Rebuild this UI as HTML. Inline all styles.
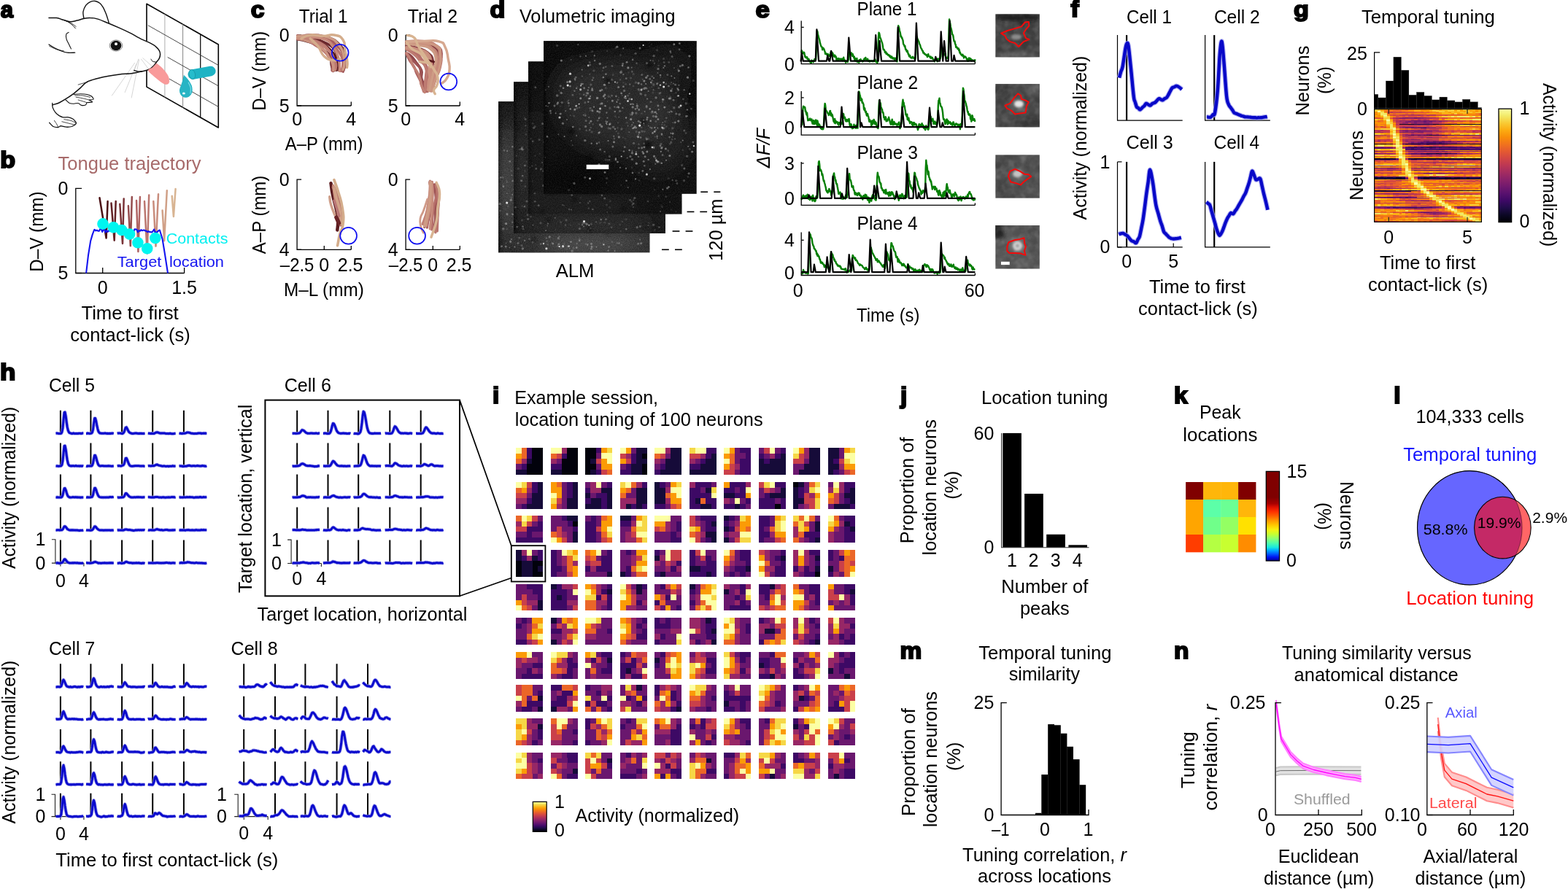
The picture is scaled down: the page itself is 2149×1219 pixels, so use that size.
<!DOCTYPE html>
<html lang="en"><head><meta charset="utf-8"><title>Figure</title>
<style>html,body{margin:0;padding:0;background:#fff}svg{display:block}text{font-family:"Liberation Sans", sans-serif}</style>
</head><body>
<svg xmlns="http://www.w3.org/2000/svg" width="2149" height="1219" viewBox="0 0 2149 1219" font-size="25">
<defs><filter id="blur8" x="-50%" y="-50%" width="200%" height="200%"><feGaussianBlur stdDeviation="13"/></filter>
<filter id="blur2" x="-50%" y="-50%" width="200%" height="200%"><feGaussianBlur stdDeviation="2.5"/></filter>
<filter id="blur05" x="-10%" y="-10%" width="120%" height="120%"><feGaussianBlur stdDeviation="0.6"/></filter>
<filter id="grain" x="0" y="0" width="100%" height="100%"><feTurbulence type="fractalNoise" baseFrequency="0.75" numOctaves="2" seed="4" result="n"/><feColorMatrix type="matrix" values="0 0 0 0 1  0 0 0 0 1  0 0 0 0 1  0.9 0.9 0 0 -0.62"/></filter>
<clipPath id="mc4"><rect x="683" y="139.2" width="207.7" height="207.4"/></clipPath>
<clipPath id="mc3"><rect x="704" y="112.2" width="208" height="207.8"/></clipPath>
<clipPath id="mc2"><rect x="724" y="84.3" width="210.7" height="209.4"/></clipPath>
<clipPath id="mc1"><rect x="745" y="56.4" width="209.7" height="209.4"/></clipPath>
<filter id="blur3" x="-50%" y="-50%" width="200%" height="200%"><feGaussianBlur stdDeviation="2.6"/></filter>
<filter id="blur15" x="-50%" y="-50%" width="200%" height="200%"><feGaussianBlur stdDeviation="1.6"/></filter>
<filter id="blotch" x="0" y="0" width="100%" height="100%"><feTurbulence type="fractalNoise" baseFrequency="0.11" numOctaves="2" seed="7"/><feColorMatrix type="matrix" values="0 0 0 0 1  0 0 0 0 1  0 0 0 0 1  1.6 0 0 0 -0.62"/></filter>
<filter id="blotchd" x="0" y="0" width="100%" height="100%"><feTurbulence type="fractalNoise" baseFrequency="0.09" numOctaves="2" seed="23"/><feColorMatrix type="matrix" values="0 0 0 0 0  0 0 0 0 0  0 0 0 0 0  0 1.6 0 0 -0.62"/></filter>
<clipPath id="ci0"><rect x="1364.2" y="19.2" width="60.7" height="59.4"/></clipPath>
<clipPath id="ci1"><rect x="1364.2" y="115.1" width="60.7" height="59.5"/></clipPath>
<clipPath id="ci2"><rect x="1364.2" y="212.2" width="60.7" height="59.6"/></clipPath>
<clipPath id="ci3"><rect x="1364.2" y="309" width="60.7" height="59.7"/></clipPath>
<linearGradient id="inferno" x1="0" y1="0" x2="0" y2="1"><stop offset="0%" stop-color="#fcffa4"/><stop offset="6.2%" stop-color="#f2ea69"/><stop offset="12.5%" stop-color="#f9cb35"/><stop offset="18.8%" stop-color="#fcac11"/><stop offset="25%" stop-color="#f98e09"/><stop offset="31.2%" stop-color="#f1731d"/><stop offset="37.5%" stop-color="#e45a31"/><stop offset="43.8%" stop-color="#d24644"/><stop offset="50%" stop-color="#bc3754"/><stop offset="56.2%" stop-color="#a32c61"/><stop offset="62.5%" stop-color="#8a226a"/><stop offset="68.8%" stop-color="#71196e"/><stop offset="75%" stop-color="#57106e"/><stop offset="81.2%" stop-color="#3d0965"/><stop offset="87.5%" stop-color="#210c4a"/><stop offset="93.8%" stop-color="#0b0724"/><stop offset="100%" stop-color="#000004"/></linearGradient>
<path id="mt1" d="M76.5 594.2l1.1 -0.1 1 0 1.1 0.3 1 0 1.1 0.1 1 -0.1 1.1 -0.1 1 -1.8 1.1 -5.5 1 -11.3 1.1 -10.1 1 -0.4 1.1 5.6 1 7.9 1 6.8 1.1 4.7 1.1 2.4 1 1 1.1 0.3 1 0.4 1 0.3 1.1 -0.2 1.1 -0.4 1 0.4 1.1 0.1 1 -0.1 1 0 1.1 0 1.1 0.1 1 -0.2 1.1 0 1 0 1.1 0.2 1 -0.2 1 -0.3 1.1 0M118 594.4l1.1 0 1 -0.4 1.1 0.2 1 0.2 1 0 1.1 -0.1 1.1 -0.3 1 -1 1.1 -4.1 1 -7.8 1.1 -7.5 1 -0.1 1.1 3.9 1 5.4 1.1 5 1 3.6 1 1.6 1.1 0.9 1.1 0.1 1 0.2 1.1 0 1 0.1 1.1 0 1 -0.2 1 -0.1 1.1 0.2 1 0.2 1.1 -0.1 1 0.1 1.1 0.1 1.1 -0.2 1 0.2 1.1 -0.2 1 -0.2 1.1 0.1 1 0.2M160.7 594.2l1.1 -0.2 1 0 1 -0.1 1.1 0.2 1 0.2 1.1 0.1 1 0 1.1 -0.6 1.1 -1.7 1 -3 1 -2.8 1.1 -0.4 1 1.8 1.1 2.3 1 1.9 1.1 1.1 1 0.6 1.1 0.4 1.1 0.4 1 0.1 1.1 -0.1 1 -0.1 1 -0.2 1.1 0 1 -0.1 1.1 0.2 1 0.2 1.1 0 1 -0.1 1.1 0.1 1 -0.2 1.1 0.3 1 -0.1 1.1 0.1 1 -0.1 1.1 -0.1M202.8 594.1l1 0.1 1.1 0.1 1 0.2 1.1 -0.1 1 -0.1 1.1 0.1 1 0 1.1 0.1 1 -0.6 1.1 -0.6 1 -0.4 1.1 -0.1 1 0.2 1.1 0.4 1 0.4 1.1 0.3 1 0 1.1 0 1.1 -0.1 1 0 1 0 1.1 0.1 1 0.3 1.1 0.2 1 -0.2 1.1 0.2 1 0 1.1 -0.1 1 -0.2 1.1 0.3 1 0.1 1.1 0 1 0 1.1 -0.1 1 -0.2 1.1 -0.1M245.5 594l1.1 0.2 1 0 1.1 0.2 1 0.1 1.1 -0.3 1 0 1 0.1 1.1 -0.2 1.1 -0.4 1 -0.5 1.1 -0.3 1 0.2 1 0.1 1.1 0.2 1 0.5 1.1 0.3 1.1 0 1 0.2 1 0.1 1.1 0.1 1.1 -0.2 1 0.1 1 0 1.1 -0.2 1.1 -0.2 1 -0.1 1.1 0 1 0 1 0.4 1.1 -0.1 1.1 -0.1 1 -0.1 1 0.1 1.1 -0.1 1 0.1 1.1 0M76.5 638.9l1.1 0.1 1 -0.1 1.1 0.4 1 0 1.1 -0.3 1 0 1.1 -0.3 1 -1.3 1.1 -5.5 1 -10.6 1.1 -9.8 1 -0.2 1.1 5.2 1 7.6 1 6.7 1.1 4.8 1.1 2.1 1 0.9 1.1 0.3 1 -0.1 1 0.1 1.1 -0.2 1.1 0.1 1 0.2 1.1 0 1 -0.5 1 0.4 1.1 0.1 1.1 0 1 -0.1 1.1 0.3 1 -0.4 1.1 0.4 1 -0.3 1 0 1.1 0.2M118 639.1l1.1 0.3 1 -0.5 1.1 0 1 0 1 0.1 1.1 -0.1 1.1 0.1 1 -0.9 1.1 -3.2 1 -5.3 1.1 -5.2 1 0 1.1 3 1 3.9 1.1 3.6 1 2.4 1 1.1 1.1 0.5 1.1 0 1 -0.1 1.1 0 1 0 1.1 0.2 1 0 1 0 1.1 0 1 0.1 1.1 -0.2 1 -0.2 1.1 0.3 1.1 -0.1 1 0.2 1.1 0.1 1 0 1.1 -0.1 1 -0.1M160.7 639l1.1 -0.2 1 -0.2 1 0.2 1.1 0.2 1 0 1.1 -0.4 1 -0.4 1.1 -0.4 1.1 -1.8 1 -3.8 1 -3.8 1.1 -0.2 1 2.1 1.1 2.9 1 2.6 1.1 2 1 1 1.1 0.3 1.1 0.1 1 0 1.1 -0.1 1 -0.1 1 -0.2 1.1 0 1 0 1.1 0 1 -0.1 1.1 0 1 0.2 1.1 0.1 1 0.1 1.1 0 1 -0.1 1.1 -0.1 1 0.3 1.1 0M202.8 638.8l1 -0.1 1.1 0 1 0.2 1.1 0 1 -0.1 1.1 0 1 0 1.1 -0.1 1 -0.5 1.1 -0.5 1 -0.5 1.1 -0.2 1 0.6 1.1 0.4 1 0.3 1.1 0.2 1 0.2 1.1 0.3 1.1 0.2 1 -0.1 1 0 1.1 0 1 0.3 1.1 0 1 -0.2 1.1 0 1 0.4 1.1 -0.3 1 0 1.1 -0.1 1 0.1 1.1 -0.5 1 0.1 1.1 0.4 1 -0.2 1.1 -0.1M245.5 639l1.1 -0.1 1 0.1 1.1 0 1 0.4 1.1 -0.1 1 0.1 1 -0.1 1.1 -0.1 1.1 0 1 -0.1 1.1 -0.5 1 -0.1 1 -0.2 1.1 0.1 1 0.3 1.1 0.2 1.1 0 1 -0.1 1 -0.1 1.1 0.1 1.1 0.3 1 -0.2 1 -0.2 1.1 -0.2 1.1 0.2 1 0.2 1.1 0.1 1 0.1 1 -0.1 1.1 -0.4 1.1 0.1 1 0.2 1 -0.1 1.1 0.5 1 -0.1 1.1 -0.3M76.5 681.8l1.1 0.1 1 -0.1 1.1 0.1 1 0.2 1.1 -0.1 1 0 1.1 -0.1 1 -0.6 1.1 -2.4 1 -4.9 1.1 -4.3 1 -0.1 1.1 2.4 1 3.4 1 3.1 1.1 2.1 1.1 0.8 1 0.5 1.1 0.2 1 0 1 -0.2 1.1 -0.3 1.1 0.1 1 0 1.1 0.2 1 -0.3 1 0.3 1.1 -0.1 1.1 0.1 1 0.1 1.1 -0.1 1 0.3 1.1 -0.2 1 0.1 1 -0.1 1.1 0M118 681.9l1.1 0.1 1 -0.2 1.1 0.1 1 0.1 1 -0.1 1.1 -0.1 1.1 -0.2 1 -0.5 1.1 -2.5 1 -4.8 1.1 -4.4 1 -0.1 1.1 2.3 1 3.4 1.1 2.9 1 2 1 1.3 1.1 0.4 1.1 0.3 1 0 1.1 0.1 1 0.1 1.1 0 1 -0.2 1 0.2 1.1 -0.1 1 -0.1 1.1 0.1 1 -0.1 1.1 0 1.1 -0.4 1 0.1 1.1 0.1 1 -0.1 1.1 0 1 -0.2M160.7 682.1l1.1 -0.1 1 0.2 1 0 1.1 -0.3 1 0.2 1.1 -0.1 1 -0.2 1.1 -0.1 1.1 -1.1 1 -2.3 1 -1.8 1.1 0.1 1 1 1.1 1.4 1 1.1 1.1 0.9 1 0.5 1.1 0.4 1.1 0 1 0.1 1.1 0 1 -0.2 1 -0.1 1.1 0.2 1 -0.2 1.1 -0.1 1 0.2 1.1 -0.2 1 0.2 1.1 -0.1 1 0 1.1 0.2 1 0.1 1.1 -0.3 1 0.1 1.1 0.1M202.8 681.6l1 0 1.1 0.1 1 0.1 1.1 0.1 1 0.1 1.1 -0.3 1 0.3 1.1 0 1 -0.4 1.1 0 1 -0.2 1.1 0.1 1 0 1.1 0.5 1 -0.1 1.1 0.1 1 0 1.1 0.2 1.1 -0.4 1 0 1 0.3 1.1 0 1 0.2 1.1 -0.2 1 -0.2 1.1 0 1 -0.1 1.1 0.1 1 0 1.1 -0.1 1 -0.2 1.1 0 1 0.2 1.1 -0.2 1 0.3 1.1 -0.2M245.5 681.9l1.1 -0.1 1 0.1 1.1 0.1 1 0 1.1 0.1 1 -0.3 1 0 1.1 0.1 1.1 -0.1 1 -0.2 1.1 0.2 1 0 1 0 1.1 -0.3 1 0.2 1.1 0.1 1.1 0 1 0.1 1 0.4 1.1 -0.1 1.1 -0.2 1 -0.2 1 0.2 1.1 -0.2 1.1 0.1 1 0 1.1 -0.4 1 0 1 0.4 1.1 0.1 1.1 -0.2 1 -0.3 1 0.2 1.1 0 1 0 1.1 -0.1M76.5 726.8l1.1 0.1 1 -0.1 1.1 0 1 0 1.1 0.3 1 -0.3 1.1 0 1 -0.1 1.1 -0.9 1 -1.9 1.1 -2 1 -0.2 1.1 0.9 1 1.3 1 1.5 1.1 0.6 1.1 0.6 1 0.3 1.1 0 1 -0.1 1 0.2 1.1 -0.2 1.1 0.2 1 -0.1 1.1 0.2 1 -0.1 1 0.1 1.1 0 1.1 0.1 1 0.2 1.1 0.1 1 -0.3 1.1 0 1 0 1 0 1.1 -0.2M118 726.8l1.1 0.2 1 0 1.1 0 1 0.1 1 0.1 1.1 0.1 1.1 -0.2 1 -0.4 1.1 -1.2 1 -1.7 1.1 -1.8 1 -0.1 1.1 1 1 1.5 1.1 0.9 1 0.9 1 0.4 1.1 0.4 1.1 0 1 -0.1 1.1 0.2 1 0 1.1 0.1 1 -0.1 1 0 1.1 0 1 -0.1 1.1 0.1 1 -0.1 1.1 0 1.1 0.1 1 0.1 1.1 -0.2 1 0.1 1.1 0 1 -0.1M160.7 726.9l1.1 -0.1 1 0.1 1 0 1.1 0 1 0 1.1 0.2 1 0 1.1 0 1.1 -0.4 1 -0.6 1 -0.2 1.1 0.2 1 0.2 1.1 0.3 1 0 1.1 -0.1 1 0.1 1.1 0.3 1.1 0.1 1 0.2 1.1 0.2 1 0 1 -0.2 1.1 -0.4 1 0.2 1.1 -0.1 1 -0.1 1.1 -0.1 1 0.2 1.1 -0.1 1 0 1.1 0.1 1 -0.1 1.1 0 1 -0.1 1.1 0.4M202.8 726.9l1 0.1 1.1 -0.1 1 -0.1 1.1 0 1 0.2 1.1 -0.2 1 0.1 1.1 0.2 1 -0.4 1.1 -0.4 1 -0.6 1.1 -0.1 1 0.4 1.1 0.3 1 0.3 1.1 0.2 1 0 1.1 -0.2 1.1 0.4 1 0.1 1 -0.2 1.1 -0.3 1 0 1.1 -0.2 1 0.1 1.1 0.3 1 0.3 1.1 -0.1 1 0.1 1.1 -0.1 1 -0.1 1.1 -0.1 1 0.2 1.1 -0.3 1 0.1 1.1 0M245.5 726.8l1.1 0.1 1 -0.1 1.1 0.2 1 -0.2 1.1 0.1 1 0 1 0 1.1 0.3 1.1 -0.3 1 -0.2 1.1 0 1 -0.1 1 0.2 1.1 0.2 1 0 1.1 0 1.1 -0.2 1 0.1 1 0.2 1.1 0 1.1 -0.1 1 -0.4 1 0.1 1.1 0.2 1.1 0 1 0.1 1.1 -0.1 1 0 1 -0.4 1.1 0.2 1.1 0 1 -0.2 1 0.2 1.1 0.1 1 0 1.1 0M76.5 772.1l1.1 0 1 -0.3 1.1 0.2 1 0.3 1.1 0.1 1 -0.4 1.1 -0.2 1 -0.2 1.1 -1 1 -1.7 1.1 -1.9 1 -0.2 1.1 1.1 1 1.4 1 1.1 1.1 0.9 1.1 0.3 1 0.4 1.1 0 1 0 1 -0.1 1.1 -0.1 1.1 0.2 1 -0.3 1.1 0 1 0.2 1 0 1.1 -0.1 1.1 0.3 1 0.1 1.1 -0.1 1 0.2 1.1 0 1 -0.1 1 0 1.1 -0.2M118 771.8l1.1 0 1 0.3 1.1 -0.2 1 0.2 1 0.1 1.1 -0.2 1.1 0 1 -0.2 1.1 -0.2 1 -0.6 1.1 -0.4 1 -0.2 1.1 0.4 1 0.4 1.1 0.4 1 0.6 1 -0.1 1.1 0 1.1 0.1 1 0 1.1 -0.2 1 0 1.1 0 1 -0.2 1 0.1 1.1 0.2 1 0 1.1 0 1 -0.2 1.1 0 1.1 -0.1 1 0.2 1.1 -0.2 1 0.1 1.1 0 1 -0.1M160.7 772.2l1.1 0 1 0 1 -0.4 1.1 0.1 1 0.3 1.1 0.2 1 -0.2 1.1 -0.1 1.1 -0.1 1 -0.8 1 -0.7 1.1 -0.2 1 0.4 1.1 0.6 1 0.2 1.1 0.2 1 0 1.1 0.1 1.1 0.2 1 0.3 1.1 -0.3 1 0.1 1 0 1.1 -0.2 1 -0.1 1.1 0.2 1 0 1.1 -0.2 1 0.2 1.1 0.3 1 0 1.1 0.2 1 -0.4 1.1 0 1 0.1 1.1 0.3M202.8 771.9l1 0 1.1 0.1 1 0 1.1 -0.1 1 0.1 1.1 0.1 1 0 1.1 -0.1 1 0 1.1 0 1 -0.2 1.1 0 1 0 1.1 0.1 1 0 1.1 0.1 1 0.1 1.1 0 1.1 -0.2 1 0 1 0.1 1.1 -0.2 1 -0.1 1.1 -0.3 1 0.2 1.1 0.2 1 0.1 1.1 -0.1 1 0.3 1.1 0.1 1 -0.3 1.1 0 1 -0.2 1.1 0.4 1 0 1.1 0M245.5 771.8l1.1 0.1 1 -0.1 1.1 -0.3 1 0.4 1.1 -0.1 1 0 1 0 1.1 -0.3 1.1 0 1 -0.4 1.1 -0.3 1 0.2 1 0.1 1.1 0.2 1 0.2 1.1 0.2 1.1 0 1 0 1 0.2 1.1 0.1 1.1 -0.1 1 -0.3 1 0 1.1 0.3 1.1 0.1 1 -0.1 1.1 0 1 0.2 1 0 1.1 0 1.1 0.2 1 0 1 -0.1 1.1 0.2 1 -0.1 1.1 -0.2"/>
<path id="mt2" d="M400.6 594.2l1 0 1.1 0.1 1 0 1.1 0 1 0.1 1 -0.2 1.1 0 1 -0.1 1.1 -0.2 1 -0.5 1.1 -1.3 1 -1.4 1 -1.1 1.1 0.3 1 0.4 1.1 1 1 0.9 1 1.1 1.1 0.4 1 0.5 1.1 0.1 1 0 1.1 -0.1 1 -0.1 1 0 1.1 -0.1 1 0.2 1.1 0 1 0.1 1 0 1.1 -0.2 1 0 1.1 0.3 1 -0.1 1.1 -0.2 1 0.1M442.9 594.2l1 0 1.1 -0.1 1 0 1.1 0.1 1 0.3 1 0.1 1.1 -0.1 1 0 1.1 -1 1 -2 1.1 -3.7 1 -4.4 1 -2.8 1.1 0.4 1 1.8 1.1 2.8 1 2.9 1 2.4 1.1 1.5 1 1 1.1 0.5 1 0.2 1.1 0.3 1 -0.2 1 0 1.1 -0.1 1 -0.1 1.1 0.3 1 -0.1 1 0 1.1 0.3 1 0 1.1 0 1 -0.2 1.1 -0.1 1 0.3M484.6 594.3l1 0.2 1.1 0 1 -0.1 1.1 0.1 1 0.3 1 0.1 1.1 -0.4 1 -0.7 1.1 -1.7 1 -4.3 1.1 -8.2 1 -9.5 1 -5.8 1.1 1 1 4 1.1 6 1 6.1 1 5.4 1.1 3.5 1 2.2 1.1 1.1 1 0.5 1.1 0.1 1 0.3 1 -0.1 1.1 0 1 -0.1 1.1 -0.2 1 0.2 1.1 0 1 0 1 0 1.1 -0.1 1 0 1.1 0.1 1 -0.1M527.7 594.1l1 -0.1 1.1 0.2 1 0.1 1.1 -0.1 1 0.3 1 -0.2 1.1 0.2 1 -0.2 1.1 -0.3 1 -1.5 1.1 -2.7 1 -3.2 1 -1.9 1.1 0.6 1 1.4 1.1 1.8 1 1.8 1 1.7 1.1 1 1 0.7 1.1 0.5 1 -0.1 1.1 0 1 0.1 1 -0.1 1.1 -0.2 1 0.1 1.1 0.2 1 -0.1 1 0.4 1.1 -0.1 1 -0.2 1.1 -0.1 1 0 1.1 0.2 1 0.1M570.1 594.4l1 -0.1 1.1 0.1 1 0 1.1 0.1 1 -0.1 1.1 0 1 0 1 -0.2 1.1 -0.4 1 -1.4 1.1 -2.1 1 -2.8 1 -1.4 1.1 0.2 1 1.3 1.1 1.5 1 1.6 1.1 1.4 1 0.9 1 0.7 1.1 0.2 1 0.3 1.1 -0.2 1 0.1 1 0.1 1.1 0.3 1 0 1.1 -0.4 1 0 1.1 0.2 1 0.1 1 0.2 1.1 -0.3 1 0.2 1.1 0 1 -0.2M400.6 639.2l1 -0.1 1.1 0.1 1 0 1.1 -0.1 1 0.1 1 -0.3 1.1 0.1 1 -0.3 1.1 -0.2 1 -0.4 1.1 -1.2 1 -0.7 1 -0.4 1.1 0 1 0.5 1.1 0.6 1 0.7 1 0.6 1.1 0.2 1 0.3 1.1 0 1 0 1.1 -0.1 1 0.1 1 0.2 1.1 0.1 1 0.2 1.1 0.1 1 0.4 1 -0.1 1.1 -0.1 1 0.1 1.1 -0.2 1 -0.6 1.1 0.1 1 0M442.9 638.9l1 0 1.1 0.1 1 0.3 1.1 -0.4 1 0.2 1 0 1.1 -0.2 1 0.2 1.1 -0.4 1 -1.1 1.1 -1.9 1 -2 1 -1.4 1.1 0.3 1 1 1.1 1.5 1 1.2 1 1.2 1.1 0.8 1 0.3 1.1 0.3 1 0.1 1.1 0 1 -0.2 1 0.1 1.1 0.1 1 0.2 1.1 -0.1 1 0 1 0.2 1.1 0 1 -0.2 1.1 0 1 -0.1 1.1 0 1 -0.1M484.6 639.2l1 0 1.1 -0.1 1 0 1.1 -0.1 1 -0.2 1 0.2 1.1 -0.2 1 -0.2 1.1 -0.7 1 -2 1.1 -3.9 1 -4.4 1 -3.2 1.1 0.4 1 1.9 1.1 2.9 1 3 1 2.5 1.1 1.8 1 1 1.1 0.8 1 0.4 1.1 -0.2 1 -0.1 1 0.1 1.1 0.1 1 0.1 1.1 0 1 -0.2 1.1 0.3 1 -0.1 1 0 1.1 -0.1 1 0 1.1 0.1 1 0.1M527.7 639l1 -0.2 1.1 -0.2 1 0 1.1 0.1 1 -0.1 1 0.1 1.1 0.2 1 0.1 1.1 0.2 1 -0.6 1.1 -0.9 1 -1.5 1 -1.2 1.1 0.3 1 0.3 1.1 0.9 1 0.8 1 0.8 1.1 0.3 1 0.4 1.1 0.2 1 0.2 1.1 0 1 -0.1 1 -0.3 1.1 0.4 1 -0.1 1.1 -0.2 1 0.1 1 0.2 1.1 0.1 1 -0.2 1.1 -0.2 1 -0.2 1.1 0.2 1 0.2M570.1 639l1 0 1.1 -0.1 1 0.1 1.1 0 1 0.1 1.1 0.1 1 -0.3 1 -0.3 1.1 -0.6 1 -0.9 1.1 -0.7 1 0.3 1 0.5 1.1 0.5 1 0.5 1.1 0.5 1 -0.1 1.1 -0.6 1 -0.8 1 -0.4 1.1 0.1 1 0.6 1.1 0.8 1 0.4 1 0.3 1.1 -0.2 1 0 1.1 -0.1 1 0 1.1 0.2 1 0.2 1 0 1.1 0 1 0.1 1.1 -0.1 1 0M400.6 682.1l1 -0.2 1.1 0 1 0.2 1.1 -0.1 1 -0.1 1 0 1.1 0 1 -0.2 1.1 -0.2 1 0.1 1.1 -0.6 1 -0.7 1 -0.4 1.1 -0.1 1 0.2 1.1 0.3 1 0.3 1 1 1.1 0.4 1 0.1 1.1 -0.4 1 0.2 1.1 -0.2 1 0 1 0.2 1.1 0 1 0 1.1 0.1 1 0.1 1 0 1.1 -0.1 1 -0.3 1.1 0.1 1 0.1 1.1 -0.4 1 0.1M442.9 682.1l1 0.1 1.1 -0.4 1 0 1.1 0.2 1 0.1 1 -0.1 1.1 0 1 -0.1 1.1 0.1 1 -0.6 1.1 -0.9 1 -0.5 1 -0.3 1.1 -0.2 1 0.6 1.1 0.6 1 0.6 1 0.3 1.1 0.1 1 0.3 1.1 0.2 1 -0.3 1.1 0.1 1 0.3 1 -0.1 1.1 -0.1 1 -0.2 1.1 -0.2 1 0.1 1 0.1 1.1 0.2 1 -0.2 1.1 -0.1 1 0 1.1 -0.1 1 0.2M484.6 682.2l1 -0.3 1.1 0 1 0.1 1.1 0 1 0 1 -0.3 1.1 0 1 -0.2 1.1 -0.1 1 -0.6 1.1 -1 1 -1.6 1 -0.9 1.1 -0.1 1 0.6 1.1 0.9 1 0.9 1 0.8 1.1 0.6 1 0.5 1.1 0.1 1 0.2 1.1 -0.2 1 0.2 1 0.1 1.1 0 1 0.1 1.1 0.1 1 0.2 1.1 -0.4 1 0.1 1 0.3 1.1 0.1 1 -0.1 1.1 0.1 1 -0.2M527.7 681.8l1 0 1.1 -0.1 1 0 1.1 0.2 1 0 1 0.1 1.1 -0.2 1 0 1.1 -0.3 1 -0.1 1.1 -0.6 1 -0.9 1 -0.2 1.1 0 1 0.5 1.1 0.4 1 0.2 1 0.5 1.1 0.4 1 0.1 1.1 -0.1 1 0.2 1.1 -0.1 1 0.1 1 -0.1 1.1 -0.2 1 0.1 1.1 0 1 0.1 1 0.1 1.1 0.2 1 -0.2 1.1 0.1 1 0 1.1 0 1 -0.2M570.1 682l1 0 1.1 0 1 -0.2 1.1 0.1 1 0 1.1 -0.1 1 0 1 -0.3 1.1 0.2 1 -0.1 1.1 -0.3 1 -0.3 1 -0.3 1.1 0 1 0.1 1.1 0 1 0.4 1.1 0.5 1 0.3 1 -0.1 1.1 0 1 0.1 1.1 0.1 1 0.1 1 0.1 1.1 -0.2 1 0 1.1 0.3 1 -0.3 1.1 -0.1 1 0 1 -0.2 1.1 0 1 0 1.1 -0.1 1 0.1M400.6 726.6l1 0 1.1 0 1 0 1.1 0.1 1 0 1 0.2 1.1 -0.1 1 -0.1 1.1 0.2 1 -0.1 1.1 0 1 -0.4 1 -0.3 1.1 0.1 1 0.2 1.1 0.1 1 0 1 0.2 1.1 0.2 1 0.2 1.1 -0.2 1 0 1.1 0.1 1 0 1 -0.1 1.1 0.1 1 0 1.1 0 1 -0.1 1 0 1.1 -0.3 1 0.1 1.1 -0.3 1 0.1 1.1 -0.1 1 -0.1M442.9 726.8l1 0.2 1.1 0 1 0.1 1.1 0.1 1 -0.2 1 0 1.1 -0.4 1 0.3 1.1 -0.2 1 -0.3 1.1 -1.2 1 -1.3 1 -0.9 1.1 0.2 1 0.9 1.1 0.8 1 0.8 1 0.6 1.1 0.3 1 0.3 1.1 -0.2 1 0 1.1 0.1 1 0.1 1 -0.1 1.1 -0.3 1 0.3 1.1 0.1 1 0.2 1 0.1 1.1 0.2 1 -0.2 1.1 -0.4 1 0 1.1 0.2 1 0.1M484.6 726.8l1 0.1 1.1 0 1 -0.1 1.1 0.1 1 -0.1 1 0.1 1.1 -0.3 1 0 1.1 -0.7 1 -0.9 1.1 -0.5 1 -0.2 1 0.3 1.1 0.5 1 0.2 1.1 0.3 1 0 1 -0.1 1.1 0.1 1 0.1 1.1 0.1 1 0.2 1.1 0.4 1 0.3 1 0.1 1.1 -0.2 1 0.2 1.1 0.2 1 0.1 1.1 0.1 1 -0.2 1 0 1.1 0.1 1 0 1.1 -0.1 1 -0.3M527.7 726.9l1 -0.1 1.1 -0.1 1 0.1 1.1 0 1 -0.3 1 -0.1 1.1 0.1 1 0.1 1.1 -0.1 1 -0.1 1.1 -0.6 1 -0.4 1 -0.2 1.1 0 1 0.2 1.1 0.3 1 0.3 1 0.2 1.1 0.1 1 0.1 1.1 0.1 1 0.3 1.1 0.1 1 0 1 -0.3 1.1 0.4 1 0 1.1 -0.2 1 -0.2 1 0 1.1 0.1 1 0.1 1.1 0.3 1 -0.2 1.1 0 1 0.3M570.1 726.9l1 0.2 1.1 -0.3 1 0 1.1 -0.1 1 0 1.1 0.3 1 -0.4 1 0 1.1 -0.1 1 -0.3 1.1 -0.5 1 -0.8 1 -0.6 1.1 0 1 0.4 1.1 0.3 1 0.7 1.1 0.4 1 0.4 1 0.2 1.1 0.1 1 0.2 1.1 -0.2 1 0 1 0.2 1.1 0.1 1 -0.3 1.1 -0.2 1 0 1.1 0.3 1 0.1 1 -0.1 1.1 0 1 0.1 1.1 -0.1 1 -0.3M400.6 772l1 0.1 1.1 0 1 -0.2 1.1 0.2 1 -0.1 1 0 1.1 0.1 1 -0.2 1.1 0.1 1 -0.1 1.1 -0.4 1 -0.1 1 -0.1 1.1 -0.2 1 -0.1 1.1 0.4 1 0.2 1 0.2 1.1 0 1 0.1 1.1 0.5 1 -0.1 1.1 0 1 0.1 1 -0.4 1.1 -0.2 1 0 1.1 0.2 1 0.1 1 0 1.1 -0.1 1 -0.3 1.1 0.1 1 0 1.1 0.2 1 0.1M442.9 772l1 -0.1 1.1 0.1 1 -0.3 1.1 0.1 1 -0.2 1 0.2 1.1 -0.1 1 0.1 1.1 0 1 -0.4 1.1 -0.3 1 -0.7 1 -0.5 1.1 0.4 1 0.2 1.1 0.3 1 0.4 1 0.5 1.1 -0.1 1 0.2 1.1 -0.1 1 0.3 1.1 0.1 1 0 1 0.1 1.1 -0.4 1 0.1 1.1 -0.1 1 0.2 1 -0.1 1.1 0.1 1 -0.1 1.1 0 1 0.1 1.1 -0.4 1 0.1M484.6 772l1 0.1 1.1 0 1 -0.1 1.1 0 1 -0.3 1 0.2 1.1 0 1 -0.4 1.1 -0.1 1 -0.5 1.1 -0.9 1 -0.9 1 -0.6 1.1 0.1 1 0.3 1.1 0.9 1 0.7 1 0.3 1.1 0.7 1 0.2 1.1 0.1 1 -0.1 1.1 0.1 1 0.1 1 0.2 1.1 -0.1 1 -0.1 1.1 -0.1 1 -0.1 1.1 0 1 0.3 1 0.3 1.1 0 1 0 1.1 -0.1 1 -0.2M527.7 772.1l1 -0.2 1.1 0.2 1 -0.2 1.1 0.3 1 -0.1 1 0 1.1 0.1 1 0.1 1.1 0.1 1 0 1.1 -0.2 1 -0.3 1 -0.2 1.1 -0.3 1 0 1.1 0.2 1 0 1 0 1.1 0 1 0.2 1.1 0.5 1 0.1 1.1 -0.3 1 -0.1 1 0.2 1.1 0 1 -0.2 1.1 0 1 0.1 1 -0.1 1.1 0.1 1 -0.1 1.1 -0.1 1 0.3 1.1 0 1 0.1M570.1 771.9l1 0 1.1 -0.1 1 -0.1 1.1 0.1 1 -0.1 1.1 -0.1 1 0.2 1 -0.1 1.1 0 1 0 1.1 -0.2 1 -0.4 1 0 1.1 0.1 1 -0.1 1.1 0.3 1 0 1.1 0.3 1 0.4 1 0 1.1 0.3 1 0.1 1.1 -0.3 1 -0.1 1 0.2 1.1 -0.4 1 -0.2 1.1 0.1 1 0.1 1.1 0.1 1 0 1 -0.2 1.1 0.2 1 0.1 1.1 0.1 1 -0.3"/>
<path id="mt3" d="M76.5 942l1.1 0 1 -0.2 1.1 0 1 -0.1 1.1 0.2 1 -0.1 1.1 -0.9 1 -2.9 1.1 -4.5 1 -1.4 1.1 1.6 1 2.5 1.1 2.5 1 1.9 1 0.8 1.1 0.2 1.1 0.4 1 0.1 1.1 -0.5 1 0.5 1 0.1 1.1 -0.1 1.1 -0.3 1 -0.3 1.1 -0.1 1 0.4 1 0.3 1.1 0.2 1.1 -0.5 1 0 1.1 0.4 1 -0.5 1.1 0 1 -0.3 1 0.2 1.1 0.3M118 942.1l1.1 -0.3 1 0.2 1.1 -0.1 1 0 1 -0.4 1.1 0 1.1 -1.6 1 -3.1 1.1 -5.2 1 -1.4 1.1 2 1 3.8 1.1 3 1 1.7 1.1 0.9 1 0.5 1 0.2 1.1 -0.3 1.1 -0.4 1 -0.1 1.1 0.6 1 -0.2 1.1 -0.3 1 0.5 1 -0.2 1.1 0 1 0 1.1 -0.4 1 0.2 1.1 0.2 1.1 -0.6 1 -0.1 1.1 -0.2 1 0.3 1.1 0.2 1 0M160.7 941.6l1.1 0.1 1 0.2 1 0.1 1.1 -0.1 1 -0.1 1.1 0.1 1 -0.8 1.1 -1.9 1.1 -2.6 1 -0.9 1 1.1 1.1 1.8 1 1.6 1.1 1 1 0.3 1.1 -0.1 1 0.2 1.1 0.4 1.1 0.1 1 -0.3 1.1 0.1 1 -0.2 1 0.2 1.1 0.1 1 0.3 1.1 0 1 -0.3 1.1 -0.1 1 0.1 1.1 -0.1 1 0.1 1.1 0 1 -0.2 1.1 0.1 1 -0.5 1.1 0.5M202.8 941.3l1 0 1.1 0 1 -0.5 1.1 0.2 1 0.3 1.1 0.2 1 -0.4 1.1 -1.4 1 -2.7 1.1 -0.7 1 1.1 1.1 1.8 1 1.5 1.1 0.8 1 0.4 1.1 0.2 1 -0.2 1.1 -0.4 1.1 0.3 1 0.1 1 0.1 1.1 -0.2 1 0.1 1.1 0 1 -0.1 1.1 0.3 1 0.1 1.1 0 1 0.2 1.1 -0.1 1 0.1 1.1 -0.1 1 -0.7 1.1 -0.3 1 0.2 1.1 -0.3M245.5 941.7l1.1 -0.2 1 0 1.1 0.3 1 -0.1 1.1 -0.2 1 0.1 1 -0.7 1.1 -1.3 1.1 -2.4 1 -0.6 1.1 0.9 1 1.4 1 1.4 1.1 0.9 1 0.3 1.1 0.4 1.1 -0.2 1 -0.4 1 0.3 1.1 0.2 1.1 -0.3 1 0.1 1 0.1 1.1 0 1.1 -0.1 1 0.6 1.1 -0.5 1 0 1 0.1 1.1 0.1 1.1 0.1 1 0 1 -0.5 1.1 -0.2 1 0 1.1 0.1M76.5 986.2l1.1 -0.2 1 0.2 1.1 0.1 1 -0.1 1.1 -0.3 1 0 1.1 -0.9 1 -3.1 1.1 -4.9 1 -1.5 1.1 2.2 1 2.8 1.1 3 1 1.5 1 0.9 1.1 0.3 1.1 -0.4 1 0.2 1.1 0 1 -0.1 1 -0.1 1.1 0 1.1 0.3 1 -0.4 1.1 0.3 1 0.1 1 -0.2 1.1 0.4 1.1 0.1 1 0 1.1 0.1 1 0 1.1 0 1 0.2 1 -0.1 1.1 -0.3M118 986.5l1.1 -0.1 1 -0.2 1.1 -0.3 1 0.1 1 -0.3 1.1 0.3 1.1 -1.1 1 -2.8 1.1 -4 1 -1.3 1.1 1.7 1 2.7 1.1 2.5 1 1.4 1.1 0.9 1 0.5 1 0.1 1.1 -0.3 1.1 0.1 1 -0.1 1.1 0 1 0 1.1 -0.2 1 0.3 1 0.2 1.1 -0.1 1 0.1 1.1 0 1 -0.3 1.1 0 1.1 -0.4 1 -0.1 1.1 0.3 1 0.1 1.1 0 1 -0.1M160.7 986.4l1.1 0.1 1 0 1 0.2 1.1 -0.1 1 -0.1 1.1 0 1 -1.4 1.1 -3.7 1.1 -5.3 1 -1.6 1 1.8 1.1 3.5 1 3.5 1.1 1.6 1 1.1 1.1 0.2 1 0.1 1.1 0.1 1.1 -0.2 1 0.1 1.1 -0.2 1 0.4 1 0 1.1 0 1 -0.2 1.1 -0.1 1 0.1 1.1 -0.1 1 0.1 1.1 -0.1 1 0.4 1.1 0 1 0 1.1 -0.1 1 0.1 1.1 -0.3M202.8 986.1l1 -0.4 1.1 0.4 1 -0.2 1.1 0.1 1 -0.1 1.1 -0.3 1 0.1 1.1 -1.7 1 -2 1.1 -0.8 1 0.7 1.1 1.5 1 1.3 1.1 0.9 1 0.1 1.1 0.4 1 0.3 1.1 0.1 1.1 0.1 1 -0.3 1 0.1 1.1 0.1 1 0 1.1 0.2 1 -0.3 1.1 0.1 1 0 1.1 -0.3 1 -0.4 1.1 0.3 1 0 1.1 0.4 1 -0.1 1.1 0.1 1 0 1.1 0M245.5 986.3l1.1 0 1 -0.1 1.1 -0.4 1 0.1 1.1 -0.2 1 0.1 1 0.2 1.1 -0.9 1.1 -1.3 1 -0.3 1.1 0.6 1 0.8 1 0.7 1.1 0.5 1 0.4 1.1 -0.3 1.1 0 1 0.1 1 0 1.1 0 1.1 0 1 -0.3 1 0.2 1.1 -0.1 1.1 0.3 1 -0.1 1.1 0 1 0.3 1 -0.2 1.1 0.1 1.1 -0.2 1 0.3 1 -0.2 1.1 -0.2 1 0.1 1.1 0.2M76.5 1031.6l1.1 0 1 0 1.1 -0.2 1 0.4 1.1 0.1 1 0.1 1.1 -1 1 -2.6 1.1 -4.2 1 -1.1 1.1 1.8 1 2.3 1.1 2 1 1.3 1 0.6 1.1 0.3 1.1 0.2 1 0 1.1 0.4 1 -0.5 1 0.1 1.1 0.1 1.1 0 1 0 1.1 0.1 1 0 1 -0.3 1.1 -0.1 1.1 0 1 -0.3 1.1 0 1 -0.1 1.1 0.3 1 0 1 0.4 1.1 0.2M118 1031.4l1.1 0.2 1 -0.2 1.1 -0.1 1 0 1 0 1.1 0 1.1 -1.6 1 -5.6 1.1 -8.1 1 -2.2 1.1 2.8 1 5.5 1.1 4.9 1 2.8 1.1 1.4 1 0.2 1 0.3 1.1 0.1 1.1 0 1 0.1 1.1 -0.6 1 0 1.1 0.5 1 -0.1 1 -0.1 1.1 -0.6 1 0.4 1.1 0 1 0.3 1.1 0 1.1 0 1 -0.2 1.1 -0.3 1 -0.1 1.1 0 1 0.2M160.7 1031.7l1.1 0.2 1 -0.3 1 0 1.1 -0.2 1 0.1 1.1 -0.1 1 -0.7 1.1 -3.2 1.1 -4.1 1 -1.2 1 1.5 1.1 2.9 1 2.1 1.1 1.3 1 0.8 1.1 0.2 1 -0.1 1.1 0.2 1.1 -0.2 1 0.2 1.1 0 1 -0.1 1 -0.2 1.1 0.2 1 0 1.1 0.1 1 0 1.1 0.2 1 0 1.1 0.5 1 0.4 1.1 -0.3 1 0.1 1.1 -0.3 1 -0.3 1.1 0.1M202.8 1032l1 0 1.1 0.2 1 -0.4 1.1 -0.1 1 -0.2 1.1 -0.1 1 -0.7 1.1 -1.9 1 -3.2 1.1 -0.6 1 1.3 1.1 1.8 1 1.6 1.1 1.4 1 0.4 1.1 0 1 -0.2 1.1 0 1.1 -0.1 1 0 1 0 1.1 0.4 1 0 1.1 -0.1 1 0.5 1.1 -0.3 1 0 1.1 0.1 1 -0.1 1.1 -0.3 1 0 1.1 -0.3 1 0.2 1.1 0 1 0.1 1.1 -0.2M245.5 1031.5l1.1 -0.1 1 -0.3 1.1 0.1 1 0.1 1.1 -0.1 1 0.2 1 -0.3 1.1 -0.9 1.1 -1.1 1 -0.7 1.1 0.2 1 0.6 1 0.8 1.1 0.6 1 0.2 1.1 0.3 1.1 -0.6 1 0.1 1 -0.2 1.1 -0.1 1.1 -0.1 1 0.7 1 -0.2 1.1 0.3 1.1 0.2 1 -0.1 1.1 0.1 1 0.3 1 0.2 1.1 -0.3 1.1 0.1 1 -0.1 1 0 1.1 0.3 1 -0.1 1.1 0.1M76.5 1075.9l1.1 -0.2 1 -0.3 1.1 0.1 1 -0.1 1.1 0.1 1 -0.4 1.1 -2.7 1 -8 1.1 -11.6 1 -3.5 1.1 4.6 1 8.1 1.1 6.8 1 4 1 1.8 1.1 0.7 1.1 0.4 1 0.1 1.1 -0.1 1 0.3 1 -0.2 1.1 0 1.1 0 1 -0.2 1.1 0.3 1 -0.2 1 -0.1 1.1 -0.1 1.1 0 1 0 1.1 0 1 0.1 1.1 0.1 1 0.3 1 -0.6 1.1 0M118 1075.2l1.1 0.1 1 -0.1 1.1 0.2 1 -0.1 1 0.5 1.1 -0.3 1.1 -1.8 1 -5.2 1.1 -7.1 1 -1.6 1.1 2.7 1 4.8 1.1 4.3 1 2.5 1.1 1.2 1 0.6 1 -0.4 1.1 0.4 1.1 0 1 0.1 1.1 0.1 1 0.1 1.1 -0.2 1 -0.2 1 -0.1 1.1 0.2 1 0 1.1 0.1 1 -0.3 1.1 -0.2 1.1 0.2 1 0.2 1.1 0.1 1 -0.3 1.1 0.2 1 0.1M160.7 1076l1.1 -0.2 1 0.1 1 -0.1 1.1 0.2 1 0 1.1 -0.1 1 -1.3 1.1 -3.5 1.1 -5.3 1 -1.2 1 1.9 1.1 2.9 1 3.3 1.1 1.6 1 0.8 1.1 0.4 1 0.3 1.1 0 1.1 -0.1 1 -0.5 1.1 0 1 0.2 1 0.4 1.1 -0.1 1 0.4 1.1 -0.2 1 -0.1 1.1 -0.1 1 -0.3 1.1 0.5 1 0 1.1 0 1 -0.2 1.1 0.1 1 -0.1 1.1 0M202.8 1075.7l1 0.1 1.1 0.1 1 -0.2 1.1 0.2 1 0.2 1.1 0 1 -1.4 1.1 -3.2 1 -5.1 1.1 -1.5 1 1.7 1.1 2.9 1 2.5 1.1 2 1 1 1.1 0.4 1 0.3 1.1 0 1.1 0 1 0.4 1 -0.3 1.1 -0.2 1 -0.1 1.1 0.1 1 0 1.1 0.1 1 0.3 1.1 -0.1 1 -0.5 1.1 0 1 0.2 1.1 -0.1 1 0 1.1 0 1 0.1 1.1 0.1M245.5 1075.5l1.1 -0.3 1 0.1 1.1 0.3 1 0.3 1.1 0.1 1 -0.1 1 -0.3 1.1 -1.2 1.1 -1.5 1 -0.4 1.1 0.9 1 0.5 1 1.1 1.1 0.6 1 0.2 1.1 0.1 1.1 0.1 1 -0.4 1 0.1 1.1 0 1.1 0 1 0.5 1 -0.2 1.1 0.1 1.1 -0.1 1 0.3 1.1 -0.5 1 -0.2 1 -0.1 1.1 -0.1 1.1 0.1 1 0 1 -0.1 1.1 0 1 -0.2 1.1 0.2M76.5 1119.6l1.1 -0.2 1 0.1 1.1 -0.1 1 0 1.1 -0.1 1 -0.1 1.1 -2.6 1 -8.2 1.1 -12.3 1 -3.4 1.1 4.7 1 7.6 1.1 6.9 1 4.5 1 2 1.1 0.4 1.1 0.5 1 0.2 1.1 0 1 0.2 1 0.2 1.1 0.2 1.1 -0.4 1 -0.1 1.1 0 1 0 1 -0.2 1.1 0.3 1.1 0 1 0 1.1 -0.1 1 0 1.1 -0.1 1 -0.3 1 0.1 1.1 -0.2M118 1119.3l1.1 -0.1 1 0.2 1.1 0.1 1 -0.6 1 0.2 1.1 -0.5 1.1 -1.9 1 -6.9 1.1 -9.6 1 -2.9 1.1 3.7 1 6.5 1.1 6.2 1 3.1 1.1 1.8 1 0.5 1 0.2 1.1 0.4 1.1 0.2 1 0.3 1.1 -0.3 1 -0.3 1.1 -0.6 1 0.3 1 0.6 1.1 -0.3 1 0.1 1.1 -0.1 1 -0.4 1.1 -0.3 1.1 0.3 1 -0.2 1.1 -0.3 1 0.4 1.1 -0.1 1 -0.2M160.7 1119l1.1 0.4 1 0 1 -0.1 1.1 0.2 1 -0.7 1.1 -0.2 1 -1.6 1.1 -4.7 1.1 -7.5 1 -2.2 1 2.7 1.1 4.9 1 4.1 1.1 3.1 1 1 1.1 0.8 1 0 1.1 -0.2 1.1 0.4 1 0.3 1.1 -0.2 1 0 1 -0.4 1.1 0 1 0.4 1.1 -0.2 1 0.3 1.1 -0.4 1 0.1 1.1 0.1 1 0 1.1 -0.1 1 -0.3 1.1 0.1 1 0 1.1 0.1M202.8 1119.3l1 0.3 1.1 -0.2 1 -0.1 1.1 0.3 1 0 1.1 -0.6 1 0 1.1 -1.5 1 -2.5 1.1 0 1 0.9 1.1 0.6 1 -0.6 1.1 -1.1 1 -0.2 1.1 0.8 1 1 1.1 1.1 1.1 0.9 1 0.4 1 0 1.1 0.3 1 0.2 1.1 0 1 0.7 1.1 -0.3 1 -0.1 1.1 -0.1 1 -0.1 1.1 -0.1 1 0.2 1.1 -0.1 1 -0.2 1.1 0.1 1 -0.1 1.1 -0.4M245.5 1119.6l1.1 0.1 1 -0.4 1.1 0.1 1 0.3 1.1 0 1 -0.3 1 -0.4 1.1 -0.8 1.1 -1.3 1 -0.2 1.1 0.3 1 1.1 1 0.4 1.1 0.8 1 0.2 1.1 -0.1 1.1 0.1 1 -0.1 1 -0.1 1.1 0.1 1.1 0.3 1 -0.1 1 0 1.1 -0.6 1.1 0.1 1 0.3 1.1 0.2 1 -0.2 1 0.2 1.1 -0.1 1.1 0 1 0 1 0.1 1.1 -0.3 1 0 1.1 -0.1"/>
<path id="mt4" d="M327.6 941.9l1.1 -0.2 1 -0.1 1.1 0.3 1 0 1.1 0.2 1 -0.5 1.1 0.2 1 0.6 1.1 0 1.1 -0.1 1 -0.4 1.1 -0.5 1 0.5 1.1 -0.2 1 0.5 1.1 -0.3 1 -0.1 1.1 0 1.1 0 1 -0.2 1.1 -0.9 1 -1.2 1.1 -0.7 1 -0.1 1.1 0.5 1 0.5 1.1 1 1.1 0.2 1 0.7 1.1 -0.4 1 0.7 1.1 -0.5 1 -1 1.1 -1.6 1 -0.5 1.1 1.4M370.4 935.1l1.1 1.5 1 1 1.1 1.4 1 0.5 1.1 0.8 1 0.2 1.1 0.3 1 0.1 1.1 0.6 1.1 -0.2 1 -0.4 1.1 0.3 1 0.2 1.1 0.1 1 0.5 1.1 -0.1 1 0 1.1 0.3 1.1 0.4 1 -0.4 1.1 0 1 -0.1 1.1 0.1 1 0 1.1 -0.1 1 0.1 1.1 -0.1 1.1 0.1 1 -0.2 1.1 -0.1 1 -1 1.1 -1.2 1 -0.8 1.1 -0.3 1 0.8 1.1 0.6M411.8 939.8l1.1 0.5 1 0.5 1.1 0.4 1 0.4 1.1 0.1 1 0.3 1.1 -0.3 1 -0.1 1.1 0.2 1.1 -0.1 1 0.4 1.1 0.3 1 -0.3 1.1 -0.1 1 0.3 1.1 0.3 1 -0.3 1.1 -0.2 1.1 0.2 1 -0.3 1.1 -0.2 1 -0.1 1.1 -0.4 1 -0.4 1.1 -0.2 1 -0.3 1.1 0.2 1.1 0 1 -0.3 1.1 0.4 1 0.1 1.1 0.5 1 0.5 1.1 0 1 0.3 1.1 0.3M455 933.8l1.1 1.6 1 1.4 1.1 1.7 1 0.3 1.1 0.8 1 1.2 1.1 0.1 1 -0.2 1.1 0.6 1.1 0 1 0.4 1.1 -0.7 1 -2.2 1.1 -2.9 1 -2.2 1.1 -0.9 1 1.3 1.1 1.3 1.1 1.6 1 1.6 1.1 2 1 1.1 1.1 0.4 1 0.1 1.1 0.2 1 -0.3 1.1 0.3 1.1 -0.6 1 0.1 1.1 -0.4 1 0 1.1 -0.4 1 -0.2 1.1 -0.7 1 -0.5 1.1 0.7M497.4 935.6l1.1 1.3 1 1 1.1 1 1 0.8 1.1 0.6 1 0.5 1.1 0.1 1 -0.1 1.1 0.5 1.1 0.3 1 -0.3 1.1 -1.1 1 -2.2 1.1 -2.8 1 -2.2 1.1 -0.8 1 0.6 1.1 1.5 1.1 1.9 1 1.9 1.1 1.4 1 1.3 1.1 0.2 1 0.5 1.1 0.2 1 0 1.1 0 1.1 -0.4 1 0.2 1.1 0.3 1 0.2 1.1 -0.1 1 0 1.1 -0.1 1 0.5 1.1 -0.1M327.6 980.7l1.1 1.1 1 1.2 1.1 1.3 1 0.2 1.1 0.7 1 0.3 1.1 0.3 1 0.4 1.1 -0.2 1.1 0 1 -0.1 1.1 0.1 1 0.1 1.1 0.3 1 0 1.1 -0.1 1 -0.4 1.1 -0.4 1.1 -0.1 1 -0.4 1.1 -0.7 1 0.3 1.1 0.1 1 0 1.1 0.4 1 0.5 1.1 0.6 1.1 0.4 1 -0.3 1.1 0 1 -0.5 1.1 -1 1 -0.8 1.1 0.4 1 0.7 1.1 0.3M370.4 981.5l1.1 1 1 1 1.1 0.5 1 0.5 1.1 0.4 1 0 1.1 -0.1 1 0.5 1.1 0.1 1.1 -0.2 1 -0.1 1.1 -0.6 1 -1.1 1.1 -0.7 1 0.6 1.1 0.6 1 1 1.1 0.5 1.1 0.6 1 0.7 1.1 -0.7 1 -1.1 1.1 -0.8 1 -0.2 1.1 0.3 1 0.6 1.1 1 1.1 0.5 1 0.4 1.1 -0.1 1 -0.9 1.1 -0.7 1 -0.3 1.1 0.1 1 0.7 1.1 0.3M411.8 986l1.1 -0.7 1 -1.6 1.1 -1 1 0.2 1.1 0.2 1 1.1 1.1 1.2 1 0.2 1.1 0.2 1.1 -0.1 1 0.1 1.1 -1.5 1 -2 1.1 -2.5 1 -2.2 1.1 -0.6 1 0.4 1.1 1.3 1.1 1.5 1 1.8 1.1 1.8 1 0.9 1.1 1 1 0.4 1.1 0 1 0.4 1.1 -0.4 1.1 -0.5 1 -0.7 1.1 -0.8 1 -0.1 1.1 0.3 1 0.3 1.1 0.3 1 0 1.1 0.5M455 986.2l1.1 0.3 1 -0.2 1.1 0 1 0.3 1.1 0 1 -0.1 1.1 -0.1 1 -0.1 1.1 0.3 1.1 0.2 1 -0.1 1.1 -0.9 1 -1.9 1.1 -3.6 1 -4.5 1.1 -4.4 1 -1 1.1 1.2 1.1 2.4 1 3 1.1 3 1 2.7 1.1 1.8 1 1.2 1.1 0.4 1 0.2 1.1 0.1 1.1 -0.4 1 0 1.1 -0.3 1 -0.6 1.1 -0.8 1 0.2 1.1 0.3 1 -0.3 1.1 0.7M497.4 986.2l1.1 0.3 1 -0.4 1.1 -0.4 1 0.4 1.1 0.2 1 -0.4 1.1 0.2 1 0 1.1 0 1.1 0.1 1 -0.4 1.1 -1.2 1 -2.3 1.1 -3.7 1 -4.2 1.1 -1.8 1 0.5 1.1 2.1 1.1 2.6 1 2.7 1.1 1.8 1 2.2 1.1 0.3 1 0.7 1.1 0.1 1 0.5 1.1 -0.1 1.1 -0.5 1 -1.3 1.1 -0.3 1 -0.2 1.1 0.9 1 0.5 1.1 0.6 1 0.4 1.1 0.1M327.6 1031.1l1.1 -0.5 1 -0.2 1.1 -0.2 1 -0.7 1.1 -0.2 1 0 1.1 0.1 1 0.2 1.1 0.2 1.1 0 1 0.8 1.1 0.3 1 0.1 1.1 -0.3 1 -0.5 1.1 0.1 1 -0.6 1.1 -0.8 1.1 0 1 0 1.1 0.2 1 0.1 1.1 0.3 1 0.5 1.1 -0.1 1 0.5 1.1 0.3 1.1 0 1 0.3 1.1 0 1 0.4 1.1 0.2 1 0.1 1.1 0 1 -0.2 1.1 -0.3M370.4 1031.1l1.1 -1 1 -1.2 1.1 -1.2 1 -0.2 1.1 0.9 1 0.9 1.1 0.9 1 0.3 1.1 0.6 1.1 -0.3 1 -0.5 1.1 -2 1 -1.9 1.1 -1.1 1 0.8 1.1 1.3 1 1.7 1.1 1.1 1.1 1 1 -0.1 1.1 0.1 1 0.4 1.1 0.2 1 -0.1 1.1 0 1 -0.4 1.1 -0.2 1.1 0.5 1 -0.1 1.1 -0.5 1 -1 1.1 -1 1 -0.6 1.1 0.5 1 0.9 1.1 0.5M411.8 1031.6l1.1 -0.4 1 -0.7 1.1 0 1 0.2 1.1 0.1 1 0.1 1.1 -0.1 1 -0.2 1.1 -0.2 1.1 -0.2 1 -2.3 1.1 -2.7 1 -4.1 1.1 -3.3 1 -1.4 1.1 1.5 1 1.6 1.1 2.8 1.1 2.3 1 2.3 1.1 1.2 1 1.5 1.1 1.1 1 -0.1 1.1 0.5 1 0 1.1 0.1 1.1 0 1 0 1.1 0.1 1 0 1.1 0.3 1 0.2 1.1 0.2 1 0.1 1.1 0.1M455 1031.3l1.1 0.4 1 0.1 1.1 -0.1 1 0 1.1 0.1 1 0 1.1 0 1 -0.2 1.1 -0.1 1.1 -1 1 -3.6 1.1 -7.6 1 -9.8 1.1 -6.3 1 0.2 1.1 4 1 6 1.1 6.4 1.1 4.9 1 3.5 1.1 1.7 1 0.7 1.1 0.4 1 0.6 1.1 -0.7 1 0.1 1.1 0.3 1.1 0 1 0.3 1.1 -0.4 1 -0.1 1.1 0.4 1 -0.5 1.1 -0.2 1 0.4 1.1 0.6M497.4 1030.9l1.1 -1.2 1 -1.4 1.1 0.2 1 0.5 1.1 0.5 1 0.7 1.1 0.5 1 0.9 1.1 -0.1 1.1 -1.3 1 -1.8 1.1 -2.8 1 -2 1.1 -0.5 1 1.9 1.1 1.7 1 1.5 1.1 1.5 1.1 1.1 1 0.4 1.1 -0.3 1 -0.9 1.1 -1.4 1 -1.4 1.1 0.5 1 0.7 1.1 1.2 1.1 1.1 1 0.4 1.1 0.4 1 0.2 1.1 -0.3 1 0.4 1.1 -0.3 1 -0.2 1.1 0M327.6 1071.7l1.1 1.1 1 0.7 1.1 0.3 1 0.9 1.1 0.3 1 -0.1 1.1 0 1 0.1 1.1 0.1 1.1 -0.4 1 -0.1 1.1 -1.2 1 -1.5 1.1 -1.5 1 -0.4 1.1 0.8 1 0.7 1.1 1.1 1.1 0.8 1 1.2 1.1 0.9 1 0.1 1.1 0.6 1 0.3 1.1 -0.5 1 0.1 1.1 -0.2 1.1 0.1 1 -0.5 1.1 0 1 0.1 1.1 0.4 1 -0.2 1.1 -0.1 1 0.2 1.1 0.2M370.4 1075.7l1.1 -0.3 1 -0.3 1.1 -1 1 -1 1.1 0.1 1 0.6 1.1 0.2 1 1.1 1.1 0.2 1.1 0 1 -0.6 1.1 -2 1 -2.6 1.1 -3 1 -1.7 1.1 0.1 1 1 1.1 1.9 1.1 1.9 1 1.5 1.1 1.8 1 1 1.1 0.5 1 0.3 1.1 0.6 1 0.1 1.1 0 1.1 -0.4 1 0.2 1.1 0.3 1 -0.2 1.1 -0.1 1 -0.2 1.1 -0.2 1 -0.3 1.1 0.6M411.8 1071.3l1.1 1.2 1 0.8 1.1 0.6 1 0.7 1.1 0 1 0.2 1.1 0.2 1 0.6 1.1 -0.1 1.1 -0.2 1 0 1.1 -0.3 1 -0.6 1.1 -1.8 1 -3.8 1.1 -5.2 1 -4.6 1.1 -2.6 1.1 0.7 1 2.3 1.1 3.4 1 3.7 1.1 3.1 1 2.4 1.1 1.8 1 1.2 1.1 0.3 1.1 0.1 1 0.3 1.1 0.3 1 -0.5 1.1 0.2 1 -1 1.1 -0.8 1 -2 1.1 -1.9M455 1075.8l1.1 -0.2 1 -0.2 1.1 -0.2 1 -0.3 1.1 -1.5 1 -1.4 1.1 0.4 1 0.9 1.1 1.4 1.1 0.7 1 -0.6 1.1 -0.7 1 -2.6 1.1 -5.8 1 -7.5 1.1 -6.6 1 -0.8 1.1 1.8 1.1 3.9 1 4.8 1.1 4.8 1 3.4 1.1 2.5 1 1.4 1.1 1 1 0.6 1.1 0.2 1.1 0.2 1 0.4 1.1 -0.7 1 0.3 1.1 -0.1 1 0.1 1.1 -0.1 1 0.1 1.1 -0.3M497.4 1076l1.1 0.2 1 -0.3 1.1 -0.2 1 0 1.1 0.1 1 -0.5 1.1 0.1 1 -0.2 1.1 0.3 1.1 -0.2 1 -0.5 1.1 -2.2 1 -3.2 1.1 -5 1 -4.6 1.1 -0.9 1 1.2 1.1 3.3 1.1 3.6 1 3.4 1.1 2.7 1 1 1.1 0 1 -0.3 1.1 -0.1 1 0.2 1.1 0.3 1.1 0.7 1 0.4 1.1 0 1 0.1 1.1 -0.4 1 -0.1 1.1 -1.1 1 -2 1.1 0.2M327.6 1118.9l1.1 0 1 0.1 1.1 0 1 0.1 1.1 0.1 1 -0.7 1.1 -0.6 1 -0.5 1.1 -0.2 1.1 0 1 0 1.1 -0.6 1 -2 1.1 -3.1 1 -2.7 1.1 -0.2 1 0.9 1.1 1.8 1.1 2.1 1 1.9 1.1 1.3 1 1.2 1.1 0.6 1 -0.1 1.1 0.3 1 -0.3 1.1 -0.2 1.1 -0.2 1 -0.1 1.1 -0.8 1 0.6 1.1 0.5 1 0.1 1.1 0.4 1 -0.1 1.1 0.2M370.4 1119.5l1.1 0.2 1 -0.4 1.1 0.1 1 -0.1 1.1 -0.5 1 -0.7 1.1 -0.3 1 -0.1 1.1 0 1.1 -0.6 1 -0.7 1.1 -1.3 1 -1.6 1.1 -1.6 1 -1 1.1 0.3 1 0.7 1.1 1.4 1.1 1.1 1 1.3 1.1 1.3 1 0.8 1.1 0.8 1 0.9 1.1 0 1 0.1 1.1 0 1.1 0 1 -0.3 1.1 0.1 1 0 1.1 0.3 1 -0.2 1.1 0.1 1 0.2 1.1 -0.3M411.8 1119.3l1.1 0 1 -0.3 1.1 0.1 1 0.2 1.1 0.2 1 -0.6 1.1 0 1 0.1 1.1 0.2 1.1 0.1 1 -0.7 1.1 -1.4 1 -3.3 1.1 -5 1 -3.6 1.1 -1 1 1.1 1.1 2.8 1.1 3 1 2.5 1.1 2.3 1 1.7 1.1 1 1 0.4 1.1 0.4 1 -0.4 1.1 -0.1 1.1 0.4 1 0 1.1 -0.3 1 -0.1 1.1 -0.2 1 0.5 1.1 0.1 1 0 1.1 0.3M455 1119.4l1.1 -0.3 1 0 1.1 0.6 1 0.1 1.1 0.4 1 -0.1 1.1 -0.3 1 -0.2 1.1 -0.4 1.1 0.1 1 0.1 1.1 -1.4 1 -2.2 1.1 -4.4 1 -4.9 1.1 -2.3 1 0.8 1.1 2.1 1.1 3.1 1 3 1.1 2.5 1 0.6 1.1 -0.5 1 -0.9 1.1 0.2 1 1 1.1 1.1 1.1 1.3 1 0.5 1.1 0.2 1 0.2 1.1 0.4 1 -0.3 1.1 -0.1 1 -0.1 1.1 0.2M497.4 1117.7l1.1 0.5 1 0.3 1.1 0.2 1 0.2 1.1 0.3 1 0 1.1 -0.1 1 -0.2 1.1 0.3 1.1 -0.2 1 -0.9 1.1 -2.6 1 -4.6 1.1 -4.4 1 -1.8 1.1 0.7 1 2.6 1.1 2.8 1.1 3.1 1 2.1 1.1 1.9 1 0.8 1.1 -0.1 1 0.1 1.1 -0.6 1 -0.7 1.1 -0.5 1.1 -0.5 1 0.4 1.1 0.7 1 0.4 1.1 0.4 1 0.4 1.1 0.4 1 0.3 1.1 0"/>
<linearGradient id="jet" x1="0" y1="0" x2="0" y2="1"><stop offset="0%" stop-color="#7f0000"/><stop offset="29%" stop-color="#7f0000"/><stop offset="36%" stop-color="#a80000"/><stop offset="40%" stop-color="#e01000"/><stop offset="45%" stop-color="#ff3000"/><stop offset="50%" stop-color="#ff6000"/><stop offset="55%" stop-color="#ff9800"/><stop offset="60%" stop-color="#ffc800"/><stop offset="65%" stop-color="#f8f010"/><stop offset="70%" stop-color="#c8ff30"/><stop offset="75%" stop-color="#90ff70"/><stop offset="80%" stop-color="#50ffa8"/><stop offset="85%" stop-color="#18e8e0"/><stop offset="88%" stop-color="#00b0ff"/><stop offset="92%" stop-color="#0060ff"/><stop offset="96%" stop-color="#0010f0"/><stop offset="100%" stop-color="#000090"/></linearGradient>
<clipPath id="venn"><ellipse cx="2014.3" cy="723.8" rx="71.8" ry="78.2"/></clipPath></defs>
<rect width="2149" height="1219" fill="#fff"/>
<text transform="translate(0.7 24.1) scale(1.0 1)" font-size="31" font-weight="bold" stroke="#000" stroke-width="2.0" stroke-linejoin="miter">a</text>
<g fill="none" stroke="#111" stroke-width="1.2" stroke-linecap="round" stroke-linejoin="round">
<path d="M201 5.2L299.3 61 299.3 175 201 119.1Z" stroke="#000" stroke-width="1.6"/>
<line x1="225.9" y1="19.3" x2="225.9" y2="133.2" stroke="#999" stroke-width="0.8"/>
<line x1="250.6" y1="33.4" x2="250.6" y2="147.3" stroke="#777" stroke-width="0.9"/>
<line x1="274.7" y1="47.1" x2="274.7" y2="161" stroke="#111" stroke-width="1.3"/>
<line x1="203.2" y1="34.9" x2="299.3" y2="89.5" stroke="#333" stroke-width="0.9"/>
<line x1="230" y1="78.6" x2="299.3" y2="117.9" stroke="#333" stroke-width="0.9"/>
<line x1="232.3" y1="108.3" x2="299.3" y2="146.4" stroke="#333" stroke-width="0.9"/>
<path d="M192.1 52.1C194.3 53.2 202 57 205.5 58.8C209 60.7 210.8 61.5 212.9 63.3C215 65 217 67.4 218.1 69.2C219.3 71.1 219.6 72.6 219.6 74.4C219.6 76.3 219 78.6 218.1 80.4C217.3 82.2 215.7 83.6 214.4 85.2C213.2 86.8 212.3 88.4 210.7 90.1C209.1 91.7 206.6 93.9 204.7 95C202.9 96.1 201.6 96.7 199.5 96.8C197.4 96.8 193.3 95.5 192.1 95.3Z" fill="#fff" stroke="none"/>
<line x1="184.6" y1="86.4" x2="153.4" y2="131" stroke="#bbb" stroke-width="0.6"/>
<line x1="186.9" y1="87.8" x2="171.2" y2="126.6" stroke="#bbb" stroke-width="0.6"/>
<line x1="190.6" y1="81.9" x2="180.2" y2="134" stroke="#bbb" stroke-width="0.6"/>
<line x1="193.6" y1="81.1" x2="204" y2="95.3" stroke="#bbb" stroke-width="0.6"/>
<line x1="195.8" y1="79.7" x2="208.5" y2="90.8" stroke="#bbb" stroke-width="0.6"/>
<line x1="189.8" y1="81.1" x2="184.6" y2="95.3" stroke="#bbb" stroke-width="0.6"/>
<path d="M67 24.6C68.7 24.6 74 24.1 77.4 24.6C80.9 25.1 84.6 26.7 87.8 27.5C91.1 28.4 93.8 29.7 96.8 29.8C99.8 29.9 102.7 28.7 105.7 28C108.7 27.3 111.7 26.2 114.7 25.6C117.6 25 120.4 24.5 123.6 24.6C126.8 24.6 129.8 24.8 134 26.1C138.2 27.3 143.9 30 148.9 32C153.9 34.1 158.8 36.2 163.8 38.4C168.8 40.6 173.7 42.9 178.7 45.4C183.6 47.9 189.1 51.4 193.6 53.6C198 55.8 202.3 57.2 205.5 58.8C208.7 60.4 210.8 61.5 212.9 63.3C215 65 217 67.4 218.1 69.2C219.3 71.1 219.6 72.6 219.6 74.4C219.6 76.3 219 78.6 218.1 80.4C217.3 82.2 215.7 83.6 214.4 85.2C213.2 86.8 212.3 88.4 210.7 90.1C209.1 91.7 207.1 93.8 204.7 95C202.4 96.2 198.9 97 196.5 97.5C194.2 98.1 192.7 98.4 190.6 98.3C188.5 98.1 185 96.8 183.9 96.5" stroke-width="1.5"/>
<path d="M207 81.1C207.3 81.6 208 83.5 209.2 84.1C210.4 84.8 213.5 85 214.4 85.2" stroke-width="1"/>
<path d="M193.6 98C191.6 98.4 186.6 99.8 181.7 100.5C176.7 101.2 169.2 101.4 163.8 102C158.3 102.6 153.9 103.3 148.9 104.2C143.9 105.1 139 106.1 134 107.5C129 108.9 123.1 110.2 119.1 112.4C115.1 114.6 113.2 118 110.2 120.6C107.2 123.2 104.7 125.4 101.3 128.1C97.8 130.7 92.8 134.1 89.3 136.2C85.9 138.4 83.3 139.9 80.4 141.2C77.6 142.4 73.6 143.3 72.2 143.7" stroke-width="1.5"/>
<path d="M107.2 116.1C108.4 115.8 112.4 114.5 114.7 113.9C116.9 113.3 119.6 112.7 120.6 112.4" stroke-width="0.8"/>
<path d="M114.9 25.3C114.8 23.8 113.5 19.4 113.9 16.4C114.4 13.4 116 9.7 117.6 7.4C119.2 5.2 121.5 3.7 123.6 2.7C125.7 1.7 128.1 1.2 130.3 1.5C132.5 1.8 135.1 3 137 4.5C138.8 6 140.1 8.1 141.5 10.4C142.8 12.8 144.1 16 145.2 18.6C146.2 21.2 147 23.9 147.7 26.1C148.4 28.2 149.1 30.8 149.3 31.7" stroke-width="1.4"/>
<path d="M83.4 26.5C84.9 27 89.7 28.2 92.3 29.5C94.9 30.8 97.2 32.7 99 34.2C100.9 35.8 102.7 38.2 103.5 39" stroke-width="1"/>
<path d="M89.3 28.3C90.6 28.8 94.3 29.9 96.8 31.3C99.3 32.6 103 35.6 104.2 36.5" stroke-width="0.8"/>
<path d="M94.1 44.4C93.6 44.8 91.3 45.4 90.8 46.9C90.3 48.4 90.5 51.2 91.1 53.6C91.7 56 93.5 58.8 94.6 61C95.6 63.3 97 66 97.5 67" stroke-width="1.1"/>
<path d="M67 61C68.2 61.8 71.7 64.1 74.4 65.5C77.2 67 80.4 68.6 83.4 69.7C86.4 70.8 89.1 71.8 92.3 72.2C95.5 72.6 101 72.2 102.7 72.2" stroke-width="1.3"/>
<path d="M67.7 63.3C69.4 64 74.1 66.6 77.4 67.7C80.8 68.9 86.1 69.6 87.8 70" stroke-width="0.8"/>
<path d="M101.3 129.5C102.7 129.4 107.2 128.8 110.2 128.8C113.2 128.8 116.6 129 119.1 129.5C121.6 130 123.6 130.7 125.1 131.8C126.6 132.9 128.5 135.4 128.1 136.2C127.6 137.1 122.3 136.4 122.1 137C121.8 137.6 127.1 139.3 126.6 140C126.1 140.6 120.6 140.1 119.1 140.7C117.6 141.3 118.9 143.1 117.6 143.7C116.4 144.3 113.4 144.8 111.7 144.4C109.9 144.1 108.9 141.8 107.2 141.5C105.5 141.1 103.2 142.2 101.3 142.2C99.3 142.2 97.2 142.3 95.3 141.5C93.4 140.6 91 137.7 90.1 137" stroke-width="1.1"/>
<path d="M104.2 133.3C105.7 133.5 110.2 134.1 113.2 134.8C116.1 135.4 120.6 136.6 122.1 137" stroke-width="0.8"/>
<path d="M102.7 131C104.5 131 109.7 130.7 113.2 131C116.6 131.4 121.8 132.9 123.6 133.3" stroke-width="0.8"/>
<path d="M107.2 137C108.4 137.4 112.7 138.6 114.7 139.2C116.6 139.8 118.4 140.5 119.1 140.7" stroke-width="0.8"/>
<path d="M71.8 141.5C71.8 142.4 71.5 145.3 72.2 147.4C72.9 149.5 74.4 152.2 75.9 154.1C77.4 156 79.4 157.5 81.1 158.6C82.9 159.7 84.3 160.4 86.4 160.8C88.5 161.2 91.6 160.4 93.8 160.8C96 161.2 98.1 162.1 99.8 163C101.4 164 102.7 165.6 103.5 166.8C104.2 167.9 105.1 168.6 104.2 169.7C103.4 170.9 100.5 172.7 98.3 173.5C96 174.2 93.3 174.3 90.8 174.2C88.3 174.1 85.2 172.7 83.4 172.7C81.5 172.8 81.4 174.4 79.7 174.5C77.9 174.6 74.9 174.5 73 173.5C71 172.4 68.6 169.1 67.7 168.3" stroke-width="1.3"/>
<path d="M87.8 163.8C89.3 164 94.2 164.5 96.8 165.3C99.4 166 102.4 167.8 103.5 168.3" stroke-width="0.8"/>
<path d="M84.9 166.8C86.4 167.1 90.8 168.3 93.8 169C96.8 169.7 101.3 170.9 102.7 171.2" stroke-width="0.8"/>
<path d="M74.4 165.3C74.9 166 76.6 168.3 77.4 169.7C78.3 171.2 79.3 173.5 79.7 174.2" stroke-width="0.8"/>
</g>
<ellipse cx="159" cy="62.5" rx="8.8" ry="7.6" fill="none" stroke="#333" stroke-width="0.6"/>
<ellipse cx="159" cy="62.5" rx="7.4" ry="6.7" fill="#111"/>
<circle cx="159" cy="60.2" r="2" fill="#fff"/>
<path d="M214.4 87.1C215.7 88.1 219.5 90.7 221.9 93.1C224.2 95.4 226.9 98.8 228.6 101.3C230.2 103.7 231.1 105.8 231.5 108C232 110.1 232.1 112.7 231.2 113.9C230.4 115.1 228.4 115.9 226.3 115.4C224.3 114.9 221.6 112.9 218.9 110.9C216.2 108.9 212.6 105.9 209.9 103.5C207.3 101.1 203.5 98.2 203.2 96.5C203 94.7 207.6 93.6 208.5 93.1Z" fill="#f99a9a" stroke="#f08a8a" stroke-width="0.5"/>
<path d="M251.9 102.7C252.9 103.7 255.8 106.2 257.6 108.7C259.4 111.2 261.9 114.7 262.8 117.6C263.7 120.6 263.9 124.1 263.3 126.6C262.6 129 260.8 131.3 259.1 132.5C257.4 133.7 255 134.1 253.1 133.7C251.3 133.3 249.1 132 247.9 130.3C246.7 128.6 245.9 125.9 246 123.6C246.1 121.2 247.6 118.5 248.4 116.1C249.1 113.8 250.1 110.6 250.4 109.4Z" fill="#27b4c4"/>
<path d="M258.3 113.2C258.8 114.4 260.9 118.1 261.3 120.6C261.7 123.1 260.9 126.8 260.9 128.1" fill="none" stroke="#7ddbe6" stroke-width="1.2" stroke-linecap="round"/>
<ellipse cx="251.9" cy="128.1" rx="2" ry="1.5" fill="#e8fbff"/>
<line x1="264.3" y1="102" x2="288.9" y2="97.5" stroke="#1eb3c4" stroke-width="13.5" stroke-linecap="round"/>
<ellipse cx="263.3" cy="102" rx="4.2" ry="6.7" fill="#25bccc" stroke="#168a98" stroke-width="0.6" transform="rotate(-12 263.3 102)"/>
<text transform="translate(0.2 230.2) scale(1.1 1)" font-size="31" font-weight="bold" stroke="#000" stroke-width="2.0" stroke-linejoin="miter">b</text>
<text transform="translate(79.5 233.1) scale(1.022 1)" fill="#a76a6a">Tongue trajectory</text>
<path d="M112 258.4H103.8V374.5H252.6" fill="none" stroke="#000" stroke-width="1.3"/>
<line x1="103.8" y1="374.5" x2="112" y2="374.5" stroke="#000" stroke-width="1.3"/>
<line x1="140.7" y1="374.5" x2="140.7" y2="367" stroke="#000" stroke-width="1.3"/>
<line x1="252.6" y1="374.5" x2="252.6" y2="367" stroke="#000" stroke-width="1.3"/>
<text x="93.5" y="267" text-anchor="end">0</text>
<text x="93.5" y="382.9" text-anchor="end">5</text>
<text transform="translate(59 372.7) rotate(-90) scale(0.968 1)">D–V (mm)</text>
<text x="140.7" y="402.6" text-anchor="middle">0</text>
<text x="252.6" y="402.6" text-anchor="middle">1.5</text>
<text transform="translate(111.4 437.6) scale(1.029 1)">Time to first</text>
<text transform="translate(96.2 468.3) scale(1.022 1)">contact-lick (s)</text>
<path d="M136.5 271.2L145.6 326.5 147.6 276.1" fill="none" stroke="#4a1014" stroke-width="2.5" stroke-linejoin="round" stroke-linecap="round"/>
<path d="M152.5 278.6L156.7 329.7 158.7 276.1" fill="none" stroke="#622226" stroke-width="2.5" stroke-linejoin="round" stroke-linecap="round"/>
<path d="M164.3 279.8L168 333.9 169.7 272.4" fill="none" stroke="#7a3438" stroke-width="2.5" stroke-linejoin="round" stroke-linecap="round"/>
<path d="M175.9 282.3L178.8 337.1 180.8 270" fill="none" stroke="#954c4e" stroke-width="2.5" stroke-linejoin="round" stroke-linecap="round"/>
<path d="M187 274.9L189.4 345 191.9 270" fill="none" stroke="#b06464" stroke-width="2.5" stroke-linejoin="round" stroke-linecap="round"/>
<path d="M198 276.1L201.7 347.4 204.2 267.5" fill="none" stroke="#bc7870" stroke-width="2.5" stroke-linejoin="round" stroke-linecap="round"/>
<path d="M210.3 276.1L213.5 337.6 217 266.3" fill="none" stroke="#c88c7c" stroke-width="2.5" stroke-linejoin="round" stroke-linecap="round"/>
<path d="M222.6 288.4L225.1 330.2 228.8 261.3" fill="none" stroke="#d0a087" stroke-width="2.5" stroke-linejoin="round" stroke-linecap="round"/>
<path d="M235.7 268.7L237.9 297 240.6 258.9" fill="none" stroke="#d8b492" stroke-width="2.5" stroke-linejoin="round" stroke-linecap="round"/>
<path d="M118.1 374.5L121 349.9 124.2 330.2 126.7 321.6 129.2 315 129.9 314.9 131.4 316.4 132.8 315.6 134.3 316.7 135.8 316.8 137.3 314.1 138.7 313.8 140.2 317.9 141.7 315 143.2 314.9 144.6 318.6 146.1 316.1 147.6 317.9 149.1 316.1 150.6 316.9 152 314.5 153.5 316.9 155 318 156.5 316.3 157.9 317.4 159.4 317 160.9 314.1 162.4 317.5 163.8 316.6 165.3 315.2 166.8 313.9 168.3 318 169.7 316.1 171.2 317.3 172.7 318.1 174.2 317.3 175.6 318.3 177.1 315.7 178.6 317.7 180.1 315.9 181.5 318.3 183 318.1 184.5 314.2 186 314.4 187.5 314.8 188.9 318.5 190.4 315.9 191.9 316.8 193.4 315.2 194.8 316.2 196.3 315.6 197.8 315.5 199.3 316.6 200.7 316.6 202.2 318.2 203.7 317.1 205.2 318.3 206.6 318 208.1 318.6 209.6 317 211.1 314.5 212.5 318 214 318.5 215.5 318.2 217 316.5 218.9 315.5 222.6 327.8 225.8 347.4 230 374.5" fill="none" stroke="#1414f0" stroke-width="2.1" stroke-linejoin="round"/>
<circle cx="141" cy="306.9" r="7.8" fill="#00f6f0"/>
<circle cx="155.5" cy="311.8" r="7.8" fill="#00f6f0"/>
<circle cx="166.8" cy="315.5" r="7.8" fill="#00f6f0"/>
<circle cx="177.6" cy="321.1" r="7.8" fill="#00f6f0"/>
<circle cx="188.9" cy="332.7" r="7.8" fill="#00f6f0"/>
<circle cx="201.7" cy="340.8" r="7.8" fill="#00f6f0"/>
<circle cx="212.8" cy="326.5" r="7.8" fill="#00f6f0"/>
<text transform="translate(227.7 333.6) scale(1.023 1)" font-size="21" fill="#00f0f0">Contacts</text>
<text transform="translate(160.7 365.8) scale(1.040 1)" font-size="21" fill="#1414f0">Target</text>
<text transform="translate(231.9 365.8) scale(1.038 1)" font-size="21" fill="#1414f0">location</text>
<text transform="translate(343.7 23.7) scale(1.08 1)" font-size="31" font-weight="bold" stroke="#000" stroke-width="2.0" stroke-linejoin="miter">c</text>
<text transform="translate(409.7 31) scale(0.976 1)">Trial 1</text>
<text transform="translate(558.8 31) scale(0.997 1)">Trial 2</text>
<path d="M407.1 48V145H481.3" fill="none" stroke="#000" stroke-width="1.3"/>
<line x1="481.3" y1="145" x2="481.3" y2="139.5" stroke="#000" stroke-width="1.3"/>
<line x1="407.1" y1="48" x2="413.1" y2="48" stroke="#000" stroke-width="1.3"/>
<line x1="407.1" y1="145" x2="413.1" y2="145" stroke="#000" stroke-width="1.3"/>
<text x="396.7" y="57" text-anchor="end">0</text>
<text x="396.7" y="154" text-anchor="end">5</text>
<text x="407.1" y="172.1" text-anchor="middle">0</text>
<text x="481.3" y="172.1" text-anchor="middle">4</text>
<path d="M556.1 48V145H630.3" fill="none" stroke="#000" stroke-width="1.3"/>
<line x1="630.3" y1="145" x2="630.3" y2="139.5" stroke="#000" stroke-width="1.3"/>
<line x1="556.1" y1="48" x2="562.1" y2="48" stroke="#000" stroke-width="1.3"/>
<line x1="556.1" y1="145" x2="562.1" y2="145" stroke="#000" stroke-width="1.3"/>
<text x="545.7" y="57" text-anchor="end">0</text>
<text x="545.7" y="154" text-anchor="end">5</text>
<text x="556.1" y="172.1" text-anchor="middle">0</text>
<text x="630.3" y="172.1" text-anchor="middle">4</text>
<text transform="translate(390.8 205.7) scale(0.953 1)">A–P (mm)</text>
<text transform="translate(364 151.8) rotate(-90) scale(0.957 1)">D–V (mm)</text>
<path d="M413.1 246.2H407.1V342.3H481.3" fill="none" stroke="#000" stroke-width="1.3"/>
<line x1="444.3" y1="342.3" x2="444.3" y2="337" stroke="#000" stroke-width="1.3"/>
<line x1="481.3" y1="342.3" x2="481.3" y2="337" stroke="#000" stroke-width="1.3"/>
<line x1="407.1" y1="342.3" x2="413.1" y2="342.3" stroke="#000" stroke-width="1.3"/>
<text x="396.7" y="254.6" text-anchor="end">0</text>
<text x="396.7" y="350.7" text-anchor="end">4</text>
<text transform="translate(383.8 372.2) scale(0.959 1)">–2.5</text>
<text x="444.3" y="372.2" text-anchor="middle">0</text>
<text transform="translate(462.7 372.2) scale(1.003 1)">2.5</text>
<path d="M562.1 246.2H556.1V342.3H630.3" fill="none" stroke="#000" stroke-width="1.3"/>
<line x1="593.3" y1="342.3" x2="593.3" y2="337" stroke="#000" stroke-width="1.3"/>
<line x1="630.3" y1="342.3" x2="630.3" y2="337" stroke="#000" stroke-width="1.3"/>
<line x1="556.1" y1="342.3" x2="562.1" y2="342.3" stroke="#000" stroke-width="1.3"/>
<text x="545.7" y="254.6" text-anchor="end">0</text>
<text x="545.7" y="350.7" text-anchor="end">4</text>
<text transform="translate(532.8 372.2) scale(0.959 1)">–2.5</text>
<text x="593.3" y="372.2" text-anchor="middle">0</text>
<text transform="translate(611.7 372.2) scale(1.003 1)">2.5</text>
<text transform="translate(388.9 406) scale(0.973 1)">M–L (mm)</text>
<text transform="translate(364 348.2) rotate(-90) scale(0.960 1)">A–P (mm)</text>
<path d="M407.6 51.9C412.1 51.9 416 50.6 424.3 52C432.6 53.4 431.4 53 438.7 57.1C445.9 61.2 445.9 61.8 451.5 67.3C457.1 72.9 456.8 72.3 459.7 78C462.5 83.6 461.9 83.7 462.2 88.6C462.5 93.5 461.2 94.3 460.8 96.4" fill="none" stroke="#4a1014" stroke-width="3.4" stroke-linejoin="round" stroke-linecap="round"/>
<path d="M407.6 53.8C410.8 54.5 412.9 54.2 419.6 56.3C426.4 58.4 426.4 58.1 433 61.5C439.5 64.9 438.9 64.8 444.1 69C449.4 73.2 449.8 72 452.5 77.4C455.2 82.8 453.2 84.5 454.2 89.2C455.2 93.9 455.8 93.5 456.3 95.1" fill="none" stroke="#55181c" stroke-width="3.4" stroke-linejoin="round" stroke-linecap="round"/>
<path d="M407.6 50.7C412.9 50.2 416.6 48.8 427.6 48.9C438.5 49 438.7 47.9 448.7 51.1C458.6 54.3 458.7 54.6 465 60.9C471.2 67.2 470.3 67.1 472.2 74.6C474.1 82.1 472.4 83.2 472 89.1C471.6 95 471 94.7 470.6 96.8" fill="none" stroke="#602024" stroke-width="3.4" stroke-linejoin="round" stroke-linecap="round"/>
<path d="M407.6 50.9C412.1 50.9 415.2 49 424.6 50.8C434.1 52.5 434.5 53.4 443 57.4C451.5 61.4 451.5 60.6 456.5 65.8C461.5 71 459.4 70.8 461.7 76.9C464 83 464.9 83.5 465.2 88.6C465.5 93.7 463.5 94 462.9 95.9" fill="none" stroke="#6b282c" stroke-width="3.4" stroke-linejoin="round" stroke-linecap="round"/>
<path d="M407.6 51.9C411.9 52.4 415.9 51.8 423.7 53.9C431.4 55.9 429.8 56 436.6 59.6C443.5 63.3 444.2 62.6 449.3 67.5C454.4 72.4 453 72.2 455.7 77.9C458.4 83.6 458.6 83.9 459.4 88.9C460.2 93.8 458.9 94.5 458.7 96.6" fill="none" stroke="#763135" stroke-width="3.4" stroke-linejoin="round" stroke-linecap="round"/>
<path d="M407.6 53.1C410.8 53.5 412.7 52.5 419.7 54.7C426.8 56.8 427.6 57.4 434 61.2C440.4 65 439.2 64.5 443.7 69C448.3 73.5 447.9 72.7 451.1 78.1C454.3 83.5 454.2 84.2 455.7 89.4C457.2 94.5 456.3 95.4 456.5 97.6" fill="none" stroke="#813a3e" stroke-width="3.4" stroke-linejoin="round" stroke-linecap="round"/>
<path d="M407.6 53.8C411.1 54 413.3 52.3 420.6 54.5C427.9 56.7 428.9 58.4 435 62.1C441 65.9 438.7 64.2 443.3 68.6C448 72.9 449.4 73.5 452.4 78.3C455.5 83.2 454.1 81.8 454.8 86.7C455.5 91.5 455 94 455.1 96.6" fill="none" stroke="#8d4548" stroke-width="3.4" stroke-linejoin="round" stroke-linecap="round"/>
<path d="M407.6 50.9C413.2 50 417.6 47.4 428.6 47.8C439.7 48.2 439.3 48.6 449.1 52.5C458.9 56.3 459.7 56 465.5 62.3C471.2 68.5 468.9 69 470.8 76C472.8 83 473 82.6 472.8 88.5C472.6 94.5 470.8 95.7 470.1 98.2" fill="none" stroke="#9a5052" stroke-width="3.4" stroke-linejoin="round" stroke-linecap="round"/>
<path d="M407.6 48.8C412.8 49.4 416.6 49.5 427.2 50.9C437.8 52.3 437.9 50.7 447.3 54C456.7 57.2 456.4 57.5 462.4 63.2C468.4 69 467.9 68.9 470 75.4C472.1 81.9 470.4 81.6 470.4 87.5C470.3 93.4 469.9 94.8 469.7 97.5" fill="none" stroke="#a65b5c" stroke-width="3.4" stroke-linejoin="round" stroke-linecap="round"/>
<path d="M407.6 53.8C411 54.1 413.5 52.5 420.4 54.9C427.3 57.3 427.1 58.7 433.4 62.7C439.7 66.7 439.1 65.2 444 69.9C449 74.6 448.9 75.4 452 80.2C455 85 454.4 83.2 455.5 87.8C456.6 92.4 455.9 94.8 456 97.4" fill="none" stroke="#b16665" stroke-width="3.4" stroke-linejoin="round" stroke-linecap="round"/>
<path d="M407.6 50.4C412.6 50.4 415.9 49.3 426.4 50.3C436.8 51.2 438.1 50.3 446.6 54.1C455.2 57.8 452.8 58 458.4 64.2C464.1 70.4 464.9 70.7 468 77.4C471 84.1 470 83.9 469.9 89.3C469.7 94.7 468.1 95.4 467.5 97.6" fill="none" stroke="#b66f6a" stroke-width="3.4" stroke-linejoin="round" stroke-linecap="round"/>
<path d="M407.6 50.7C411.6 51.3 414 51 422.5 53.2C431 55.5 432.2 55.2 439.5 59.1C446.8 62.9 445.6 62.6 450 67.7C454.3 72.7 452.9 72.8 455.8 78.1C458.6 83.5 459.6 83 460.6 87.8C461.6 92.6 459.7 94 459.4 96.2" fill="none" stroke="#bc7870" stroke-width="3.4" stroke-linejoin="round" stroke-linecap="round"/>
<path d="M407.6 52.5C411.3 52.7 413.6 51.1 421.4 53C429.1 54.9 429.2 55.7 436.7 59.7C444.1 63.8 443.9 63.4 449.3 68.3C454.6 73.1 454.5 72.6 456.7 77.8C458.9 83.1 456.9 83.3 457.5 88C458.1 92.8 458.6 93.5 459 95.5" fill="none" stroke="#c18175" stroke-width="3.4" stroke-linejoin="round" stroke-linecap="round"/>
<path d="M407.6 50.2C412.2 50.5 414.9 50.1 424.9 51.1C434.9 52.1 436.5 50.4 444.9 53.9C453.3 57.4 451.6 58 456.5 64.1C461.3 70.2 460.6 70.1 463 76.8C465.4 83.5 464.8 83.9 465.4 89.3C466 94.8 465.3 95.1 465.2 97.3" fill="none" stroke="#c78a7b" stroke-width="3.4" stroke-linejoin="round" stroke-linecap="round"/>
<path d="M407.6 52.5C411.2 53.6 414.3 54.1 421.2 56.4C428.1 58.6 427 57.2 433.5 60.9C440 64.6 441 65.4 445.6 70.2C450.2 75 448 74.2 450.8 78.9C453.6 83.6 454.6 83 456.2 87.8C457.8 92.5 456.6 94.3 456.8 96.7" fill="none" stroke="#cb9380" stroke-width="3.4" stroke-linejoin="round" stroke-linecap="round"/>
<path d="M407.6 49.6C413.3 49.4 417.7 48.4 429 48.8C440.3 49.3 440.7 47.9 450.1 51.3C459.5 54.7 458.7 55.3 464.3 61.6C469.8 67.9 468.7 67.8 470.8 74.9C472.8 82 472.1 82.8 471.9 88.3C471.6 93.8 470.4 93.7 469.9 95.7" fill="none" stroke="#ce9c85" stroke-width="3.4" stroke-linejoin="round" stroke-linecap="round"/>
<path d="M412.9 52.9C416.2 51.6 417.2 48.9 425.2 48C433.2 47 434.2 49.4 442.9 49.4C451.6 49.4 450.6 46.6 457.9 48C465.2 49.4 466.1 48.7 470.2 54.7C474.3 60.7 471.7 62.6 473.2 70.5C474.8 78.5 475.4 78.8 476 84.7C476.6 90.5 475.6 90.5 475.5 92.6" fill="none" stroke="#d4ad8c" stroke-width="3.4" stroke-linejoin="round" stroke-linecap="round"/>
<path d="M425.2 52.9C428.1 55.7 430.6 56.9 435.8 63.5C441 70.1 439 72.5 444.6 77.6C450.3 82.7 451.3 81.6 457 82.5C462.6 83.5 463.5 81.5 465.8 81.1" fill="none" stroke="#d4ad8c" stroke-width="3.4" stroke-linejoin="round" stroke-linecap="round"/>
<path d="M557 59C562.7 59.8 568.9 59.5 578.3 61.9C587.6 64.3 586.3 63.7 592.1 68.1C597.9 72.6 599 71.3 600.1 78.6C601.1 86 597.6 86.9 596.1 95.6C594.5 104.2 595.7 103.8 594.1 111.2C592.5 118.7 591.2 120.2 590.2 123.5" fill="none" stroke="#7a3438" stroke-width="3.4" stroke-linejoin="round" stroke-linecap="round"/>
<path d="M557 62.5C561.2 63.4 565.1 63.5 572.9 66C580.6 68.6 580.5 67.5 586 72.1C591.4 76.6 592 76.3 593.3 83C594.6 89.8 591.6 89.5 591 97.4C590.4 105.2 592.4 104.9 591 112.3C589.5 119.8 586.9 121.9 585.5 125.3" fill="none" stroke="#80393d" stroke-width="3.4" stroke-linejoin="round" stroke-linecap="round"/>
<path d="M557 59.6C562.5 59.9 567.6 59.6 577.5 60.6C587.4 61.6 587.5 58.6 594.1 63.4C600.7 68.2 601.2 70.1 602.4 78.6C603.5 87.1 601 86.9 598.4 95.2C595.7 103.5 595.3 102.4 592.6 109.6C589.8 116.9 589.4 119.1 588.2 122.5" fill="none" stroke="#863f42" stroke-width="3.4" stroke-linejoin="round" stroke-linecap="round"/>
<path d="M557 72.6C558.8 73.9 560.3 73.8 563.8 77.2C567.4 80.7 566.6 80.4 570.3 85.5C574 90.7 575.8 91 577.7 96.6C579.6 102.2 576.8 101.6 577.6 106.6C578.4 111.7 579.5 110.5 580.7 115.6C581.9 120.6 581.7 122.8 582 125.5" fill="none" stroke="#8d4447" stroke-width="3.4" stroke-linejoin="round" stroke-linecap="round"/>
<path d="M557 59.9C562.4 60.3 567.6 59.8 577.1 61.5C586.7 63.3 587.2 61.7 592.9 66.5C598.5 71.3 596.9 72 598.3 79.4C599.6 86.8 599.1 85.9 598 94.3C597 102.7 596.4 102.8 594.3 110.8C592.3 118.9 591.4 120.8 590.4 124.5" fill="none" stroke="#934a4c" stroke-width="3.4" stroke-linejoin="round" stroke-linecap="round"/>
<path d="M557 57.6C562.9 57.5 568.4 55.8 579.4 57.2C590.3 58.7 591 58.6 597.9 63.1C604.8 67.5 604.5 66.5 605.2 73.9C605.8 81.4 603.1 82 600.2 91.1C597.3 100.2 597.3 99.7 594.4 108.1C591.4 116.5 590.5 118.8 589.1 122.7" fill="none" stroke="#994f51" stroke-width="3.4" stroke-linejoin="round" stroke-linecap="round"/>
<path d="M557 73.5C558.9 75.6 560.2 77.3 564 81.3C567.9 85.3 568.1 84.7 571.4 88.6C574.7 92.5 574.9 90.6 576.3 95.9C577.6 101.1 575.7 103.2 576.6 108.3C577.4 113.5 578 110.7 579.5 115.1C581 119.5 581.5 122.2 582.3 124.8" fill="none" stroke="#9f5556" stroke-width="3.4" stroke-linejoin="round" stroke-linecap="round"/>
<path d="M557 64.1C560.7 64.8 563.6 63.7 570.9 66.9C578.1 70.2 578.8 70.9 584.3 76.3C589.8 81.7 589.4 81 591.3 87.1C593.2 93.2 592.5 91.8 591.4 99C590.3 106.3 588.4 107.4 587.1 114.3C585.9 121.2 586.7 122.1 586.6 124.9" fill="none" stroke="#a55a5b" stroke-width="3.4" stroke-linejoin="round" stroke-linecap="round"/>
<path d="M557 73.8C558.2 76.2 558.8 78.3 561.6 83.1C564.5 87.9 565.2 87.2 567.6 91.7C570 96.1 568.4 94.8 570.6 99.8C572.8 104.7 574.1 106 575.9 110.3C577.8 114.5 576.3 111.8 577.6 115.8C578.8 119.8 579.8 122.8 580.7 125.3" fill="none" stroke="#ab6060" stroke-width="3.4" stroke-linejoin="round" stroke-linecap="round"/>
<path d="M557 67.2C559.9 68.9 562.7 70 567.9 73.5C573.2 77 572.1 75.4 576.6 80.3C581.2 85.2 583 86 584.9 91.8C586.8 97.7 584.3 96.1 583.8 102.3C583.3 108.5 582.7 109.4 583 115.1C583.2 120.7 584.2 121.2 584.6 123.4" fill="none" stroke="#b16565" stroke-width="3.4" stroke-linejoin="round" stroke-linecap="round"/>
<path d="M557 65C561 65.7 565.1 65.4 572.1 67.8C579.2 70.2 578.2 69.3 583.4 74C588.6 78.7 589.8 78.7 591.5 85.4C593.3 92.2 591.3 92.1 590 99.3C588.8 106.5 588.1 106 586.8 112.4C585.5 118.9 585.7 120.6 585.2 123.6" fill="none" stroke="#b36a67" stroke-width="3.4" stroke-linejoin="round" stroke-linecap="round"/>
<path d="M557 67.5C560.4 68.8 564.5 68.8 570 72.3C575.4 75.8 574 75.6 577.5 80.6C581 85.5 581.1 85.4 583.1 90.9C585.2 96.3 584.8 95.2 585.3 101C585.9 106.8 585.6 106.2 585.1 112.8C584.5 119.4 583.8 122.2 583.4 125.7" fill="none" stroke="#b66e6a" stroke-width="3.4" stroke-linejoin="round" stroke-linecap="round"/>
<path d="M557 56.9C562.9 56.8 568.2 55 579.1 56.5C590 58 591.2 57.9 597.8 62.4C604.5 66.8 602.8 65.3 604.2 73.3C605.6 81.3 605.2 82.8 603.2 92.4C601.2 102 599.5 101.1 596.8 109.4C594 117.6 593.9 119.6 592.9 123.3" fill="none" stroke="#b9736d" stroke-width="3.4" stroke-linejoin="round" stroke-linecap="round"/>
<path d="M557 56.9C562.9 57.1 568.3 55.8 579.1 57.6C590 59.4 591.4 58.8 597.6 63.6C603.8 68.5 601.2 68.1 602.4 75.8C603.5 83.6 603.7 83.6 602 92.8C600.3 102 598.8 102.2 596 110.2C593.2 118.3 592.6 119.6 591.4 123.1" fill="none" stroke="#bc7770" stroke-width="3.4" stroke-linejoin="round" stroke-linecap="round"/>
<path d="M557 67.5C560.1 69.7 563.6 71.3 568.7 75.6C573.7 79.9 572 79.3 575.7 83.5C579.5 87.6 580.5 85.9 582.8 91.2C585.1 96.5 584.3 97.2 584.3 103.3C584.2 109.3 582.9 108.5 582.6 113.8C582.4 119.1 583.1 120.6 583.2 123.1" fill="none" stroke="#be7c72" stroke-width="3.4" stroke-linejoin="round" stroke-linecap="round"/>
<path d="M557 72.7C558.2 74.6 559.2 75.2 561.7 80.1C564.2 84.9 563.6 85.7 566.4 90.8C569.1 95.9 569.5 94.2 572.1 99.2C574.7 104.1 574.7 105 576.1 109.4C577.4 113.8 575.5 111.1 577.1 115.6C578.7 120.2 580.6 123.7 581.9 126.6" fill="none" stroke="#c18175" stroke-width="3.4" stroke-linejoin="round" stroke-linecap="round"/>
<path d="M557 57.5C562.8 57.4 567.7 55.4 578.7 57.1C589.7 58.8 591.6 58.6 598.2 63.8C604.7 69.1 602.8 69.1 603.3 76.9C603.8 84.7 601.9 84.6 600.2 93C598.5 101.4 599.2 100.6 596.8 108.5C594.3 116.3 592.6 118.7 591 122.5" fill="none" stroke="#c48578" stroke-width="3.4" stroke-linejoin="round" stroke-linecap="round"/>
<path d="M557 60.3C562.6 60.4 568.5 59 577.9 60.5C587.2 61.9 586.2 61.1 591.9 65.7C597.7 70.4 598 70 599.4 78C600.7 86.1 598.4 87.2 596.9 96C595.3 104.7 595.2 103 593.6 110.8C592 118.6 591.5 121.3 590.8 125.1" fill="none" stroke="#c78a7b" stroke-width="3.4" stroke-linejoin="round" stroke-linecap="round"/>
<path d="M557 64.7C561.3 65.5 565.5 65.6 573.1 67.8C580.7 69.9 580.8 67.9 585.5 72.8C590.3 77.7 589.6 78.5 590.9 86.1C592.2 93.6 591.5 94.1 590.5 101.1C589.5 108.2 587.8 106.1 587 112.5C586.2 118.9 587.3 121.7 587.3 125.1" fill="none" stroke="#c98e7d" stroke-width="3.4" stroke-linejoin="round" stroke-linecap="round"/>
<path d="M557 66C561 67.1 564.9 67.9 572 70.2C579.2 72.5 579.5 70.8 583.8 74.8C588.1 78.8 587.1 78.9 588.2 85.2C589.3 91.4 587.8 91.1 588 98.2C588.3 105.3 589.6 105.1 589.2 111.7C588.7 118.3 587.1 120 586.4 123" fill="none" stroke="#cb9380" stroke-width="3.4" stroke-linejoin="round" stroke-linecap="round"/>
<path d="M557 56.8C562.8 57.3 567.4 56.7 578.7 58.5C589.9 60.3 592.5 59.2 599.1 63.6C605.7 67.9 602.4 67.2 603.3 74.6C604.3 82.1 604.5 82 602.6 91.5C600.7 101 599.1 101.5 596.3 110.3C593.4 119.2 593 120.8 591.9 124.7" fill="none" stroke="#cd9782" stroke-width="3.4" stroke-linejoin="round" stroke-linecap="round"/>
<path d="M557 60C562.2 60.7 567.9 60.9 576.6 62.7C585.3 64.5 584.1 62 589.6 66.7C595.1 71.3 596 72.4 597.3 80.2C598.6 88 595.9 87.8 594.4 95.9C592.9 104 593.1 103.1 591.6 110.6C590.1 118.1 589.5 120.5 588.8 124" fill="none" stroke="#ce9c85" stroke-width="3.4" stroke-linejoin="round" stroke-linecap="round"/>
<path d="M587.5 82.9L594.6 84.7" fill="none" stroke="#5a1a1e" stroke-width="3" stroke-linejoin="round" stroke-linecap="round"/>
<path d="M557.5 57.3C563.6 57.1 568.7 56.6 580.4 56.4C592.2 56.3 593.6 54.4 601.6 56.8C609.6 59.1 607 58.8 610.4 65.3C613.8 71.7 612.8 73.1 614.3 81.1C615.8 89.1 616.6 88.2 616.1 95.2C615.5 102.3 615.1 102.4 612.2 107.6C609.3 112.8 607 112.8 605.1 114.6" fill="none" stroke="#d6a890" stroke-width="3.4" stroke-linejoin="round" stroke-linecap="round"/>
<path d="M558.4 48.5C561 49.4 564.1 48 568.1 52C572.1 56 569.2 56.2 573.4 63.5C577.6 70.8 578.3 70.9 584 79.4C589.6 87.8 590.3 88.2 594.6 95.2C598.8 102.3 598.7 100.2 599.8 105.8C601 111.5 600.4 111.7 599 116.4C597.5 121.1 595.3 120.2 594.6 123.5C593.8 126.7 595.8 127.3 596.3 128.7" fill="none" stroke="#d8b492" stroke-width="3.4" stroke-linejoin="round" stroke-linecap="round"/>
<path d="M575.1 84.7C578 85.1 581.7 84.5 585.7 86.4C589.7 88.3 589 90.3 590.1 91.7" fill="none" stroke="#d8b492" stroke-width="3.4" stroke-linejoin="round" stroke-linecap="round"/>
<path d="M557.5 58.2C559.4 60.6 559.4 62.8 564.6 67C569.7 71.3 571.7 69.4 576.9 74.1C582.1 78.8 582.1 81.8 584 84.7" fill="none" stroke="#d8b492" stroke-width="3.4" stroke-linejoin="round" stroke-linecap="round"/>
<path d="M453.5 251.2C454.2 255.6 454 257.8 456.1 267.9C458.2 278 459.5 279.7 461.4 289.1C463.3 298.5 462.9 296.1 463.2 303.2C463.4 310.2 462.5 312.2 462.3 315.5" fill="none" stroke="#5a1a1e" stroke-width="4.5" stroke-linejoin="round" stroke-linecap="round"/>
<path d="M457.9 256.9C458.3 260.5 458 261.7 459.4 270.6C460.8 279.5 462 280.8 463.3 290.2C464.7 299.5 464.2 301.4 464.5 305.5" fill="none" stroke="#853e41" stroke-width="3.4" stroke-linejoin="round" stroke-linecap="round"/>
<path d="M459.6 260.6C460.2 262.8 459.6 261.4 461.7 268.7C463.7 276 465.9 277.5 467.4 288C468.9 298.5 467.3 302.6 467.2 307.9" fill="none" stroke="#954c4e" stroke-width="3.4" stroke-linejoin="round" stroke-linecap="round"/>
<path d="M459 260.2C459.9 262.7 460.3 261.9 462.4 269.5C464.4 277.1 465.6 278.2 466.6 288.6C467.6 299.1 466.3 303.3 466.2 308.7" fill="none" stroke="#a55a5b" stroke-width="3.4" stroke-linejoin="round" stroke-linecap="round"/>
<path d="M459.3 259.5C459.8 262.1 459.8 261.4 461.3 269C462.8 276.6 463.2 277.4 464.9 288.1C466.6 298.7 466.9 303.3 467.7 308.8" fill="none" stroke="#b26866" stroke-width="3.4" stroke-linejoin="round" stroke-linecap="round"/>
<path d="M459.2 260.6C460.1 263.2 460.3 262.4 462.3 270.4C464.3 278.3 465 280.1 466.8 290.3C468.5 300.5 468.3 303.7 468.9 308.6" fill="none" stroke="#ba746e" stroke-width="3.4" stroke-linejoin="round" stroke-linecap="round"/>
<path d="M456.3 256.5C457.3 259.7 458.2 260.2 460.1 268.8C462 277.5 462.1 278.8 463.4 288.9C464.7 298.9 464.7 301.9 465.1 306.6" fill="none" stroke="#c18075" stroke-width="3.4" stroke-linejoin="round" stroke-linecap="round"/>
<path d="M456.7 254.2C457.2 258.3 457.2 260.4 458.7 269.5C460.2 278.6 460.5 278.6 462.3 288.3C464.1 298 464.6 301.2 465.4 305.9" fill="none" stroke="#c88c7c" stroke-width="3.4" stroke-linejoin="round" stroke-linecap="round"/>
<path d="M457.8 256.3C458.6 259.6 459.1 260 460.7 268.9C462.4 277.7 462.8 279.4 464.1 289.3C465.4 299.2 465.1 301.5 465.5 306" fill="none" stroke="#cd9883" stroke-width="3.4" stroke-linejoin="round" stroke-linecap="round"/>
<path d="M457.9 259C458.6 261.5 458.1 260.6 460.3 268.7C462.5 276.8 464.2 279.1 466.1 289.3C468 299.6 467 302.4 467.3 307.2" fill="none" stroke="#d2a489" stroke-width="3.4" stroke-linejoin="round" stroke-linecap="round"/>
<path d="M460.9 297.9L464.4 305.8" fill="none" stroke="#6a2428" stroke-width="5.5" stroke-linejoin="round" stroke-linecap="round"/>
<path d="M457.9 246.7C459.5 251.4 461 254 464 264.4C467.1 274.7 467.7 274.3 469.3 285.5C471 296.8 471.2 297.3 470.2 306.7C469.3 316.1 467.8 312.8 465.8 320.8C463.8 328.8 463.5 332.5 462.6 336.7" fill="none" stroke="#d4ad8c" stroke-width="3.6" stroke-linejoin="round" stroke-linecap="round"/>
<path d="M451.7 269.7C452.2 272.5 451.6 273.7 453.5 280.3C455.3 286.8 457.3 290.6 458.7 294.4" fill="none" stroke="#cf9f8a" stroke-width="3.4" stroke-linejoin="round" stroke-linecap="round"/>
<path d="M457.9 275C458.8 277.8 459.5 279.9 461.4 285.5C463.3 291.2 464 293.3 464.9 296.1" fill="none" stroke="#b87676" stroke-width="3.4" stroke-linejoin="round" stroke-linecap="round"/>
<path d="M591 249.5C591.3 253.6 593.6 254.3 592.2 264.9C590.8 275.5 588.5 276.9 585.7 289.2C582.9 301.6 582.7 305.4 581.7 311.3" fill="none" stroke="#853e41" stroke-width="3.4" stroke-linejoin="round" stroke-linecap="round"/>
<path d="M589.2 249.2C589.8 254.1 591.2 256.9 591.3 267.7C591.4 278.5 591.5 278.5 589.7 289.7C587.9 300.8 585.9 304.3 584.6 309.6" fill="none" stroke="#8d4547" stroke-width="3.4" stroke-linejoin="round" stroke-linecap="round"/>
<path d="M596.4 253.3C597.1 257.1 598.9 258.3 598.9 267.4C599 276.5 597.1 274.7 596.8 287.5C596.5 300.4 597.6 308.1 597.9 315.5" fill="none" stroke="#954c4e" stroke-width="3.4" stroke-linejoin="round" stroke-linecap="round"/>
<path d="M595.3 253C595.7 256.4 596.3 256 596.9 265.9C597.6 275.9 598.4 277.2 597.8 290.3C597.1 303.3 595.4 308.3 594.6 314.8" fill="none" stroke="#9d5354" stroke-width="3.4" stroke-linejoin="round" stroke-linecap="round"/>
<path d="M588.9 250.8C589.9 254.4 593.2 253.8 592.5 264.5C591.8 275.1 589.2 278.9 586.3 290.7C583.5 302.5 583.1 304 581.9 308.9" fill="none" stroke="#a45a5b" stroke-width="3.4" stroke-linejoin="round" stroke-linecap="round"/>
<path d="M592.2 249.5C592.4 253.6 593.8 254.6 593 264.8C592.1 275 591 275.3 589 287.9C586.9 300.5 586.3 305.7 585.3 312.1" fill="none" stroke="#ac6161" stroke-width="3.4" stroke-linejoin="round" stroke-linecap="round"/>
<path d="M598.1 256.4C598.5 259.4 598.9 258.6 599.4 267.7C600 276.9 601.1 277.7 600.2 290.8C599.2 304 597.1 310 596 317" fill="none" stroke="#b26766" stroke-width="3.4" stroke-linejoin="round" stroke-linecap="round"/>
<path d="M597.4 252.6C597.7 256.2 599.4 256.7 598.4 266.1C597.5 275.4 595.6 274.6 593.9 287.6C592.1 300.6 592.5 307.6 591.9 314.9" fill="none" stroke="#b56d69" stroke-width="3.4" stroke-linejoin="round" stroke-linecap="round"/>
<path d="M599.6 256.4C600.2 258.9 601.7 256.9 601.9 265.8C602.1 274.6 601 276 600.3 289.6C599.6 303.3 599.5 309.6 599.2 316.9" fill="none" stroke="#b9736d" stroke-width="3.4" stroke-linejoin="round" stroke-linecap="round"/>
<path d="M597.3 254.6C598.1 257.9 599.8 258 600.5 267C601.3 276 601 274.6 600 288.4C599 302.2 597.7 310.6 596.9 318.7" fill="none" stroke="#bc7970" stroke-width="3.4" stroke-linejoin="round" stroke-linecap="round"/>
<path d="M589.4 248.2C589.3 252.8 590.1 254.9 589.1 265.5C588.1 276.1 588.1 276.7 585.5 287.9C582.9 299.1 580.9 302.2 579.2 307.4" fill="none" stroke="#c07f74" stroke-width="3.4" stroke-linejoin="round" stroke-linecap="round"/>
<path d="M589.5 251.2C589.3 255.1 589.8 256.1 588.8 266C587.7 275.9 587.5 277.1 585.7 288.4C583.8 299.7 582.7 303.1 581.7 308.5" fill="none" stroke="#c48578" stroke-width="3.4" stroke-linejoin="round" stroke-linecap="round"/>
<path d="M591.9 249.9C592.2 254.7 592.9 256.8 592.9 267.7C592.8 278.5 592.8 278.5 591.8 290.8C590.9 303.1 589.9 307.7 589.3 313.8" fill="none" stroke="#c78a7b" stroke-width="3.4" stroke-linejoin="round" stroke-linecap="round"/>
<path d="M588.9 251.8C589.8 255.8 593 256.7 592.4 266.9C591.7 277.1 588.7 278.8 586.5 290.1C584.4 301.4 584.9 304.3 584.3 309.4" fill="none" stroke="#ca907e" stroke-width="3.4" stroke-linejoin="round" stroke-linecap="round"/>
<path d="M591.7 250.4C591.3 254.2 591 254.5 590.1 264.7C589.2 274.8 590.1 276.6 588.4 288.6C586.7 300.5 585 303.9 583.7 309.4" fill="none" stroke="#cc9682" stroke-width="3.4" stroke-linejoin="round" stroke-linecap="round"/>
<path d="M589.7 249.5C589.8 253.6 590.8 254.7 590 264.9C589.2 275.1 589 275.6 586.8 287.7C584.5 299.8 583 304.3 581.6 310.3" fill="none" stroke="#ce9c85" stroke-width="3.4" stroke-linejoin="round" stroke-linecap="round"/>
<path d="M585.7 273.2C584.3 277.4 583 282 580.4 289.1C577.9 296.1 577 293.8 576 299.7C575.1 305.5 575.7 305.9 576.9 311.1C578.1 316.3 579.5 316.9 580.4 319.1" fill="none" stroke="#cf9a88" stroke-width="2.8" stroke-linejoin="round" stroke-linecap="round"/>
<path d="M598.1 250.3C599.3 254 602 255 602.5 264.4C603 273.8 601 275.2 599.8 285.5C598.7 295.9 600.4 292.6 598.1 303.2C595.7 313.8 592.9 319.4 591 325.2" fill="none" stroke="#d8b492" stroke-width="3.4" stroke-linejoin="round" stroke-linecap="round"/>
<circle cx="466.2" cy="72.3" r="11.4" fill="none" stroke="#1010f0" stroke-width="1.7"/>
<circle cx="614.8" cy="112" r="11.4" fill="none" stroke="#1010f0" stroke-width="1.7"/>
<circle cx="477.6" cy="323.3" r="11.4" fill="none" stroke="#1010f0" stroke-width="1.7"/>
<circle cx="571.6" cy="323.3" r="11.4" fill="none" stroke="#1010f0" stroke-width="1.7"/>
<text transform="translate(671.5 23.7) scale(1.1 1)" font-size="31" font-weight="bold" stroke="#000" stroke-width="2.0" stroke-linejoin="miter">d</text>
<text transform="translate(711.9 31.4) scale(1.012 1)">Volumetric imaging</text>
<g clip-path="url(#mc4)">
<rect x="683" y="139.2" width="207.7" height="207.4" fill="#262626"/>
<g filter="url(#blur2)" fill="#000" opacity="0.75"><rect x="680" y="139.2" width="7" height="207.4"/><rect x="683" y="136.2" width="207.7" height="6"/></g>
<g filter="url(#blur8)">
<ellipse cx="807.6" cy="334.2" rx="72.7" ry="10.4" fill="#5a5a5a" opacity="0.8"/>
<ellipse cx="693.4" cy="253.3" rx="12.5" ry="62.2" fill="#484848" opacity="0.7"/>
<ellipse cx="693.4" cy="149.6" rx="24.9" ry="20.7" fill="#000" opacity="0.7"/>
<ellipse cx="724.5" cy="338.3" rx="31.2" ry="10.4" fill="#1c1c1c" opacity="0.5"/>
</g>
<g filter="url(#blur2)">
<circle cx="731.8" cy="329" r="3" fill="#000" opacity="0.7"/>
<circle cx="832.5" cy="320.7" r="2.5" fill="#000" opacity="0.5"/>
</g>
<rect x="683" y="139.2" width="207.7" height="207.4" filter="url(#grain)" opacity="0.2"/>
<g fill="#fff" filter="url(#blur05)"><circle cx="709.7" cy="242.7" r="1.5" opacity="0.16"/><circle cx="690" cy="190.4" r="0.9" opacity="0.14"/><circle cx="702.3" cy="304.6" r="1.2" opacity="0.26"/><circle cx="686.2" cy="243.4" r="1.2" opacity="0.26"/><circle cx="685.5" cy="288.7" r="1.3" opacity="0.16"/><circle cx="689.9" cy="255.7" r="1.4" opacity="0.30"/><circle cx="693.3" cy="306.6" r="1.6" opacity="0.19"/><circle cx="698.3" cy="339.3" r="0.9" opacity="0.27"/><circle cx="717.2" cy="192" r="1" opacity="0.73"/><circle cx="696.4" cy="283" r="1.4" opacity="0.12"/><circle cx="708.6" cy="268.3" r="1.1" opacity="0.12"/><circle cx="691" cy="206.3" r="1.3" opacity="0.23"/><circle cx="687.5" cy="337.8" r="1.5" opacity="0.31"/><circle cx="698.8" cy="221.2" r="1.3" opacity="0.28"/><circle cx="711.6" cy="279.8" r="1.1" opacity="0.22"/><circle cx="702.5" cy="293.8" r="1.4" opacity="0.30"/><circle cx="689.7" cy="313.8" r="1.7" opacity="0.26"/><circle cx="706.1" cy="268.1" r="1.1" opacity="0.14"/><circle cx="694.9" cy="279.4" r="1.1" opacity="0.16"/><circle cx="694.4" cy="247.2" r="1.1" opacity="0.11"/><circle cx="694.7" cy="314.2" r="1.1" opacity="0.15"/><circle cx="708.9" cy="301.1" r="1.4" opacity="0.20"/><circle cx="702.6" cy="247.9" r="1.2" opacity="0.15"/><circle cx="695.1" cy="207.1" r="1.1" opacity="0.32"/><circle cx="701.3" cy="240.3" r="0.9" opacity="0.24"/><circle cx="700.9" cy="270.7" r="1.6" opacity="0.11"/><circle cx="700.8" cy="328" r="1.1" opacity="0.27"/><circle cx="702.3" cy="267" r="1" opacity="0.30"/><circle cx="694.8" cy="249.6" r="1" opacity="0.18"/><circle cx="685.2" cy="279.5" r="1.7" opacity="0.27"/><circle cx="688.9" cy="243.2" r="1.4" opacity="0.14"/><circle cx="705.4" cy="338.6" r="1.1" opacity="0.32"/><circle cx="695" cy="293.7" r="1.6" opacity="0.31"/><circle cx="689.2" cy="253.1" r="1.1" opacity="0.11"/><circle cx="702.5" cy="311" r="0.9" opacity="0.17"/><circle cx="694.7" cy="278" r="1.6" opacity="0.85"/><circle cx="703.8" cy="260.1" r="0.9" opacity="0.20"/><circle cx="693.7" cy="306.7" r="1.5" opacity="0.26"/><circle cx="702.9" cy="248.2" r="1.7" opacity="0.13"/><circle cx="700.7" cy="234.2" r="0.9" opacity="0.21"/><circle cx="700.3" cy="274.2" r="1.6" opacity="0.30"/><circle cx="702.3" cy="201.1" r="1.3" opacity="0.26"/><circle cx="694.8" cy="265.2" r="0.9" opacity="0.23"/><circle cx="699.6" cy="331.2" r="1.5" opacity="0.34"/><circle cx="766.6" cy="338.1" r="1.1" opacity="0.91"/><circle cx="768.8" cy="339.9" r="1.5" opacity="0.10"/><circle cx="771.5" cy="337.1" r="1.2" opacity="0.70"/><circle cx="833.6" cy="343.7" r="1.1" opacity="0.31"/><circle cx="827.4" cy="335.3" r="1.1" opacity="0.66"/><circle cx="730.1" cy="332.1" r="1.5" opacity="0.16"/><circle cx="851.8" cy="335.7" r="1.1" opacity="0.15"/><circle cx="749.7" cy="330.7" r="1.3" opacity="0.12"/><circle cx="782.5" cy="331.7" r="1.3" opacity="0.33"/><circle cx="693.2" cy="338.1" r="1.5" opacity="0.31"/><circle cx="757.8" cy="334.1" r="1.3" opacity="0.33"/><circle cx="786" cy="340.2" r="1.6" opacity="0.12"/><circle cx="719.2" cy="329.9" r="1.2" opacity="0.29"/><circle cx="778.5" cy="337.8" r="1.5" opacity="0.26"/><circle cx="790.5" cy="334.1" r="1.1" opacity="0.18"/><circle cx="780.7" cy="340.5" r="1" opacity="0.17"/><circle cx="766.4" cy="324.6" r="1" opacity="0.24"/><circle cx="771.7" cy="338.2" r="1.4" opacity="0.63"/><circle cx="776.6" cy="341.8" r="1" opacity="0.12"/><circle cx="874.7" cy="334" r="1.1" opacity="0.34"/><circle cx="817.5" cy="338.7" r="0.9" opacity="0.33"/><circle cx="874.4" cy="335.3" r="1" opacity="0.19"/><circle cx="811.1" cy="338.4" r="1.5" opacity="0.32"/><circle cx="805.3" cy="335.7" r="1.1" opacity="0.32"/><circle cx="810.4" cy="334.4" r="1.4" opacity="0.29"/><circle cx="693.7" cy="333.3" r="0.9" opacity="0.24"/><circle cx="741.2" cy="334.4" r="1" opacity="0.32"/><circle cx="753.2" cy="324.8" r="1.6" opacity="0.29"/><circle cx="748.8" cy="326.5" r="1.1" opacity="0.30"/><circle cx="748.9" cy="340.8" r="1.6" opacity="0.77"/><circle cx="848.5" cy="333.4" r="1.2" opacity="0.27"/><circle cx="711.7" cy="326.2" r="1.2" opacity="0.22"/><circle cx="794.2" cy="330.1" r="1.2" opacity="0.31"/><circle cx="750.8" cy="335.3" r="1.2" opacity="0.12"/><circle cx="834.7" cy="338.6" r="1.4" opacity="0.24"/><circle cx="745" cy="334" r="1.2" opacity="0.66"/><circle cx="764.3" cy="337.4" r="1.2" opacity="0.14"/><circle cx="838.8" cy="331.6" r="1.5" opacity="0.10"/><circle cx="784.1" cy="344.2" r="1.6" opacity="0.24"/><circle cx="710.1" cy="333.5" r="1.4" opacity="0.24"/><circle cx="877.1" cy="328.7" r="1.1" opacity="0.21"/><circle cx="715" cy="336.7" r="1.6" opacity="0.18"/><circle cx="773.4" cy="334.6" r="1.1" opacity="0.15"/><circle cx="725.6" cy="327.7" r="1.4" opacity="0.18"/><circle cx="879" cy="333.6" r="1.4" opacity="0.21"/><circle cx="765.3" cy="326.7" r="1.7" opacity="0.22"/><circle cx="716.4" cy="340.9" r="1.6" opacity="0.29"/><circle cx="803.1" cy="334.7" r="1.4" opacity="0.14"/><circle cx="765.8" cy="334.8" r="1.5" opacity="0.27"/><circle cx="794.4" cy="328.4" r="1.4" opacity="0.16"/><circle cx="790.2" cy="339.6" r="1.4" opacity="0.33"/><circle cx="842.5" cy="343.9" r="1.1" opacity="0.26"/><circle cx="810.4" cy="341.3" r="1.3" opacity="0.27"/><circle cx="878.1" cy="333.8" r="1.6" opacity="0.15"/><circle cx="779.7" cy="337.6" r="1.1" opacity="0.81"/><circle cx="845.8" cy="333.3" r="1.2" opacity="0.17"/><circle cx="756.5" cy="333" r="0.9" opacity="0.12"/></g>
</g>
<g clip-path="url(#mc3)">
<rect x="704" y="112.2" width="208" height="207.8" fill="#161616"/>
<g filter="url(#blur2)" fill="#000" opacity="0.75"><rect x="701" y="112.2" width="7" height="207.8"/><rect x="704" y="109.2" width="208" height="6"/></g>
<g filter="url(#blur8)">
<ellipse cx="808" cy="309.6" rx="83.2" ry="8.3" fill="#3a3a3a" opacity="0.7"/>
<ellipse cx="716.5" cy="236.9" rx="12.5" ry="62.3" fill="#2c2c2c" opacity="0.6"/>
<ellipse cx="714.4" cy="122.6" rx="20.8" ry="20.8" fill="#000" opacity="0.6"/>
<ellipse cx="901.6" cy="309.6" rx="16.6" ry="12.5" fill="#000" opacity="0.5"/>
</g>
<g filter="url(#blur2)">
<circle cx="751.8" cy="302.3" r="3" fill="#000" opacity="0.7"/>
<circle cx="808" cy="314.8" r="3" fill="#000" opacity="0.7"/>
<circle cx="710.2" cy="174.5" r="3" fill="#000" opacity="0.5"/>
</g>
<rect x="704" y="112.2" width="208" height="207.8" filter="url(#grain)" opacity="0.16"/>
<g fill="#fff" filter="url(#blur05)"><circle cx="727.7" cy="230.9" r="1.5" opacity="0.24"/><circle cx="728.5" cy="263.5" r="1" opacity="0.16"/><circle cx="721.5" cy="221.8" r="1" opacity="0.13"/><circle cx="724.4" cy="241.5" r="1" opacity="0.11"/><circle cx="722" cy="275.9" r="1.5" opacity="0.24"/><circle cx="721" cy="184.1" r="1.6" opacity="0.13"/><circle cx="711.6" cy="205" r="1.1" opacity="0.14"/><circle cx="735.9" cy="229.5" r="1.6" opacity="0.20"/><circle cx="715.8" cy="282.5" r="1" opacity="0.17"/><circle cx="733.7" cy="291.7" r="1" opacity="0.26"/><circle cx="726.7" cy="262.6" r="1.7" opacity="0.30"/><circle cx="720.3" cy="172.2" r="1.1" opacity="0.20"/><circle cx="706.5" cy="284.3" r="1.3" opacity="0.24"/><circle cx="716.2" cy="241.1" r="1.4" opacity="0.27"/><circle cx="707.9" cy="213.7" r="1.1" opacity="0.16"/><circle cx="713.6" cy="204.6" r="1.3" opacity="0.15"/><circle cx="715.2" cy="203.8" r="1.4" opacity="0.27"/><circle cx="725.7" cy="232.5" r="1.6" opacity="0.12"/><circle cx="719.4" cy="227.1" r="1.4" opacity="0.27"/><circle cx="715.4" cy="202" r="1.2" opacity="0.22"/><circle cx="735.5" cy="252" r="1.4" opacity="0.12"/><circle cx="715.5" cy="301.9" r="1.5" opacity="0.15"/><circle cx="710.2" cy="231.3" r="1.4" opacity="0.15"/><circle cx="714.6" cy="247.7" r="1.5" opacity="0.28"/><circle cx="719.6" cy="234.6" r="1.3" opacity="0.08"/><circle cx="719" cy="283.1" r="1.4" opacity="0.27"/><circle cx="749.5" cy="248.3" r="1.5" opacity="0.20"/><circle cx="736.9" cy="268.2" r="1.3" opacity="0.27"/><circle cx="718.7" cy="161.7" r="1.1" opacity="0.13"/><circle cx="720.2" cy="163.4" r="1.5" opacity="0.21"/><circle cx="722.8" cy="294.7" r="1.4" opacity="0.19"/><circle cx="738.3" cy="223.9" r="1" opacity="0.14"/><circle cx="716" cy="205.3" r="1.6" opacity="0.18"/><circle cx="724.9" cy="247.7" r="0.9" opacity="0.25"/><circle cx="729.4" cy="220.3" r="1.2" opacity="0.16"/><circle cx="719.8" cy="255.7" r="1.4" opacity="0.15"/><circle cx="716.9" cy="204.7" r="1.3" opacity="0.15"/><circle cx="793.7" cy="307.2" r="1.2" opacity="0.10"/><circle cx="716.6" cy="310.6" r="1.3" opacity="0.26"/><circle cx="797.9" cy="308.4" r="1" opacity="0.25"/><circle cx="895.6" cy="308.3" r="1.6" opacity="0.24"/><circle cx="727.5" cy="297.3" r="1.2" opacity="0.14"/><circle cx="797.9" cy="308.1" r="0.9" opacity="0.18"/><circle cx="800" cy="310.6" r="1.1" opacity="0.27"/><circle cx="828.6" cy="305.1" r="1.4" opacity="0.12"/><circle cx="849.6" cy="308.4" r="1.1" opacity="0.13"/><circle cx="776" cy="301.9" r="1.6" opacity="0.18"/><circle cx="816.9" cy="304.4" r="1.1" opacity="0.20"/><circle cx="830.5" cy="300.8" r="1.5" opacity="0.21"/><circle cx="801.3" cy="292" r="1.4" opacity="0.24"/><circle cx="858.2" cy="314.2" r="1.4" opacity="0.24"/><circle cx="782.1" cy="308.9" r="0.9" opacity="0.11"/><circle cx="809.5" cy="313.1" r="1.2" opacity="0.15"/><circle cx="807.3" cy="308.7" r="1.1" opacity="0.30"/><circle cx="834.1" cy="306.4" r="1.1" opacity="0.10"/><circle cx="761.2" cy="314.9" r="1" opacity="0.09"/><circle cx="889.2" cy="305.6" r="1.4" opacity="0.09"/><circle cx="748.1" cy="316.1" r="1.2" opacity="0.26"/><circle cx="807.2" cy="309" r="1" opacity="0.26"/><circle cx="794.3" cy="313.5" r="1.7" opacity="0.21"/><circle cx="888.4" cy="309" r="1.1" opacity="0.19"/><circle cx="751" cy="306.6" r="1.2" opacity="0.24"/><circle cx="858" cy="300.6" r="1.7" opacity="0.11"/><circle cx="799" cy="305.8" r="1.6" opacity="0.19"/><circle cx="822.7" cy="305.3" r="1.6" opacity="0.09"/><circle cx="723.5" cy="300.3" r="1.6" opacity="0.24"/><circle cx="717" cy="313.9" r="1.5" opacity="0.17"/><circle cx="800.7" cy="306" r="1.4" opacity="0.19"/><circle cx="903.4" cy="311.4" r="1.2" opacity="0.24"/><circle cx="877.3" cy="310.5" r="1.4" opacity="0.25"/><circle cx="835.3" cy="307.1" r="1" opacity="0.17"/><circle cx="810.2" cy="307.3" r="1.4" opacity="0.16"/><circle cx="838.2" cy="311.8" r="1.4" opacity="0.15"/><circle cx="750.2" cy="309.4" r="1" opacity="0.20"/><circle cx="760.7" cy="298.8" r="1" opacity="0.29"/><circle cx="850.8" cy="316.8" r="0.9" opacity="0.17"/><circle cx="873.1" cy="311.7" r="1.6" opacity="0.25"/><circle cx="823.7" cy="301.1" r="1.4" opacity="0.29"/><circle cx="730.3" cy="308.6" r="0.9" opacity="0.27"/><circle cx="708.6" cy="311.1" r="1.3" opacity="0.27"/><circle cx="897.4" cy="315.3" r="1.1" opacity="0.21"/><circle cx="804.1" cy="307.3" r="1.6" opacity="0.29"/><circle cx="806" cy="316.6" r="1.3" opacity="0.09"/><circle cx="768.6" cy="304.7" r="1.6" opacity="0.12"/><circle cx="852.8" cy="304.1" r="1" opacity="0.18"/><circle cx="775" cy="308.6" r="1.3" opacity="0.17"/><circle cx="741" cy="305.8" r="1.6" opacity="0.18"/><circle cx="802.7" cy="305.9" r="1.3" opacity="0.12"/></g>
</g>
<circle cx="800.5" cy="303.5" r="1.5" fill="#fff" opacity="0.9"/>
<g clip-path="url(#mc2)">
<rect x="724" y="84.3" width="210.7" height="209.4" fill="#0e0e0e"/>
<g filter="url(#blur2)" fill="#000" opacity="0.75"><rect x="721" y="84.3" width="7" height="209.4"/><rect x="724" y="81.3" width="210.7" height="6"/></g>
<g filter="url(#blur8)">
<ellipse cx="787.2" cy="281.1" rx="84.3" ry="10.5" fill="#2c2c2c" opacity="0.6"/>
<ellipse cx="734.5" cy="209.9" rx="10.5" ry="62.8" fill="#222" opacity="0.6"/>
<ellipse cx="913.6" cy="283.2" rx="21.1" ry="12.6" fill="#000" opacity="0.5"/>
<ellipse cx="734.5" cy="105.2" rx="16.9" ry="20.9" fill="#000" opacity="0.6"/>
</g>
<g filter="url(#blur2)">
<circle cx="743" cy="289.5" r="3" fill="#000" opacity="0.6"/>
<circle cx="787.2" cy="272.8" r="3" fill="#000" opacity="0.8"/>
<circle cx="854.6" cy="286.4" r="3" fill="#000" opacity="0.6"/>
</g>
<rect x="724" y="84.3" width="210.7" height="209.4" filter="url(#grain)" opacity="0.13"/>
<g fill="#fff" filter="url(#blur05)"><circle cx="749.6" cy="256.4" r="1" opacity="0.20"/><circle cx="729.9" cy="248.5" r="1.4" opacity="0.07"/><circle cx="731.5" cy="175.3" r="1.6" opacity="0.20"/><circle cx="741.7" cy="231.6" r="1.5" opacity="0.19"/><circle cx="729.3" cy="227.6" r="1.1" opacity="0.16"/><circle cx="730.1" cy="169.2" r="1.4" opacity="0.11"/><circle cx="732.9" cy="265.3" r="1.3" opacity="0.20"/><circle cx="744.4" cy="234.7" r="1.4" opacity="0.18"/><circle cx="730.2" cy="193.8" r="1.4" opacity="0.23"/><circle cx="733.2" cy="173.7" r="1.7" opacity="0.14"/><circle cx="751.7" cy="163.2" r="1.2" opacity="0.20"/><circle cx="753.5" cy="180.2" r="1.3" opacity="0.25"/><circle cx="746.9" cy="201.1" r="1" opacity="0.22"/><circle cx="734.8" cy="231.3" r="1.4" opacity="0.24"/><circle cx="726.2" cy="229.8" r="1.1" opacity="0.14"/><circle cx="733.3" cy="213.8" r="1" opacity="0.13"/><circle cx="745.3" cy="226.2" r="1.2" opacity="0.12"/><circle cx="734.1" cy="226" r="1.1" opacity="0.12"/><circle cx="744.4" cy="254.6" r="1.5" opacity="0.22"/><circle cx="749.2" cy="159.8" r="1.1" opacity="0.08"/><circle cx="743.5" cy="169.6" r="1.6" opacity="0.24"/><circle cx="739.6" cy="210.9" r="1.1" opacity="0.10"/><circle cx="733.8" cy="119.7" r="1.5" opacity="0.24"/><circle cx="738.1" cy="281.8" r="1.5" opacity="0.22"/><circle cx="748.1" cy="245.7" r="1.4" opacity="0.15"/><circle cx="750.1" cy="199.4" r="1" opacity="0.23"/><circle cx="740.9" cy="232.8" r="0.9" opacity="0.17"/><circle cx="757.1" cy="238.7" r="1.5" opacity="0.78"/><circle cx="727.5" cy="190.3" r="1.3" opacity="0.11"/><circle cx="752.6" cy="164.8" r="1.7" opacity="0.17"/><circle cx="739.1" cy="191.4" r="1.5" opacity="0.18"/><circle cx="743.1" cy="222.7" r="1" opacity="0.25"/><circle cx="745.1" cy="195" r="1.2" opacity="0.15"/><circle cx="748.5" cy="203" r="1.3" opacity="0.10"/><circle cx="808.3" cy="276.1" r="1.3" opacity="0.19"/><circle cx="920.2" cy="287.5" r="1.7" opacity="0.06"/><circle cx="906.8" cy="282.5" r="1.7" opacity="0.07"/><circle cx="865.6" cy="276.4" r="1.3" opacity="0.15"/><circle cx="894.7" cy="262.5" r="1.1" opacity="0.12"/><circle cx="824.9" cy="267.9" r="1.4" opacity="0.23"/><circle cx="794.9" cy="278.1" r="1" opacity="0.22"/><circle cx="867.9" cy="279.1" r="1.5" opacity="0.24"/><circle cx="868" cy="284" r="1.1" opacity="0.19"/><circle cx="869.8" cy="271.6" r="1.7" opacity="0.24"/><circle cx="918.1" cy="276.9" r="1.1" opacity="0.17"/><circle cx="907.6" cy="283.9" r="1.2" opacity="0.11"/><circle cx="773" cy="282.1" r="1" opacity="0.14"/><circle cx="926.6" cy="290.3" r="1" opacity="0.15"/><circle cx="912.8" cy="269.4" r="1.5" opacity="0.12"/><circle cx="863.5" cy="274.3" r="1.4" opacity="0.20"/><circle cx="835.4" cy="284.4" r="1.3" opacity="0.11"/><circle cx="831.6" cy="280.9" r="1.3" opacity="0.13"/><circle cx="902.7" cy="268.8" r="1.5" opacity="0.13"/><circle cx="771.1" cy="281" r="1.1" opacity="0.18"/><circle cx="832.4" cy="291.1" r="1" opacity="0.13"/><circle cx="905" cy="289.9" r="1.2" opacity="0.21"/><circle cx="811.7" cy="260" r="1" opacity="0.13"/><circle cx="783" cy="287.5" r="1" opacity="0.22"/><circle cx="888" cy="275.9" r="1" opacity="0.25"/><circle cx="828.7" cy="271.9" r="1.5" opacity="0.24"/><circle cx="868" cy="274.4" r="1" opacity="0.18"/><circle cx="733.2" cy="276.2" r="1.3" opacity="0.23"/><circle cx="866.7" cy="280.8" r="1.1" opacity="0.19"/><circle cx="812.3" cy="287" r="1.3" opacity="0.23"/><circle cx="806.7" cy="285.7" r="1.2" opacity="0.16"/><circle cx="836.4" cy="275.8" r="1.5" opacity="0.10"/><circle cx="806.2" cy="278.4" r="1.1" opacity="0.22"/><circle cx="783.8" cy="267.6" r="1.4" opacity="0.22"/><circle cx="795.9" cy="271.1" r="1.2" opacity="0.08"/><circle cx="780.1" cy="287.1" r="1.3" opacity="0.20"/></g>
</g>
<g clip-path="url(#mc1)">
<rect x="745" y="56.4" width="209.7" height="209.4" fill="#0a0a0a"/>
<g filter="url(#blur2)" fill="#000" opacity="0.75"><rect x="742" y="56.4" width="7" height="209.4"/><rect x="745" y="53.4" width="209.7" height="6"/></g>
<g filter="url(#blur8)">
<ellipse cx="845.7" cy="144.3" rx="79.7" ry="62.8" fill="#303030" opacity="0.62"/>
<ellipse cx="902.3" cy="186.2" rx="46.1" ry="52.4" fill="#2e2e2e" opacity="0.5"/>
<ellipse cx="797.4" cy="123.4" rx="37.7" ry="37.7" fill="#2a2a2a" opacity="0.45"/>
<ellipse cx="912.8" cy="98.3" rx="31.5" ry="31.4" fill="#242424" opacity="0.4"/>
<ellipse cx="786.9" cy="244.9" rx="52.4" ry="25.1" fill="#000" opacity="0.8"/>
<ellipse cx="751.3" cy="77.3" rx="16.8" ry="41.9" fill="#000" opacity="0.6"/>
<ellipse cx="948.4" cy="119.2" rx="10.5" ry="62.8" fill="#000" opacity="0.6"/>
<ellipse cx="849.9" cy="60.6" rx="104.8" ry="8.4" fill="#000" opacity="0.6"/>
</g>
<g filter="url(#blur2)">
<circle cx="833.1" cy="110.8" r="4" fill="#000" opacity="0.8"/>
<circle cx="889.7" cy="88.9" r="4" fill="#000" opacity="0.7"/>
<circle cx="782.7" cy="179.9" r="4.5" fill="#000" opacity="0.8"/>
<circle cx="887.6" cy="198.8" r="5" fill="#000" opacity="0.85"/>
<circle cx="881.3" cy="167.4" r="5" fill="#000" opacity="0.6"/>
<circle cx="807.9" cy="215.5" r="4" fill="#000" opacity="0.8"/>
<circle cx="862.4" cy="244.9" r="3" fill="#000" opacity="0.7"/>
<circle cx="791.1" cy="76.3" r="3" fill="#000" opacity="0.6"/>
<circle cx="847.8" cy="66.9" r="2.5" fill="#000" opacity="0.6"/>
<circle cx="946.3" cy="154.8" r="5" fill="#000" opacity="0.6"/>
</g>
<rect x="745" y="56.4" width="209.7" height="209.4" filter="url(#grain)" opacity="0.13"/>
<g fill="#fff" filter="url(#blur05)"><circle cx="818.5" cy="134.5" r="1.7" opacity="0.40"/><circle cx="830.3" cy="120.7" r="1.1" opacity="0.19"/><circle cx="882.1" cy="164.7" r="1" opacity="0.35"/><circle cx="802.2" cy="158.5" r="1.4" opacity="0.23"/><circle cx="807.8" cy="168.8" r="1" opacity="0.36"/><circle cx="792.3" cy="61.2" r="1.2" opacity="0.22"/><circle cx="782.9" cy="192.8" r="0.9" opacity="0.25"/><circle cx="843.4" cy="159.4" r="1.5" opacity="0.10"/><circle cx="858.1" cy="161.6" r="1" opacity="0.12"/><circle cx="814.8" cy="76.2" r="1.2" opacity="0.31"/><circle cx="808.5" cy="244.7" r="1.5" opacity="0.63"/><circle cx="899.1" cy="159.9" r="1.7" opacity="0.38"/><circle cx="912.4" cy="204" r="1.5" opacity="0.36"/><circle cx="871.6" cy="175" r="1.5" opacity="0.34"/><circle cx="937.5" cy="247.5" r="1.6" opacity="0.21"/><circle cx="770.3" cy="127.6" r="1.2" opacity="0.12"/><circle cx="860.6" cy="131.1" r="1.6" opacity="0.18"/><circle cx="888.7" cy="125" r="1" opacity="0.31"/><circle cx="926.8" cy="156" r="1.6" opacity="0.25"/><circle cx="863.3" cy="115.7" r="1.1" opacity="0.31"/><circle cx="801.9" cy="140.6" r="1.6" opacity="0.19"/><circle cx="893.3" cy="119.2" r="0.9" opacity="0.17"/><circle cx="866.3" cy="171.1" r="1.2" opacity="0.22"/><circle cx="808.2" cy="85.6" r="1.4" opacity="0.22"/><circle cx="822.8" cy="142.5" r="1.3" opacity="0.20"/><circle cx="846" cy="113.5" r="1.2" opacity="0.25"/><circle cx="866.7" cy="154.7" r="1.7" opacity="0.34"/><circle cx="828.3" cy="116.2" r="1.5" opacity="0.40"/><circle cx="866.5" cy="142.4" r="1.2" opacity="0.24"/><circle cx="827.3" cy="131.9" r="1.5" opacity="0.37"/><circle cx="834.6" cy="113.7" r="1.4" opacity="0.32"/><circle cx="864.6" cy="107" r="1.5" opacity="0.15"/><circle cx="812.7" cy="170.3" r="1.1" opacity="0.17"/><circle cx="882.5" cy="171.4" r="1.1" opacity="0.15"/><circle cx="781.1" cy="111.9" r="1.6" opacity="0.67"/><circle cx="763.9" cy="142.4" r="1.6" opacity="0.26"/><circle cx="787" cy="251.4" r="1.6" opacity="0.28"/><circle cx="868" cy="168.2" r="0.9" opacity="0.30"/><circle cx="923.8" cy="147.8" r="1.7" opacity="0.23"/><circle cx="891.7" cy="165.8" r="1.3" opacity="0.42"/><circle cx="858" cy="230.8" r="1.2" opacity="0.28"/><circle cx="923.8" cy="60.8" r="1.5" opacity="0.40"/><circle cx="895.4" cy="159.3" r="1.6" opacity="0.25"/><circle cx="868.9" cy="175.1" r="1.3" opacity="0.40"/><circle cx="854.3" cy="66.3" r="1.1" opacity="0.35"/><circle cx="835.8" cy="148.5" r="1.6" opacity="0.14"/><circle cx="808.8" cy="89.1" r="1.4" opacity="0.22"/><circle cx="919.8" cy="124.4" r="1.7" opacity="0.37"/><circle cx="838.6" cy="131.2" r="1.4" opacity="0.22"/><circle cx="867.8" cy="155.3" r="0.9" opacity="0.14"/><circle cx="882.2" cy="221.2" r="1.5" opacity="0.33"/><circle cx="936.4" cy="135.9" r="1.4" opacity="0.19"/><circle cx="853.1" cy="90.1" r="1.3" opacity="0.39"/><circle cx="860.5" cy="138.6" r="1.3" opacity="0.84"/><circle cx="832.7" cy="219.3" r="1.4" opacity="0.14"/><circle cx="851.2" cy="177.8" r="1.3" opacity="0.12"/><circle cx="851.6" cy="127.9" r="1.3" opacity="0.38"/><circle cx="890.3" cy="63.6" r="1" opacity="0.12"/><circle cx="921.1" cy="77.4" r="1.5" opacity="0.26"/><circle cx="844" cy="65.5" r="1.6" opacity="0.12"/><circle cx="842.3" cy="146.6" r="1.1" opacity="0.33"/><circle cx="808.4" cy="134.8" r="1.4" opacity="0.38"/><circle cx="766.2" cy="124.3" r="1" opacity="0.14"/><circle cx="862.6" cy="128.2" r="1" opacity="0.26"/><circle cx="870.2" cy="173.4" r="1.2" opacity="0.35"/><circle cx="857.2" cy="132" r="1.1" opacity="0.71"/><circle cx="872.1" cy="180.6" r="1.6" opacity="0.15"/><circle cx="884.5" cy="130.4" r="1.6" opacity="0.20"/><circle cx="805.6" cy="127.9" r="1.6" opacity="0.32"/><circle cx="809.1" cy="132" r="1.1" opacity="0.40"/><circle cx="916.3" cy="244.4" r="1.5" opacity="0.10"/><circle cx="878.9" cy="123.4" r="1.3" opacity="0.40"/><circle cx="894.5" cy="182.4" r="1.4" opacity="0.38"/><circle cx="883.6" cy="152.9" r="1" opacity="0.29"/><circle cx="916.4" cy="118.1" r="1.4" opacity="0.32"/><circle cx="935.4" cy="89.4" r="1.6" opacity="0.35"/><circle cx="898.9" cy="166.4" r="1.5" opacity="0.16"/><circle cx="902.4" cy="90" r="1.3" opacity="0.15"/><circle cx="879.7" cy="202.7" r="1.5" opacity="0.30"/><circle cx="884.6" cy="120.2" r="1.2" opacity="0.24"/><circle cx="925.3" cy="167.9" r="1.3" opacity="0.36"/><circle cx="940.1" cy="182.5" r="1.3" opacity="0.20"/><circle cx="871.1" cy="245.4" r="1.1" opacity="0.41"/><circle cx="829" cy="236.4" r="1.4" opacity="0.38"/><circle cx="845.2" cy="139.5" r="1" opacity="0.23"/><circle cx="835.4" cy="214.5" r="1.5" opacity="0.23"/><circle cx="857.6" cy="115.4" r="1.7" opacity="0.11"/><circle cx="868" cy="117.9" r="1.2" opacity="0.15"/><circle cx="865.8" cy="136.1" r="1.3" opacity="0.68"/><circle cx="830.3" cy="91.7" r="1.1" opacity="0.29"/><circle cx="836.3" cy="169.7" r="1.6" opacity="0.22"/><circle cx="820.9" cy="195.4" r="1.4" opacity="0.18"/><circle cx="852.8" cy="131.1" r="1.1" opacity="0.11"/><circle cx="900.8" cy="189.5" r="1" opacity="0.27"/><circle cx="908.7" cy="136.5" r="1.6" opacity="0.38"/><circle cx="899.9" cy="220.7" r="1.4" opacity="0.30"/><circle cx="831.6" cy="244.4" r="1.5" opacity="0.16"/><circle cx="847.9" cy="133.7" r="0.9" opacity="0.15"/><circle cx="877.3" cy="127.9" r="1.1" opacity="0.13"/><circle cx="802.6" cy="173.4" r="1.6" opacity="0.30"/><circle cx="910.1" cy="85.5" r="1.3" opacity="0.23"/><circle cx="771.4" cy="169.2" r="1.6" opacity="0.32"/><circle cx="794.6" cy="128.8" r="1" opacity="0.13"/><circle cx="929" cy="122.2" r="0.9" opacity="0.39"/><circle cx="845" cy="147.2" r="1.1" opacity="0.21"/><circle cx="905" cy="200" r="1.4" opacity="0.30"/><circle cx="824.9" cy="141.9" r="1.6" opacity="0.38"/><circle cx="854.3" cy="113.4" r="1.1" opacity="0.12"/><circle cx="931.3" cy="59.6" r="1.4" opacity="0.36"/><circle cx="864.7" cy="163.6" r="1.6" opacity="0.41"/><circle cx="809.8" cy="116.2" r="1.6" opacity="0.19"/><circle cx="856.2" cy="133.8" r="1.5" opacity="0.31"/><circle cx="809.8" cy="166.2" r="1.5" opacity="0.35"/><circle cx="878.1" cy="188.6" r="1.3" opacity="0.29"/><circle cx="836.5" cy="176.3" r="1.4" opacity="0.24"/><circle cx="813.9" cy="96.8" r="1.6" opacity="0.16"/><circle cx="875.5" cy="203" r="1.3" opacity="0.27"/><circle cx="807.1" cy="161" r="1.1" opacity="0.23"/><circle cx="872.2" cy="224.2" r="1.6" opacity="0.40"/><circle cx="856.2" cy="201.7" r="1.4" opacity="0.32"/><circle cx="945.3" cy="128.7" r="1.1" opacity="0.93"/><circle cx="773.6" cy="187.1" r="1.1" opacity="0.40"/><circle cx="894" cy="152.9" r="1.4" opacity="0.27"/><circle cx="811.4" cy="70.6" r="1.7" opacity="0.12"/><circle cx="842.9" cy="176.8" r="1.3" opacity="0.33"/><circle cx="808.8" cy="151.5" r="0.9" opacity="0.18"/><circle cx="907.5" cy="174.6" r="1.3" opacity="0.30"/><circle cx="892" cy="139.7" r="1.4" opacity="0.23"/><circle cx="905.1" cy="103.1" r="1.2" opacity="0.40"/><circle cx="928.8" cy="131.6" r="1.1" opacity="0.42"/><circle cx="750.8" cy="145.7" r="1" opacity="0.19"/><circle cx="899" cy="134" r="1.7" opacity="0.29"/><circle cx="855.6" cy="124.4" r="1.6" opacity="0.29"/><circle cx="906.7" cy="223.8" r="1.3" opacity="0.40"/><circle cx="795.7" cy="134.7" r="1.5" opacity="0.41"/><circle cx="822.7" cy="147.6" r="0.9" opacity="0.12"/><circle cx="769.3" cy="83.1" r="1.5" opacity="0.41"/><circle cx="879" cy="115.5" r="1.2" opacity="0.27"/><circle cx="831.4" cy="154.5" r="1.2" opacity="0.28"/><circle cx="875.3" cy="184.4" r="1" opacity="0.26"/><circle cx="822.6" cy="205" r="1.5" opacity="0.30"/><circle cx="747.5" cy="215.9" r="1" opacity="0.12"/><circle cx="801.9" cy="156.1" r="1.1" opacity="0.10"/><circle cx="921.8" cy="175.9" r="1.7" opacity="0.18"/><circle cx="893.5" cy="114.6" r="1.6" opacity="0.11"/><circle cx="860.9" cy="92.9" r="1.6" opacity="0.41"/><circle cx="767" cy="161" r="1.6" opacity="0.67"/><circle cx="829.1" cy="134.7" r="1" opacity="0.41"/><circle cx="861.5" cy="99.3" r="1.1" opacity="0.12"/><circle cx="775.2" cy="151.9" r="1" opacity="0.25"/><circle cx="883" cy="121.4" r="1.6" opacity="0.31"/><circle cx="841.9" cy="190" r="1.3" opacity="0.18"/><circle cx="914.1" cy="132.5" r="1.1" opacity="0.12"/><circle cx="842.8" cy="152.9" r="1.2" opacity="0.36"/><circle cx="779.5" cy="260.4" r="1.7" opacity="0.11"/><circle cx="811.6" cy="121.4" r="1.1" opacity="0.36"/><circle cx="781.5" cy="118.2" r="1.3" opacity="0.35"/><circle cx="787.7" cy="150.2" r="1.5" opacity="0.37"/><circle cx="865.2" cy="172.9" r="1.2" opacity="0.11"/><circle cx="831.7" cy="170.4" r="1" opacity="0.30"/><circle cx="866.3" cy="229.7" r="1.2" opacity="0.10"/><circle cx="897.8" cy="187.6" r="0.9" opacity="0.19"/><circle cx="801.8" cy="192.6" r="1.7" opacity="0.30"/><circle cx="879.8" cy="102.6" r="1.5" opacity="0.24"/><circle cx="877.7" cy="168" r="1.5" opacity="0.34"/><circle cx="922.4" cy="168.3" r="1" opacity="0.22"/><circle cx="881.6" cy="62" r="1" opacity="0.94"/><circle cx="845.8" cy="64.2" r="1.6" opacity="0.36"/><circle cx="868" cy="142.9" r="1" opacity="0.33"/><circle cx="868.3" cy="101.4" r="1.5" opacity="0.13"/><circle cx="832.2" cy="70" r="1" opacity="0.18"/><circle cx="865.8" cy="92.5" r="0.9" opacity="0.33"/><circle cx="782.7" cy="82" r="1.1" opacity="0.19"/><circle cx="875.8" cy="150.5" r="1.4" opacity="0.32"/><circle cx="811" cy="180.9" r="1.6" opacity="0.14"/><circle cx="849.7" cy="142.1" r="1.2" opacity="0.28"/><circle cx="846.5" cy="222.1" r="1.4" opacity="0.36"/><circle cx="904.2" cy="127.8" r="1.6" opacity="0.23"/><circle cx="830" cy="218.9" r="1.5" opacity="0.12"/><circle cx="933.2" cy="195.1" r="1" opacity="0.18"/><circle cx="843.9" cy="219.2" r="1.2" opacity="0.36"/><circle cx="858.2" cy="107.5" r="1.3" opacity="0.29"/><circle cx="867.1" cy="81.9" r="1.3" opacity="0.31"/><circle cx="801.8" cy="243.2" r="1.5" opacity="0.25"/><circle cx="930.1" cy="123" r="1" opacity="0.23"/><circle cx="807.2" cy="135.3" r="1.3" opacity="0.38"/><circle cx="907" cy="182.9" r="0.9" opacity="0.22"/><circle cx="854.4" cy="118.8" r="1.3" opacity="0.38"/><circle cx="822.4" cy="171.1" r="1.7" opacity="0.35"/><circle cx="848.3" cy="187.9" r="1.6" opacity="0.37"/><circle cx="821" cy="225.7" r="1.6" opacity="0.39"/><circle cx="866.4" cy="157.3" r="1.1" opacity="0.36"/><circle cx="908.2" cy="168" r="1" opacity="0.23"/><circle cx="781.7" cy="149.5" r="1.3" opacity="0.41"/><circle cx="822.5" cy="148.9" r="1.5" opacity="0.63"/><circle cx="750" cy="187.3" r="1.3" opacity="0.35"/><circle cx="838.9" cy="90.6" r="1.5" opacity="0.21"/><circle cx="877" cy="66" r="1.5" opacity="0.32"/><circle cx="778.1" cy="117" r="1.5" opacity="0.90"/><circle cx="885.8" cy="121" r="1.2" opacity="0.14"/><circle cx="901.3" cy="175.5" r="0.9" opacity="0.38"/><circle cx="859.1" cy="85.3" r="1.4" opacity="0.39"/><circle cx="846.5" cy="175.2" r="1.3" opacity="0.12"/><circle cx="781.5" cy="101.2" r="1.6" opacity="0.76"/><circle cx="764.6" cy="140.7" r="1.2" opacity="0.40"/><circle cx="768.1" cy="156" r="1.6" opacity="0.34"/><circle cx="860.6" cy="172.6" r="0.9" opacity="0.29"/><circle cx="875" cy="214.9" r="1.1" opacity="0.29"/><circle cx="880.6" cy="121.8" r="0.9" opacity="0.18"/><circle cx="818.1" cy="196.8" r="1.3" opacity="0.39"/><circle cx="809.7" cy="175" r="1.3" opacity="0.15"/><circle cx="752.5" cy="141.3" r="1.3" opacity="0.39"/><circle cx="799.7" cy="157.7" r="0.9" opacity="0.33"/><circle cx="867.2" cy="146.9" r="1.6" opacity="0.35"/><circle cx="876.1" cy="181.4" r="1.5" opacity="0.32"/><circle cx="840.1" cy="102.7" r="1.3" opacity="0.15"/><circle cx="873.2" cy="145.2" r="1.6" opacity="0.35"/><circle cx="853.6" cy="87.5" r="1.4" opacity="0.28"/><circle cx="937.7" cy="123.3" r="1.2" opacity="0.27"/><circle cx="879.9" cy="180.1" r="1.6" opacity="0.17"/><circle cx="847.3" cy="183.1" r="1.5" opacity="0.13"/><circle cx="846.9" cy="136.7" r="1.5" opacity="0.17"/><circle cx="820.7" cy="182.3" r="1.3" opacity="0.35"/><circle cx="826.8" cy="106" r="1.3" opacity="0.38"/><circle cx="824.7" cy="173.5" r="1.7" opacity="0.35"/><circle cx="833.5" cy="193" r="1.1" opacity="0.37"/><circle cx="882.9" cy="110.9" r="1.5" opacity="0.41"/><circle cx="896.7" cy="244.9" r="1.7" opacity="0.23"/><circle cx="896.1" cy="115.3" r="1.2" opacity="0.17"/><circle cx="844.8" cy="180" r="0.9" opacity="0.20"/><circle cx="850.9" cy="99.3" r="1.7" opacity="0.32"/><circle cx="822.3" cy="87.5" r="1.7" opacity="0.33"/><circle cx="875.4" cy="197.6" r="1.2" opacity="0.17"/><circle cx="828.6" cy="208.1" r="1.2" opacity="0.30"/><circle cx="821.7" cy="181.5" r="1.4" opacity="0.28"/><circle cx="847.3" cy="146.7" r="1.5" opacity="0.37"/><circle cx="859.6" cy="216.6" r="1" opacity="0.30"/><circle cx="893.8" cy="104.9" r="1.4" opacity="0.19"/><circle cx="819.2" cy="165.3" r="1.4" opacity="0.18"/><circle cx="896.5" cy="154" r="1.6" opacity="0.14"/><circle cx="839.4" cy="138.3" r="1.5" opacity="0.37"/><circle cx="871" cy="73.2" r="1.5" opacity="0.24"/><circle cx="862.6" cy="206" r="1.3" opacity="0.42"/><circle cx="765.3" cy="184.3" r="1.1" opacity="0.22"/><circle cx="819.3" cy="152.8" r="1.4" opacity="0.24"/><circle cx="843.9" cy="217.5" r="1.2" opacity="0.41"/><circle cx="784.8" cy="199.1" r="1.1" opacity="0.16"/><circle cx="887.1" cy="135.6" r="1.1" opacity="0.30"/><circle cx="866.6" cy="207" r="1.2" opacity="0.19"/><circle cx="839.8" cy="201" r="1.5" opacity="0.29"/><circle cx="851.4" cy="97.3" r="1.3" opacity="0.14"/><circle cx="859.4" cy="168.1" r="1.4" opacity="0.13"/><circle cx="819.7" cy="228.1" r="1.3" opacity="0.14"/><circle cx="848" cy="147.7" r="1" opacity="0.22"/><circle cx="803.6" cy="178.9" r="1.4" opacity="0.18"/><circle cx="832.4" cy="161.7" r="1.1" opacity="0.27"/><circle cx="808.3" cy="101.8" r="1.1" opacity="0.21"/><circle cx="901.9" cy="145" r="1.4" opacity="0.32"/><circle cx="841.3" cy="186.7" r="1.2" opacity="0.25"/><circle cx="810.7" cy="196.6" r="1.1" opacity="0.40"/><circle cx="875.1" cy="122.6" r="1.5" opacity="0.24"/><circle cx="834.3" cy="132.2" r="1.7" opacity="0.15"/><circle cx="821.8" cy="160.9" r="1.5" opacity="0.13"/><circle cx="856.9" cy="190.2" r="0.9" opacity="0.13"/><circle cx="866.3" cy="98.2" r="1.6" opacity="0.19"/><circle cx="808.1" cy="178.2" r="1.3" opacity="0.25"/><circle cx="854.3" cy="102.1" r="1.2" opacity="0.28"/><circle cx="864.3" cy="156.9" r="1.5" opacity="0.15"/><circle cx="850.5" cy="75.6" r="1.3" opacity="0.14"/><circle cx="852.2" cy="176.6" r="1.5" opacity="0.17"/><circle cx="895.8" cy="117" r="1.5" opacity="0.15"/><circle cx="886.9" cy="208" r="1.5" opacity="0.40"/><circle cx="902.7" cy="150.1" r="1.2" opacity="0.33"/><circle cx="917.6" cy="188.1" r="1.4" opacity="0.26"/><circle cx="851.3" cy="253.7" r="1" opacity="0.10"/><circle cx="821.6" cy="153.7" r="1.7" opacity="0.28"/><circle cx="944.1" cy="237.7" r="1.5" opacity="0.30"/><circle cx="847.1" cy="168.2" r="1.2" opacity="0.10"/><circle cx="885.7" cy="189.3" r="1.5" opacity="0.14"/><circle cx="917.3" cy="135" r="1.6" opacity="0.38"/><circle cx="882.9" cy="201.8" r="1.5" opacity="0.37"/><circle cx="931.2" cy="67.9" r="1.4" opacity="0.26"/><circle cx="867.4" cy="176" r="1.3" opacity="0.37"/><circle cx="905.8" cy="207.8" r="1.1" opacity="0.41"/><circle cx="919" cy="133.1" r="1.6" opacity="0.11"/><circle cx="862.6" cy="135.7" r="1.5" opacity="0.22"/><circle cx="941.9" cy="150.4" r="1.2" opacity="0.33"/><circle cx="899.9" cy="155.7" r="1" opacity="0.29"/><circle cx="876.7" cy="172.1" r="1.6" opacity="0.94"/><circle cx="896" cy="202" r="1.4" opacity="0.29"/><circle cx="902.9" cy="222" r="1.6" opacity="0.16"/><circle cx="925.1" cy="190.4" r="1" opacity="0.25"/><circle cx="901.8" cy="221.4" r="1.3" opacity="0.32"/><circle cx="943" cy="242.4" r="1.2" opacity="0.15"/><circle cx="897" cy="260.4" r="0.9" opacity="0.17"/><circle cx="908.4" cy="259.7" r="1" opacity="0.40"/><circle cx="919.5" cy="152.3" r="0.9" opacity="0.36"/><circle cx="848.2" cy="160.8" r="1" opacity="0.18"/><circle cx="928" cy="251.5" r="1.4" opacity="0.20"/><circle cx="898.3" cy="153.7" r="1.5" opacity="0.34"/><circle cx="898.8" cy="178.1" r="1.2" opacity="0.24"/><circle cx="937.8" cy="179" r="1.6" opacity="0.23"/><circle cx="886.4" cy="239.1" r="1.6" opacity="0.72"/><circle cx="921.7" cy="187.6" r="1.1" opacity="0.17"/><circle cx="948.6" cy="208" r="1.6" opacity="0.35"/><circle cx="920.2" cy="104.3" r="1.1" opacity="0.35"/><circle cx="935.7" cy="192.5" r="1" opacity="0.38"/><circle cx="834.1" cy="175.8" r="1.6" opacity="0.19"/><circle cx="897.4" cy="174.9" r="1.1" opacity="0.41"/><circle cx="929.8" cy="166" r="1.6" opacity="0.39"/><circle cx="928.5" cy="121.4" r="1.3" opacity="0.20"/><circle cx="947.4" cy="149.1" r="1.4" opacity="0.20"/><circle cx="907.6" cy="202.1" r="1.5" opacity="0.19"/><circle cx="893.4" cy="154.2" r="1.7" opacity="0.17"/><circle cx="893.2" cy="175.6" r="1.3" opacity="0.28"/><circle cx="913.5" cy="173.5" r="1.1" opacity="0.21"/><circle cx="935.9" cy="205.7" r="1.5" opacity="0.11"/><circle cx="864.4" cy="142.9" r="1.2" opacity="0.38"/><circle cx="863.9" cy="214.5" r="1.6" opacity="0.29"/><circle cx="886.1" cy="145.3" r="1.4" opacity="0.25"/><circle cx="891.2" cy="174.7" r="1.1" opacity="0.25"/><circle cx="858" cy="134.7" r="1.3" opacity="0.27"/><circle cx="887.2" cy="161.2" r="1.2" opacity="0.37"/><circle cx="835.4" cy="170.6" r="1.4" opacity="0.39"/><circle cx="883.3" cy="227.2" r="1.2" opacity="0.29"/><circle cx="915.3" cy="153.6" r="1.2" opacity="0.13"/><circle cx="910.8" cy="147.2" r="1.4" opacity="0.42"/><circle cx="917.5" cy="153.8" r="1.1" opacity="0.34"/><circle cx="926.8" cy="247.6" r="1.6" opacity="0.17"/><circle cx="890.7" cy="149.2" r="1.2" opacity="0.39"/><circle cx="890.9" cy="232.2" r="1.1" opacity="0.36"/><circle cx="866.4" cy="209.8" r="1.7" opacity="0.30"/><circle cx="855" cy="207.4" r="1.2" opacity="0.34"/><circle cx="931.1" cy="156.9" r="1.7" opacity="0.26"/><circle cx="831.2" cy="250.7" r="1" opacity="0.18"/><circle cx="906.6" cy="203.1" r="1.5" opacity="0.37"/><circle cx="896.5" cy="214.2" r="1.5" opacity="0.39"/><circle cx="888.5" cy="190.5" r="1.7" opacity="0.12"/><circle cx="886.6" cy="163.9" r="1.3" opacity="0.35"/><circle cx="950.9" cy="200.1" r="1.2" opacity="0.79"/><circle cx="875.2" cy="166.3" r="1.5" opacity="0.31"/><circle cx="920.8" cy="153.3" r="1.1" opacity="0.35"/><circle cx="921.7" cy="247" r="1" opacity="0.29"/><circle cx="930.8" cy="146.9" r="1.6" opacity="0.35"/><circle cx="879.1" cy="174.8" r="1.3" opacity="0.17"/><circle cx="906" cy="197.4" r="1.6" opacity="0.19"/><circle cx="941.6" cy="214.2" r="1.7" opacity="0.22"/><circle cx="908.4" cy="176" r="1.4" opacity="0.38"/><circle cx="898.2" cy="224.8" r="1.1" opacity="0.29"/><circle cx="942.1" cy="159" r="0.9" opacity="0.29"/><circle cx="886.1" cy="146.8" r="1.6" opacity="0.23"/><circle cx="900.6" cy="186.9" r="1.3" opacity="0.29"/><circle cx="907" cy="174.9" r="1.2" opacity="0.22"/><circle cx="883.1" cy="180.3" r="1.4" opacity="0.17"/><circle cx="919.5" cy="182.7" r="1" opacity="0.37"/><circle cx="841.5" cy="194.7" r="1.5" opacity="0.40"/><circle cx="911.6" cy="166.5" r="1.5" opacity="0.12"/><circle cx="858" cy="231.4" r="0.9" opacity="0.16"/><circle cx="943.2" cy="200.8" r="1" opacity="0.38"/><circle cx="901.9" cy="163.6" r="1.4" opacity="0.39"/><circle cx="896" cy="107" r="1" opacity="0.41"/><circle cx="916.5" cy="256.4" r="1.2" opacity="0.42"/><circle cx="888.6" cy="218.9" r="1.2" opacity="0.32"/><circle cx="880.8" cy="208.2" r="1.2" opacity="0.36"/><circle cx="886.4" cy="191.1" r="1.4" opacity="0.31"/><circle cx="913" cy="219.7" r="1" opacity="0.40"/><circle cx="930.5" cy="116.7" r="0.9" opacity="0.36"/><circle cx="945.4" cy="204.3" r="1.6" opacity="0.13"/><circle cx="908.1" cy="175.1" r="1.1" opacity="0.27"/><circle cx="899.3" cy="219.5" r="0.9" opacity="0.33"/><circle cx="876.1" cy="247.4" r="1.2" opacity="0.13"/><circle cx="871.8" cy="211.3" r="1.4" opacity="0.72"/><circle cx="909.6" cy="113.1" r="1.3" opacity="0.68"/><circle cx="876.2" cy="124.4" r="1.1" opacity="0.14"/><circle cx="921.1" cy="191.3" r="1.3" opacity="0.17"/><circle cx="853.7" cy="188.5" r="0.9" opacity="0.17"/><circle cx="873.1" cy="142.6" r="1" opacity="0.16"/><circle cx="919.8" cy="194.9" r="1.5" opacity="0.22"/><circle cx="900.9" cy="222.1" r="1.5" opacity="0.30"/><circle cx="922.8" cy="114.6" r="0.9" opacity="0.36"/><circle cx="896.3" cy="203" r="1.2" opacity="0.16"/><circle cx="915.7" cy="206.6" r="1.4" opacity="0.19"/><circle cx="888.8" cy="172.7" r="0.9" opacity="0.21"/><circle cx="908.3" cy="139.5" r="0.9" opacity="0.22"/><circle cx="882.6" cy="196.9" r="1.4" opacity="0.20"/><circle cx="858.5" cy="247.8" r="1.3" opacity="0.33"/><circle cx="949.8" cy="195" r="1.4" opacity="0.26"/><circle cx="866.4" cy="218.5" r="1.5" opacity="0.28"/><circle cx="866.9" cy="237.1" r="1.3" opacity="0.37"/><circle cx="914.5" cy="258" r="1.6" opacity="0.32"/><circle cx="893.9" cy="202.1" r="1.3" opacity="0.79"/><circle cx="880.8" cy="234.5" r="1.4" opacity="0.31"/><circle cx="835.2" cy="219.1" r="1.2" opacity="0.24"/><circle cx="918.4" cy="197.2" r="1.4" opacity="0.16"/><circle cx="923.1" cy="137.3" r="1.5" opacity="0.28"/><circle cx="879.4" cy="155.6" r="1.1" opacity="0.16"/><circle cx="897.9" cy="180.3" r="1.3" opacity="0.19"/><circle cx="850" cy="109.2" r="1.3" opacity="0.16"/><circle cx="933" cy="145" r="1.4" opacity="0.77"/><circle cx="884.1" cy="214.8" r="1.5" opacity="0.32"/><circle cx="849.9" cy="229.8" r="1.1" opacity="0.35"/><circle cx="922.2" cy="183.1" r="1.5" opacity="0.40"/><circle cx="873.4" cy="148.2" r="1.1" opacity="0.34"/><circle cx="940.5" cy="159.5" r="1.4" opacity="0.30"/><circle cx="934.6" cy="226.6" r="1.6" opacity="0.19"/><circle cx="874.3" cy="187.3" r="1.6" opacity="0.39"/><circle cx="860.7" cy="257.2" r="1.1" opacity="0.23"/><circle cx="937.8" cy="230.9" r="1.5" opacity="0.29"/><circle cx="913.3" cy="161.7" r="1.2" opacity="0.22"/><circle cx="851.7" cy="214.6" r="1" opacity="0.71"/><circle cx="890.8" cy="108.3" r="1.3" opacity="0.31"/><circle cx="882.4" cy="169.2" r="0.9" opacity="0.39"/><circle cx="868.6" cy="196.4" r="1.7" opacity="0.21"/><circle cx="874.8" cy="188.4" r="1.1" opacity="0.32"/><circle cx="917.9" cy="213.5" r="1.5" opacity="0.40"/><circle cx="910.1" cy="175.7" r="1.5" opacity="0.21"/><circle cx="907.3" cy="170.8" r="0.9" opacity="0.24"/><circle cx="905.5" cy="126.9" r="1" opacity="0.13"/><circle cx="908" cy="212.6" r="1.5" opacity="0.25"/><circle cx="899.4" cy="219.7" r="1.4" opacity="0.38"/><circle cx="897" cy="180.4" r="1.3" opacity="0.41"/><circle cx="898.4" cy="216.8" r="1.1" opacity="0.34"/><circle cx="871.8" cy="208.7" r="1.4" opacity="0.27"/><circle cx="940.2" cy="141.9" r="1.6" opacity="0.22"/><circle cx="910.6" cy="171.5" r="1.2" opacity="0.14"/><circle cx="907" cy="184.5" r="1.4" opacity="0.33"/><circle cx="845.5" cy="139.9" r="1" opacity="0.29"/><circle cx="881.8" cy="210.4" r="1.4" opacity="0.41"/><circle cx="862.2" cy="181.2" r="1.1" opacity="0.19"/><circle cx="870.9" cy="149.5" r="1.4" opacity="0.29"/><circle cx="875.8" cy="236.7" r="1.3" opacity="0.14"/><circle cx="840.4" cy="174.2" r="1.6" opacity="0.23"/><circle cx="770.2" cy="140.6" r="1.6" opacity="0.25"/><circle cx="812.2" cy="152.3" r="1.2" opacity="0.25"/><circle cx="777.6" cy="112.5" r="1.6" opacity="0.33"/><circle cx="769" cy="127.4" r="1.6" opacity="0.30"/><circle cx="772" cy="120.8" r="1.4" opacity="0.37"/><circle cx="785.2" cy="174.1" r="1.4" opacity="0.35"/><circle cx="794" cy="147.4" r="1.2" opacity="0.20"/><circle cx="830.4" cy="166.3" r="0.9" opacity="0.39"/><circle cx="796" cy="117.5" r="1" opacity="0.69"/><circle cx="849.6" cy="152.3" r="1.6" opacity="0.25"/><circle cx="779" cy="138" r="1.4" opacity="0.14"/><circle cx="788.3" cy="109.5" r="1.2" opacity="0.26"/><circle cx="786.7" cy="159.1" r="1.4" opacity="0.14"/><circle cx="829.6" cy="116.9" r="1.3" opacity="0.10"/><circle cx="831" cy="168.7" r="1.2" opacity="0.32"/><circle cx="871.9" cy="155.1" r="1.6" opacity="0.23"/><circle cx="836.7" cy="133.3" r="0.9" opacity="0.12"/><circle cx="820.8" cy="162.3" r="1.1" opacity="0.40"/><circle cx="828.9" cy="130" r="1.5" opacity="0.38"/><circle cx="796.9" cy="115.5" r="1.4" opacity="0.37"/><circle cx="779.3" cy="141.3" r="1.4" opacity="0.33"/><circle cx="815.1" cy="83.1" r="1.3" opacity="0.32"/><circle cx="843" cy="112.4" r="1" opacity="0.73"/><circle cx="787.4" cy="124.8" r="1.3" opacity="0.26"/><circle cx="811.5" cy="151.2" r="1.6" opacity="0.20"/><circle cx="747.9" cy="123.3" r="1.1" opacity="0.18"/><circle cx="803.1" cy="165.4" r="1.5" opacity="0.23"/><circle cx="818.6" cy="152.5" r="1.2" opacity="0.32"/><circle cx="806.8" cy="120" r="1" opacity="0.31"/><circle cx="779.6" cy="145.1" r="1.4" opacity="0.11"/><circle cx="791.3" cy="119.3" r="1" opacity="0.11"/><circle cx="798.8" cy="115.1" r="1" opacity="0.33"/><circle cx="797.9" cy="104.5" r="1.2" opacity="0.16"/><circle cx="832.6" cy="139.1" r="0.9" opacity="0.16"/><circle cx="784.8" cy="130.3" r="1.3" opacity="0.26"/><circle cx="760" cy="145" r="1.5" opacity="0.29"/><circle cx="754.8" cy="155.2" r="1.1" opacity="0.30"/><circle cx="806.2" cy="89.9" r="1.3" opacity="0.70"/><circle cx="803" cy="76.7" r="1" opacity="0.38"/><circle cx="763.6" cy="62.6" r="1.6" opacity="0.19"/><circle cx="838.6" cy="109.3" r="1.7" opacity="0.18"/><circle cx="763.6" cy="131" r="1.7" opacity="0.30"/><circle cx="809.1" cy="148.3" r="1.6" opacity="0.19"/><circle cx="811.9" cy="109.7" r="1.3" opacity="0.28"/><circle cx="797.6" cy="95.7" r="0.9" opacity="0.42"/><circle cx="847.6" cy="119.4" r="1.5" opacity="0.33"/><circle cx="751.9" cy="119.1" r="1" opacity="0.30"/><circle cx="844.4" cy="132" r="1.2" opacity="0.36"/><circle cx="806.2" cy="139.7" r="1.2" opacity="0.35"/><circle cx="811.7" cy="123.4" r="1.6" opacity="0.33"/><circle cx="795.7" cy="122.8" r="1.6" opacity="0.60"/><circle cx="795.5" cy="77.4" r="1.2" opacity="0.22"/><circle cx="761.6" cy="155.3" r="1" opacity="0.37"/><circle cx="827.1" cy="93" r="1.4" opacity="0.25"/><circle cx="853.4" cy="147.9" r="1.1" opacity="0.33"/><circle cx="768.4" cy="145.6" r="1.1" opacity="0.11"/><circle cx="787.8" cy="107.9" r="1.3" opacity="0.23"/><circle cx="790.1" cy="121.1" r="1.2" opacity="0.34"/><circle cx="793.6" cy="142.6" r="0.9" opacity="0.84"/><circle cx="790.9" cy="148.4" r="1.3" opacity="0.16"/><circle cx="858.1" cy="161.5" r="1.3" opacity="0.35"/><circle cx="813.1" cy="106.7" r="1.2" opacity="0.22"/><circle cx="803.6" cy="131.1" r="1.5" opacity="0.23"/><circle cx="768.2" cy="117.8" r="1.6" opacity="0.24"/><circle cx="825.8" cy="97.1" r="1" opacity="0.13"/><circle cx="835.9" cy="146.7" r="1" opacity="0.11"/><circle cx="754.3" cy="151.9" r="1.5" opacity="0.31"/><circle cx="829.5" cy="145.3" r="1.3" opacity="0.40"/><circle cx="814" cy="146.7" r="1.1" opacity="0.36"/><circle cx="886.6" cy="86.6" r="1.7" opacity="0.24"/><circle cx="805.9" cy="123.7" r="1.4" opacity="0.24"/><circle cx="825.1" cy="123.2" r="1.2" opacity="0.33"/><circle cx="803.8" cy="127.5" r="1.3" opacity="0.20"/><circle cx="777" cy="164.1" r="1.1" opacity="0.29"/><circle cx="781.8" cy="158.2" r="1" opacity="0.19"/><circle cx="830.4" cy="101.6" r="1.2" opacity="0.40"/><circle cx="822.8" cy="124.3" r="1.5" opacity="0.42"/><circle cx="788.4" cy="149.4" r="1.2" opacity="0.14"/><circle cx="794.5" cy="176.8" r="1.6" opacity="0.13"/><circle cx="789.3" cy="106.1" r="1.6" opacity="0.22"/><circle cx="800.2" cy="129.8" r="1.3" opacity="0.25"/><circle cx="790.1" cy="185.9" r="1.1" opacity="0.26"/><circle cx="777.5" cy="139.3" r="1" opacity="0.13"/><circle cx="800.6" cy="120.7" r="1.5" opacity="0.30"/><circle cx="832.3" cy="167" r="1" opacity="0.36"/><circle cx="748.5" cy="145.2" r="0.9" opacity="0.33"/><circle cx="789.7" cy="145.2" r="1.3" opacity="0.64"/><circle cx="886.2" cy="121.2" r="1.5" opacity="0.14"/><circle cx="879.1" cy="122.8" r="1.6" opacity="0.34"/><circle cx="885.2" cy="115" r="1.1" opacity="0.34"/><circle cx="909.5" cy="80.7" r="1.4" opacity="0.17"/><circle cx="929.6" cy="123.9" r="1.3" opacity="0.21"/><circle cx="943.6" cy="92.5" r="1.3" opacity="0.34"/><circle cx="942.5" cy="106.2" r="1.6" opacity="0.40"/><circle cx="909.3" cy="92.9" r="1.1" opacity="0.33"/><circle cx="925.9" cy="116.5" r="1" opacity="0.14"/><circle cx="926.5" cy="127.2" r="1" opacity="0.20"/><circle cx="875.1" cy="114.1" r="1.6" opacity="0.39"/><circle cx="916.8" cy="85.5" r="1.3" opacity="0.21"/><circle cx="894.8" cy="127.1" r="1.5" opacity="0.11"/><circle cx="902" cy="94.4" r="1.6" opacity="0.30"/><circle cx="924.5" cy="107" r="0.9" opacity="0.38"/><circle cx="878.4" cy="128.9" r="1.7" opacity="0.24"/><circle cx="919.2" cy="72.4" r="1.1" opacity="0.20"/><circle cx="902.8" cy="120.7" r="1.3" opacity="0.23"/><circle cx="895.6" cy="123.3" r="1" opacity="0.28"/><circle cx="880.8" cy="108.9" r="1.3" opacity="0.14"/><circle cx="919" cy="134.9" r="1.5" opacity="0.22"/><circle cx="918.7" cy="70.5" r="1.2" opacity="0.33"/><circle cx="911.1" cy="90.5" r="1.2" opacity="0.21"/><circle cx="896.9" cy="86.8" r="1.2" opacity="0.20"/><circle cx="912.7" cy="115" r="1.5" opacity="0.19"/><circle cx="905.1" cy="105.7" r="1" opacity="0.16"/><circle cx="887.6" cy="104" r="1.2" opacity="0.37"/><circle cx="901.4" cy="99.9" r="0.9" opacity="0.30"/><circle cx="944.9" cy="76.8" r="1.6" opacity="0.39"/><circle cx="930.4" cy="97.1" r="1.6" opacity="0.38"/><circle cx="919.2" cy="115.3" r="1" opacity="0.11"/><circle cx="900.6" cy="68.8" r="1.5" opacity="0.15"/><circle cx="893" cy="60.7" r="0.9" opacity="0.13"/><circle cx="871.4" cy="113.2" r="1.6" opacity="0.17"/><circle cx="893.7" cy="110.6" r="1.3" opacity="0.18"/><circle cx="910.8" cy="90.3" r="0.9" opacity="0.25"/><circle cx="896.1" cy="76.7" r="1.7" opacity="0.26"/><circle cx="908.1" cy="136.2" r="1.1" opacity="0.13"/><circle cx="914.9" cy="102.5" r="1.5" opacity="0.21"/><circle cx="904.8" cy="116.7" r="1" opacity="0.83"/><circle cx="925.5" cy="115.9" r="1.5" opacity="0.22"/><circle cx="872.5" cy="86.8" r="1.2" opacity="0.26"/><circle cx="909.7" cy="119.1" r="1.5" opacity="0.88"/><circle cx="891.5" cy="83.1" r="1" opacity="0.30"/><circle cx="920.2" cy="113.1" r="0.9" opacity="0.28"/><circle cx="905.4" cy="116.3" r="1.1" opacity="0.22"/><circle cx="900.5" cy="115.1" r="1.5" opacity="0.28"/><circle cx="932.2" cy="90.6" r="1.6" opacity="0.28"/><circle cx="902.6" cy="83.3" r="0.9" opacity="0.16"/><circle cx="929.9" cy="131.3" r="1.1" opacity="0.65"/><circle cx="892.2" cy="113" r="1.3" opacity="0.42"/><circle cx="924" cy="93.2" r="0.9" opacity="0.23"/><circle cx="885.7" cy="106.3" r="1.6" opacity="0.38"/><circle cx="895.1" cy="83.3" r="1.4" opacity="0.15"/><circle cx="950.3" cy="110.4" r="1.5" opacity="0.17"/><circle cx="921.1" cy="121.8" r="1.1" opacity="0.22"/><circle cx="901.3" cy="114" r="1" opacity="0.20"/><circle cx="929.5" cy="95.1" r="1.3" opacity="0.13"/></g>
</g>
<rect x="803.7" y="225.8" width="30.6" height="6.2" fill="#fff"/>
<line x1="960.3" y1="263.2" x2="970.1" y2="263.2" stroke="#000" stroke-width="1.6"/>
<line x1="978.3" y1="263.2" x2="987.3" y2="263.2" stroke="#000" stroke-width="1.6"/>
<line x1="941.6" y1="290.4" x2="951.4" y2="290.4" stroke="#000" stroke-width="1.6"/>
<line x1="959.3" y1="290.4" x2="969.1" y2="290.4" stroke="#000" stroke-width="1.6"/>
<line x1="921.6" y1="317" x2="931.4" y2="317" stroke="#000" stroke-width="1.6"/>
<line x1="939.6" y1="317" x2="949.4" y2="317" stroke="#000" stroke-width="1.6"/>
<line x1="907" y1="342.3" x2="916.8" y2="342.3" stroke="#000" stroke-width="1.6"/>
<line x1="925" y1="342.3" x2="934.8" y2="342.3" stroke="#000" stroke-width="1.6"/>
<text transform="translate(990.3 357.9) rotate(-90) scale(1.019 1)">120 µm</text>
<text transform="translate(761.7 380.2) scale(1.027 1)">ALM</text>
<text transform="translate(1035.6 23.7) scale(1.12 1)" font-size="31" font-weight="bold" stroke="#000" stroke-width="2.0" stroke-linejoin="miter">e</text>
<text x="1055.4" y="203" text-anchor="middle" font-style="italic" transform="rotate(-90 1055.4 203)">ΔF/F</text>
<text transform="translate(1174.6 21) scale(0.965 1)">Plane 1</text>
<text x="1088.8" y="46.1" text-anchor="end">4</text>
<text x="1088.8" y="97" text-anchor="end">0</text>
<path d="M1098.2 72.5L1098.7 69.3 1099.3 70.6 1099.9 71.1 1100.4 73.1 1101 71.8 1101.6 73.5 1102.1 71.8 1102.7 74.6 1103.3 78.1 1103.9 77.2 1104.4 79.1 1105 79.2 1105.6 79.1 1106.1 78.2 1106.7 80.9 1107.3 80.6 1107.8 81.9 1108.4 80.9 1109 82.8 1109.5 84.3 1110.1 84 1110.7 85.7 1111.2 85.8 1111.8 86 1112.4 82.8 1112.9 83.9 1113.5 83.8 1114.1 84.1 1114.7 85.2 1115.2 83 1115.8 83.4 1116.4 81 1116.9 81.8 1117.5 82.4 1118.1 81.7 1118.6 71.7 1119.2 49.4 1119.8 42.3 1120.3 42.9 1120.9 46.8 1121.5 49.1 1122 51 1122.6 53.2 1123.2 54.7 1123.8 58.5 1124.3 60 1124.9 62.3 1125.5 63.5 1126 64.3 1126.6 64.6 1127.2 68.3 1127.7 66.3 1128.3 65.8 1128.9 67.2 1129.4 67.4 1130 69.5 1130.6 70.7 1131.1 74 1131.7 73.4 1132.3 73.3 1132.8 74.7 1133.4 74 1134 75.2 1134.6 74.1 1135.1 74.3 1135.7 74.9 1136.3 76.8 1136.8 76.6 1137.4 76.8 1138 77 1138.5 72.2 1139.1 70.4 1139.7 71.6 1140.2 71.7 1140.8 73.3 1141.4 73 1141.9 76.3 1142.5 75.3 1143.1 77.6 1143.7 78 1144.2 75.7 1144.8 77.8 1145.4 77.2 1145.9 78.3 1146.5 82.6 1147.1 82.2 1147.6 80.5 1148.2 80.3 1148.8 80.1 1149.3 81.8 1149.9 80.4 1150.5 80.6 1151 81.6 1151.6 80.9 1152.2 80.7 1152.7 80.8 1153.3 82.6 1153.9 80.9 1154.5 80.7 1155 83.4 1155.6 82.6 1156.2 78.6 1156.7 82.1 1157.3 83 1157.9 82.5 1158.4 83.8 1159 85.6 1159.6 85 1160.1 83.7 1160.7 84 1161.3 84.1 1161.8 84.9 1162.4 82.1 1163 81.9 1163.6 73.3 1164.1 71.6 1164.7 70.9 1165.3 73.8 1165.8 72.6 1166.4 74.7 1167 72.5 1167.5 75.5 1168.1 77.1 1168.7 74.1 1169.2 76.2 1169.8 76.9 1170.4 79.6 1170.9 78 1171.5 83 1172.1 79.9 1172.6 83.6 1173.2 82.2 1173.8 80.8 1174.4 80 1174.9 85.1 1175.5 84.5 1176.1 83.9 1176.6 84.7 1177.2 85.7 1177.8 82.1 1178.3 83 1178.9 83.6 1179.5 81.2 1180 83.3 1180.6 82.9 1181.2 83.1 1181.7 83.1 1182.3 84.6 1182.9 83.7 1183.5 82.8 1184 81.9 1184.6 80.3 1185.2 81.8 1185.7 80.6 1186.3 78.9 1186.9 80.6 1187.4 81.9 1188 81.7 1188.6 82.9 1189.1 80.7 1189.7 83 1190.3 84 1190.8 83.1 1191.4 82.9 1192 84.6 1192.5 83.6 1193.1 83.4 1193.7 83.6 1194.3 84.1 1194.8 83.3 1195.4 83.5 1196 83.8 1196.5 84.4 1197.1 83.4 1197.7 82.8 1198.2 82.9 1198.8 83.9 1199.4 81.3 1199.9 83.4 1200.5 84.7 1201.1 85.1 1201.6 84 1202.2 85.9 1202.8 85.3 1203.4 74.2 1203.9 52.6 1204.5 44.7 1205.1 45.5 1205.6 47.9 1206.2 51.9 1206.8 52.3 1207.3 53.9 1207.9 55.7 1208.5 57.4 1209 58.6 1209.6 61.3 1210.2 65.3 1210.7 68.1 1211.3 67.8 1211.9 68.4 1212.4 69.5 1213 72 1213.6 71.5 1214.2 71.2 1214.7 74 1215.3 73.1 1215.9 73.5 1216.4 74.4 1217 75.6 1217.6 75.2 1218.1 75.3 1218.7 76.7 1219.3 77.8 1219.8 76.3 1220.4 77.6 1221 79.3 1221.5 79.4 1222.1 77.5 1222.7 78.6 1223.3 80.3 1223.8 80.3 1224.4 79.4 1225 79.4 1225.5 80.9 1226.1 82 1226.7 79.8 1227.2 79.7 1227.8 80.8 1228.4 81.9 1228.9 84.1 1229.5 84.4 1230.1 71.8 1230.6 48.2 1231.2 35.3 1231.8 36.8 1232.4 38.9 1232.9 42.4 1233.5 43.8 1234.1 46.4 1234.6 50.3 1235.2 49.7 1235.8 52 1236.3 51.8 1236.9 53.9 1237.5 55.3 1238 59.9 1238.6 61.4 1239.2 61.6 1239.7 63.7 1240.3 63 1240.9 66.9 1241.4 68.2 1242 67.8 1242.6 70.4 1243.2 71.1 1243.7 69.7 1244.3 72.2 1244.9 74.5 1245.4 74.2 1246 77.4 1246.6 76.9 1247.1 76.1 1247.7 78.7 1248.3 78.5 1248.8 79.6 1249.4 79 1250 79.5 1250.5 78.5 1251.1 77.7 1251.7 79.6 1252.3 79.7 1252.8 80.2 1253.4 79.2 1254 81.5 1254.5 79.6 1255.1 73.6 1255.7 57.1 1256.2 52 1256.8 50.7 1257.4 53.5 1257.9 53.9 1258.5 56.1 1259.1 56.3 1259.6 58.1 1260.2 60.3 1260.8 61.2 1261.3 62.7 1261.9 65.2 1262.5 66.3 1263.1 66.8 1263.6 68.5 1264.2 69.8 1264.8 69.8 1265.3 72.5 1265.9 71.9 1266.5 72.5 1267 74.1 1267.6 74 1268.2 74.7 1268.7 74.5 1269.3 75.8 1269.9 75.2 1270.4 76.4 1271 78.1 1271.6 76.7 1272.2 74.2 1272.7 76.5 1273.3 77.1 1273.9 77.5 1274.4 78 1275 79.4 1275.6 77.6 1276.1 79.8 1276.7 79 1277.3 79.3 1277.8 78.8 1278.4 80.8 1279 81.3 1279.5 81.5 1280.1 82.6 1280.7 84.4 1281.2 82.6 1281.8 83.1 1282.4 81.7 1283 81.1 1283.5 82.8 1284.1 81.5 1284.7 84.4 1285.2 80.5 1285.8 80.9 1286.4 81.5 1286.9 80.6 1287.5 80.5 1288.1 81.2 1288.6 80.4 1289.2 77.6 1289.8 67.9 1290.3 63.8 1290.9 63.9 1291.5 67.3 1292.1 68.1 1292.6 69 1293.2 72.8 1293.8 74 1294.3 75.2 1294.9 74.8 1295.5 73.7 1296 77.6 1296.6 79.4 1297.2 80.3 1297.7 79.4 1298.3 78.8 1298.9 79.6 1299.4 80.3 1300 66.4 1300.6 39.8 1301.1 26.5 1301.7 29.9 1302.3 32.2 1302.9 36.7 1303.4 38.9 1304 40.9 1304.6 44 1305.1 47 1305.7 47.4 1306.3 49 1306.8 52.3 1307.4 55.7 1308 57.1 1308.5 56.5 1309.1 60.6 1309.7 60.8 1310.2 64.8 1310.8 64.5 1311.4 64.4 1312 66.2 1312.5 67 1313.1 66.6 1313.7 66.3 1314.2 69.4 1314.8 68.3 1315.4 72.6 1315.9 71.7 1316.5 73.9 1317.1 74.2 1317.6 75.5 1318.2 75.3 1318.8 76.5 1319.3 74.6 1319.9 76.6 1320.5 76.3 1321 79.5 1321.6 77.5 1322.2 77.5 1322.8 77.9 1323.3 77.8 1323.9 79.3 1324.5 79.6 1325 81.4 1325.6 81 1326.2 83.3 1326.7 84.1 1327.3 81.4 1327.9 79.4 1328.4 82.1 1329 82 1329.6 79.9 1330.1 81.9 1330.7 80.9 1331.3 82.3 1331.9 83.5 1332.4 82.5 1333 82.6 1333.6 82.4 1334.1 83.1 1334.7 83.3 1335.3 84.1 1335.8 84.2 1336.4 81.3" fill="none" stroke="#057f05" stroke-width="2.4" stroke-linejoin="round"/>
<path d="M1098.2 83.7L1097.6 83.7 1098.8 72.8 1100.7 83.7 1117.7 83.7 1119.4 40.4 1122 83.7 1133 83.7 1134.2 75.8 1136.2 83.7 1137.3 83.7 1139.1 69.9 1141.7 83.7 1161.6 83.7 1163.3 51.6 1165.9 83.7 1198.4 83.7 1200.2 48.2 1202.7 83.7 1203.7 83.7 1205.5 56.1 1208 83.7 1228.9 83.7 1230.7 37.4 1233.2 83.7 1254.1 83.7 1255.9 31.5 1258.4 83.7 1281.1 83.7 1282.3 77.8 1284.2 83.7 1288 83.7 1289.7 43.3 1292.3 83.7 1292.3 83.7 1294.1 56.1 1296.6 83.7 1299.8 83.7 1301.6 28.5 1304.1 83.7 1306.3 83.7 1307.5 75.8 1309.4 83.7 1336.4 83.7" fill="none" stroke="#000" stroke-width="2.2" stroke-linejoin="round"/>
<path d="M1098.2 28.5V87.6H1336.4" fill="none" stroke="#000" stroke-width="1.3"/>
<line x1="1098.2" y1="37.4" x2="1101.7" y2="37.4" stroke="#000" stroke-width="1.3"/>
<line x1="1336.4" y1="87.6" x2="1336.4" y2="84.6" stroke="#000" stroke-width="1.3"/>
<text transform="translate(1174.5 122) scale(0.989 1)">Plane 2</text>
<text x="1088.8" y="142.6" text-anchor="end">2</text>
<text x="1088.8" y="183.6" text-anchor="end">0</text>
<path d="M1098.2 172.4L1098.7 170.3 1099.3 170.8 1099.9 165.3 1100.4 149.3 1101 145.7 1101.6 147.4 1102.1 147.2 1102.7 146.6 1103.3 147.5 1103.9 152.9 1104.4 152.2 1105 155.8 1105.6 157.5 1106.1 154.7 1106.7 160.5 1107.3 165.3 1107.8 163.3 1108.4 164.9 1109 164.8 1109.5 163.4 1110.1 162.5 1110.7 164.4 1111.2 165.2 1111.8 165.3 1112.4 163.5 1112.9 166.5 1113.5 169.5 1114.1 165.3 1114.7 169.9 1115.2 165.1 1115.8 168.1 1116.4 170.1 1116.9 169 1117.5 165.7 1118.1 164.4 1118.6 169.6 1119.2 169.6 1119.8 171.8 1120.3 165.4 1120.9 167.9 1121.5 171.9 1122 170 1122.6 170.3 1123.2 171 1123.8 173.9 1124.3 173.4 1124.9 176 1125.5 173.7 1126 177.1 1126.6 177.1 1127.2 174.9 1127.7 177.3 1128.3 176.8 1128.9 171.8 1129.4 162.9 1130 148 1130.6 141.9 1131.1 143.9 1131.7 149.4 1132.3 152.1 1132.8 152.2 1133.4 153.2 1134 154.6 1134.6 155.3 1135.1 155.7 1135.7 157.9 1136.3 155.9 1136.8 155.9 1137.4 152.2 1138 152 1138.5 158.3 1139.1 155 1139.7 156.7 1140.2 159.3 1140.8 157.5 1141.4 160.7 1141.9 163.2 1142.5 166.5 1143.1 164.9 1143.7 168.6 1144.2 163 1144.8 169.2 1145.4 165.8 1145.9 168.1 1146.5 166.9 1147.1 167.2 1147.6 167.1 1148.2 169.9 1148.8 170.2 1149.3 171.6 1149.9 168 1150.5 168.1 1151 169.2 1151.6 168.4 1152.2 168.4 1152.7 169.5 1153.3 168.3 1153.9 170 1154.5 169.1 1155 162.9 1155.6 156 1156.2 156.5 1156.7 161.7 1157.3 161.6 1157.9 160.8 1158.4 163.6 1159 165.8 1159.6 166.4 1160.1 164 1160.7 166.1 1161.3 166.3 1161.8 165.1 1162.4 163.7 1163 166.3 1163.6 163 1164.1 167.7 1164.7 172 1165.3 174 1165.8 174.3 1166.4 170.3 1167 171.8 1167.5 174.2 1168.1 176.2 1168.7 174.7 1169.2 175.8 1169.8 175 1170.4 170.6 1170.9 174 1171.5 175.1 1172.1 175.1 1172.6 172.1 1173.2 175.7 1173.8 171.9 1174.4 171.8 1174.9 170.3 1175.5 175.7 1176.1 159.1 1176.6 134.4 1177.2 125.5 1177.8 126.6 1178.3 129.6 1178.9 131.3 1179.5 137.7 1180 134.5 1180.6 136.6 1181.2 135.9 1181.7 141.1 1182.3 140.2 1182.9 141.6 1183.5 143.1 1184 149.3 1184.6 150.9 1185.2 148.3 1185.7 152.1 1186.3 154 1186.9 152.9 1187.4 156.6 1188 158.6 1188.6 156 1189.1 156.2 1189.7 159.3 1190.3 160.1 1190.8 163.6 1191.4 166.7 1192 164.2 1192.5 166.7 1193.1 165.7 1193.7 167.6 1194.3 172.5 1194.8 169.2 1195.4 165.5 1196 170.2 1196.5 166 1197.1 168.1 1197.7 164 1198.2 166.7 1198.8 170.1 1199.4 166.8 1199.9 170.2 1200.5 167.8 1201.1 171.6 1201.6 172.5 1202.2 174.6 1202.8 172.1 1203.4 176.1 1203.9 165.3 1204.5 145.7 1205.1 137.7 1205.6 137.8 1206.2 142.1 1206.8 141.2 1207.3 147 1207.9 147.6 1208.5 150 1209 149.9 1209.6 154.3 1210.2 153.9 1210.7 155.6 1211.3 161.1 1211.9 160.8 1212.4 164 1213 163.8 1213.6 160.1 1214.2 161.7 1214.7 166.3 1215.3 165.1 1215.9 164.4 1216.4 165.7 1217 163.3 1217.6 163.8 1218.1 160.8 1218.7 163.8 1219.3 165.1 1219.8 167.5 1220.4 169.6 1221 170.8 1221.5 170 1222.1 166.4 1222.7 163.6 1223.3 166.9 1223.8 171.3 1224.4 168.1 1225 169.1 1225.5 166.9 1226.1 170.6 1226.7 169.4 1227.2 170.1 1227.8 169.4 1228.4 170.6 1228.9 169.9 1229.5 172.1 1230.1 170.2 1230.6 169.6 1231.2 170.4 1231.8 168 1232.4 167.6 1232.9 174.3 1233.5 176.2 1234.1 174.4 1234.6 170.2 1235.2 170.2 1235.8 163.4 1236.3 147.8 1236.9 140.7 1237.5 136.8 1238 141 1238.6 140.7 1239.2 146.3 1239.7 145.3 1240.3 149.5 1240.9 152.7 1241.4 157.5 1242 157.8 1242.6 159.7 1243.2 156.7 1243.7 163.8 1244.3 163.3 1244.9 164.8 1245.4 161.8 1246 166.1 1246.6 166.7 1247.1 169 1247.7 166.7 1248.3 167.9 1248.8 167.5 1249.4 167.2 1250 171.1 1250.5 169.8 1251.1 172.3 1251.7 168.3 1252.3 169.4 1252.8 168.1 1253.4 171.4 1254 170 1254.5 169.6 1255.1 169.8 1255.7 170.5 1256.2 172.9 1256.8 174.6 1257.4 174.7 1257.9 178 1258.5 176.2 1259.1 172.3 1259.6 170.2 1260.2 174.4 1260.8 170.6 1261.3 171.3 1261.9 173.4 1262.5 171.4 1263.1 171.2 1263.6 169.1 1264.2 173.7 1264.8 172.2 1265.3 171.7 1265.9 175.5 1266.5 173.2 1267 176.2 1267.6 176.3 1268.2 178.2 1268.7 175.7 1269.3 172.3 1269.9 173.9 1270.4 174.3 1271 175 1271.6 177.6 1272.2 177.7 1272.7 176.5 1273.3 172.8 1273.9 165.6 1274.4 160.6 1275 162.9 1275.6 159.9 1276.1 163.5 1276.7 165.1 1277.3 165.5 1277.8 166 1278.4 162.6 1279 166.4 1279.5 169.9 1280.1 169.5 1280.7 169.8 1281.2 166.5 1281.8 167.4 1282.4 169.3 1283 170.9 1283.5 168.3 1284.1 171.4 1284.7 167.9 1285.2 162.9 1285.8 145.2 1286.4 137.6 1286.9 137.7 1287.5 134.8 1288.1 141.7 1288.6 141.7 1289.2 145 1289.8 146.3 1290.3 146.3 1290.9 147.7 1291.5 150.6 1292.1 154.5 1292.6 160.7 1293.2 163.9 1293.8 163.6 1294.3 163.4 1294.9 168.2 1295.5 170.1 1296 169.6 1296.6 166.2 1297.2 164.2 1297.7 163.4 1298.3 166.1 1298.9 170.5 1299.4 165.4 1300 166.9 1300.6 168.8 1301.1 168.1 1301.7 167.5 1302.3 167.2 1302.9 170.3 1303.4 169.6 1304 168.9 1304.6 170.6 1305.1 171.8 1305.7 170.8 1306.3 167.5 1306.8 167.5 1307.4 170.6 1308 170.2 1308.5 173.2 1309.1 171.5 1309.7 171.3 1310.2 169.4 1310.8 169.7 1311.4 169.7 1312 171 1312.5 171.2 1313.1 173.2 1313.7 170.6 1314.2 171.2 1314.8 170.9 1315.4 171.5 1315.9 177.2 1316.5 170 1317.1 172.3 1317.6 172.8 1318.2 170.4 1318.8 158 1319.3 134.4 1319.9 120.8 1320.5 122.4 1321 127.2 1321.6 131.1 1322.2 138.4 1322.8 138.6 1323.3 140.4 1323.9 142.1 1324.5 145.2 1325 146.3 1325.6 150.7 1326.2 153.9 1326.7 153 1327.3 156.6 1327.9 157.7 1328.4 156.7 1329 156.5 1329.6 157.7 1330.1 163.4 1330.7 160.9 1331.3 166.6 1331.9 161.5 1332.4 158.1 1333 159.7 1333.6 164.7 1334.1 164.8 1334.7 164 1335.3 163.1 1335.8 164.8 1336.4 166.9" fill="none" stroke="#057f05" stroke-width="2.4" stroke-linejoin="round"/>
<path d="M1098.2 174.2L1098 174.2 1099.7 151.6 1102.3 174.2 1128.9 174.2 1130.7 148.7 1133.2 174.2 1151.7 174.2 1153.5 146.7 1156.1 174.2 1174.8 174.2 1176.5 126 1179.1 174.2 1179.3 174.2 1180.5 168.3 1182.4 174.2 1203.7 174.2 1205.5 136.8 1208 174.2 1234.8 174.2 1236.6 146.7 1239.1 174.2 1272.2 174.2 1274 147.7 1276.5 174.2 1284 174.2 1285.8 151.6 1288.4 174.2 1290.5 174.2 1291.7 168.3 1293.7 174.2 1318.5 174.2 1320.3 125 1322.8 174.2 1336.4 174.2" fill="none" stroke="#000" stroke-width="2.2" stroke-linejoin="round"/>
<path d="M1098.2 125V185.1H1336.4" fill="none" stroke="#000" stroke-width="1.3"/>
<line x1="1098.2" y1="133.9" x2="1101.7" y2="133.9" stroke="#000" stroke-width="1.3"/>
<line x1="1336.4" y1="185.1" x2="1336.4" y2="182.1" stroke="#000" stroke-width="1.3"/>
<text transform="translate(1174.5 217.9) scale(0.986 1)">Plane 3</text>
<text x="1088.8" y="232.6" text-anchor="end">3</text>
<text x="1088.8" y="281.2" text-anchor="end">0</text>
<path d="M1098.2 271.3L1098.7 273.2 1099.3 270.7 1099.9 270.2 1100.4 268.6 1101 267.5 1101.6 269.8 1102.1 270 1102.7 269.3 1103.3 268.8 1103.9 271.4 1104.4 270.7 1105 268.2 1105.6 270.2 1106.1 269.5 1106.7 266.6 1107.3 269.8 1107.8 268.8 1108.4 273 1109 273 1109.5 271.6 1110.1 274.1 1110.7 273.2 1111.2 271.8 1111.8 269.5 1112.4 270.1 1112.9 272.7 1113.5 275.6 1114.1 267.8 1114.7 271.2 1115.2 272.3 1115.8 273.5 1116.4 276 1116.9 276.1 1117.5 275.5 1118.1 271.5 1118.6 269.1 1119.2 270.6 1119.8 269.6 1120.3 271.2 1120.9 261 1121.5 237.1 1122 222.3 1122.6 221.1 1123.2 225.6 1123.8 234 1124.3 232.2 1124.9 232.9 1125.5 234.3 1126 235.9 1126.6 240.1 1127.2 238.7 1127.7 241.5 1128.3 245.5 1128.9 248.3 1129.4 247.6 1130 250.9 1130.6 252.4 1131.1 254.7 1131.7 256.9 1132.3 261 1132.8 261.5 1133.4 263.2 1134 261.6 1134.6 264.4 1135.1 262.1 1135.7 262.7 1136.3 259 1136.8 259.4 1137.4 262.6 1138 261.7 1138.5 263.1 1139.1 267.7 1139.7 263.3 1140.2 266.2 1140.8 263.2 1141.4 261.6 1141.9 244.7 1142.5 238.9 1143.1 237.4 1143.7 242.8 1144.2 242.7 1144.8 247.8 1145.4 246.7 1145.9 251 1146.5 252.5 1147.1 252.1 1147.6 255.5 1148.2 258.6 1148.8 262 1149.3 265.9 1149.9 265.3 1150.5 265.3 1151 264 1151.6 263.6 1152.2 268.7 1152.7 272.2 1153.3 272.2 1153.9 268.3 1154.5 272.5 1155 269.8 1155.6 272.7 1156.2 270.4 1156.7 270.6 1157.3 271.2 1157.9 271.5 1158.4 272.6 1159 267.6 1159.6 269.9 1160.1 268.9 1160.7 270.8 1161.3 265.8 1161.8 267 1162.4 262 1163 245.6 1163.6 241.3 1164.1 238.2 1164.7 246.2 1165.3 246.6 1165.8 247.1 1166.4 249.3 1167 252.6 1167.5 256.3 1168.1 256.4 1168.7 257 1169.2 255.2 1169.8 259.8 1170.4 261.3 1170.9 261.3 1171.5 265.8 1172.1 266.8 1172.6 264.1 1173.2 265.3 1173.8 266.7 1174.4 266 1174.9 268 1175.5 264.9 1176.1 265.3 1176.6 264.6 1177.2 266.7 1177.8 264.9 1178.3 268.1 1178.9 267.7 1179.5 267.6 1180 269.2 1180.6 271.7 1181.2 269.7 1181.7 271 1182.3 273.6 1182.9 271.2 1183.5 268.3 1184 271.2 1184.6 270.5 1185.2 269.8 1185.7 266.8 1186.3 270 1186.9 267.3 1187.4 267.6 1188 270.9 1188.6 272.5 1189.1 274.1 1189.7 270.4 1190.3 275 1190.8 271.1 1191.4 277.8 1192 275.1 1192.5 274.6 1193.1 274 1193.7 273.8 1194.3 275.7 1194.8 270.8 1195.4 269.3 1196 267.3 1196.5 270.9 1197.1 269.6 1197.7 268.2 1198.2 271.9 1198.8 271.5 1199.4 273.6 1199.9 272.4 1200.5 274.6 1201.1 270.8 1201.6 262.9 1202.2 243.1 1202.8 236.6 1203.4 240.6 1203.9 242.1 1204.5 242.1 1205.1 246 1205.6 249.8 1206.2 250 1206.8 252.1 1207.3 251.6 1207.9 258 1208.5 257.6 1209 259.2 1209.6 261.1 1210.2 260.6 1210.7 260.6 1211.3 264.3 1211.9 260.7 1212.4 261.9 1213 261.3 1213.6 265.7 1214.2 260 1214.7 265 1215.3 264.5 1215.9 266.1 1216.4 264.4 1217 264.2 1217.6 264 1218.1 268.9 1218.7 265.6 1219.3 263.3 1219.8 264.6 1220.4 268.2 1221 267.4 1221.5 266 1222.1 263.1 1222.7 264.4 1223.3 264.1 1223.8 266.8 1224.4 266.6 1225 269.2 1225.5 268.8 1226.1 273.2 1226.7 271.9 1227.2 268.7 1227.8 270.5 1228.4 266.5 1228.9 265.1 1229.5 266.9 1230.1 267 1230.6 270.6 1231.2 271.2 1231.8 274.7 1232.4 271.6 1232.9 268.8 1233.5 267.5 1234.1 269.6 1234.6 269.1 1235.2 270.1 1235.8 267 1236.3 265.8 1236.9 266.6 1237.5 268.5 1238 270 1238.6 272.3 1239.2 270.4 1239.7 268.8 1240.3 267.9 1240.9 271.1 1241.4 270.3 1242 270 1242.6 270.5 1243.2 265.3 1243.7 248.8 1244.3 241.7 1244.9 237.5 1245.4 238.2 1246 248.5 1246.6 248 1247.1 252.6 1247.7 255.7 1248.3 253.8 1248.8 258 1249.4 257 1250 259.2 1250.5 257.7 1251.1 261.5 1251.7 264.1 1252.3 255.9 1252.8 243 1253.4 236.7 1254 237.4 1254.5 242.2 1255.1 242.4 1255.7 244 1256.2 245.1 1256.8 248 1257.4 248.5 1257.9 252.3 1258.5 254.4 1259.1 256 1259.6 257.8 1260.2 258.4 1260.8 260.5 1261.3 260.6 1261.9 261.9 1262.5 266.5 1263.1 263.1 1263.6 265 1264.2 264.9 1264.8 261.1 1265.3 263.3 1265.9 262.4 1266.5 261.7 1267 261.7 1267.6 263.3 1268.2 254.8 1268.7 231.4 1269.3 219.8 1269.9 226.1 1270.4 226.3 1271 231.8 1271.6 239.3 1272.2 234.7 1272.7 236.4 1273.3 243 1273.9 243.8 1274.4 246.8 1275 246.2 1275.6 249.3 1276.1 248.5 1276.7 252.8 1277.3 255.7 1277.8 259.6 1278.4 258.3 1279 255.9 1279.5 255.9 1280.1 255.8 1280.7 256.5 1281.2 260.1 1281.8 255.9 1282.4 259 1283 258.9 1283.5 258.4 1284.1 262.7 1284.7 263.1 1285.2 261.7 1285.8 266.4 1286.4 267.8 1286.9 263.2 1287.5 261.1 1288.1 263.8 1288.6 263.6 1289.2 267.9 1289.8 267.1 1290.3 268.8 1290.9 270.1 1291.5 269 1292.1 267.6 1292.6 264 1293.2 269.7 1293.8 265.9 1294.3 262.5 1294.9 268.2 1295.5 265.2 1296 262 1296.6 262.1 1297.2 255.4 1297.7 252.3 1298.3 256 1298.9 257.1 1299.4 261.3 1300 263.3 1300.6 261.7 1301.1 264.6 1301.7 260.8 1302.3 263.5 1302.9 265.8 1303.4 265.7 1304 269.3 1304.6 271.8 1305.1 267.1 1305.7 268.8 1306.3 266.1 1306.8 266.1 1307.4 267 1308 269.3 1308.5 266.6 1309.1 263.8 1309.7 265.4 1310.2 266.7 1310.8 266.8 1311.4 268.4 1312 272.6 1312.5 273.1 1313.1 274.4 1313.7 275.1 1314.2 270.4 1314.8 273.9 1315.4 271.3 1315.9 270.5 1316.5 269.6 1317.1 273.1 1317.6 275.2 1318.2 272.4 1318.8 270.8 1319.3 270.3 1319.9 271.5 1320.5 270.1 1321 270.5 1321.6 271.1 1322.2 272.7 1322.8 271.1 1323.3 271.9 1323.9 269.5 1324.5 270.8 1325 270.2 1325.6 271.3 1326.2 266.9 1326.7 269.8 1327.3 266 1327.9 264.7 1328.4 263.6 1329 262.9 1329.6 265.3 1330.1 266.1 1330.7 266.2 1331.3 268 1331.9 270.1 1332.4 273.2 1333 271.6 1333.6 273.2 1334.1 274.5 1334.7 273.1 1335.3 272.3 1335.8 274 1336.4 271.4" fill="none" stroke="#057f05" stroke-width="2.4" stroke-linejoin="round"/>
<path d="M1098.2 271.8L1107.4 271.8 1108.6 267.3 1110.6 271.8 1119.6 271.8 1121.4 227.9 1124 271.8 1139.7 271.8 1141.5 241.7 1144 271.8 1152.7 271.8 1153.9 265.3 1155.9 271.8 1159.4 271.8 1161.2 230.8 1163.7 271.8 1196.4 271.8 1198.2 254.5 1200.7 271.8 1200.4 271.8 1202.1 254.5 1204.7 271.8 1227.5 271.8 1228.7 262.3 1230.7 271.8 1241.3 271.8 1243.1 222 1245.6 271.8 1251.5 271.8 1253.3 241.7 1255.9 271.8 1258 271.8 1259.2 264.3 1261.2 271.8 1266.7 271.8 1268.5 251.5 1271 271.8 1296.4 271.8 1297.6 264.3 1299.6 271.8 1336.4 271.8" fill="none" stroke="#000" stroke-width="2.2" stroke-linejoin="round"/>
<path d="M1098.2 222V281.4H1336.4" fill="none" stroke="#000" stroke-width="1.3"/>
<line x1="1098.2" y1="223.9" x2="1101.7" y2="223.9" stroke="#000" stroke-width="1.3"/>
<line x1="1336.4" y1="281.4" x2="1336.4" y2="278.4" stroke="#000" stroke-width="1.3"/>
<text transform="translate(1174.5 314.8) scale(0.983 1)">Plane 4</text>
<text x="1088.8" y="338" text-anchor="end">4</text>
<text x="1088.8" y="383" text-anchor="end">0</text>
<path d="M1098.2 375.6L1098.7 375.2 1099.3 374.5 1099.9 375.3 1100.4 373.9 1101 369.9 1101.6 373 1102.1 373.1 1102.7 372.7 1103.3 372.8 1103.9 374.5 1104.4 373.7 1105 374.2 1105.6 373.7 1106.1 375 1106.7 374.4 1107.3 375.4 1107.8 375 1108.4 360.7 1109 333.8 1109.5 319.8 1110.1 321.9 1110.7 321.6 1111.2 324.5 1111.8 326.2 1112.4 326.5 1112.9 328.8 1113.5 333.6 1114.1 335.5 1114.7 337 1115.2 337.5 1115.8 340.7 1116.4 341.5 1116.9 341.4 1117.5 342.7 1118.1 344.3 1118.6 344.1 1119.2 348.5 1119.8 347.4 1120.3 350.7 1120.9 348.9 1121.5 351.5 1122 350.9 1122.6 352 1123.2 355.3 1123.8 355.4 1124.3 357.4 1124.9 360.6 1125.5 359 1126 359.8 1126.6 361 1127.2 360 1127.7 361.9 1128.3 362.4 1128.9 362.4 1129.4 364.3 1130 366.3 1130.6 363.7 1131.1 364.4 1131.7 365.1 1132.3 366.4 1132.8 366 1133.4 366.6 1134 365.3 1134.6 365.1 1135.1 367.6 1135.7 369 1136.3 369 1136.8 369 1137.4 370.1 1138 362 1138.5 350.7 1139.1 345.5 1139.7 347.8 1140.2 348.4 1140.8 348.5 1141.4 350 1141.9 352.8 1142.5 353.5 1143.1 356.3 1143.7 355.6 1144.2 358.1 1144.8 358.6 1145.4 358.7 1145.9 361 1146.5 361.8 1147.1 362.1 1147.6 363.5 1148.2 364.6 1148.8 363.8 1149.3 364.7 1149.9 364.6 1150.5 365.6 1151 364.4 1151.6 365.7 1152.2 365.8 1152.7 368.4 1153.3 368 1153.9 369 1154.5 369.1 1155 369.1 1155.6 369.4 1156.2 369.1 1156.7 369.5 1157.3 369 1157.9 370.2 1158.4 368.4 1159 368.3 1159.6 370.8 1160.1 371.2 1160.7 373.6 1161.3 373.1 1161.8 372 1162.4 370.9 1163 371.8 1163.6 372.5 1164.1 371.6 1164.7 371.7 1165.3 369.9 1165.8 370.5 1166.4 370.4 1167 371.1 1167.5 366.2 1168.1 354.5 1168.7 349.9 1169.2 350.7 1169.8 353 1170.4 352.6 1170.9 353.9 1171.5 354.7 1172.1 353.5 1172.6 356.9 1173.2 356.8 1173.8 356.5 1174.4 357.9 1174.9 358.1 1175.5 360 1176.1 361.1 1176.6 361.3 1177.2 362.1 1177.8 363.1 1178.3 363.9 1178.9 362.4 1179.5 363.2 1180 363.4 1180.6 363.8 1181.2 363.9 1181.7 364.4 1182.3 365.7 1182.9 366.5 1183.5 367.3 1184 367.4 1184.6 367.9 1185.2 369.4 1185.7 368 1186.3 367.3 1186.9 366.8 1187.4 368.8 1188 369.6 1188.6 368.7 1189.1 369.8 1189.7 371 1190.3 371.7 1190.8 368.8 1191.4 370.1 1192 364.8 1192.5 348.1 1193.1 339.3 1193.7 339.4 1194.3 341.9 1194.8 343.4 1195.4 345.9 1196 347.6 1196.5 347.9 1197.1 349.4 1197.7 350.5 1198.2 351.3 1198.8 352.3 1199.4 354 1199.9 354 1200.5 356.7 1201.1 356.6 1201.6 355.6 1202.2 355.1 1202.8 359.4 1203.4 357.7 1203.9 357.7 1204.5 357.5 1205.1 358.5 1205.6 360.2 1206.2 360.4 1206.8 360.8 1207.3 361.8 1207.9 363 1208.5 363.5 1209 364.1 1209.6 365.6 1210.2 365.8 1210.7 365.1 1211.3 363.1 1211.9 366 1212.4 365.8 1213 368.2 1213.6 362.7 1214.2 351.6 1214.7 345.7 1215.3 345.2 1215.9 347.2 1216.4 347.6 1217 349.4 1217.6 353 1218.1 356.5 1218.7 356 1219.3 357 1219.8 358.7 1220.4 355.1 1221 339.7 1221.5 333.3 1222.1 333.4 1222.7 336.8 1223.3 337.4 1223.8 337.6 1224.4 340.5 1225 342.3 1225.5 344 1226.1 344.7 1226.7 345.1 1227.2 346.5 1227.8 350.7 1228.4 352.8 1228.9 352.1 1229.5 351.9 1230.1 355 1230.6 359 1231.2 355 1231.8 356.3 1232.4 356.8 1232.9 360.2 1233.5 359.4 1234.1 360.1 1234.6 360 1235.2 361.6 1235.8 362.5 1236.3 364.1 1236.9 362 1237.5 362.4 1238 363.9 1238.6 361.8 1239.2 364.2 1239.7 363.4 1240.3 365 1240.9 365.1 1241.4 366.5 1242 367.2 1242.6 367.1 1243.2 367.4 1243.7 366.4 1244.3 362.1 1244.9 365.8 1245.4 365.2 1246 366.1 1246.6 365.1 1247.1 367.4 1247.7 367.1 1248.3 366.8 1248.8 367.1 1249.4 367.5 1250 368.7 1250.5 368.5 1251.1 368.1 1251.7 369.9 1252.3 372 1252.8 369.4 1253.4 371.1 1254 372.3 1254.5 369.1 1255.1 370.6 1255.7 371.9 1256.2 373 1256.8 370.9 1257.4 370.9 1257.9 370.9 1258.5 370.6 1259.1 372.2 1259.6 373 1260.2 369.7 1260.8 371.3 1261.3 372.1 1261.9 370.9 1262.5 372.1 1263.1 372.8 1263.6 372.5 1264.2 371.2 1264.8 372.7 1265.3 369.5 1265.9 364.9 1266.5 363.5 1267 362.4 1267.6 362.3 1268.2 363.7 1268.7 363.5 1269.3 366.1 1269.9 366 1270.4 363.3 1271 363.6 1271.6 364.1 1272.2 364.6 1272.7 366.1 1273.3 367.3 1273.9 368.1 1274.4 370.4 1275 370.9 1275.6 369.9 1276.1 369.1 1276.7 372.5 1277.3 371.5 1277.8 369.2 1278.4 369.8 1279 371.8 1279.5 372.1 1280.1 372.9 1280.7 374.6 1281.2 373.4 1281.8 373.3 1282.4 373.9 1283 372.5 1283.5 373.6 1284.1 374.1 1284.7 375.8 1285.2 374.2 1285.8 372.5 1286.4 373 1286.9 373.9 1287.5 374.4 1288.1 373 1288.6 373.4 1289.2 368.4 1289.8 355.1 1290.3 347.4 1290.9 348.2 1291.5 348.9 1292.1 349.9 1292.6 350 1293.2 350.6 1293.8 352.2 1294.3 354.5 1294.9 352.9 1295.5 355.7 1296 356.4 1296.6 357.3 1297.2 358.7 1297.7 359.5 1298.3 361.1 1298.9 362.3 1299.4 362.9 1300 361.5 1300.6 362 1301.1 364.9 1301.7 364.6 1302.3 364.2 1302.9 365.1 1303.4 362.4 1304 364.4 1304.6 365.9 1305.1 364.4 1305.7 365 1306.3 365.6 1306.8 362.6 1307.4 365.9 1308 366.1 1308.5 367.9 1309.1 367.4 1309.7 366.4 1310.2 368.8 1310.8 368.1 1311.4 368.9 1312 367.5 1312.5 370.1 1313.1 369.7 1313.7 368.7 1314.2 370.2 1314.8 369.7 1315.4 371.1 1315.9 369.9 1316.5 369.4 1317.1 370.8 1317.6 370 1318.2 370.8 1318.8 368.4 1319.3 367.3 1319.9 370.9 1320.5 371.9 1321 370.7 1321.6 371.6 1322.2 372.3 1322.8 372.2 1323.3 371.3 1323.9 367.8 1324.5 362 1325 358.6 1325.6 357.1 1326.2 356.8 1326.7 361 1327.3 361.5 1327.9 362.4 1328.4 363.9 1329 364.5 1329.6 362.7 1330.1 364.3 1330.7 364.7 1331.3 364.3 1331.9 366.3 1332.4 368.7 1333 369.6 1333.6 366.5 1334.1 369 1334.7 369.2 1335.3 369.6 1335.8 369 1336.4 368.8" fill="none" stroke="#057f05" stroke-width="2.4" stroke-linejoin="round"/>
<path d="M1098.2 373.2L1107.2 373.2 1109 318.4 1111.6 373.2 1114.7 373.2 1115.9 362.7 1117.9 373.2 1131.8 373.2 1133.6 352.3 1136.2 373.2 1137.3 373.2 1139.1 345 1141.7 373.2 1162 373.2 1163.7 349 1166.3 373.2 1166.3 373.2 1168.1 353.9 1170.6 373.2 1190.9 373.2 1192.7 328.7 1195.2 373.2 1212.2 373.2 1213.9 334.6 1216.5 373.2 1219.4 373.2 1221.2 342.1 1223.8 373.2 1243.3 373.2 1244.5 362.7 1246.4 373.2 1263.6 373.2 1264.7 364.1 1266.7 373.2 1288 373.2 1289.7 332.6 1292.3 373.2 1293.5 373.2 1294.7 365.7 1296.6 373.2 1322.4 373.2 1324.2 351.9 1326.8 373.2 1336.4 373.2" fill="none" stroke="#000" stroke-width="2.2" stroke-linejoin="round"/>
<path d="M1098.2 318.4V377.5H1336.4" fill="none" stroke="#000" stroke-width="1.3"/>
<line x1="1098.2" y1="329.3" x2="1101.7" y2="329.3" stroke="#000" stroke-width="1.3"/>
<line x1="1336.4" y1="377.5" x2="1336.4" y2="374.5" stroke="#000" stroke-width="1.3"/>
<text x="1093.8" y="406.8" text-anchor="middle">0</text>
<text x="1335.6" y="406.8" text-anchor="middle">60</text>
<text transform="translate(1174.1 440.7) scale(0.952 1)">Time (s)</text>
<g clip-path="url(#ci0)">
<rect x="1364.2" y="19.2" width="60.7" height="59.4" fill="#444"/>
<g filter="url(#blur3)">
<ellipse cx="1368.4" cy="38.8" rx="3" ry="3" fill="#909090" opacity="0.7"/>
<ellipse cx="1377.6" cy="63.8" rx="5" ry="4" fill="#707070" opacity="0.6"/>
<ellipse cx="1394.5" cy="24" rx="30" ry="6" fill="#1c1c1c" opacity="0.8"/>
<ellipse cx="1415.8" cy="51.9" rx="8" ry="10" fill="#3a3a3a" opacity="0.6"/>
<ellipse cx="1394.5" cy="75.6" rx="30" ry="5" fill="#626262" opacity="0.7"/>
<ellipse cx="1400.6" cy="32.3" rx="4" ry="3" fill="#161616" opacity="0.6"/>
</g>
<rect x="1364.2" y="19.2" width="60.7" height="59.4" filter="url(#blotch)" opacity="0.16"/>
<rect x="1364.2" y="19.2" width="60.7" height="59.4" filter="url(#blotchd)" opacity="0.22"/>
<ellipse cx="1392.7" cy="50.7" rx="7" ry="3.8" fill="#989898" opacity="0.85" filter="url(#blur15)"/>
</g>
<path d="M1372 45.7L1380.3 42.3 1390.2 39.4 1400 36.4 1404.9 30.5 1409.8 29.9 1410.4 35.4 1405.9 40.4 1402.9 45.3 1405.9 52.2 1410.4 54.1 1402.9 57.1 1399 61 1396.1 64 1391.1 59.1 1384.2 57.1 1379.3 53.2 1377.4 48.8Z" fill="none" stroke="#f50a0a" stroke-width="2" stroke-linejoin="round"/>
<g clip-path="url(#ci1)">
<rect x="1364.2" y="115.1" width="60.7" height="59.5" fill="#484848"/>
<g filter="url(#blur3)">
<ellipse cx="1394.5" cy="144.8" rx="12" ry="10" fill="#707070" opacity="0.6"/>
<ellipse cx="1415.8" cy="122.2" rx="12" ry="8" fill="#686868" opacity="0.6"/>
<ellipse cx="1376.3" cy="159.7" rx="5" ry="4" fill="#606060" opacity="0.6"/>
<ellipse cx="1371.5" cy="124" rx="10" ry="8" fill="#383838" opacity="0.6"/>
<ellipse cx="1412.8" cy="168.7" rx="14" ry="6" fill="#303030" opacity="0.7"/>
</g>
<rect x="1364.2" y="115.1" width="60.7" height="59.5" filter="url(#blotch)" opacity="0.16"/>
<rect x="1364.2" y="115.1" width="60.7" height="59.5" filter="url(#blotchd)" opacity="0.22"/>
<ellipse cx="1396.4" cy="142.5" rx="6.5" ry="4.8" fill="#e4e4e4" opacity="1" filter="url(#blur15)"/>
</g>
<path d="M1377.4 144.7L1384.2 141.8 1390.2 133.9 1395.1 128.4 1399 130.9 1400 135.9 1405.9 137.8 1409.8 139.8 1406.9 145.7 1405.5 154.6 1398 155.5 1391.1 156.5 1386.2 151.6 1380.3 148.7Z" fill="none" stroke="#f50a0a" stroke-width="2" stroke-linejoin="round"/>
<g clip-path="url(#ci2)">
<rect x="1364.2" y="212.2" width="60.7" height="59.6" fill="#505050"/>
<g filter="url(#blur3)">
<ellipse cx="1394.5" cy="239" rx="12" ry="10" fill="#707070" opacity="0.6"/>
<ellipse cx="1401.8" cy="215.8" rx="5" ry="3" fill="#909090" opacity="0.7"/>
<ellipse cx="1376.3" cy="259.9" rx="10" ry="8" fill="#424242" opacity="0.6"/>
<ellipse cx="1415.8" cy="262.9" rx="8" ry="6" fill="#5c5c5c" opacity="0.6"/>
<ellipse cx="1370.3" cy="224.1" rx="8" ry="8" fill="#404040" opacity="0.6"/>
</g>
<rect x="1364.2" y="212.2" width="60.7" height="59.6" filter="url(#blotch)" opacity="0.16"/>
<rect x="1364.2" y="212.2" width="60.7" height="59.6" filter="url(#blotchd)" opacity="0.22"/>
<ellipse cx="1394.5" cy="238.4" rx="6.5" ry="4.8" fill="#c4c4c4" opacity="1" filter="url(#blur15)"/>
</g>
<path d="M1381.9 241.7L1384.2 234.8 1391.1 231.8 1398 234.8 1403.9 238.7 1409.8 239.3 1413.2 242.1 1407.9 245.6 1402.9 249.5 1399 253.5 1392.1 251.1 1385.2 249.5Z" fill="none" stroke="#f50a0a" stroke-width="2" stroke-linejoin="round"/>
<g clip-path="url(#ci3)">
<rect x="1364.2" y="309" width="60.7" height="59.7" fill="#585858"/>
<g filter="url(#blur3)">
<ellipse cx="1394.5" cy="337.1" rx="11" ry="11" fill="#8a8a8a" opacity="0.6"/>
<ellipse cx="1367.8" cy="316.2" rx="9" ry="12" fill="#1e1e1e" opacity="0.85"/>
<ellipse cx="1415.8" cy="326.9" rx="8" ry="8" fill="#484848" opacity="0.6"/>
<ellipse cx="1406.7" cy="359.7" rx="10" ry="8" fill="#666" opacity="0.6"/>
<ellipse cx="1376.3" cy="356.8" rx="8" ry="6" fill="#5c5c5c" opacity="0.5"/>
</g>
<rect x="1364.2" y="309" width="60.7" height="59.7" filter="url(#blotch)" opacity="0.16"/>
<rect x="1364.2" y="309" width="60.7" height="59.7" filter="url(#blotchd)" opacity="0.22"/>
<ellipse cx="1394.5" cy="337.1" rx="6.5" ry="6.5" fill="#d0d0d0" opacity="1" filter="url(#blur15)"/>
<circle cx="1394.5" cy="337.1" r="2" fill="#777" opacity="0.8" filter="url(#blur15)"/>
</g>
<path d="M1380.3 338.1L1382.3 332.2 1390.2 329.3 1398 327.9 1403.5 326.3 1404.3 334.2 1405.9 338.1 1403.9 344 1405.5 349.9 1399 347.6 1390.2 347 1383.3 347 1380.3 344Z" fill="none" stroke="#f50a0a" stroke-width="2" stroke-linejoin="round"/>
<rect x="1372" y="358.8" width="11.7" height="4.3" fill="#fff"/>
<text transform="translate(1467.5 23.1) scale(1.08 1)" font-size="31" font-weight="bold" stroke="#000" stroke-width="2.0" stroke-linejoin="miter">f</text>
<text transform="translate(1544.1 31.6) scale(0.966 1)">Cell 1</text>
<text transform="translate(1663.9 31.6) scale(0.982 1)">Cell 2</text>
<text transform="translate(1543.5 203.8) scale(1.007 1)">Cell 3</text>
<text transform="translate(1663.6 203.8) scale(0.979 1)">Cell 4</text>
<text transform="translate(1488.7 301.4) rotate(-90) scale(0.999 1)">Activity (normalized)</text>
<path d="M1531.5 48.1V165.1H1620.7" fill="none" stroke="#000" stroke-width="1.2"/>
<line x1="1544.1" y1="48.1" x2="1544.1" y2="165.1" stroke="#000" stroke-width="2.2"/>
<path d="M1531.5 221.9V338.9H1620.7" fill="none" stroke="#000" stroke-width="1.2"/>
<line x1="1544.1" y1="221.9" x2="1544.1" y2="338.9" stroke="#000" stroke-width="2.2"/>
<path d="M1651.6 48.1V165.1H1740.8" fill="none" stroke="#000" stroke-width="1.2"/>
<line x1="1664.2" y1="48.1" x2="1664.2" y2="165.1" stroke="#000" stroke-width="2.2"/>
<path d="M1651.6 221.9V338.9H1740.8" fill="none" stroke="#000" stroke-width="1.2"/>
<line x1="1664.2" y1="221.9" x2="1664.2" y2="338.9" stroke="#000" stroke-width="2.2"/>
<line x1="1531.5" y1="221.9" x2="1537.5" y2="221.9" stroke="#000" stroke-width="1.2"/>
<line x1="1531.5" y1="338.9" x2="1537.5" y2="338.9" stroke="#000" stroke-width="1.2"/>
<line x1="1608.2" y1="338.9" x2="1608.2" y2="333.5" stroke="#000" stroke-width="1.2"/>
<path d="M1534 106.6C1534.4 105.2 1535.5 100.7 1536.3 98.1C1537.1 95.5 1537.7 96.3 1538.7 91C1539.7 85.7 1541.5 71.6 1542.5 66.4C1543.4 61.1 1543.6 60.2 1544.3 59.7C1545 59.2 1545.7 57.4 1546.6 63.2C1547.5 69 1548.8 82.8 1550 94.3C1551.2 105.8 1552.8 124.6 1553.8 132.3C1554.7 139.9 1555.2 137.6 1555.8 140C1556.5 142.4 1557.2 145.3 1557.9 146.7C1558.6 148 1559.4 147.4 1560.1 148C1560.8 148.6 1561.3 150.6 1562.3 150.4C1563.3 150.2 1565 148 1566 147.1C1567.1 146.2 1567.6 146 1568.4 145.1C1569.2 144.3 1569.9 142.2 1570.8 141.9C1571.6 141.6 1572.6 142.9 1573.6 143.3C1574.5 143.8 1575.5 144.8 1576.4 144.6C1577.4 144.4 1578.3 142.7 1579.2 142.1C1580.2 141.5 1581.2 141.5 1582.1 141.1C1582.9 140.7 1583.5 140.2 1584.3 139.5C1585 138.8 1585.7 137.6 1586.5 136.9C1587.2 136.2 1587.9 135.4 1588.7 135.3C1589.4 135.2 1590.3 136 1591 136.4C1591.8 136.7 1592.5 137.5 1593.4 137.3C1594.3 137.1 1595.3 135.9 1596.2 135.2C1597.2 134.6 1598.2 134.6 1599.1 133.6C1599.9 132.7 1600.7 131 1601.6 129.5C1602.4 128 1603.2 126.1 1604.1 124.6C1604.9 123.1 1605.7 121.3 1606.6 120.4C1607.5 119.5 1608.5 119.7 1609.4 119.3C1610.4 118.8 1611.2 117.9 1612.3 117.9C1613.4 118 1614.8 118.7 1616 119.5C1617.3 120.3 1619.2 122.1 1619.8 122.6" fill="none" stroke="#9a9aee" stroke-width="6.6" stroke-linejoin="round" stroke-linecap="butt" opacity="0.8"/>
<path d="M1534 106.6C1534.4 105.2 1535.5 100.7 1536.3 98.1C1537.1 95.5 1537.7 96.3 1538.7 91C1539.7 85.7 1541.5 71.6 1542.5 66.4C1543.4 61.1 1543.6 60.2 1544.3 59.7C1545 59.2 1545.7 57.4 1546.6 63.2C1547.5 69 1548.8 82.8 1550 94.3C1551.2 105.8 1552.8 124.6 1553.8 132.3C1554.7 139.9 1555.2 137.6 1555.8 140C1556.5 142.4 1557.2 145.3 1557.9 146.7C1558.6 148 1559.4 147.4 1560.1 148C1560.8 148.6 1561.3 150.6 1562.3 150.4C1563.3 150.2 1565 148 1566 147.1C1567.1 146.2 1567.6 146 1568.4 145.1C1569.2 144.3 1569.9 142.2 1570.8 141.9C1571.6 141.6 1572.6 142.9 1573.6 143.3C1574.5 143.8 1575.5 144.8 1576.4 144.6C1577.4 144.4 1578.3 142.7 1579.2 142.1C1580.2 141.5 1581.2 141.5 1582.1 141.1C1582.9 140.7 1583.5 140.2 1584.3 139.5C1585 138.8 1585.7 137.6 1586.5 136.9C1587.2 136.2 1587.9 135.4 1588.7 135.3C1589.4 135.2 1590.3 136 1591 136.4C1591.8 136.7 1592.5 137.5 1593.4 137.3C1594.3 137.1 1595.3 135.9 1596.2 135.2C1597.2 134.6 1598.2 134.6 1599.1 133.6C1599.9 132.7 1600.7 131 1601.6 129.5C1602.4 128 1603.2 126.1 1604.1 124.6C1604.9 123.1 1605.7 121.3 1606.6 120.4C1607.5 119.5 1608.5 119.7 1609.4 119.3C1610.4 118.8 1611.2 117.9 1612.3 117.9C1613.4 118 1614.8 118.7 1616 119.5C1617.3 120.3 1619.2 122.1 1619.8 122.6" fill="none" stroke="#0808c8" stroke-width="4.4" stroke-linejoin="round" stroke-linecap="butt"/>
<path d="M1653.8 160.4C1654.2 160.4 1655.7 160.6 1656.6 160.7C1657.5 160.7 1658.5 161.2 1659.4 160.6C1660.4 160.1 1661.3 158.3 1662.3 157.3C1663.2 156.3 1664 160.2 1665.1 154.5C1666.2 148.7 1667.8 136 1668.9 122.8C1670 109.7 1670.8 86.6 1671.7 75.6C1672.6 64.6 1673.6 55.2 1674.5 56.7C1675.5 58.2 1676.3 72.2 1677.4 84.8C1678.5 97.4 1680 122.4 1681.1 132.1C1682.2 141.9 1683.1 140.9 1684 143.5C1684.9 146 1685.6 146 1686.5 147.2C1687.3 148.4 1688.2 149.5 1689 150.7C1689.8 152 1690.7 153.9 1691.5 154.7C1692.3 155.5 1693.2 155.3 1694 155.6C1694.9 155.9 1695.7 156.4 1696.5 156.7C1697.4 157.1 1698.2 157.5 1699.1 157.8C1699.9 158.2 1700.7 158.5 1701.6 158.8C1702.4 159 1703.2 159.2 1704.1 159.5C1704.9 159.7 1705.8 160.2 1706.6 160.3C1707.4 160.5 1708.1 160.4 1708.9 160.4C1709.6 160.4 1710.4 160.4 1711.1 160.5C1711.9 160.5 1712.6 160.6 1713.4 160.7C1714.2 160.8 1714.9 161 1715.7 161.1C1716.4 161.2 1717.2 161.2 1717.9 161.2C1718.7 161.2 1719.4 161.2 1720.2 161.2C1720.9 161.3 1721.7 161.5 1722.5 161.6C1723.2 161.6 1724 161.4 1724.7 161.3C1725.5 161.3 1726.2 161.4 1727 161.4C1727.7 161.3 1728.4 161.3 1729.2 161.2C1730 161 1730.9 160.7 1731.8 160.6C1732.6 160.5 1733.4 160.4 1734.3 160.3C1735.1 160.2 1736.4 160.1 1736.8 160" fill="none" stroke="#9a9aee" stroke-width="6.6" stroke-linejoin="round" stroke-linecap="butt" opacity="0.8"/>
<path d="M1653.8 160.4C1654.2 160.4 1655.7 160.6 1656.6 160.7C1657.5 160.7 1658.5 161.2 1659.4 160.6C1660.4 160.1 1661.3 158.3 1662.3 157.3C1663.2 156.3 1664 160.2 1665.1 154.5C1666.2 148.7 1667.8 136 1668.9 122.8C1670 109.7 1670.8 86.6 1671.7 75.6C1672.6 64.6 1673.6 55.2 1674.5 56.7C1675.5 58.2 1676.3 72.2 1677.4 84.8C1678.5 97.4 1680 122.4 1681.1 132.1C1682.2 141.9 1683.1 140.9 1684 143.5C1684.9 146 1685.6 146 1686.5 147.2C1687.3 148.4 1688.2 149.5 1689 150.7C1689.8 152 1690.7 153.9 1691.5 154.7C1692.3 155.5 1693.2 155.3 1694 155.6C1694.9 155.9 1695.7 156.4 1696.5 156.7C1697.4 157.1 1698.2 157.5 1699.1 157.8C1699.9 158.2 1700.7 158.5 1701.6 158.8C1702.4 159 1703.2 159.2 1704.1 159.5C1704.9 159.7 1705.8 160.2 1706.6 160.3C1707.4 160.5 1708.1 160.4 1708.9 160.4C1709.6 160.4 1710.4 160.4 1711.1 160.5C1711.9 160.5 1712.6 160.6 1713.4 160.7C1714.2 160.8 1714.9 161 1715.7 161.1C1716.4 161.2 1717.2 161.2 1717.9 161.2C1718.7 161.2 1719.4 161.2 1720.2 161.2C1720.9 161.3 1721.7 161.5 1722.5 161.6C1723.2 161.6 1724 161.4 1724.7 161.3C1725.5 161.3 1726.2 161.4 1727 161.4C1727.7 161.3 1728.4 161.3 1729.2 161.2C1730 161 1730.9 160.7 1731.8 160.6C1732.6 160.5 1733.4 160.4 1734.3 160.3C1735.1 160.2 1736.4 160.1 1736.8 160" fill="none" stroke="#0808c8" stroke-width="4.4" stroke-linejoin="round" stroke-linecap="butt"/>
<path d="M1533.3 321.1C1533.8 320.9 1535.3 320.5 1536.2 320.3C1537.2 320.1 1538.2 319.7 1539.2 319.9C1540.2 320.1 1541.2 321 1542.2 321.6C1543.2 322.2 1544.2 322.6 1545.2 323.5C1546.2 324.5 1547.2 326 1548.1 327.1C1549.1 328.2 1550.1 329.5 1551.1 330.3C1552.1 331 1553.1 330.9 1554.1 331.4C1555.1 331.9 1556.2 333.7 1557.1 333.2C1558 332.8 1558.7 330.1 1559.4 328.6C1560.2 327.2 1561 327 1561.8 324.4C1562.6 321.9 1563.4 317.1 1564.2 313.2C1565 309.2 1565.8 305.8 1566.6 300.8C1567.4 295.9 1568.2 289.2 1569 283.3C1569.8 277.3 1570.5 270.8 1571.3 265.2C1572.1 259.5 1572.9 254.6 1573.7 249.2C1574.5 243.8 1575.1 232.9 1576.1 232.8C1577.1 232.7 1578.7 243.2 1579.7 248.6C1580.7 254.1 1581.3 259.9 1582 265.5C1582.8 271 1583.5 277.3 1584.4 281.8C1585.3 286.4 1586.4 289.1 1587.4 292.7C1588.4 296.3 1589.5 300.5 1590.4 303.4C1591.3 306.3 1592 307.6 1592.8 310C1593.5 312.4 1594.3 316 1595.1 317.7C1595.9 319.4 1596.7 319.5 1597.5 320.4C1598.3 321.2 1599.1 322.1 1599.9 322.9C1600.7 323.8 1601.4 324.8 1602.3 325.5C1603.2 326.1 1604.3 326.6 1605.2 327C1606.2 327.3 1607.2 327.4 1608.2 327.5C1609.2 327.5 1610.2 327.3 1611.2 327.2C1612.2 327.1 1613.3 327 1614.2 326.9C1615.1 326.7 1615.8 326.5 1616.5 326.4C1617.3 326.2 1618.5 325.9 1618.9 325.8" fill="none" stroke="#9a9aee" stroke-width="6.6" stroke-linejoin="round" stroke-linecap="butt" opacity="0.8"/>
<path d="M1533.3 321.1C1533.8 320.9 1535.3 320.5 1536.2 320.3C1537.2 320.1 1538.2 319.7 1539.2 319.9C1540.2 320.1 1541.2 321 1542.2 321.6C1543.2 322.2 1544.2 322.6 1545.2 323.5C1546.2 324.5 1547.2 326 1548.1 327.1C1549.1 328.2 1550.1 329.5 1551.1 330.3C1552.1 331 1553.1 330.9 1554.1 331.4C1555.1 331.9 1556.2 333.7 1557.1 333.2C1558 332.8 1558.7 330.1 1559.4 328.6C1560.2 327.2 1561 327 1561.8 324.4C1562.6 321.9 1563.4 317.1 1564.2 313.2C1565 309.2 1565.8 305.8 1566.6 300.8C1567.4 295.9 1568.2 289.2 1569 283.3C1569.8 277.3 1570.5 270.8 1571.3 265.2C1572.1 259.5 1572.9 254.6 1573.7 249.2C1574.5 243.8 1575.1 232.9 1576.1 232.8C1577.1 232.7 1578.7 243.2 1579.7 248.6C1580.7 254.1 1581.3 259.9 1582 265.5C1582.8 271 1583.5 277.3 1584.4 281.8C1585.3 286.4 1586.4 289.1 1587.4 292.7C1588.4 296.3 1589.5 300.5 1590.4 303.4C1591.3 306.3 1592 307.6 1592.8 310C1593.5 312.4 1594.3 316 1595.1 317.7C1595.9 319.4 1596.7 319.5 1597.5 320.4C1598.3 321.2 1599.1 322.1 1599.9 322.9C1600.7 323.8 1601.4 324.8 1602.3 325.5C1603.2 326.1 1604.3 326.6 1605.2 327C1606.2 327.3 1607.2 327.4 1608.2 327.5C1609.2 327.5 1610.2 327.3 1611.2 327.2C1612.2 327.1 1613.3 327 1614.2 326.9C1615.1 326.7 1615.8 326.5 1616.5 326.4C1617.3 326.2 1618.5 325.9 1618.9 325.8" fill="none" stroke="#0808c8" stroke-width="4.4" stroke-linejoin="round" stroke-linecap="butt"/>
<path d="M1653.4 277.1C1653.8 277.4 1655 278.4 1655.8 279.1C1656.6 279.8 1657.4 279.5 1658.2 281.3C1659 283.2 1659.8 287.2 1660.6 290C1661.4 292.8 1662.2 295.4 1662.9 298.1C1663.7 300.8 1664.5 303.5 1665.3 306.3C1666.1 309.1 1666.7 312.3 1667.7 315C1668.7 317.8 1670.1 322.3 1671.3 322.8C1672.5 323.3 1673.8 319.7 1674.8 317.9C1675.8 316.1 1676.4 314 1677.2 311.9C1678 309.8 1678.8 307.3 1679.6 305.3C1680.4 303.3 1681.2 301.3 1682 299.7C1682.8 298.1 1683.6 297.1 1684.4 295.8C1685.1 294.6 1685.7 292.6 1686.7 292.1C1687.7 291.7 1689.3 293.7 1690.3 293.2C1691.3 292.8 1691.9 290.6 1692.7 289.4C1693.5 288.3 1694.3 287.5 1695.1 286.3C1695.9 285.1 1696.6 283.6 1697.4 282.2C1698.2 280.8 1699 279.4 1699.8 278C1700.6 276.6 1701.4 275.4 1702.2 273.9C1703 272.3 1703.8 270.5 1704.6 269C1705.4 267.5 1706.2 266.7 1707 264.9C1707.8 263.1 1708.5 260.5 1709.3 258.2C1710.1 255.9 1711 253.7 1711.7 251.2C1712.5 248.6 1713.1 245.7 1713.9 243C1714.6 240.2 1715.2 235.2 1716 234.7C1716.8 234.1 1717.7 237.8 1718.6 239.7C1719.5 241.6 1720.3 245.3 1721.2 246.3C1722.2 247.3 1723.2 246 1724.2 245.7C1725.2 245.5 1726.3 243.5 1727.2 245C1728.1 246.4 1728.8 251.3 1729.6 254.7C1730.4 258 1731.1 261.6 1731.9 265.1C1732.8 268.7 1733.8 272.2 1734.7 276C1735.6 279.8 1737 285.8 1737.4 287.8" fill="none" stroke="#9a9aee" stroke-width="6.6" stroke-linejoin="round" stroke-linecap="butt" opacity="0.8"/>
<path d="M1653.4 277.1C1653.8 277.4 1655 278.4 1655.8 279.1C1656.6 279.8 1657.4 279.5 1658.2 281.3C1659 283.2 1659.8 287.2 1660.6 290C1661.4 292.8 1662.2 295.4 1662.9 298.1C1663.7 300.8 1664.5 303.5 1665.3 306.3C1666.1 309.1 1666.7 312.3 1667.7 315C1668.7 317.8 1670.1 322.3 1671.3 322.8C1672.5 323.3 1673.8 319.7 1674.8 317.9C1675.8 316.1 1676.4 314 1677.2 311.9C1678 309.8 1678.8 307.3 1679.6 305.3C1680.4 303.3 1681.2 301.3 1682 299.7C1682.8 298.1 1683.6 297.1 1684.4 295.8C1685.1 294.6 1685.7 292.6 1686.7 292.1C1687.7 291.7 1689.3 293.7 1690.3 293.2C1691.3 292.8 1691.9 290.6 1692.7 289.4C1693.5 288.3 1694.3 287.5 1695.1 286.3C1695.9 285.1 1696.6 283.6 1697.4 282.2C1698.2 280.8 1699 279.4 1699.8 278C1700.6 276.6 1701.4 275.4 1702.2 273.9C1703 272.3 1703.8 270.5 1704.6 269C1705.4 267.5 1706.2 266.7 1707 264.9C1707.8 263.1 1708.5 260.5 1709.3 258.2C1710.1 255.9 1711 253.7 1711.7 251.2C1712.5 248.6 1713.1 245.7 1713.9 243C1714.6 240.2 1715.2 235.2 1716 234.7C1716.8 234.1 1717.7 237.8 1718.6 239.7C1719.5 241.6 1720.3 245.3 1721.2 246.3C1722.2 247.3 1723.2 246 1724.2 245.7C1725.2 245.5 1726.3 243.5 1727.2 245C1728.1 246.4 1728.8 251.3 1729.6 254.7C1730.4 258 1731.1 261.6 1731.9 265.1C1732.8 268.7 1733.8 272.2 1734.7 276C1735.6 279.8 1737 285.8 1737.4 287.8" fill="none" stroke="#0808c8" stroke-width="4.4" stroke-linejoin="round" stroke-linecap="butt"/>
<text x="1521.4" y="230.8" text-anchor="end">1</text>
<text x="1521.4" y="347" text-anchor="end">0</text>
<text x="1544.2" y="366.6" text-anchor="middle">0</text>
<text x="1608.2" y="366.6" text-anchor="middle">5</text>
<text transform="translate(1574.9 402) scale(1.019 1)">Time to first</text>
<text transform="translate(1560.1 432.2) scale(1.016 1)">contact-lick (s)</text>
<text transform="translate(1773 23.2) scale(1.1 0.96)" font-size="31" font-weight="bold" stroke="#000" stroke-width="2.0" stroke-linejoin="miter">g</text>
<text transform="translate(1865.9 31.7) scale(1.029 1)">Temporal tuning</text>
<text transform="translate(1794.4 158.6) rotate(-90) scale(1.016 1)">Neurons</text>
<text transform="translate(1824.3 129.1) rotate(-90) scale(0.979 1)">(%)</text>
<text transform="translate(1868.3 274.8) rotate(-90) scale(1.012 1)">Neurons</text>
<text transform="translate(2114.5 114) rotate(90) scale(0.997 1)">Activity (normalized)</text>
<path d="M1917.2 169.6h21.3v1.8h-21.3zM1963.3 169.6h8.7v1.8h-8.7zM1980.1 169.6h12.9v1.8h-12.9zM1996.8 169.6h4.5v1.8h-4.5zM2005.2 169.6h17.1v1.8h-17.1zM2026.2 169.6h4.5v1.8h-4.5zM1959.1 184.3h4.5v1.8h-4.5zM1883.6 196.3h4.5v1.8h-4.5zM1892 196.3h8.7v1.8h-8.7zM1925.5 196.3h21.3v1.8h-21.3zM1954.9 196.3h50.6v1.8h-50.6zM2009.4 196.3h21.3v1.8h-21.3zM1959.1 200.3h4.5v1.8h-4.5zM1967.5 209.6h4.5v1.8h-4.5zM1980.1 209.6h4.5v1.8h-4.5zM1883.6 216.3h8.7v1.8h-8.7zM1896.2 216.3h12.9v1.8h-12.9zM1938.1 216.3h54.8v1.8h-54.8zM2001 216.3h29.7v1.8h-29.7zM1883.6 217.6h21.3v1.8h-21.3zM1908.8 217.6h4.5v1.8h-4.5zM1933.9 217.6h8.7v1.8h-8.7zM1954.9 217.6h12.9v1.8h-12.9zM1975.9 217.6h4.5v1.8h-4.5zM1984.3 217.6h17.1v1.8h-17.1zM2005.2 217.6h25.5v1.8h-25.5zM1883.6 243h12.9v1.8h-12.9zM1900.4 243h8.7v1.8h-8.7zM1913 243h8.7v1.8h-8.7zM1950.7 243h17.1v1.8h-17.1zM1980.1 243h8.7v1.8h-8.7zM1992.7 243h12.9v1.8h-12.9zM2009.4 243h4.5v1.8h-4.5zM2026.2 243h4.5v1.8h-4.5zM1883.6 244.3h4.5v1.8h-4.5zM1896.2 244.3h4.5v1.8h-4.5zM1908.8 244.3h17.1v1.8h-17.1zM1950.7 244.3h8.7v1.8h-8.7zM1971.7 244.3h29.7v1.8h-29.7zM2009.4 244.3h4.5v1.8h-4.5zM1883.6 260.3h17.1v1.8h-17.1zM1908.8 260.3h4.5v1.8h-4.5zM1925.5 260.3h12.9v1.8h-12.9zM1967.5 260.3h4.5v1.8h-4.5zM1980.1 260.3h4.5v1.8h-4.5zM1992.7 260.3h12.9v1.8h-12.9zM2009.4 260.3h4.5v1.8h-4.5zM2017.8 260.3h4.5v1.8h-4.5z" fill="#0a0722" shape-rendering="crispEdges"/>
<path d="M1938.1 169.6h25.5v1.8h-25.5zM1971.7 169.6h8.7v1.8h-8.7zM1992.7 169.6h4.5v1.8h-4.5zM2001 169.6h4.5v1.8h-4.5zM2022 169.6h4.5v1.8h-4.5zM1954.9 184.3h4.5v1.8h-4.5zM1963.3 184.3h8.7v1.8h-8.7zM1975.9 184.3h4.5v1.8h-4.5zM1887.8 196.3h4.5v1.8h-4.5zM1900.4 196.3h8.7v1.8h-8.7zM1946.5 196.3h8.7v1.8h-8.7zM2005.2 196.3h4.5v1.8h-4.5zM1938.1 200.3h4.5v1.8h-4.5zM1950.7 200.3h8.7v1.8h-8.7zM1963.3 200.3h4.5v1.8h-4.5zM1971.7 200.3h17.1v1.8h-17.1zM1954.9 209.6h12.9v1.8h-12.9zM1971.7 209.6h8.7v1.8h-8.7zM1984.3 209.6h4.5v1.8h-4.5zM1892 216.3h4.5v1.8h-4.5zM1908.8 216.3h4.5v1.8h-4.5zM1929.7 216.3h8.7v1.8h-8.7zM1992.7 216.3h8.7v1.8h-8.7zM1904.6 217.6h4.5v1.8h-4.5zM1929.7 217.6h4.5v1.8h-4.5zM1942.3 217.6h12.9v1.8h-12.9zM1967.5 217.6h8.7v1.8h-8.7zM1980.1 217.6h4.5v1.8h-4.5zM2001 217.6h4.5v1.8h-4.5zM1896.2 243h4.5v1.8h-4.5zM1908.8 243h4.5v1.8h-4.5zM1921.3 243h4.5v1.8h-4.5zM1942.3 243h8.7v1.8h-8.7zM1967.5 243h12.9v1.8h-12.9zM1988.5 243h4.5v1.8h-4.5zM2005.2 243h4.5v1.8h-4.5zM2013.6 243h12.9v1.8h-12.9zM1887.8 244.3h8.7v1.8h-8.7zM1900.4 244.3h8.7v1.8h-8.7zM1946.5 244.3h4.5v1.8h-4.5zM1959.1 244.3h12.9v1.8h-12.9zM2001 244.3h8.7v1.8h-8.7zM2013.6 244.3h17.1v1.8h-17.1zM1900.4 260.3h8.7v1.8h-8.7zM1913 260.3h12.9v1.8h-12.9zM1938.1 260.3h4.5v1.8h-4.5zM1963.3 260.3h4.5v1.8h-4.5zM1971.7 260.3h8.7v1.8h-8.7zM1984.3 260.3h8.7v1.8h-8.7zM2005.2 260.3h4.5v1.8h-4.5zM2013.6 260.3h4.5v1.8h-4.5zM2022 260.3h8.7v1.8h-8.7zM1892 261.6h17.1v1.8h-17.1zM1938.1 284.3h4.5v1.8h-4.5z" fill="#1e0c45" shape-rendering="crispEdges"/>
<path d="M1946.5 174.9h8.7v1.8h-8.7zM1933.9 184.3h4.5v1.8h-4.5zM1942.3 184.3h4.5v1.8h-4.5zM1950.7 184.3h4.5v1.8h-4.5zM1971.7 184.3h4.5v1.8h-4.5zM1980.1 184.3h4.5v1.8h-4.5zM1954.9 193.6h4.5v1.8h-4.5zM1963.3 193.6h17.1v1.8h-17.1zM1984.3 193.6h4.5v1.8h-4.5zM1921.3 196.3h4.5v1.8h-4.5zM1929.7 200.3h4.5v1.8h-4.5zM1946.5 200.3h4.5v1.8h-4.5zM1967.5 200.3h4.5v1.8h-4.5zM1988.5 200.3h8.7v1.8h-8.7zM1933.9 201.6h4.5v1.8h-4.5zM1946.5 201.6h4.5v1.8h-4.5zM2017.8 201.6h4.5v1.8h-4.5zM1887.8 202.9h4.5v1.8h-4.5zM1933.9 202.9h4.5v1.8h-4.5zM1959.1 202.9h4.5v1.8h-4.5zM1933.9 204.3h8.7v1.8h-8.7zM1946.5 204.3h12.9v1.8h-12.9zM1967.5 204.3h12.9v1.8h-12.9zM1988.5 204.3h8.7v1.8h-8.7zM2001 204.3h21.3v1.8h-21.3zM2026.2 204.3h4.5v1.8h-4.5zM1946.5 209.6h8.7v1.8h-8.7zM1988.5 209.6h8.7v1.8h-8.7zM1954.9 210.9h4.5v1.8h-4.5zM1942.3 244.3h4.5v1.8h-4.5zM1959.1 260.3h4.5v1.8h-4.5zM1883.6 261.6h8.7v1.8h-8.7zM1908.8 261.6h25.5v1.8h-25.5zM1900.4 269.6h8.7v1.8h-8.7zM1913 284.3h4.5v1.8h-4.5zM1929.7 284.3h8.7v1.8h-8.7zM1942.3 284.3h8.7v1.8h-8.7z" fill="#380962" shape-rendering="crispEdges"/>
<path d="M1933.9 174.9h8.7v1.8h-8.7zM1929.7 184.3h4.5v1.8h-4.5zM1938.1 184.3h4.5v1.8h-4.5zM1946.5 184.3h4.5v1.8h-4.5zM1984.3 184.3h8.7v1.8h-8.7zM1996.8 184.3h17.1v1.8h-17.1zM2017.8 184.3h4.5v1.8h-4.5zM1950.7 193.6h4.5v1.8h-4.5zM1959.1 193.6h4.5v1.8h-4.5zM1980.1 193.6h4.5v1.8h-4.5zM1946.5 194.9h4.5v1.8h-4.5zM1954.9 194.9h12.9v1.8h-12.9zM1971.7 194.9h4.5v1.8h-4.5zM1933.9 200.3h4.5v1.8h-4.5zM1942.3 200.3h4.5v1.8h-4.5zM2001 200.3h4.5v1.8h-4.5zM2009.4 200.3h8.7v1.8h-8.7zM1883.6 201.6h4.5v1.8h-4.5zM1892 201.6h4.5v1.8h-4.5zM1900.4 201.6h4.5v1.8h-4.5zM1925.5 201.6h8.7v1.8h-8.7zM1938.1 201.6h8.7v1.8h-8.7zM1954.9 201.6h12.9v1.8h-12.9zM1971.7 201.6h4.5v1.8h-4.5zM1984.3 201.6h25.5v1.8h-25.5zM2013.6 201.6h4.5v1.8h-4.5zM2022 201.6h4.5v1.8h-4.5zM1883.6 202.9h4.5v1.8h-4.5zM1892 202.9h8.7v1.8h-8.7zM1925.5 202.9h8.7v1.8h-8.7zM1938.1 202.9h17.1v1.8h-17.1zM1963.3 202.9h4.5v1.8h-4.5zM1971.7 202.9h25.5v1.8h-25.5zM2001 202.9h12.9v1.8h-12.9zM2022 202.9h8.7v1.8h-8.7zM1925.5 204.3h8.7v1.8h-8.7zM1942.3 204.3h4.5v1.8h-4.5zM1959.1 204.3h8.7v1.8h-8.7zM1980.1 204.3h8.7v1.8h-8.7zM1996.8 204.3h4.5v1.8h-4.5zM2022 204.3h4.5v1.8h-4.5zM1950.7 206.9h4.5v1.8h-4.5zM1967.5 206.9h4.5v1.8h-4.5zM1975.9 206.9h4.5v1.8h-4.5zM1883.6 209.6h4.5v1.8h-4.5zM1933.9 209.6h8.7v1.8h-8.7zM1946.5 210.9h8.7v1.8h-8.7zM1959.1 210.9h4.5v1.8h-4.5zM1971.7 210.9h4.5v1.8h-4.5zM1913 217.6h4.5v1.8h-4.5zM1984.3 226.9h4.5v1.8h-4.5zM1883.6 229.6h4.5v1.8h-4.5zM1900.4 229.6h8.7v1.8h-8.7zM1938.1 229.6h4.5v1.8h-4.5zM1950.7 229.6h8.7v1.8h-8.7zM1963.3 229.6h8.7v1.8h-8.7zM1992.7 229.6h4.5v1.8h-4.5zM2005.2 229.6h25.5v1.8h-25.5zM1938.1 232.3h4.5v1.8h-4.5zM1959.1 232.3h4.5v1.8h-4.5zM1967.5 232.3h8.7v1.8h-8.7zM1883.6 241.6h4.5v1.8h-4.5zM1892 241.6h8.7v1.8h-8.7zM1908.8 241.6h8.7v1.8h-8.7zM1942.3 241.6h12.9v1.8h-12.9zM1959.1 241.6h4.5v1.8h-4.5zM1967.5 241.6h4.5v1.8h-4.5zM1925.5 244.3h4.5v1.8h-4.5zM1883.6 269.6h17.1v1.8h-17.1zM1908.8 269.6h12.9v1.8h-12.9zM1925.5 269.6h8.7v1.8h-8.7zM1925.5 271h4.5v1.8h-4.5zM1908.8 283h4.5v1.8h-4.5zM1959.1 283h4.5v1.8h-4.5zM2001 283h4.5v1.8h-4.5zM2013.6 283h4.5v1.8h-4.5zM2026.2 283h4.5v1.8h-4.5zM1908.8 284.3h4.5v1.8h-4.5zM1921.3 284.3h8.7v1.8h-8.7zM1950.7 284.3h4.5v1.8h-4.5zM1950.7 291h8.7v1.8h-8.7z" fill="#510e6c" shape-rendering="crispEdges"/>
<path d="M1925.5 160.3h4.5v1.8h-4.5zM1938.1 160.3h8.7v1.8h-8.7zM1933.9 164.3h12.9v1.8h-12.9zM1950.7 164.3h8.7v1.8h-8.7zM1950.7 165.6h4.5v1.8h-4.5zM1959.1 165.6h4.5v1.8h-4.5zM1925.5 166.9h8.7v1.8h-8.7zM1938.1 166.9h4.5v1.8h-4.5zM1950.7 166.9h4.5v1.8h-4.5zM1925.5 174.9h4.5v1.8h-4.5zM1942.3 174.9h4.5v1.8h-4.5zM1954.9 174.9h4.5v1.8h-4.5zM1921.3 180.3h8.7v1.8h-8.7zM1933.9 180.3h4.5v1.8h-4.5zM1942.3 180.3h8.7v1.8h-8.7zM1925.5 184.3h4.5v1.8h-4.5zM1992.7 184.3h4.5v1.8h-4.5zM2013.6 184.3h4.5v1.8h-4.5zM2022 184.3h8.7v1.8h-8.7zM1946.5 193.6h4.5v1.8h-4.5zM1988.5 193.6h4.5v1.8h-4.5zM1996.8 193.6h4.5v1.8h-4.5zM1933.9 194.9h4.5v1.8h-4.5zM1942.3 194.9h4.5v1.8h-4.5zM1950.7 194.9h4.5v1.8h-4.5zM1967.5 194.9h4.5v1.8h-4.5zM1975.9 194.9h4.5v1.8h-4.5zM1954.9 197.6h4.5v1.8h-4.5zM1925.5 200.3h4.5v1.8h-4.5zM1996.8 200.3h4.5v1.8h-4.5zM2005.2 200.3h4.5v1.8h-4.5zM2026.2 200.3h4.5v1.8h-4.5zM1887.8 201.6h4.5v1.8h-4.5zM1896.2 201.6h4.5v1.8h-4.5zM1904.6 201.6h4.5v1.8h-4.5zM1950.7 201.6h4.5v1.8h-4.5zM1967.5 201.6h4.5v1.8h-4.5zM1975.9 201.6h8.7v1.8h-8.7zM2009.4 201.6h4.5v1.8h-4.5zM2026.2 201.6h4.5v1.8h-4.5zM1900.4 202.9h8.7v1.8h-8.7zM1954.9 202.9h4.5v1.8h-4.5zM1967.5 202.9h4.5v1.8h-4.5zM1996.8 202.9h4.5v1.8h-4.5zM2013.6 202.9h8.7v1.8h-8.7zM1883.6 206.9h4.5v1.8h-4.5zM1929.7 206.9h8.7v1.8h-8.7zM1942.3 206.9h8.7v1.8h-8.7zM1954.9 206.9h12.9v1.8h-12.9zM1980.1 206.9h4.5v1.8h-4.5zM1942.3 209.6h4.5v1.8h-4.5zM2001 209.6h4.5v1.8h-4.5zM1933.9 210.9h12.9v1.8h-12.9zM1963.3 210.9h8.7v1.8h-8.7zM1980.1 210.9h4.5v1.8h-4.5zM1913 216.3h4.5v1.8h-4.5zM1900.4 218.9h4.5v1.8h-4.5zM2017.8 218.9h4.5v1.8h-4.5zM2026.2 218.9h4.5v1.8h-4.5zM1887.8 226.9h4.5v1.8h-4.5zM1971.7 226.9h4.5v1.8h-4.5zM1980.1 226.9h4.5v1.8h-4.5zM1988.5 226.9h4.5v1.8h-4.5zM2001 226.9h4.5v1.8h-4.5zM1887.8 229.6h12.9v1.8h-12.9zM1908.8 229.6h8.7v1.8h-8.7zM1942.3 229.6h8.7v1.8h-8.7zM1959.1 229.6h4.5v1.8h-4.5zM1971.7 229.6h21.3v1.8h-21.3zM1996.8 229.6h8.7v1.8h-8.7zM1900.4 232.3h4.5v1.8h-4.5zM1942.3 232.3h17.1v1.8h-17.1zM1963.3 232.3h4.5v1.8h-4.5zM1980.1 232.3h17.1v1.8h-17.1zM1950.7 236.3h12.9v1.8h-12.9zM1967.5 236.3h8.7v1.8h-8.7zM1900.4 241.6h8.7v1.8h-8.7zM1917.2 241.6h8.7v1.8h-8.7zM1954.9 241.6h4.5v1.8h-4.5zM1963.3 241.6h4.5v1.8h-4.5zM1975.9 241.6h4.5v1.8h-4.5zM1942.3 260.3h4.5v1.8h-4.5zM1921.3 269.6h4.5v1.8h-4.5zM1933.9 269.6h8.7v1.8h-8.7zM1917.2 271h8.7v1.8h-8.7zM1950.7 275h8.7v1.8h-8.7zM1883.6 283h25.5v1.8h-25.5zM1913 283h29.7v1.8h-29.7zM1946.5 283h12.9v1.8h-12.9zM1963.3 283h8.7v1.8h-8.7zM1996.8 283h4.5v1.8h-4.5zM2005.2 283h8.7v1.8h-8.7zM2017.8 283h8.7v1.8h-8.7zM1900.4 284.3h4.5v1.8h-4.5zM1917.2 284.3h4.5v1.8h-4.5zM1954.9 284.3h8.7v1.8h-8.7zM2005.2 284.3h4.5v1.8h-4.5zM2013.6 284.3h8.7v1.8h-8.7zM1946.5 291h4.5v1.8h-4.5zM1959.1 291h4.5v1.8h-4.5zM1967.5 291h4.5v1.8h-4.5z" fill="#69166e" shape-rendering="crispEdges"/>
<path d="M1921.3 160.3h4.5v1.8h-4.5zM1929.7 160.3h8.7v1.8h-8.7zM1946.5 160.3h8.7v1.8h-8.7zM1917.2 161.6h8.7v1.8h-8.7zM1938.1 161.6h4.5v1.8h-4.5zM1946.5 164.3h4.5v1.8h-4.5zM1959.1 164.3h8.7v1.8h-8.7zM1929.7 165.6h4.5v1.8h-4.5zM1938.1 165.6h12.9v1.8h-12.9zM1954.9 165.6h4.5v1.8h-4.5zM1963.3 165.6h4.5v1.8h-4.5zM1971.7 165.6h4.5v1.8h-4.5zM1933.9 166.9h4.5v1.8h-4.5zM1942.3 166.9h8.7v1.8h-8.7zM1954.9 166.9h8.7v1.8h-8.7zM1938.1 168.3h4.5v1.8h-4.5zM1950.7 168.3h8.7v1.8h-8.7zM1925.5 173.6h12.9v1.8h-12.9zM1942.3 173.6h4.5v1.8h-4.5zM1950.7 173.6h4.5v1.8h-4.5zM1921.3 174.9h4.5v1.8h-4.5zM1929.7 174.9h4.5v1.8h-4.5zM1959.1 174.9h8.7v1.8h-8.7zM1921.3 177.6h8.7v1.8h-8.7zM1933.9 177.6h4.5v1.8h-4.5zM1942.3 177.6h4.5v1.8h-4.5zM1925.5 178.9h4.5v1.8h-4.5zM1938.1 178.9h25.5v1.8h-25.5zM1917.2 180.3h4.5v1.8h-4.5zM1929.7 180.3h4.5v1.8h-4.5zM1938.1 180.3h4.5v1.8h-4.5zM1883.6 184.3h4.5v1.8h-4.5zM1896.2 184.3h4.5v1.8h-4.5zM1921.3 184.3h4.5v1.8h-4.5zM1933.9 190.9h12.9v1.8h-12.9zM1933.9 193.6h4.5v1.8h-4.5zM1942.3 193.6h4.5v1.8h-4.5zM1992.7 193.6h4.5v1.8h-4.5zM2001 193.6h8.7v1.8h-8.7zM1938.1 194.9h4.5v1.8h-4.5zM1980.1 194.9h4.5v1.8h-4.5zM1942.3 197.6h4.5v1.8h-4.5zM2017.8 200.3h8.7v1.8h-8.7zM1887.8 206.9h4.5v1.8h-4.5zM1904.6 206.9h4.5v1.8h-4.5zM1938.1 206.9h4.5v1.8h-4.5zM1971.7 206.9h4.5v1.8h-4.5zM1992.7 206.9h12.9v1.8h-12.9zM2017.8 206.9h8.7v1.8h-8.7zM1887.8 209.6h4.5v1.8h-4.5zM1896.2 209.6h4.5v1.8h-4.5zM1929.7 209.6h4.5v1.8h-4.5zM1996.8 209.6h4.5v1.8h-4.5zM1929.7 210.9h4.5v1.8h-4.5zM1975.9 210.9h4.5v1.8h-4.5zM1883.6 218.9h4.5v1.8h-4.5zM1892 218.9h8.7v1.8h-8.7zM1904.6 218.9h4.5v1.8h-4.5zM1980.1 218.9h4.5v1.8h-4.5zM1996.8 218.9h21.3v1.8h-21.3zM2022 218.9h4.5v1.8h-4.5zM1963.3 221.6h4.5v1.8h-4.5zM1971.7 221.6h4.5v1.8h-4.5zM1892 226.9h4.5v1.8h-4.5zM1904.6 226.9h4.5v1.8h-4.5zM1954.9 226.9h4.5v1.8h-4.5zM1963.3 226.9h4.5v1.8h-4.5zM1992.7 226.9h8.7v1.8h-8.7zM2005.2 226.9h21.3v1.8h-21.3zM1933.9 229.6h4.5v1.8h-4.5zM1887.8 232.3h8.7v1.8h-8.7zM1904.6 232.3h4.5v1.8h-4.5zM1917.2 232.3h4.5v1.8h-4.5zM1975.9 232.3h4.5v1.8h-4.5zM2001 232.3h8.7v1.8h-8.7zM2017.8 232.3h4.5v1.8h-4.5zM1963.3 236.3h4.5v1.8h-4.5zM1975.9 236.3h21.3v1.8h-21.3zM1887.8 241.6h4.5v1.8h-4.5zM1971.7 241.6h4.5v1.8h-4.5zM1980.1 241.6h4.5v1.8h-4.5zM1996.8 241.6h4.5v1.8h-4.5zM1925.5 243h4.5v1.8h-4.5zM1900.4 257.6h4.5v1.8h-4.5zM1908.8 264.3h8.7v1.8h-8.7zM1921.3 265.6h8.7v1.8h-8.7zM1908.8 271h4.5v1.8h-4.5zM1929.7 271h21.3v1.8h-21.3zM1933.9 275h8.7v1.8h-8.7zM1946.5 275h4.5v1.8h-4.5zM1942.3 283h4.5v1.8h-4.5zM1971.7 283h4.5v1.8h-4.5zM1992.7 283h4.5v1.8h-4.5zM1887.8 284.3h4.5v1.8h-4.5zM1896.2 284.3h4.5v1.8h-4.5zM1904.6 284.3h4.5v1.8h-4.5zM1963.3 284.3h4.5v1.8h-4.5zM1996.8 284.3h4.5v1.8h-4.5zM2009.4 284.3h4.5v1.8h-4.5zM2022 284.3h8.7v1.8h-8.7zM1942.3 291h4.5v1.8h-4.5zM1963.3 291h4.5v1.8h-4.5zM1971.7 291h4.5v1.8h-4.5zM1963.3 292.3h4.5v1.8h-4.5z" fill="#801f6c" shape-rendering="crispEdges"/>
<path d="M1933.9 156.3h4.5v1.8h-4.5zM1917.2 160.3h4.5v1.8h-4.5zM1954.9 160.3h12.9v1.8h-12.9zM1913 161.6h4.5v1.8h-4.5zM1925.5 161.6h12.9v1.8h-12.9zM1942.3 161.6h8.7v1.8h-8.7zM1917.2 164.3h17.1v1.8h-17.1zM1967.5 164.3h8.7v1.8h-8.7zM1980.1 164.3h4.5v1.8h-4.5zM1917.2 165.6h4.5v1.8h-4.5zM1925.5 165.6h4.5v1.8h-4.5zM1933.9 165.6h4.5v1.8h-4.5zM1967.5 165.6h4.5v1.8h-4.5zM1975.9 165.6h4.5v1.8h-4.5zM1921.3 166.9h4.5v1.8h-4.5zM1921.3 168.3h8.7v1.8h-8.7zM1933.9 168.3h4.5v1.8h-4.5zM1942.3 168.3h8.7v1.8h-8.7zM1959.1 168.3h4.5v1.8h-4.5zM1942.3 170.9h4.5v1.8h-4.5zM1921.3 173.6h4.5v1.8h-4.5zM1938.1 173.6h4.5v1.8h-4.5zM1946.5 173.6h4.5v1.8h-4.5zM1917.2 174.9h4.5v1.8h-4.5zM1967.5 174.9h8.7v1.8h-8.7zM1892 177.6h4.5v1.8h-4.5zM1917.2 177.6h4.5v1.8h-4.5zM1929.7 177.6h4.5v1.8h-4.5zM1938.1 177.6h4.5v1.8h-4.5zM1946.5 177.6h8.7v1.8h-8.7zM1963.3 177.6h4.5v1.8h-4.5zM1921.3 178.9h4.5v1.8h-4.5zM1929.7 178.9h8.7v1.8h-8.7zM1967.5 178.9h4.5v1.8h-4.5zM1883.6 180.3h12.9v1.8h-12.9zM1950.7 180.3h12.9v1.8h-12.9zM1933.9 182.9h4.5v1.8h-4.5zM1954.9 182.9h8.7v1.8h-8.7zM1887.8 184.3h8.7v1.8h-8.7zM1921.3 186.9h12.9v1.8h-12.9zM1942.3 186.9h8.7v1.8h-8.7zM1954.9 188.3h17.1v1.8h-17.1zM1925.5 190.9h8.7v1.8h-8.7zM1950.7 190.9h12.9v1.8h-12.9zM1887.8 192.3h4.5v1.8h-4.5zM1896.2 192.3h4.5v1.8h-4.5zM1925.5 192.3h4.5v1.8h-4.5zM1950.7 192.3h8.7v1.8h-8.7zM1963.3 192.3h4.5v1.8h-4.5zM1975.9 192.3h4.5v1.8h-4.5zM2022 192.3h4.5v1.8h-4.5zM1925.5 193.6h8.7v1.8h-8.7zM1938.1 193.6h4.5v1.8h-4.5zM1929.7 194.9h4.5v1.8h-4.5zM1984.3 194.9h12.9v1.8h-12.9zM1933.9 197.6h8.7v1.8h-8.7zM1946.5 197.6h8.7v1.8h-8.7zM1959.1 197.6h8.7v1.8h-8.7zM1908.8 201.6h4.5v1.8h-4.5zM1921.3 201.6h4.5v1.8h-4.5zM1908.8 202.9h4.5v1.8h-4.5zM1892 206.9h12.9v1.8h-12.9zM1925.5 206.9h4.5v1.8h-4.5zM1984.3 206.9h8.7v1.8h-8.7zM2005.2 206.9h12.9v1.8h-12.9zM2026.2 206.9h4.5v1.8h-4.5zM1892 209.6h4.5v1.8h-4.5zM1900.4 209.6h8.7v1.8h-8.7zM2005.2 209.6h12.9v1.8h-12.9zM2022 209.6h4.5v1.8h-4.5zM1925.5 210.9h4.5v1.8h-4.5zM1984.3 210.9h12.9v1.8h-12.9zM1946.5 213.6h8.7v1.8h-8.7zM1959.1 213.6h4.5v1.8h-4.5zM1925.5 216.3h4.5v1.8h-4.5zM1887.8 218.9h4.5v1.8h-4.5zM1933.9 218.9h8.7v1.8h-8.7zM1963.3 218.9h4.5v1.8h-4.5zM1971.7 218.9h8.7v1.8h-8.7zM1984.3 218.9h12.9v1.8h-12.9zM1942.3 221.6h21.3v1.8h-21.3zM1967.5 221.6h4.5v1.8h-4.5zM1975.9 221.6h12.9v1.8h-12.9zM1992.7 221.6h4.5v1.8h-4.5zM1883.6 226.9h4.5v1.8h-4.5zM1896.2 226.9h8.7v1.8h-8.7zM1913 226.9h4.5v1.8h-4.5zM1942.3 226.9h12.9v1.8h-12.9zM1967.5 226.9h4.5v1.8h-4.5zM1975.9 226.9h4.5v1.8h-4.5zM2026.2 226.9h4.5v1.8h-4.5zM1917.2 229.6h4.5v1.8h-4.5zM1896.2 232.3h4.5v1.8h-4.5zM1908.8 232.3h8.7v1.8h-8.7zM1933.9 232.3h4.5v1.8h-4.5zM1996.8 232.3h4.5v1.8h-4.5zM2009.4 232.3h4.5v1.8h-4.5zM1942.3 236.3h8.7v1.8h-8.7zM2001 236.3h4.5v1.8h-4.5zM2017.8 236.3h4.5v1.8h-4.5zM1984.3 241.6h12.9v1.8h-12.9zM2005.2 241.6h12.9v1.8h-12.9zM2022 241.6h4.5v1.8h-4.5zM1913 247h8.7v1.8h-8.7zM2022 247h4.5v1.8h-4.5zM1887.8 256.3h4.5v1.8h-4.5zM1896.2 257.6h4.5v1.8h-4.5zM1904.6 257.6h12.9v1.8h-12.9zM1892 264.3h12.9v1.8h-12.9zM1917.2 264.3h12.9v1.8h-12.9zM1908.8 265.6h12.9v1.8h-12.9zM1971.7 265.6h4.5v1.8h-4.5zM1980.1 265.6h4.5v1.8h-4.5zM1988.5 265.6h8.7v1.8h-8.7zM2001 265.6h4.5v1.8h-4.5zM2013.6 265.6h4.5v1.8h-4.5zM1896.2 271h4.5v1.8h-4.5zM1904.6 271h4.5v1.8h-4.5zM1913 271h4.5v1.8h-4.5zM1950.7 271h4.5v1.8h-4.5zM1942.3 275h4.5v1.8h-4.5zM1917.2 277.6h4.5v1.8h-4.5zM1942.3 277.6h4.5v1.8h-4.5zM1883.6 284.3h4.5v1.8h-4.5zM1892 284.3h4.5v1.8h-4.5zM1967.5 284.3h4.5v1.8h-4.5zM2001 284.3h4.5v1.8h-4.5zM1946.5 289.6h4.5v1.8h-4.5zM1963.3 289.6h4.5v1.8h-4.5zM1929.7 291h12.9v1.8h-12.9zM1975.9 291h8.7v1.8h-8.7zM1959.1 292.3h4.5v1.8h-4.5zM1967.5 292.3h12.9v1.8h-12.9zM1963.3 296.3h8.7v1.8h-8.7zM1975.9 296.3h4.5v1.8h-4.5z" fill="#982766" shape-rendering="crispEdges"/>
<path d="M1904.6 153.6h4.5v1.8h-4.5zM1913 153.6h8.7v1.8h-8.7zM1921.3 156.3h12.9v1.8h-12.9zM1938.1 156.3h12.9v1.8h-12.9zM1959.1 156.3h8.7v1.8h-8.7zM1942.3 157.6h4.5v1.8h-4.5zM1954.9 157.6h4.5v1.8h-4.5zM1908.8 160.3h8.7v1.8h-8.7zM1967.5 160.3h4.5v1.8h-4.5zM1908.8 161.6h4.5v1.8h-4.5zM1950.7 161.6h12.9v1.8h-12.9zM1942.3 162.9h4.5v1.8h-4.5zM1950.7 162.9h4.5v1.8h-4.5zM1913 164.3h4.5v1.8h-4.5zM1975.9 164.3h4.5v1.8h-4.5zM1984.3 164.3h8.7v1.8h-8.7zM1913 165.6h4.5v1.8h-4.5zM1921.3 165.6h4.5v1.8h-4.5zM1980.1 165.6h4.5v1.8h-4.5zM1913 166.9h8.7v1.8h-8.7zM1963.3 166.9h12.9v1.8h-12.9zM1917.2 168.3h4.5v1.8h-4.5zM1963.3 168.3h8.7v1.8h-8.7zM1913 169.6h4.5v1.8h-4.5zM1929.7 170.9h12.9v1.8h-12.9zM1946.5 170.9h12.9v1.8h-12.9zM1921.3 172.3h4.5v1.8h-4.5zM1917.2 173.6h4.5v1.8h-4.5zM1954.9 173.6h12.9v1.8h-12.9zM1950.7 176.3h4.5v1.8h-4.5zM1883.6 177.6h4.5v1.8h-4.5zM1954.9 177.6h8.7v1.8h-8.7zM1967.5 177.6h4.5v1.8h-4.5zM1887.8 178.9h4.5v1.8h-4.5zM1917.2 178.9h4.5v1.8h-4.5zM1963.3 178.9h4.5v1.8h-4.5zM1971.7 178.9h4.5v1.8h-4.5zM1980.1 178.9h4.5v1.8h-4.5zM2017.8 178.9h4.5v1.8h-4.5zM2026.2 178.9h4.5v1.8h-4.5zM1896.2 180.3h4.5v1.8h-4.5zM1963.3 180.3h17.1v1.8h-17.1zM2009.4 180.3h4.5v1.8h-4.5zM2017.8 180.3h8.7v1.8h-8.7zM1925.5 182.9h4.5v1.8h-4.5zM1938.1 182.9h17.1v1.8h-17.1zM1967.5 182.9h4.5v1.8h-4.5zM1900.4 184.3h4.5v1.8h-4.5zM1917.2 184.3h4.5v1.8h-4.5zM1900.4 186.9h4.5v1.8h-4.5zM1933.9 186.9h8.7v1.8h-8.7zM1950.7 186.9h12.9v1.8h-12.9zM1946.5 188.3h4.5v1.8h-4.5zM1971.7 188.3h8.7v1.8h-8.7zM1988.5 188.3h4.5v1.8h-4.5zM2022 188.3h8.7v1.8h-8.7zM1933.9 189.6h4.5v1.8h-4.5zM1887.8 190.9h4.5v1.8h-4.5zM1900.4 190.9h4.5v1.8h-4.5zM1921.3 190.9h4.5v1.8h-4.5zM1946.5 190.9h4.5v1.8h-4.5zM1963.3 190.9h8.7v1.8h-8.7zM1883.6 192.3h4.5v1.8h-4.5zM1921.3 192.3h4.5v1.8h-4.5zM1929.7 192.3h21.3v1.8h-21.3zM1959.1 192.3h4.5v1.8h-4.5zM1967.5 192.3h4.5v1.8h-4.5zM1980.1 192.3h8.7v1.8h-8.7zM1996.8 192.3h4.5v1.8h-4.5zM2005.2 192.3h17.1v1.8h-17.1zM2009.4 193.6h8.7v1.8h-8.7zM2022 193.6h4.5v1.8h-4.5zM1925.5 197.6h4.5v1.8h-4.5zM1967.5 197.6h4.5v1.8h-4.5zM1975.9 197.6h4.5v1.8h-4.5zM1887.8 200.3h12.9v1.8h-12.9zM1921.3 202.9h4.5v1.8h-4.5zM1938.1 208.3h12.9v1.8h-12.9zM1954.9 208.3h21.3v1.8h-21.3zM1980.1 208.3h4.5v1.8h-4.5zM1908.8 209.6h4.5v1.8h-4.5zM1925.5 209.6h4.5v1.8h-4.5zM2017.8 209.6h4.5v1.8h-4.5zM2026.2 209.6h4.5v1.8h-4.5zM1900.4 210.9h8.7v1.8h-8.7zM1996.8 210.9h8.7v1.8h-8.7zM1954.9 212.3h8.7v1.8h-8.7zM1967.5 212.3h8.7v1.8h-8.7zM1933.9 213.6h12.9v1.8h-12.9zM1971.7 213.6h4.5v1.8h-4.5zM1980.1 213.6h4.5v1.8h-4.5zM1925.5 217.6h4.5v1.8h-4.5zM1908.8 218.9h8.7v1.8h-8.7zM1942.3 218.9h8.7v1.8h-8.7zM1954.9 218.9h8.7v1.8h-8.7zM1933.9 221.6h8.7v1.8h-8.7zM1988.5 221.6h4.5v1.8h-4.5zM2001 221.6h4.5v1.8h-4.5zM1908.8 226.9h4.5v1.8h-4.5zM1938.1 226.9h4.5v1.8h-4.5zM1959.1 226.9h4.5v1.8h-4.5zM1900.4 231h12.9v1.8h-12.9zM2017.8 231h4.5v1.8h-4.5zM1883.6 232.3h4.5v1.8h-4.5zM2013.6 232.3h4.5v1.8h-4.5zM2022 232.3h8.7v1.8h-8.7zM1883.6 236.3h4.5v1.8h-4.5zM1892 236.3h4.5v1.8h-4.5zM1900.4 236.3h8.7v1.8h-8.7zM1938.1 236.3h4.5v1.8h-4.5zM1996.8 236.3h4.5v1.8h-4.5zM2005.2 236.3h8.7v1.8h-8.7zM1938.1 241.6h4.5v1.8h-4.5zM2001 241.6h4.5v1.8h-4.5zM2017.8 241.6h4.5v1.8h-4.5zM2026.2 241.6h4.5v1.8h-4.5zM1938.1 243h4.5v1.8h-4.5zM1925.5 247h4.5v1.8h-4.5zM1892 251h4.5v1.8h-4.5zM1896.2 255h4.5v1.8h-4.5zM1883.6 256.3h4.5v1.8h-4.5zM1892 256.3h12.9v1.8h-12.9zM1988.5 256.3h4.5v1.8h-4.5zM1883.6 257.6h12.9v1.8h-12.9zM1917.2 257.6h8.7v1.8h-8.7zM1883.6 264.3h8.7v1.8h-8.7zM1904.6 264.3h4.5v1.8h-4.5zM1933.9 264.3h4.5v1.8h-4.5zM2005.2 264.3h4.5v1.8h-4.5zM1896.2 265.6h12.9v1.8h-12.9zM1929.7 265.6h17.1v1.8h-17.1zM1967.5 265.6h4.5v1.8h-4.5zM1975.9 265.6h4.5v1.8h-4.5zM1984.3 265.6h4.5v1.8h-4.5zM1996.8 265.6h4.5v1.8h-4.5zM2005.2 265.6h8.7v1.8h-8.7zM2022 265.6h4.5v1.8h-4.5zM1929.7 268.3h4.5v1.8h-4.5zM1892 271h4.5v1.8h-4.5zM1900.4 271h4.5v1.8h-4.5zM1954.9 271h4.5v1.8h-4.5zM1925.5 275h8.7v1.8h-8.7zM1959.1 275h4.5v1.8h-4.5zM1984.3 275h4.5v1.8h-4.5zM1908.8 277.6h8.7v1.8h-8.7zM1921.3 277.6h21.3v1.8h-21.3zM1946.5 277.6h8.7v1.8h-8.7zM1946.5 280.3h8.7v1.8h-8.7zM1971.7 284.3h4.5v1.8h-4.5zM1938.1 287h17.1v1.8h-17.1zM1942.3 289.6h4.5v1.8h-4.5zM1950.7 289.6h12.9v1.8h-12.9zM1921.3 291h8.7v1.8h-8.7zM1954.9 292.3h4.5v1.8h-4.5zM1980.1 292.3h4.5v1.8h-4.5zM1963.3 293.6h8.7v1.8h-8.7zM1946.5 296.3h8.7v1.8h-8.7zM1959.1 296.3h4.5v1.8h-4.5zM1971.7 296.3h4.5v1.8h-4.5zM1980.1 296.3h8.7v1.8h-8.7z" fill="#b0315b" shape-rendering="crispEdges"/>
<path d="M1904.6 152.3h4.5v1.8h-4.5zM1900.4 153.6h4.5v1.8h-4.5zM1908.8 153.6h4.5v1.8h-4.5zM1921.3 153.6h8.7v1.8h-8.7zM1917.2 156.3h4.5v1.8h-4.5zM1950.7 156.3h8.7v1.8h-8.7zM1908.8 157.6h4.5v1.8h-4.5zM1917.2 157.6h8.7v1.8h-8.7zM1929.7 157.6h12.9v1.8h-12.9zM1946.5 157.6h4.5v1.8h-4.5zM1959.1 157.6h8.7v1.8h-8.7zM1975.9 160.3h4.5v1.8h-4.5zM2022 160.3h8.7v1.8h-8.7zM1963.3 161.6h8.7v1.8h-8.7zM1913 162.9h4.5v1.8h-4.5zM1921.3 162.9h4.5v1.8h-4.5zM1933.9 162.9h4.5v1.8h-4.5zM1946.5 162.9h4.5v1.8h-4.5zM1954.9 162.9h4.5v1.8h-4.5zM1908.8 164.3h4.5v1.8h-4.5zM1996.8 164.3h4.5v1.8h-4.5zM2013.6 164.3h4.5v1.8h-4.5zM1984.3 165.6h12.9v1.8h-12.9zM2001 165.6h4.5v1.8h-4.5zM1913 168.3h4.5v1.8h-4.5zM1929.7 168.3h4.5v1.8h-4.5zM1971.7 168.3h4.5v1.8h-4.5zM1913 170.9h17.1v1.8h-17.1zM1959.1 170.9h8.7v1.8h-8.7zM1892 172.3h4.5v1.8h-4.5zM1917.2 172.3h4.5v1.8h-4.5zM1925.5 172.3h17.1v1.8h-17.1zM1954.9 172.3h4.5v1.8h-4.5zM1967.5 172.3h4.5v1.8h-4.5zM2005.2 172.3h8.7v1.8h-8.7zM2017.8 172.3h4.5v1.8h-4.5zM1971.7 173.6h4.5v1.8h-4.5zM1975.9 174.9h8.7v1.8h-8.7zM1946.5 176.3h4.5v1.8h-4.5zM1959.1 176.3h12.9v1.8h-12.9zM1887.8 177.6h4.5v1.8h-4.5zM1896.2 177.6h4.5v1.8h-4.5zM2022 177.6h4.5v1.8h-4.5zM1883.6 178.9h4.5v1.8h-4.5zM1892 178.9h12.9v1.8h-12.9zM1975.9 178.9h4.5v1.8h-4.5zM1988.5 178.9h4.5v1.8h-4.5zM2005.2 178.9h4.5v1.8h-4.5zM2022 178.9h4.5v1.8h-4.5zM1900.4 180.3h4.5v1.8h-4.5zM1988.5 180.3h4.5v1.8h-4.5zM2013.6 180.3h4.5v1.8h-4.5zM2026.2 180.3h4.5v1.8h-4.5zM1933.9 181.6h4.5v1.8h-4.5zM1946.5 181.6h4.5v1.8h-4.5zM1921.3 182.9h4.5v1.8h-4.5zM1929.7 182.9h4.5v1.8h-4.5zM1963.3 182.9h4.5v1.8h-4.5zM1925.5 185.6h12.9v1.8h-12.9zM1942.3 185.6h12.9v1.8h-12.9zM1963.3 185.6h12.9v1.8h-12.9zM1887.8 186.9h4.5v1.8h-4.5zM1963.3 186.9h8.7v1.8h-8.7zM2017.8 186.9h4.5v1.8h-4.5zM2026.2 186.9h4.5v1.8h-4.5zM1929.7 188.3h17.1v1.8h-17.1zM1950.7 188.3h4.5v1.8h-4.5zM1980.1 188.3h8.7v1.8h-8.7zM1992.7 188.3h12.9v1.8h-12.9zM2009.4 188.3h12.9v1.8h-12.9zM1921.3 189.6h12.9v1.8h-12.9zM1938.1 189.6h4.5v1.8h-4.5zM1892 190.9h8.7v1.8h-8.7zM1892 192.3h4.5v1.8h-4.5zM1900.4 192.3h4.5v1.8h-4.5zM1971.7 192.3h4.5v1.8h-4.5zM1988.5 192.3h8.7v1.8h-8.7zM2001 192.3h4.5v1.8h-4.5zM2026.2 192.3h4.5v1.8h-4.5zM1887.8 193.6h4.5v1.8h-4.5zM1921.3 193.6h4.5v1.8h-4.5zM2017.8 193.6h4.5v1.8h-4.5zM2026.2 193.6h4.5v1.8h-4.5zM1921.3 194.9h8.7v1.8h-8.7zM1996.8 194.9h8.7v1.8h-8.7zM1908.8 196.3h4.5v1.8h-4.5zM1929.7 197.6h4.5v1.8h-4.5zM1971.7 197.6h4.5v1.8h-4.5zM1980.1 197.6h4.5v1.8h-4.5zM1963.3 198.9h8.7v1.8h-8.7zM1975.9 198.9h4.5v1.8h-4.5zM1883.6 200.3h4.5v1.8h-4.5zM1900.4 200.3h8.7v1.8h-8.7zM1921.3 200.3h4.5v1.8h-4.5zM1938.1 205.6h17.1v1.8h-17.1zM1959.1 205.6h4.5v1.8h-4.5zM1908.8 206.9h4.5v1.8h-4.5zM1929.7 208.3h8.7v1.8h-8.7zM1950.7 208.3h4.5v1.8h-4.5zM1975.9 208.3h4.5v1.8h-4.5zM1984.3 208.3h4.5v1.8h-4.5zM1883.6 210.9h12.9v1.8h-12.9zM1908.8 210.9h4.5v1.8h-4.5zM2005.2 210.9h12.9v1.8h-12.9zM1946.5 212.3h8.7v1.8h-8.7zM1963.3 212.3h4.5v1.8h-4.5zM1980.1 212.3h4.5v1.8h-4.5zM1929.7 213.6h4.5v1.8h-4.5zM1954.9 213.6h4.5v1.8h-4.5zM1963.3 213.6h8.7v1.8h-8.7zM1988.5 213.6h4.5v1.8h-4.5zM1929.7 218.9h4.5v1.8h-4.5zM1950.7 218.9h4.5v1.8h-4.5zM1967.5 218.9h4.5v1.8h-4.5zM1896.2 220.3h4.5v1.8h-4.5zM1996.8 221.6h4.5v1.8h-4.5zM2005.2 221.6h4.5v1.8h-4.5zM2013.6 221.6h8.7v1.8h-8.7zM1963.3 222.9h4.5v1.8h-4.5zM1980.1 222.9h4.5v1.8h-4.5zM1988.5 222.9h4.5v1.8h-4.5zM1938.1 224.3h4.5v1.8h-4.5zM1946.5 224.3h4.5v1.8h-4.5zM1963.3 224.3h4.5v1.8h-4.5zM1933.9 226.9h4.5v1.8h-4.5zM1892 231h8.7v1.8h-8.7zM1913 231h4.5v1.8h-4.5zM2005.2 231h12.9v1.8h-12.9zM2022 231h8.7v1.8h-8.7zM1896.2 236.3h4.5v1.8h-4.5zM1913 236.3h8.7v1.8h-8.7zM2013.6 236.3h4.5v1.8h-4.5zM2022 236.3h8.7v1.8h-8.7zM1954.9 237.6h8.7v1.8h-8.7zM1971.7 237.6h8.7v1.8h-8.7zM1900.4 247h12.9v1.8h-12.9zM1921.3 247h4.5v1.8h-4.5zM1946.5 247h4.5v1.8h-4.5zM2005.2 247h12.9v1.8h-12.9zM2026.2 247h4.5v1.8h-4.5zM1887.8 248.3h4.5v1.8h-4.5zM1896.2 248.3h4.5v1.8h-4.5zM2017.8 248.3h4.5v1.8h-4.5zM1883.6 251h8.7v1.8h-8.7zM1896.2 251h4.5v1.8h-4.5zM1904.6 251h4.5v1.8h-4.5zM1984.3 251h4.5v1.8h-4.5zM1996.8 251h4.5v1.8h-4.5zM2005.2 251h8.7v1.8h-8.7zM1887.8 255h8.7v1.8h-8.7zM1900.4 255h8.7v1.8h-8.7zM1913 255h4.5v1.8h-4.5zM1904.6 256.3h4.5v1.8h-4.5zM1967.5 256.3h4.5v1.8h-4.5zM1980.1 256.3h4.5v1.8h-4.5zM1992.7 256.3h12.9v1.8h-12.9zM1925.5 257.6h8.7v1.8h-8.7zM1929.7 264.3h4.5v1.8h-4.5zM1938.1 264.3h4.5v1.8h-4.5zM1980.1 264.3h4.5v1.8h-4.5zM1992.7 264.3h12.9v1.8h-12.9zM2009.4 264.3h21.3v1.8h-21.3zM1883.6 265.6h12.9v1.8h-12.9zM1946.5 265.6h4.5v1.8h-4.5zM2017.8 265.6h4.5v1.8h-4.5zM1917.2 268.3h12.9v1.8h-12.9zM1933.9 268.3h4.5v1.8h-4.5zM1946.5 268.3h4.5v1.8h-4.5zM1883.6 271h8.7v1.8h-8.7zM1975.9 271h4.5v1.8h-4.5zM1984.3 271h8.7v1.8h-8.7zM1917.2 273.6h21.3v1.8h-21.3zM1946.5 273.6h4.5v1.8h-4.5zM1917.2 275h4.5v1.8h-4.5zM1980.1 275h4.5v1.8h-4.5zM1883.6 277.6h8.7v1.8h-8.7zM1896.2 277.6h12.9v1.8h-12.9zM1959.1 277.6h4.5v1.8h-4.5zM1933.9 280.3h12.9v1.8h-12.9zM1954.9 280.3h4.5v1.8h-4.5zM1975.9 283h4.5v1.8h-4.5zM1896.2 285.6h4.5v1.8h-4.5zM2005.2 285.6h4.5v1.8h-4.5zM1929.7 287h4.5v1.8h-4.5zM1954.9 287h8.7v1.8h-8.7zM1967.5 289.6h8.7v1.8h-8.7zM1908.8 291h4.5v1.8h-4.5zM1984.3 291h4.5v1.8h-4.5zM1950.7 292.3h4.5v1.8h-4.5zM1984.3 292.3h4.5v1.8h-4.5zM1959.1 293.6h4.5v1.8h-4.5zM1971.7 293.6h4.5v1.8h-4.5zM1980.1 293.6h4.5v1.8h-4.5zM1925.5 296.3h4.5v1.8h-4.5zM1938.1 296.3h8.7v1.8h-8.7zM1954.9 296.3h4.5v1.8h-4.5zM1988.5 296.3h8.7v1.8h-8.7zM1967.5 300.3h4.5v1.8h-4.5zM1992.7 300.3h4.5v1.8h-4.5zM1984.3 301.6h8.7v1.8h-8.7zM1883.6 303h4.5v1.8h-4.5zM1900.4 303h12.9v1.8h-12.9z" fill="#c63d4d" shape-rendering="crispEdges"/>
<path d="M1925.5 149.6h4.5v1.8h-4.5zM1908.8 152.3h4.5v1.8h-4.5zM1917.2 152.3h8.7v1.8h-8.7zM1929.7 152.3h8.7v1.8h-8.7zM1929.7 153.6h12.9v1.8h-12.9zM1946.5 153.6h12.9v1.8h-12.9zM1904.6 156.3h12.9v1.8h-12.9zM1967.5 156.3h33.9v1.8h-33.9zM1904.6 157.6h4.5v1.8h-4.5zM1913 157.6h4.5v1.8h-4.5zM1925.5 157.6h4.5v1.8h-4.5zM1950.7 157.6h4.5v1.8h-4.5zM1967.5 157.6h8.7v1.8h-8.7zM1980.1 157.6h4.5v1.8h-4.5zM1913 158.9h4.5v1.8h-4.5zM1921.3 158.9h4.5v1.8h-4.5zM1929.7 158.9h12.9v1.8h-12.9zM1946.5 158.9h4.5v1.8h-4.5zM1883.6 160.3h4.5v1.8h-4.5zM1971.7 160.3h4.5v1.8h-4.5zM1980.1 160.3h4.5v1.8h-4.5zM2001 160.3h8.7v1.8h-8.7zM2017.8 160.3h4.5v1.8h-4.5zM1883.6 161.6h8.7v1.8h-8.7zM1904.6 161.6h4.5v1.8h-4.5zM1975.9 161.6h8.7v1.8h-8.7zM1908.8 162.9h4.5v1.8h-4.5zM1917.2 162.9h4.5v1.8h-4.5zM1925.5 162.9h8.7v1.8h-8.7zM1938.1 162.9h4.5v1.8h-4.5zM1963.3 162.9h8.7v1.8h-8.7zM1992.7 164.3h4.5v1.8h-4.5zM2001 164.3h8.7v1.8h-8.7zM1996.8 165.6h4.5v1.8h-4.5zM2005.2 165.6h4.5v1.8h-4.5zM2013.6 165.6h4.5v1.8h-4.5zM1908.8 166.9h4.5v1.8h-4.5zM1975.9 166.9h4.5v1.8h-4.5zM2017.8 166.9h4.5v1.8h-4.5zM1975.9 168.3h4.5v1.8h-4.5zM1984.3 168.3h4.5v1.8h-4.5zM1992.7 168.3h4.5v1.8h-4.5zM1883.6 172.3h4.5v1.8h-4.5zM1913 172.3h4.5v1.8h-4.5zM1942.3 172.3h12.9v1.8h-12.9zM1959.1 172.3h4.5v1.8h-4.5zM1971.7 172.3h8.7v1.8h-8.7zM1988.5 172.3h4.5v1.8h-4.5zM2001 172.3h4.5v1.8h-4.5zM2013.6 172.3h4.5v1.8h-4.5zM2022 172.3h4.5v1.8h-4.5zM1896.2 173.6h4.5v1.8h-4.5zM1967.5 173.6h4.5v1.8h-4.5zM1913 174.9h4.5v1.8h-4.5zM2026.2 174.9h4.5v1.8h-4.5zM1938.1 176.3h8.7v1.8h-8.7zM1954.9 176.3h4.5v1.8h-4.5zM1971.7 176.3h4.5v1.8h-4.5zM1900.4 177.6h4.5v1.8h-4.5zM1913 177.6h4.5v1.8h-4.5zM1971.7 177.6h8.7v1.8h-8.7zM1984.3 177.6h8.7v1.8h-8.7zM1996.8 177.6h4.5v1.8h-4.5zM2005.2 177.6h4.5v1.8h-4.5zM2013.6 177.6h8.7v1.8h-8.7zM2026.2 177.6h4.5v1.8h-4.5zM1984.3 178.9h4.5v1.8h-4.5zM1992.7 178.9h12.9v1.8h-12.9zM2009.4 178.9h8.7v1.8h-8.7zM1980.1 180.3h8.7v1.8h-8.7zM1992.7 180.3h4.5v1.8h-4.5zM2001 180.3h8.7v1.8h-8.7zM1929.7 181.6h4.5v1.8h-4.5zM1938.1 181.6h8.7v1.8h-8.7zM1954.9 181.6h8.7v1.8h-8.7zM1971.7 182.9h4.5v1.8h-4.5zM1921.3 185.6h4.5v1.8h-4.5zM1938.1 185.6h4.5v1.8h-4.5zM1954.9 185.6h8.7v1.8h-8.7zM1975.9 185.6h8.7v1.8h-8.7zM2026.2 185.6h4.5v1.8h-4.5zM1883.6 186.9h4.5v1.8h-4.5zM1892 186.9h8.7v1.8h-8.7zM1917.2 186.9h4.5v1.8h-4.5zM1971.7 186.9h4.5v1.8h-4.5zM1980.1 186.9h4.5v1.8h-4.5zM2022 186.9h4.5v1.8h-4.5zM1925.5 188.3h4.5v1.8h-4.5zM2005.2 188.3h4.5v1.8h-4.5zM1942.3 189.6h8.7v1.8h-8.7zM2026.2 189.6h4.5v1.8h-4.5zM1883.6 190.9h4.5v1.8h-4.5zM1904.6 190.9h4.5v1.8h-4.5zM1971.7 190.9h8.7v1.8h-8.7zM1984.3 190.9h4.5v1.8h-4.5zM1904.6 192.3h4.5v1.8h-4.5zM1883.6 193.6h4.5v1.8h-4.5zM1892 193.6h8.7v1.8h-8.7zM1904.6 193.6h4.5v1.8h-4.5zM2009.4 194.9h4.5v1.8h-4.5zM2017.8 194.9h4.5v1.8h-4.5zM1921.3 197.6h4.5v1.8h-4.5zM1942.3 198.9h8.7v1.8h-8.7zM1959.1 198.9h4.5v1.8h-4.5zM1971.7 198.9h4.5v1.8h-4.5zM1980.1 198.9h12.9v1.8h-12.9zM1925.5 205.6h12.9v1.8h-12.9zM1954.9 205.6h4.5v1.8h-4.5zM1963.3 205.6h8.7v1.8h-8.7zM1892 208.3h4.5v1.8h-4.5zM1988.5 208.3h12.9v1.8h-12.9zM1896.2 210.9h4.5v1.8h-4.5zM2017.8 210.9h4.5v1.8h-4.5zM1933.9 212.3h12.9v1.8h-12.9zM1975.9 212.3h4.5v1.8h-4.5zM1984.3 212.3h8.7v1.8h-8.7zM1883.6 213.6h4.5v1.8h-4.5zM1892 213.6h8.7v1.8h-8.7zM1904.6 213.6h8.7v1.8h-8.7zM1925.5 213.6h4.5v1.8h-4.5zM1975.9 213.6h4.5v1.8h-4.5zM1984.3 213.6h4.5v1.8h-4.5zM1992.7 213.6h4.5v1.8h-4.5zM2001 213.6h4.5v1.8h-4.5zM1883.6 220.3h8.7v1.8h-8.7zM1933.9 220.3h8.7v1.8h-8.7zM1963.3 220.3h8.7v1.8h-8.7zM1975.9 220.3h4.5v1.8h-4.5zM2005.2 220.3h21.3v1.8h-21.3zM1887.8 221.6h4.5v1.8h-4.5zM1900.4 221.6h4.5v1.8h-4.5zM2009.4 221.6h4.5v1.8h-4.5zM2026.2 221.6h4.5v1.8h-4.5zM1950.7 222.9h12.9v1.8h-12.9zM1967.5 222.9h4.5v1.8h-4.5zM1975.9 222.9h4.5v1.8h-4.5zM1984.3 222.9h4.5v1.8h-4.5zM2009.4 222.9h8.7v1.8h-8.7zM2022 222.9h8.7v1.8h-8.7zM1942.3 224.3h4.5v1.8h-4.5zM1950.7 224.3h4.5v1.8h-4.5zM1959.1 224.3h4.5v1.8h-4.5zM1971.7 224.3h4.5v1.8h-4.5zM1984.3 224.3h4.5v1.8h-4.5zM1917.2 226.9h4.5v1.8h-4.5zM1883.6 231h8.7v1.8h-8.7zM1917.2 231h4.5v1.8h-4.5zM1933.9 231h12.9v1.8h-12.9zM1950.7 231h4.5v1.8h-4.5zM1971.7 231h4.5v1.8h-4.5zM1984.3 231h8.7v1.8h-8.7zM1996.8 231h8.7v1.8h-8.7zM2022 233.6h4.5v1.8h-4.5zM1883.6 235h8.7v1.8h-8.7zM2001 235h4.5v1.8h-4.5zM2013.6 235h17.1v1.8h-17.1zM1887.8 236.3h4.5v1.8h-4.5zM1908.8 236.3h4.5v1.8h-4.5zM1950.7 237.6h4.5v1.8h-4.5zM1967.5 237.6h4.5v1.8h-4.5zM1980.1 237.6h4.5v1.8h-4.5zM1988.5 237.6h21.3v1.8h-21.3zM2013.6 237.6h4.5v1.8h-4.5zM1883.6 240.3h4.5v1.8h-4.5zM1892 240.3h4.5v1.8h-4.5zM1925.5 241.6h4.5v1.8h-4.5zM1938.1 244.3h4.5v1.8h-4.5zM1963.3 245.6h8.7v1.8h-8.7zM1980.1 245.6h4.5v1.8h-4.5zM1988.5 245.6h4.5v1.8h-4.5zM1896.2 247h4.5v1.8h-4.5zM1996.8 247h8.7v1.8h-8.7zM2017.8 247h4.5v1.8h-4.5zM1883.6 248.3h4.5v1.8h-4.5zM1892 248.3h4.5v1.8h-4.5zM1900.4 248.3h12.9v1.8h-12.9zM1992.7 248.3h4.5v1.8h-4.5zM2001 248.3h4.5v1.8h-4.5zM2009.4 248.3h8.7v1.8h-8.7zM2026.2 248.3h4.5v1.8h-4.5zM1900.4 251h4.5v1.8h-4.5zM1908.8 251h4.5v1.8h-4.5zM1921.3 251h4.5v1.8h-4.5zM1954.9 251h29.7v1.8h-29.7zM1988.5 251h8.7v1.8h-8.7zM2001 251h4.5v1.8h-4.5zM2013.6 251h4.5v1.8h-4.5zM2022 251h8.7v1.8h-8.7zM1887.8 252.3h4.5v1.8h-4.5zM1896.2 252.3h4.5v1.8h-4.5zM1904.6 252.3h4.5v1.8h-4.5zM1975.9 252.3h4.5v1.8h-4.5zM1925.5 253.6h8.7v1.8h-8.7zM1883.6 255h4.5v1.8h-4.5zM1908.8 255h4.5v1.8h-4.5zM1908.8 256.3h4.5v1.8h-4.5zM1917.2 256.3h4.5v1.8h-4.5zM1971.7 256.3h8.7v1.8h-8.7zM1984.3 256.3h4.5v1.8h-4.5zM2005.2 256.3h8.7v1.8h-8.7zM1933.9 257.6h4.5v1.8h-4.5zM2022 257.6h4.5v1.8h-4.5zM1954.9 260.3h4.5v1.8h-4.5zM1975.9 263h4.5v1.8h-4.5zM1942.3 264.3h8.7v1.8h-8.7zM1967.5 264.3h12.9v1.8h-12.9zM1984.3 264.3h8.7v1.8h-8.7zM1963.3 265.6h4.5v1.8h-4.5zM2026.2 265.6h4.5v1.8h-4.5zM1913 267h4.5v1.8h-4.5zM1929.7 267h4.5v1.8h-4.5zM1938.1 267h4.5v1.8h-4.5zM1908.8 268.3h8.7v1.8h-8.7zM1938.1 268.3h8.7v1.8h-8.7zM1950.7 268.3h4.5v1.8h-4.5zM1980.1 271h4.5v1.8h-4.5zM1992.7 271h8.7v1.8h-8.7zM2022 271h4.5v1.8h-4.5zM1921.3 272.3h4.5v1.8h-4.5zM1929.7 272.3h4.5v1.8h-4.5zM1913 273.6h4.5v1.8h-4.5zM1938.1 273.6h8.7v1.8h-8.7zM1950.7 273.6h8.7v1.8h-8.7zM1883.6 275h8.7v1.8h-8.7zM1921.3 275h4.5v1.8h-4.5zM1963.3 275h4.5v1.8h-4.5zM1988.5 275h17.1v1.8h-17.1zM1892 277.6h4.5v1.8h-4.5zM1954.9 277.6h4.5v1.8h-4.5zM1942.3 279h4.5v1.8h-4.5zM1929.7 280.3h4.5v1.8h-4.5zM1959.1 280.3h8.7v1.8h-8.7zM1938.1 281.6h4.5v1.8h-4.5zM1975.9 284.3h4.5v1.8h-4.5zM1992.7 284.3h4.5v1.8h-4.5zM1892 285.6h4.5v1.8h-4.5zM1900.4 285.6h8.7v1.8h-8.7zM1917.2 285.6h4.5v1.8h-4.5zM1925.5 285.6h4.5v1.8h-4.5zM1938.1 285.6h12.9v1.8h-12.9zM1954.9 285.6h4.5v1.8h-4.5zM2009.4 285.6h4.5v1.8h-4.5zM2017.8 285.6h4.5v1.8h-4.5zM2026.2 285.6h4.5v1.8h-4.5zM1925.5 287h4.5v1.8h-4.5zM1933.9 287h4.5v1.8h-4.5zM1967.5 287h4.5v1.8h-4.5zM1967.5 288.3h4.5v1.8h-4.5zM1929.7 289.6h12.9v1.8h-12.9zM1883.6 291h4.5v1.8h-4.5zM1892 291h8.7v1.8h-8.7zM1913 291h8.7v1.8h-8.7zM2009.4 291h21.3v1.8h-21.3zM1942.3 292.3h8.7v1.8h-8.7zM1988.5 292.3h4.5v1.8h-4.5zM1946.5 293.6h4.5v1.8h-4.5zM1954.9 293.6h4.5v1.8h-4.5zM1975.9 293.6h4.5v1.8h-4.5zM1908.8 295h4.5v1.8h-4.5zM1946.5 295h4.5v1.8h-4.5zM1963.3 295h8.7v1.8h-8.7zM1917.2 296.3h4.5v1.8h-4.5zM1929.7 296.3h8.7v1.8h-8.7zM1996.8 296.3h4.5v1.8h-4.5zM2022 296.3h4.5v1.8h-4.5zM1933.9 300.3h4.5v1.8h-4.5zM1950.7 300.3h4.5v1.8h-4.5zM1959.1 300.3h8.7v1.8h-8.7zM1971.7 300.3h21.3v1.8h-21.3zM1980.1 301.6h4.5v1.8h-4.5zM1992.7 301.6h17.1v1.8h-17.1zM1887.8 303h12.9v1.8h-12.9zM1913 303h4.5v1.8h-4.5zM1929.7 303h4.5v1.8h-4.5zM1950.7 303h4.5v1.8h-4.5zM1959.1 303h4.5v1.8h-4.5zM1975.9 303h8.7v1.8h-8.7zM1988.5 303h4.5v1.8h-4.5zM2009.4 303h4.5v1.8h-4.5z" fill="#d94d3d" shape-rendering="crispEdges"/>
<path d="M1913 149.6h4.5v1.8h-4.5zM1921.3 149.6h4.5v1.8h-4.5zM1929.7 149.6h8.7v1.8h-8.7zM1900.4 150.9h4.5v1.8h-4.5zM1908.8 150.9h12.9v1.8h-12.9zM1900.4 152.3h4.5v1.8h-4.5zM1913 152.3h4.5v1.8h-4.5zM1925.5 152.3h4.5v1.8h-4.5zM1938.1 152.3h12.9v1.8h-12.9zM1942.3 153.6h4.5v1.8h-4.5zM1967.5 153.6h4.5v1.8h-4.5zM1900.4 154.9h4.5v1.8h-4.5zM1908.8 154.9h4.5v1.8h-4.5zM1925.5 154.9h4.5v1.8h-4.5zM1933.9 154.9h4.5v1.8h-4.5zM2026.2 154.9h4.5v1.8h-4.5zM2001 156.3h4.5v1.8h-4.5zM2026.2 156.3h4.5v1.8h-4.5zM1975.9 157.6h4.5v1.8h-4.5zM1917.2 158.9h4.5v1.8h-4.5zM1925.5 158.9h4.5v1.8h-4.5zM1942.3 158.9h4.5v1.8h-4.5zM1950.7 158.9h8.7v1.8h-8.7zM1887.8 160.3h4.5v1.8h-4.5zM1904.6 160.3h4.5v1.8h-4.5zM1984.3 160.3h17.1v1.8h-17.1zM2009.4 160.3h8.7v1.8h-8.7zM1892 161.6h4.5v1.8h-4.5zM1971.7 161.6h4.5v1.8h-4.5zM2001 161.6h4.5v1.8h-4.5zM2013.6 161.6h4.5v1.8h-4.5zM1959.1 162.9h4.5v1.8h-4.5zM1975.9 162.9h4.5v1.8h-4.5zM1887.8 164.3h8.7v1.8h-8.7zM2009.4 164.3h4.5v1.8h-4.5zM2017.8 164.3h8.7v1.8h-8.7zM1887.8 165.6h4.5v1.8h-4.5zM1908.8 165.6h4.5v1.8h-4.5zM2009.4 165.6h4.5v1.8h-4.5zM2017.8 165.6h12.9v1.8h-12.9zM1980.1 166.9h4.5v1.8h-4.5zM1988.5 166.9h4.5v1.8h-4.5zM2013.6 166.9h4.5v1.8h-4.5zM2022 166.9h8.7v1.8h-8.7zM1980.1 168.3h4.5v1.8h-4.5zM1988.5 168.3h4.5v1.8h-4.5zM1967.5 170.9h8.7v1.8h-8.7zM1887.8 172.3h4.5v1.8h-4.5zM1896.2 172.3h4.5v1.8h-4.5zM1963.3 172.3h4.5v1.8h-4.5zM1980.1 172.3h8.7v1.8h-8.7zM1992.7 172.3h8.7v1.8h-8.7zM2026.2 172.3h4.5v1.8h-4.5zM1892 173.6h4.5v1.8h-4.5zM1913 173.6h4.5v1.8h-4.5zM1975.9 173.6h8.7v1.8h-8.7zM1883.6 174.9h4.5v1.8h-4.5zM1892 174.9h8.7v1.8h-8.7zM1984.3 174.9h8.7v1.8h-8.7zM2013.6 174.9h4.5v1.8h-4.5zM2022 174.9h4.5v1.8h-4.5zM1925.5 176.3h4.5v1.8h-4.5zM1933.9 176.3h4.5v1.8h-4.5zM1975.9 176.3h8.7v1.8h-8.7zM1980.1 177.6h4.5v1.8h-4.5zM1992.7 177.6h4.5v1.8h-4.5zM2001 177.6h4.5v1.8h-4.5zM2009.4 177.6h4.5v1.8h-4.5zM1913 178.9h4.5v1.8h-4.5zM1913 180.3h4.5v1.8h-4.5zM1996.8 180.3h4.5v1.8h-4.5zM1917.2 181.6h12.9v1.8h-12.9zM1950.7 181.6h4.5v1.8h-4.5zM1963.3 181.6h4.5v1.8h-4.5zM1917.2 182.9h4.5v1.8h-4.5zM1975.9 182.9h4.5v1.8h-4.5zM1984.3 182.9h4.5v1.8h-4.5zM1904.6 184.3h4.5v1.8h-4.5zM1883.6 185.6h8.7v1.8h-8.7zM2005.2 185.6h12.9v1.8h-12.9zM2022 185.6h4.5v1.8h-4.5zM1904.6 186.9h4.5v1.8h-4.5zM1975.9 186.9h4.5v1.8h-4.5zM1992.7 186.9h4.5v1.8h-4.5zM2005.2 186.9h12.9v1.8h-12.9zM1921.3 188.3h4.5v1.8h-4.5zM1896.2 189.6h8.7v1.8h-8.7zM1950.7 189.6h21.3v1.8h-21.3zM2009.4 189.6h4.5v1.8h-4.5zM2017.8 189.6h8.7v1.8h-8.7zM1917.2 190.9h4.5v1.8h-4.5zM1980.1 190.9h4.5v1.8h-4.5zM1900.4 193.6h4.5v1.8h-4.5zM2005.2 194.9h4.5v1.8h-4.5zM2013.6 194.9h4.5v1.8h-4.5zM2022 194.9h8.7v1.8h-8.7zM1917.2 196.3h4.5v1.8h-4.5zM1984.3 197.6h4.5v1.8h-4.5zM1938.1 198.9h4.5v1.8h-4.5zM1950.7 198.9h8.7v1.8h-8.7zM1992.7 198.9h12.9v1.8h-12.9zM2009.4 198.9h8.7v1.8h-8.7zM1908.8 200.3h4.5v1.8h-4.5zM1883.6 205.6h4.5v1.8h-4.5zM1896.2 205.6h12.9v1.8h-12.9zM1971.7 205.6h8.7v1.8h-8.7zM2022 205.6h4.5v1.8h-4.5zM1921.3 206.9h4.5v1.8h-4.5zM1883.6 208.3h4.5v1.8h-4.5zM1896.2 208.3h4.5v1.8h-4.5zM1925.5 208.3h4.5v1.8h-4.5zM2009.4 208.3h4.5v1.8h-4.5zM2022 210.9h8.7v1.8h-8.7zM1992.7 212.3h4.5v1.8h-4.5zM1887.8 213.6h4.5v1.8h-4.5zM1900.4 213.6h4.5v1.8h-4.5zM1996.8 213.6h4.5v1.8h-4.5zM2005.2 213.6h4.5v1.8h-4.5zM2013.6 213.6h4.5v1.8h-4.5zM2026.2 213.6h4.5v1.8h-4.5zM1892 220.3h4.5v1.8h-4.5zM1900.4 220.3h17.1v1.8h-17.1zM1929.7 220.3h4.5v1.8h-4.5zM1942.3 220.3h8.7v1.8h-8.7zM1954.9 220.3h8.7v1.8h-8.7zM1980.1 220.3h4.5v1.8h-4.5zM1988.5 220.3h4.5v1.8h-4.5zM1996.8 220.3h4.5v1.8h-4.5zM2026.2 220.3h4.5v1.8h-4.5zM1896.2 221.6h4.5v1.8h-4.5zM1904.6 221.6h8.7v1.8h-8.7zM1929.7 221.6h4.5v1.8h-4.5zM2022 221.6h4.5v1.8h-4.5zM1892 222.9h4.5v1.8h-4.5zM1933.9 222.9h17.1v1.8h-17.1zM1971.7 222.9h4.5v1.8h-4.5zM1992.7 222.9h17.1v1.8h-17.1zM2017.8 222.9h4.5v1.8h-4.5zM1933.9 224.3h4.5v1.8h-4.5zM1954.9 224.3h4.5v1.8h-4.5zM1967.5 224.3h4.5v1.8h-4.5zM1980.1 224.3h4.5v1.8h-4.5zM1988.5 224.3h8.7v1.8h-8.7zM1946.5 225.6h12.9v1.8h-12.9zM1967.5 225.6h4.5v1.8h-4.5zM1946.5 228.3h4.5v1.8h-4.5zM1946.5 231h4.5v1.8h-4.5zM1954.9 231h17.1v1.8h-17.1zM1975.9 231h8.7v1.8h-8.7zM1992.7 231h4.5v1.8h-4.5zM1921.3 232.3h4.5v1.8h-4.5zM1892 233.6h4.5v1.8h-4.5zM1904.6 233.6h4.5v1.8h-4.5zM1975.9 233.6h8.7v1.8h-8.7zM2005.2 233.6h4.5v1.8h-4.5zM2013.6 233.6h8.7v1.8h-8.7zM1892 235h17.1v1.8h-17.1zM1917.2 235h4.5v1.8h-4.5zM1992.7 235h8.7v1.8h-8.7zM2005.2 235h8.7v1.8h-8.7zM1921.3 236.3h4.5v1.8h-4.5zM1933.9 236.3h4.5v1.8h-4.5zM1883.6 237.6h4.5v1.8h-4.5zM1892 237.6h4.5v1.8h-4.5zM1904.6 237.6h4.5v1.8h-4.5zM1938.1 237.6h12.9v1.8h-12.9zM1963.3 237.6h4.5v1.8h-4.5zM1984.3 237.6h4.5v1.8h-4.5zM2009.4 237.6h4.5v1.8h-4.5zM2017.8 237.6h4.5v1.8h-4.5zM2026.2 237.6h4.5v1.8h-4.5zM1900.4 239h4.5v1.8h-4.5zM2005.2 239h8.7v1.8h-8.7zM2022 239h4.5v1.8h-4.5zM1887.8 240.3h4.5v1.8h-4.5zM1900.4 240.3h4.5v1.8h-4.5zM1963.3 240.3h33.9v1.8h-33.9zM2001 240.3h8.7v1.8h-8.7zM1946.5 245.6h17.1v1.8h-17.1zM1971.7 245.6h4.5v1.8h-4.5zM1992.7 245.6h4.5v1.8h-4.5zM1892 247h4.5v1.8h-4.5zM1929.7 247h4.5v1.8h-4.5zM1942.3 247h4.5v1.8h-4.5zM1950.7 247h17.1v1.8h-17.1zM1988.5 247h4.5v1.8h-4.5zM1913 248.3h8.7v1.8h-8.7zM1971.7 248.3h4.5v1.8h-4.5zM1980.1 248.3h8.7v1.8h-8.7zM1996.8 248.3h4.5v1.8h-4.5zM2005.2 248.3h4.5v1.8h-4.5zM2022 248.3h4.5v1.8h-4.5zM1896.2 249.6h21.3v1.8h-21.3zM1913 251h8.7v1.8h-8.7zM1950.7 251h4.5v1.8h-4.5zM2017.8 251h4.5v1.8h-4.5zM1883.6 252.3h4.5v1.8h-4.5zM1892 252.3h4.5v1.8h-4.5zM1900.4 252.3h4.5v1.8h-4.5zM1908.8 252.3h12.9v1.8h-12.9zM1963.3 252.3h4.5v1.8h-4.5zM1971.7 252.3h4.5v1.8h-4.5zM1984.3 252.3h8.7v1.8h-8.7zM1996.8 252.3h4.5v1.8h-4.5zM2005.2 252.3h8.7v1.8h-8.7zM1892 253.6h8.7v1.8h-8.7zM1904.6 253.6h12.9v1.8h-12.9zM1921.3 253.6h4.5v1.8h-4.5zM1933.9 253.6h4.5v1.8h-4.5zM1950.7 253.6h21.3v1.8h-21.3zM1975.9 253.6h4.5v1.8h-4.5zM1917.2 255h12.9v1.8h-12.9zM2026.2 255h4.5v1.8h-4.5zM1913 256.3h4.5v1.8h-4.5zM1925.5 256.3h4.5v1.8h-4.5zM1954.9 256.3h4.5v1.8h-4.5zM2013.6 256.3h12.9v1.8h-12.9zM1938.1 257.6h4.5v1.8h-4.5zM1963.3 257.6h4.5v1.8h-4.5zM2005.2 257.6h12.9v1.8h-12.9zM1887.8 259h4.5v1.8h-4.5zM1988.5 259h8.7v1.8h-8.7zM1942.3 261.6h4.5v1.8h-4.5zM1883.6 263h4.5v1.8h-4.5zM1896.2 263h29.7v1.8h-29.7zM1929.7 263h8.7v1.8h-8.7zM1942.3 263h4.5v1.8h-4.5zM1967.5 263h4.5v1.8h-4.5zM1988.5 263h12.9v1.8h-12.9zM2005.2 263h8.7v1.8h-8.7zM1963.3 264.3h4.5v1.8h-4.5zM1950.7 265.6h4.5v1.8h-4.5zM1908.8 267h4.5v1.8h-4.5zM1917.2 267h12.9v1.8h-12.9zM1933.9 267h4.5v1.8h-4.5zM1942.3 267h4.5v1.8h-4.5zM1975.9 268.3h4.5v1.8h-4.5zM1971.7 271h4.5v1.8h-4.5zM2001 271h17.1v1.8h-17.1zM1917.2 272.3h4.5v1.8h-4.5zM1925.5 272.3h4.5v1.8h-4.5zM1933.9 272.3h8.7v1.8h-8.7zM1904.6 273.6h8.7v1.8h-8.7zM1959.1 273.6h4.5v1.8h-4.5zM1980.1 273.6h4.5v1.8h-4.5zM1988.5 273.6h8.7v1.8h-8.7zM2005.2 273.6h4.5v1.8h-4.5zM2026.2 273.6h4.5v1.8h-4.5zM1892 275h4.5v1.8h-4.5zM1900.4 275h8.7v1.8h-8.7zM1913 275h4.5v1.8h-4.5zM2009.4 275h4.5v1.8h-4.5zM2017.8 275h4.5v1.8h-4.5zM1883.6 276.3h8.7v1.8h-8.7zM1925.5 276.3h8.7v1.8h-8.7zM1938.1 276.3h29.7v1.8h-29.7zM1984.3 276.3h8.7v1.8h-8.7zM1913 279h4.5v1.8h-4.5zM1933.9 279h8.7v1.8h-8.7zM1954.9 279h12.9v1.8h-12.9zM1992.7 279h4.5v1.8h-4.5zM1917.2 280.3h12.9v1.8h-12.9zM1933.9 281.6h4.5v1.8h-4.5zM1954.9 281.6h4.5v1.8h-4.5zM1963.3 281.6h4.5v1.8h-4.5zM2001 281.6h8.7v1.8h-8.7zM1988.5 283h4.5v1.8h-4.5zM1883.6 285.6h8.7v1.8h-8.7zM1908.8 285.6h8.7v1.8h-8.7zM1921.3 285.6h4.5v1.8h-4.5zM1929.7 285.6h8.7v1.8h-8.7zM1950.7 285.6h4.5v1.8h-4.5zM1959.1 285.6h8.7v1.8h-8.7zM1975.9 285.6h4.5v1.8h-4.5zM1996.8 285.6h8.7v1.8h-8.7zM2013.6 285.6h4.5v1.8h-4.5zM2022 285.6h4.5v1.8h-4.5zM1921.3 287h4.5v1.8h-4.5zM1963.3 287h4.5v1.8h-4.5zM1892 288.3h4.5v1.8h-4.5zM1954.9 288.3h12.9v1.8h-12.9zM1971.7 288.3h12.9v1.8h-12.9zM1908.8 289.6h4.5v1.8h-4.5zM1925.5 289.6h4.5v1.8h-4.5zM1975.9 289.6h4.5v1.8h-4.5zM1887.8 291h4.5v1.8h-4.5zM1900.4 291h8.7v1.8h-8.7zM1933.9 292.3h4.5v1.8h-4.5zM2013.6 292.3h8.7v1.8h-8.7zM2026.2 292.3h4.5v1.8h-4.5zM1950.7 293.6h4.5v1.8h-4.5zM1984.3 293.6h4.5v1.8h-4.5zM1913 295h4.5v1.8h-4.5zM1925.5 295h4.5v1.8h-4.5zM1933.9 295h4.5v1.8h-4.5zM1942.3 295h4.5v1.8h-4.5zM1950.7 295h12.9v1.8h-12.9zM1971.7 295h12.9v1.8h-12.9zM1883.6 296.3h4.5v1.8h-4.5zM1892 296.3h4.5v1.8h-4.5zM1900.4 296.3h4.5v1.8h-4.5zM1908.8 296.3h8.7v1.8h-8.7zM1921.3 296.3h4.5v1.8h-4.5zM2001 296.3h4.5v1.8h-4.5zM2017.8 296.3h4.5v1.8h-4.5zM2026.2 296.3h4.5v1.8h-4.5zM1904.6 297.6h8.7v1.8h-8.7zM1887.8 299h8.7v1.8h-8.7zM1896.2 300.3h4.5v1.8h-4.5zM1904.6 300.3h4.5v1.8h-4.5zM1921.3 300.3h4.5v1.8h-4.5zM1942.3 300.3h4.5v1.8h-4.5zM1954.9 300.3h4.5v1.8h-4.5zM1996.8 300.3h8.7v1.8h-8.7zM1883.6 301.6h4.5v1.8h-4.5zM1959.1 301.6h4.5v1.8h-4.5zM1975.9 301.6h4.5v1.8h-4.5zM2009.4 301.6h4.5v1.8h-4.5zM1917.2 303h12.9v1.8h-12.9zM1933.9 303h4.5v1.8h-4.5zM1942.3 303h4.5v1.8h-4.5zM1963.3 303h12.9v1.8h-12.9zM1984.3 303h4.5v1.8h-4.5zM1992.7 303h4.5v1.8h-4.5zM2001 303h8.7v1.8h-8.7zM2013.6 303h4.5v1.8h-4.5z" fill="#e9612b" shape-rendering="crispEdges"/>
<path d="M1904.6 149.6h8.7v1.8h-8.7zM1917.2 149.6h4.5v1.8h-4.5zM1938.1 149.6h17.1v1.8h-17.1zM1959.1 149.6h4.5v1.8h-4.5zM1967.5 149.6h4.5v1.8h-4.5zM1896.2 150.9h4.5v1.8h-4.5zM1904.6 150.9h4.5v1.8h-4.5zM1921.3 150.9h8.7v1.8h-8.7zM1896.2 152.3h4.5v1.8h-4.5zM1954.9 152.3h12.9v1.8h-12.9zM1883.6 153.6h4.5v1.8h-4.5zM1959.1 153.6h4.5v1.8h-4.5zM1904.6 154.9h4.5v1.8h-4.5zM1913 154.9h12.9v1.8h-12.9zM1929.7 154.9h4.5v1.8h-4.5zM1938.1 154.9h17.1v1.8h-17.1zM2022 154.9h4.5v1.8h-4.5zM1883.6 156.3h4.5v1.8h-4.5zM1900.4 156.3h4.5v1.8h-4.5zM2005.2 156.3h21.3v1.8h-21.3zM1984.3 157.6h25.5v1.8h-25.5zM2017.8 157.6h12.9v1.8h-12.9zM1908.8 158.9h4.5v1.8h-4.5zM1959.1 158.9h8.7v1.8h-8.7zM1892 160.3h4.5v1.8h-4.5zM1984.3 161.6h12.9v1.8h-12.9zM2005.2 161.6h8.7v1.8h-8.7zM2017.8 161.6h4.5v1.8h-4.5zM2026.2 164.3h4.5v1.8h-4.5zM1883.6 165.6h4.5v1.8h-4.5zM1892 165.6h4.5v1.8h-4.5zM1887.8 166.9h8.7v1.8h-8.7zM1984.3 166.9h4.5v1.8h-4.5zM1992.7 166.9h12.9v1.8h-12.9zM2001 168.3h8.7v1.8h-8.7zM2013.6 168.3h4.5v1.8h-4.5zM1883.6 169.6h4.5v1.8h-4.5zM1892 169.6h8.7v1.8h-8.7zM1908.8 169.6h4.5v1.8h-4.5zM1883.6 170.9h4.5v1.8h-4.5zM1896.2 170.9h4.5v1.8h-4.5zM1975.9 170.9h4.5v1.8h-4.5zM1883.6 173.6h8.7v1.8h-8.7zM1984.3 173.6h12.9v1.8h-12.9zM2001 173.6h8.7v1.8h-8.7zM2022 173.6h4.5v1.8h-4.5zM1887.8 174.9h4.5v1.8h-4.5zM1900.4 174.9h4.5v1.8h-4.5zM1992.7 174.9h21.3v1.8h-21.3zM2017.8 174.9h4.5v1.8h-4.5zM1917.2 176.3h8.7v1.8h-8.7zM1929.7 176.3h4.5v1.8h-4.5zM1984.3 176.3h8.7v1.8h-8.7zM1996.8 176.3h4.5v1.8h-4.5zM1892 181.6h4.5v1.8h-4.5zM1900.4 181.6h4.5v1.8h-4.5zM1967.5 181.6h8.7v1.8h-8.7zM1980.1 182.9h4.5v1.8h-4.5zM1892 185.6h4.5v1.8h-4.5zM1900.4 185.6h4.5v1.8h-4.5zM1984.3 185.6h12.9v1.8h-12.9zM2001 185.6h4.5v1.8h-4.5zM2017.8 185.6h4.5v1.8h-4.5zM1984.3 186.9h8.7v1.8h-8.7zM1996.8 186.9h8.7v1.8h-8.7zM1883.6 188.3h8.7v1.8h-8.7zM1900.4 188.3h4.5v1.8h-4.5zM1917.2 188.3h4.5v1.8h-4.5zM1883.6 189.6h4.5v1.8h-4.5zM1892 189.6h4.5v1.8h-4.5zM1904.6 189.6h4.5v1.8h-4.5zM1917.2 189.6h4.5v1.8h-4.5zM1975.9 189.6h8.7v1.8h-8.7zM1988.5 189.6h21.3v1.8h-21.3zM2013.6 189.6h4.5v1.8h-4.5zM1988.5 190.9h8.7v1.8h-8.7zM2001 190.9h8.7v1.8h-8.7zM2022 190.9h4.5v1.8h-4.5zM1917.2 192.3h4.5v1.8h-4.5zM1883.6 194.9h17.1v1.8h-17.1zM1904.6 194.9h4.5v1.8h-4.5zM1988.5 197.6h8.7v1.8h-8.7zM2013.6 197.6h8.7v1.8h-8.7zM2026.2 197.6h4.5v1.8h-4.5zM1929.7 198.9h8.7v1.8h-8.7zM2005.2 198.9h4.5v1.8h-4.5zM2017.8 198.9h4.5v1.8h-4.5zM2026.2 198.9h4.5v1.8h-4.5zM1887.8 205.6h8.7v1.8h-8.7zM1908.8 205.6h4.5v1.8h-4.5zM1988.5 205.6h12.9v1.8h-12.9zM2013.6 205.6h4.5v1.8h-4.5zM2026.2 205.6h4.5v1.8h-4.5zM1887.8 208.3h4.5v1.8h-4.5zM1900.4 208.3h12.9v1.8h-12.9zM2001 208.3h8.7v1.8h-8.7zM2013.6 208.3h8.7v1.8h-8.7zM2026.2 208.3h4.5v1.8h-4.5zM1921.3 209.6h4.5v1.8h-4.5zM1929.7 212.3h4.5v1.8h-4.5zM1996.8 212.3h8.7v1.8h-8.7zM2009.4 212.3h4.5v1.8h-4.5zM2009.4 213.6h4.5v1.8h-4.5zM2017.8 213.6h8.7v1.8h-8.7zM1929.7 214.9h21.3v1.8h-21.3zM1954.9 214.9h4.5v1.8h-4.5zM1967.5 214.9h4.5v1.8h-4.5zM1925.5 218.9h4.5v1.8h-4.5zM1950.7 220.3h4.5v1.8h-4.5zM1971.7 220.3h4.5v1.8h-4.5zM1984.3 220.3h4.5v1.8h-4.5zM1992.7 220.3h4.5v1.8h-4.5zM2001 220.3h4.5v1.8h-4.5zM1883.6 221.6h4.5v1.8h-4.5zM1892 221.6h4.5v1.8h-4.5zM1913 221.6h4.5v1.8h-4.5zM1883.6 222.9h8.7v1.8h-8.7zM1896.2 222.9h12.9v1.8h-12.9zM1913 222.9h4.5v1.8h-4.5zM1883.6 224.3h8.7v1.8h-8.7zM1929.7 224.3h4.5v1.8h-4.5zM1975.9 224.3h4.5v1.8h-4.5zM2001 224.3h4.5v1.8h-4.5zM2022 224.3h8.7v1.8h-8.7zM1933.9 225.6h12.9v1.8h-12.9zM1959.1 225.6h8.7v1.8h-8.7zM1971.7 225.6h4.5v1.8h-4.5zM1929.7 226.9h4.5v1.8h-4.5zM1904.6 228.3h8.7v1.8h-8.7zM1933.9 228.3h8.7v1.8h-8.7zM1950.7 228.3h8.7v1.8h-8.7zM2022 228.3h4.5v1.8h-4.5zM1929.7 229.6h4.5v1.8h-4.5zM1921.3 231h4.5v1.8h-4.5zM1883.6 233.6h8.7v1.8h-8.7zM1896.2 233.6h8.7v1.8h-8.7zM1950.7 233.6h25.5v1.8h-25.5zM1984.3 233.6h21.3v1.8h-21.3zM2009.4 233.6h4.5v1.8h-4.5zM2026.2 233.6h4.5v1.8h-4.5zM1908.8 235h8.7v1.8h-8.7zM1942.3 235h4.5v1.8h-4.5zM1954.9 235h4.5v1.8h-4.5zM1971.7 235h8.7v1.8h-8.7zM1984.3 235h4.5v1.8h-4.5zM1887.8 237.6h4.5v1.8h-4.5zM1896.2 237.6h8.7v1.8h-8.7zM1913 237.6h4.5v1.8h-4.5zM2022 237.6h4.5v1.8h-4.5zM1887.8 239h8.7v1.8h-8.7zM1904.6 239h17.1v1.8h-17.1zM1996.8 239h4.5v1.8h-4.5zM2013.6 239h8.7v1.8h-8.7zM1896.2 240.3h4.5v1.8h-4.5zM1904.6 240.3h8.7v1.8h-8.7zM1946.5 240.3h8.7v1.8h-8.7zM1959.1 240.3h4.5v1.8h-4.5zM1996.8 240.3h4.5v1.8h-4.5zM2013.6 240.3h4.5v1.8h-4.5zM1929.7 244.3h4.5v1.8h-4.5zM1904.6 245.6h4.5v1.8h-4.5zM1917.2 245.6h4.5v1.8h-4.5zM1942.3 245.6h4.5v1.8h-4.5zM1975.9 245.6h4.5v1.8h-4.5zM1984.3 245.6h4.5v1.8h-4.5zM1996.8 245.6h12.9v1.8h-12.9zM2013.6 245.6h8.7v1.8h-8.7zM1883.6 247h8.7v1.8h-8.7zM1971.7 247h4.5v1.8h-4.5zM1992.7 247h4.5v1.8h-4.5zM1975.9 248.3h4.5v1.8h-4.5zM1988.5 248.3h4.5v1.8h-4.5zM1892 249.6h4.5v1.8h-4.5zM1917.2 249.6h12.9v1.8h-12.9zM1950.7 249.6h4.5v1.8h-4.5zM1959.1 249.6h4.5v1.8h-4.5zM2013.6 249.6h4.5v1.8h-4.5zM2022 249.6h8.7v1.8h-8.7zM1925.5 251h8.7v1.8h-8.7zM1946.5 251h4.5v1.8h-4.5zM1929.7 252.3h4.5v1.8h-4.5zM1950.7 252.3h8.7v1.8h-8.7zM1967.5 252.3h4.5v1.8h-4.5zM1980.1 252.3h4.5v1.8h-4.5zM1992.7 252.3h4.5v1.8h-4.5zM2001 252.3h4.5v1.8h-4.5zM2013.6 252.3h12.9v1.8h-12.9zM1883.6 253.6h4.5v1.8h-4.5zM1900.4 253.6h4.5v1.8h-4.5zM1917.2 253.6h4.5v1.8h-4.5zM1984.3 253.6h4.5v1.8h-4.5zM2001 253.6h4.5v1.8h-4.5zM1929.7 255h8.7v1.8h-8.7zM2005.2 255h4.5v1.8h-4.5zM2013.6 255h4.5v1.8h-4.5zM1921.3 256.3h4.5v1.8h-4.5zM1929.7 256.3h4.5v1.8h-4.5zM1959.1 256.3h8.7v1.8h-8.7zM2026.2 256.3h4.5v1.8h-4.5zM1954.9 257.6h8.7v1.8h-8.7zM1967.5 257.6h4.5v1.8h-4.5zM1984.3 257.6h4.5v1.8h-4.5zM1992.7 257.6h12.9v1.8h-12.9zM2017.8 257.6h4.5v1.8h-4.5zM2026.2 257.6h4.5v1.8h-4.5zM1883.6 259h4.5v1.8h-4.5zM1892 259h12.9v1.8h-12.9zM1980.1 259h8.7v1.8h-8.7zM1996.8 259h12.9v1.8h-12.9zM1933.9 261.6h8.7v1.8h-8.7zM1887.8 263h8.7v1.8h-8.7zM1925.5 263h4.5v1.8h-4.5zM1938.1 263h4.5v1.8h-4.5zM1963.3 263h4.5v1.8h-4.5zM1971.7 263h4.5v1.8h-4.5zM1980.1 263h8.7v1.8h-8.7zM2001 263h4.5v1.8h-4.5zM2013.6 263h17.1v1.8h-17.1zM1900.4 267h4.5v1.8h-4.5zM1946.5 267h4.5v1.8h-4.5zM1971.7 267h4.5v1.8h-4.5zM1887.8 268.3h4.5v1.8h-4.5zM1900.4 268.3h8.7v1.8h-8.7zM1971.7 268.3h4.5v1.8h-4.5zM1980.1 268.3h12.9v1.8h-12.9zM1996.8 268.3h4.5v1.8h-4.5zM1959.1 271h4.5v1.8h-4.5zM2017.8 271h4.5v1.8h-4.5zM2026.2 271h4.5v1.8h-4.5zM1908.8 272.3h4.5v1.8h-4.5zM1942.3 272.3h17.1v1.8h-17.1zM1883.6 273.6h8.7v1.8h-8.7zM1896.2 273.6h8.7v1.8h-8.7zM1984.3 273.6h4.5v1.8h-4.5zM1996.8 273.6h8.7v1.8h-8.7zM2009.4 273.6h8.7v1.8h-8.7zM2022 273.6h4.5v1.8h-4.5zM1896.2 275h4.5v1.8h-4.5zM1908.8 275h4.5v1.8h-4.5zM1975.9 275h4.5v1.8h-4.5zM2005.2 275h4.5v1.8h-4.5zM2013.6 275h4.5v1.8h-4.5zM2026.2 275h4.5v1.8h-4.5zM1896.2 276.3h4.5v1.8h-4.5zM1908.8 276.3h4.5v1.8h-4.5zM1933.9 276.3h4.5v1.8h-4.5zM1980.1 276.3h4.5v1.8h-4.5zM1992.7 276.3h12.9v1.8h-12.9zM2009.4 276.3h4.5v1.8h-4.5zM1963.3 277.6h4.5v1.8h-4.5zM1988.5 277.6h8.7v1.8h-8.7zM2001 277.6h8.7v1.8h-8.7zM2013.6 277.6h8.7v1.8h-8.7zM1883.6 279h12.9v1.8h-12.9zM1900.4 279h4.5v1.8h-4.5zM1908.8 279h4.5v1.8h-4.5zM1925.5 279h8.7v1.8h-8.7zM1946.5 279h8.7v1.8h-8.7zM1984.3 279h4.5v1.8h-4.5zM1996.8 279h4.5v1.8h-4.5zM2005.2 279h4.5v1.8h-4.5zM1908.8 280.3h8.7v1.8h-8.7zM1967.5 280.3h4.5v1.8h-4.5zM1942.3 281.6h12.9v1.8h-12.9zM1959.1 281.6h4.5v1.8h-4.5zM1971.7 281.6h4.5v1.8h-4.5zM1996.8 281.6h4.5v1.8h-4.5zM2009.4 281.6h4.5v1.8h-4.5zM2017.8 281.6h8.7v1.8h-8.7zM1967.5 285.6h8.7v1.8h-8.7zM1904.6 287h4.5v1.8h-4.5zM1913 287h8.7v1.8h-8.7zM1975.9 287h4.5v1.8h-4.5zM2005.2 287h4.5v1.8h-4.5zM2013.6 287h8.7v1.8h-8.7zM2026.2 287h4.5v1.8h-4.5zM1883.6 288.3h4.5v1.8h-4.5zM1896.2 288.3h8.7v1.8h-8.7zM1950.7 288.3h4.5v1.8h-4.5zM2001 288.3h12.9v1.8h-12.9zM1896.2 289.6h4.5v1.8h-4.5zM1904.6 289.6h4.5v1.8h-4.5zM1913 289.6h4.5v1.8h-4.5zM1921.3 289.6h4.5v1.8h-4.5zM1980.1 289.6h8.7v1.8h-8.7zM2013.6 289.6h4.5v1.8h-4.5zM1988.5 291h4.5v1.8h-4.5zM2005.2 291h4.5v1.8h-4.5zM1917.2 292.3h4.5v1.8h-4.5zM1925.5 292.3h4.5v1.8h-4.5zM1938.1 292.3h4.5v1.8h-4.5zM1992.7 292.3h4.5v1.8h-4.5zM2009.4 292.3h4.5v1.8h-4.5zM2022 292.3h4.5v1.8h-4.5zM1883.6 293.6h8.7v1.8h-8.7zM1938.1 293.6h8.7v1.8h-8.7zM1988.5 293.6h8.7v1.8h-8.7zM1883.6 295h25.5v1.8h-25.5zM1917.2 295h8.7v1.8h-8.7zM1929.7 295h4.5v1.8h-4.5zM1938.1 295h4.5v1.8h-4.5zM1988.5 295h4.5v1.8h-4.5zM1887.8 296.3h4.5v1.8h-4.5zM1896.2 296.3h4.5v1.8h-4.5zM1904.6 296.3h4.5v1.8h-4.5zM1892 297.6h4.5v1.8h-4.5zM1913 297.6h8.7v1.8h-8.7zM1883.6 299h4.5v1.8h-4.5zM1900.4 299h17.1v1.8h-17.1zM1942.3 299h8.7v1.8h-8.7zM1963.3 299h8.7v1.8h-8.7zM1908.8 300.3h4.5v1.8h-4.5zM1917.2 300.3h4.5v1.8h-4.5zM1925.5 300.3h8.7v1.8h-8.7zM1938.1 300.3h4.5v1.8h-4.5zM1946.5 300.3h4.5v1.8h-4.5zM2005.2 300.3h4.5v1.8h-4.5zM1896.2 301.6h4.5v1.8h-4.5zM1942.3 301.6h8.7v1.8h-8.7zM1954.9 301.6h4.5v1.8h-4.5zM1963.3 301.6h12.9v1.8h-12.9zM2013.6 301.6h4.5v1.8h-4.5zM1938.1 303h4.5v1.8h-4.5zM1946.5 303h4.5v1.8h-4.5zM1954.9 303h4.5v1.8h-4.5zM1996.8 303h4.5v1.8h-4.5z" fill="#f47918" shape-rendering="crispEdges"/>
<path d="M1896.2 149.6h8.7v1.8h-8.7zM1954.9 149.6h4.5v1.8h-4.5zM1963.3 149.6h4.5v1.8h-4.5zM1971.7 149.6h4.5v1.8h-4.5zM2022 149.6h8.7v1.8h-8.7zM1892 150.9h4.5v1.8h-4.5zM1929.7 150.9h8.7v1.8h-8.7zM1946.5 150.9h12.9v1.8h-12.9zM1992.7 150.9h4.5v1.8h-4.5zM2001 150.9h4.5v1.8h-4.5zM2013.6 150.9h4.5v1.8h-4.5zM2022 150.9h4.5v1.8h-4.5zM1950.7 152.3h4.5v1.8h-4.5zM2005.2 152.3h4.5v1.8h-4.5zM2017.8 152.3h8.7v1.8h-8.7zM1896.2 153.6h4.5v1.8h-4.5zM1963.3 153.6h4.5v1.8h-4.5zM1971.7 153.6h4.5v1.8h-4.5zM1984.3 153.6h4.5v1.8h-4.5zM1883.6 154.9h4.5v1.8h-4.5zM1954.9 154.9h21.3v1.8h-21.3zM1988.5 154.9h4.5v1.8h-4.5zM1996.8 154.9h8.7v1.8h-8.7zM2009.4 154.9h12.9v1.8h-12.9zM1887.8 156.3h4.5v1.8h-4.5zM1887.8 157.6h4.5v1.8h-4.5zM1900.4 157.6h4.5v1.8h-4.5zM2009.4 157.6h8.7v1.8h-8.7zM1883.6 158.9h8.7v1.8h-8.7zM1904.6 158.9h4.5v1.8h-4.5zM1967.5 158.9h4.5v1.8h-4.5zM1996.8 161.6h4.5v1.8h-4.5zM2022 161.6h8.7v1.8h-8.7zM1892 162.9h4.5v1.8h-4.5zM1904.6 162.9h4.5v1.8h-4.5zM1971.7 162.9h4.5v1.8h-4.5zM1883.6 164.3h4.5v1.8h-4.5zM1896.2 164.3h4.5v1.8h-4.5zM1896.2 165.6h4.5v1.8h-4.5zM1883.6 166.9h4.5v1.8h-4.5zM1896.2 166.9h4.5v1.8h-4.5zM2005.2 166.9h8.7v1.8h-8.7zM1883.6 168.3h17.1v1.8h-17.1zM1908.8 168.3h4.5v1.8h-4.5zM1996.8 168.3h4.5v1.8h-4.5zM2009.4 168.3h4.5v1.8h-4.5zM2017.8 168.3h4.5v1.8h-4.5zM1887.8 169.6h4.5v1.8h-4.5zM1887.8 170.9h8.7v1.8h-8.7zM1908.8 170.9h4.5v1.8h-4.5zM1980.1 170.9h8.7v1.8h-8.7zM1900.4 172.3h4.5v1.8h-4.5zM1908.8 172.3h4.5v1.8h-4.5zM1900.4 173.6h4.5v1.8h-4.5zM1996.8 173.6h4.5v1.8h-4.5zM2009.4 173.6h12.9v1.8h-12.9zM2026.2 173.6h4.5v1.8h-4.5zM1992.7 176.3h4.5v1.8h-4.5zM2001 176.3h12.9v1.8h-12.9zM2026.2 176.3h4.5v1.8h-4.5zM1883.6 181.6h8.7v1.8h-8.7zM1896.2 181.6h4.5v1.8h-4.5zM1913 181.6h4.5v1.8h-4.5zM1975.9 181.6h4.5v1.8h-4.5zM1984.3 181.6h4.5v1.8h-4.5zM2001 181.6h4.5v1.8h-4.5zM2017.8 181.6h8.7v1.8h-8.7zM1896.2 182.9h8.7v1.8h-8.7zM1992.7 182.9h8.7v1.8h-8.7zM1896.2 185.6h4.5v1.8h-4.5zM1917.2 185.6h4.5v1.8h-4.5zM1996.8 185.6h4.5v1.8h-4.5zM1892 188.3h8.7v1.8h-8.7zM1887.8 189.6h4.5v1.8h-4.5zM1971.7 189.6h4.5v1.8h-4.5zM1984.3 189.6h4.5v1.8h-4.5zM1996.8 190.9h4.5v1.8h-4.5zM2009.4 190.9h12.9v1.8h-12.9zM2026.2 190.9h4.5v1.8h-4.5zM1917.2 193.6h4.5v1.8h-4.5zM1900.4 194.9h4.5v1.8h-4.5zM1883.6 197.6h4.5v1.8h-4.5zM1896.2 197.6h4.5v1.8h-4.5zM1904.6 197.6h4.5v1.8h-4.5zM1996.8 197.6h12.9v1.8h-12.9zM2022 197.6h4.5v1.8h-4.5zM1921.3 198.9h8.7v1.8h-8.7zM2022 198.9h4.5v1.8h-4.5zM1921.3 205.6h4.5v1.8h-4.5zM1980.1 205.6h8.7v1.8h-8.7zM2001 205.6h12.9v1.8h-12.9zM2017.8 205.6h4.5v1.8h-4.5zM2022 208.3h4.5v1.8h-4.5zM1913 209.6h4.5v1.8h-4.5zM1913 210.9h4.5v1.8h-4.5zM1921.3 210.9h4.5v1.8h-4.5zM1925.5 212.3h4.5v1.8h-4.5zM2005.2 212.3h4.5v1.8h-4.5zM2013.6 212.3h17.1v1.8h-17.1zM1913 213.6h4.5v1.8h-4.5zM1883.6 214.9h8.7v1.8h-8.7zM1896.2 214.9h4.5v1.8h-4.5zM1904.6 214.9h8.7v1.8h-8.7zM1925.5 214.9h4.5v1.8h-4.5zM1950.7 214.9h4.5v1.8h-4.5zM1959.1 214.9h8.7v1.8h-8.7zM1971.7 214.9h8.7v1.8h-8.7zM1984.3 214.9h4.5v1.8h-4.5zM1917.2 217.6h4.5v1.8h-4.5zM1917.2 221.6h4.5v1.8h-4.5zM1908.8 222.9h4.5v1.8h-4.5zM1929.7 222.9h4.5v1.8h-4.5zM1892 224.3h4.5v1.8h-4.5zM1908.8 224.3h4.5v1.8h-4.5zM1996.8 224.3h4.5v1.8h-4.5zM2009.4 224.3h4.5v1.8h-4.5zM2017.8 224.3h4.5v1.8h-4.5zM1929.7 225.6h4.5v1.8h-4.5zM1883.6 228.3h4.5v1.8h-4.5zM1892 228.3h12.9v1.8h-12.9zM1913 228.3h8.7v1.8h-8.7zM1942.3 228.3h4.5v1.8h-4.5zM1959.1 228.3h4.5v1.8h-4.5zM1971.7 228.3h4.5v1.8h-4.5zM1992.7 228.3h4.5v1.8h-4.5zM2013.6 228.3h8.7v1.8h-8.7zM2026.2 228.3h4.5v1.8h-4.5zM1921.3 229.6h4.5v1.8h-4.5zM1908.8 233.6h12.9v1.8h-12.9zM1938.1 233.6h12.9v1.8h-12.9zM1938.1 235h4.5v1.8h-4.5zM1946.5 235h8.7v1.8h-8.7zM1963.3 235h8.7v1.8h-8.7zM1980.1 235h4.5v1.8h-4.5zM1988.5 235h4.5v1.8h-4.5zM1908.8 237.6h4.5v1.8h-4.5zM1917.2 237.6h8.7v1.8h-8.7zM1883.6 239h4.5v1.8h-4.5zM1896.2 239h4.5v1.8h-4.5zM1921.3 239h4.5v1.8h-4.5zM1938.1 239h12.9v1.8h-12.9zM1992.7 239h4.5v1.8h-4.5zM2001 239h4.5v1.8h-4.5zM2026.2 239h4.5v1.8h-4.5zM1913 240.3h4.5v1.8h-4.5zM1942.3 240.3h4.5v1.8h-4.5zM1954.9 240.3h4.5v1.8h-4.5zM2009.4 240.3h4.5v1.8h-4.5zM2022 240.3h4.5v1.8h-4.5zM1908.8 245.6h8.7v1.8h-8.7zM1921.3 245.6h4.5v1.8h-4.5zM2009.4 245.6h4.5v1.8h-4.5zM2022 245.6h8.7v1.8h-8.7zM1967.5 247h4.5v1.8h-4.5zM1975.9 247h12.9v1.8h-12.9zM1921.3 248.3h8.7v1.8h-8.7zM1950.7 248.3h21.3v1.8h-21.3zM1883.6 249.6h8.7v1.8h-8.7zM1929.7 249.6h4.5v1.8h-4.5zM1946.5 249.6h4.5v1.8h-4.5zM1954.9 249.6h4.5v1.8h-4.5zM1963.3 249.6h12.9v1.8h-12.9zM1980.1 249.6h4.5v1.8h-4.5zM1992.7 249.6h8.7v1.8h-8.7zM2005.2 249.6h8.7v1.8h-8.7zM2017.8 249.6h4.5v1.8h-4.5zM1921.3 252.3h8.7v1.8h-8.7zM1959.1 252.3h4.5v1.8h-4.5zM2026.2 252.3h4.5v1.8h-4.5zM1887.8 253.6h4.5v1.8h-4.5zM1971.7 253.6h4.5v1.8h-4.5zM1980.1 253.6h4.5v1.8h-4.5zM1988.5 253.6h8.7v1.8h-8.7zM2013.6 253.6h8.7v1.8h-8.7zM2026.2 253.6h4.5v1.8h-4.5zM1954.9 255h12.9v1.8h-12.9zM1975.9 255h4.5v1.8h-4.5zM1984.3 255h4.5v1.8h-4.5zM1992.7 255h4.5v1.8h-4.5zM2001 255h4.5v1.8h-4.5zM2009.4 255h4.5v1.8h-4.5zM2017.8 255h8.7v1.8h-8.7zM1933.9 256.3h8.7v1.8h-8.7zM1971.7 257.6h12.9v1.8h-12.9zM1988.5 257.6h4.5v1.8h-4.5zM1904.6 259h4.5v1.8h-4.5zM1917.2 259h4.5v1.8h-4.5zM1959.1 259h4.5v1.8h-4.5zM1971.7 259h8.7v1.8h-8.7zM2009.4 259h17.1v1.8h-17.1zM1959.1 261.6h17.1v1.8h-17.1zM1980.1 261.6h12.9v1.8h-12.9zM1887.8 267h12.9v1.8h-12.9zM1904.6 267h4.5v1.8h-4.5zM1950.7 267h4.5v1.8h-4.5zM1967.5 267h4.5v1.8h-4.5zM1975.9 267h12.9v1.8h-12.9zM1883.6 268.3h4.5v1.8h-4.5zM1892 268.3h8.7v1.8h-8.7zM1954.9 268.3h4.5v1.8h-4.5zM1967.5 268.3h4.5v1.8h-4.5zM1992.7 268.3h4.5v1.8h-4.5zM2001 268.3h8.7v1.8h-8.7zM2013.6 268.3h4.5v1.8h-4.5zM1942.3 269.6h8.7v1.8h-8.7zM2009.4 269.6h21.3v1.8h-21.3zM1900.4 272.3h8.7v1.8h-8.7zM1913 272.3h4.5v1.8h-4.5zM1892 273.6h4.5v1.8h-4.5zM1975.9 273.6h4.5v1.8h-4.5zM2017.8 273.6h4.5v1.8h-4.5zM2022 275h4.5v1.8h-4.5zM1892 276.3h4.5v1.8h-4.5zM1900.4 276.3h8.7v1.8h-8.7zM1913 276.3h12.9v1.8h-12.9zM2005.2 276.3h4.5v1.8h-4.5zM2013.6 276.3h8.7v1.8h-8.7zM1967.5 277.6h4.5v1.8h-4.5zM1984.3 277.6h4.5v1.8h-4.5zM1996.8 277.6h4.5v1.8h-4.5zM2009.4 277.6h4.5v1.8h-4.5zM2026.2 277.6h4.5v1.8h-4.5zM1896.2 279h4.5v1.8h-4.5zM1904.6 279h4.5v1.8h-4.5zM1917.2 279h8.7v1.8h-8.7zM1967.5 279h4.5v1.8h-4.5zM1988.5 279h4.5v1.8h-4.5zM2001 279h4.5v1.8h-4.5zM2009.4 279h21.3v1.8h-21.3zM1883.6 280.3h4.5v1.8h-4.5zM1892 280.3h4.5v1.8h-4.5zM1900.4 280.3h4.5v1.8h-4.5zM1996.8 280.3h4.5v1.8h-4.5zM2005.2 280.3h4.5v1.8h-4.5zM2026.2 280.3h4.5v1.8h-4.5zM1925.5 281.6h8.7v1.8h-8.7zM1967.5 281.6h4.5v1.8h-4.5zM1988.5 281.6h8.7v1.8h-8.7zM2013.6 281.6h4.5v1.8h-4.5zM2026.2 281.6h4.5v1.8h-4.5zM1980.1 284.3h4.5v1.8h-4.5zM1980.1 285.6h4.5v1.8h-4.5zM1883.6 287h8.7v1.8h-8.7zM1896.2 287h8.7v1.8h-8.7zM1908.8 287h4.5v1.8h-4.5zM1971.7 287h4.5v1.8h-4.5zM2009.4 287h4.5v1.8h-4.5zM2022 287h4.5v1.8h-4.5zM1887.8 288.3h4.5v1.8h-4.5zM1904.6 288.3h8.7v1.8h-8.7zM1938.1 288.3h12.9v1.8h-12.9zM1984.3 288.3h4.5v1.8h-4.5zM2013.6 288.3h4.5v1.8h-4.5zM1892 289.6h4.5v1.8h-4.5zM1917.2 289.6h4.5v1.8h-4.5zM2009.4 289.6h4.5v1.8h-4.5zM2026.2 289.6h4.5v1.8h-4.5zM1929.7 292.3h4.5v1.8h-4.5zM1892 293.6h4.5v1.8h-4.5zM1900.4 293.6h8.7v1.8h-8.7zM1929.7 293.6h8.7v1.8h-8.7zM2026.2 293.6h4.5v1.8h-4.5zM1984.3 295h4.5v1.8h-4.5zM1992.7 295h8.7v1.8h-8.7zM2017.8 295h4.5v1.8h-4.5zM2026.2 295h4.5v1.8h-4.5zM1896.2 297.6h8.7v1.8h-8.7zM1921.3 297.6h17.1v1.8h-17.1zM2026.2 297.6h4.5v1.8h-4.5zM1896.2 299h4.5v1.8h-4.5zM1917.2 299h8.7v1.8h-8.7zM1929.7 299h4.5v1.8h-4.5zM1950.7 299h8.7v1.8h-8.7zM1971.7 299h25.5v1.8h-25.5zM1883.6 300.3h12.9v1.8h-12.9zM1900.4 300.3h4.5v1.8h-4.5zM1913 300.3h4.5v1.8h-4.5zM2009.4 300.3h4.5v1.8h-4.5zM2026.2 300.3h4.5v1.8h-4.5zM1887.8 301.6h8.7v1.8h-8.7zM1904.6 301.6h4.5v1.8h-4.5zM1913 301.6h4.5v1.8h-4.5zM1921.3 301.6h4.5v1.8h-4.5zM1933.9 301.6h4.5v1.8h-4.5zM1950.7 301.6h4.5v1.8h-4.5zM2017.8 303h4.5v1.8h-4.5z" fill="#fa9407" shape-rendering="crispEdges"/>
<path d="M1892 149.6h4.5v1.8h-4.5zM1984.3 149.6h4.5v1.8h-4.5zM1992.7 149.6h12.9v1.8h-12.9zM2017.8 149.6h4.5v1.8h-4.5zM1938.1 150.9h8.7v1.8h-8.7zM1959.1 150.9h4.5v1.8h-4.5zM1971.7 150.9h12.9v1.8h-12.9zM2005.2 150.9h8.7v1.8h-8.7zM2017.8 150.9h4.5v1.8h-4.5zM2026.2 150.9h4.5v1.8h-4.5zM1883.6 152.3h4.5v1.8h-4.5zM1967.5 152.3h4.5v1.8h-4.5zM1980.1 152.3h25.5v1.8h-25.5zM2013.6 152.3h4.5v1.8h-4.5zM2026.2 152.3h4.5v1.8h-4.5zM1887.8 153.6h4.5v1.8h-4.5zM1975.9 153.6h8.7v1.8h-8.7zM1992.7 153.6h8.7v1.8h-8.7zM2009.4 153.6h4.5v1.8h-4.5zM2017.8 153.6h4.5v1.8h-4.5zM1887.8 154.9h4.5v1.8h-4.5zM1975.9 154.9h12.9v1.8h-12.9zM2005.2 154.9h4.5v1.8h-4.5zM1883.6 157.6h4.5v1.8h-4.5zM1892 158.9h4.5v1.8h-4.5zM1971.7 158.9h4.5v1.8h-4.5zM2022 158.9h4.5v1.8h-4.5zM1887.8 162.9h4.5v1.8h-4.5zM1980.1 162.9h12.9v1.8h-12.9zM1996.8 162.9h4.5v1.8h-4.5zM1904.6 164.3h4.5v1.8h-4.5zM1904.6 165.6h4.5v1.8h-4.5zM2022 168.3h8.7v1.8h-8.7zM1900.4 170.9h4.5v1.8h-4.5zM1988.5 170.9h12.9v1.8h-12.9zM2013.6 170.9h4.5v1.8h-4.5zM2022 170.9h8.7v1.8h-8.7zM1883.6 176.3h8.7v1.8h-8.7zM1913 176.3h4.5v1.8h-4.5zM2013.6 176.3h4.5v1.8h-4.5zM2022 176.3h4.5v1.8h-4.5zM1904.6 178.9h4.5v1.8h-4.5zM1904.6 180.3h4.5v1.8h-4.5zM1980.1 181.6h4.5v1.8h-4.5zM1988.5 181.6h4.5v1.8h-4.5zM2005.2 181.6h12.9v1.8h-12.9zM2026.2 181.6h4.5v1.8h-4.5zM1892 182.9h4.5v1.8h-4.5zM1988.5 182.9h4.5v1.8h-4.5zM2005.2 182.9h8.7v1.8h-8.7zM2017.8 182.9h4.5v1.8h-4.5zM2026.2 182.9h4.5v1.8h-4.5zM1913 184.3h4.5v1.8h-4.5zM1904.6 185.6h4.5v1.8h-4.5zM1904.6 188.3h4.5v1.8h-4.5zM1908.8 192.3h4.5v1.8h-4.5zM1908.8 193.6h4.5v1.8h-4.5zM1908.8 194.9h4.5v1.8h-4.5zM1917.2 194.9h4.5v1.8h-4.5zM1887.8 197.6h8.7v1.8h-8.7zM1900.4 197.6h4.5v1.8h-4.5zM1908.8 197.6h4.5v1.8h-4.5zM2009.4 197.6h4.5v1.8h-4.5zM1883.6 204.3h4.5v1.8h-4.5zM1892 204.3h12.9v1.8h-12.9zM1913 206.9h4.5v1.8h-4.5zM1921.3 208.3h4.5v1.8h-4.5zM1896.2 212.3h8.7v1.8h-8.7zM1892 214.9h4.5v1.8h-4.5zM1900.4 214.9h4.5v1.8h-4.5zM1980.1 214.9h4.5v1.8h-4.5zM1992.7 214.9h4.5v1.8h-4.5zM2005.2 214.9h4.5v1.8h-4.5zM2017.8 214.9h4.5v1.8h-4.5zM1917.2 218.9h4.5v1.8h-4.5zM1917.2 220.3h4.5v1.8h-4.5zM1917.2 222.9h4.5v1.8h-4.5zM1896.2 224.3h12.9v1.8h-12.9zM1913 224.3h8.7v1.8h-8.7zM2005.2 224.3h4.5v1.8h-4.5zM2013.6 224.3h4.5v1.8h-4.5zM1975.9 225.6h8.7v1.8h-8.7zM2022 225.6h4.5v1.8h-4.5zM1921.3 226.9h4.5v1.8h-4.5zM1887.8 228.3h4.5v1.8h-4.5zM1929.7 228.3h4.5v1.8h-4.5zM1963.3 228.3h8.7v1.8h-8.7zM1975.9 228.3h12.9v1.8h-12.9zM1996.8 228.3h17.1v1.8h-17.1zM1929.7 232.3h4.5v1.8h-4.5zM1921.3 233.6h4.5v1.8h-4.5zM1933.9 233.6h4.5v1.8h-4.5zM1921.3 235h4.5v1.8h-4.5zM1933.9 235h4.5v1.8h-4.5zM1959.1 235h4.5v1.8h-4.5zM1933.9 237.6h4.5v1.8h-4.5zM1950.7 239h8.7v1.8h-8.7zM1963.3 239h4.5v1.8h-4.5zM1984.3 239h8.7v1.8h-8.7zM2017.8 240.3h4.5v1.8h-4.5zM2026.2 240.3h4.5v1.8h-4.5zM1929.7 243h4.5v1.8h-4.5zM1883.6 245.6h21.3v1.8h-21.3zM1925.5 245.6h8.7v1.8h-8.7zM1929.7 248.3h4.5v1.8h-4.5zM1946.5 248.3h4.5v1.8h-4.5zM1975.9 249.6h4.5v1.8h-4.5zM1984.3 249.6h8.7v1.8h-8.7zM2001 249.6h4.5v1.8h-4.5zM1933.9 251h4.5v1.8h-4.5zM1933.9 252.3h4.5v1.8h-4.5zM1946.5 252.3h4.5v1.8h-4.5zM1938.1 253.6h4.5v1.8h-4.5zM1996.8 253.6h4.5v1.8h-4.5zM2005.2 253.6h8.7v1.8h-8.7zM2022 253.6h4.5v1.8h-4.5zM1950.7 255h4.5v1.8h-4.5zM1967.5 255h4.5v1.8h-4.5zM1988.5 255h4.5v1.8h-4.5zM1996.8 255h4.5v1.8h-4.5zM1950.7 256.3h4.5v1.8h-4.5zM1942.3 257.6h4.5v1.8h-4.5zM1908.8 259h8.7v1.8h-8.7zM1929.7 259h4.5v1.8h-4.5zM1963.3 259h8.7v1.8h-8.7zM2026.2 259h4.5v1.8h-4.5zM1946.5 260.3h4.5v1.8h-4.5zM1946.5 261.6h4.5v1.8h-4.5zM1975.9 261.6h4.5v1.8h-4.5zM1992.7 261.6h8.7v1.8h-8.7zM1946.5 263h4.5v1.8h-4.5zM1959.1 263h4.5v1.8h-4.5zM1950.7 264.3h4.5v1.8h-4.5zM1883.6 267h4.5v1.8h-4.5zM1988.5 267h4.5v1.8h-4.5zM1996.8 267h4.5v1.8h-4.5zM2005.2 267h4.5v1.8h-4.5zM2013.6 267h4.5v1.8h-4.5zM2009.4 268.3h4.5v1.8h-4.5zM2017.8 268.3h4.5v1.8h-4.5zM1950.7 269.6h4.5v1.8h-4.5zM1996.8 269.6h12.9v1.8h-12.9zM1892 272.3h8.7v1.8h-8.7zM1959.1 272.3h4.5v1.8h-4.5zM1980.1 272.3h4.5v1.8h-4.5zM2009.4 272.3h12.9v1.8h-12.9zM2026.2 272.3h4.5v1.8h-4.5zM1963.3 273.6h4.5v1.8h-4.5zM1967.5 276.3h4.5v1.8h-4.5zM1980.1 277.6h4.5v1.8h-4.5zM2022 277.6h4.5v1.8h-4.5zM1896.2 280.3h4.5v1.8h-4.5zM1904.6 280.3h4.5v1.8h-4.5zM1971.7 280.3h4.5v1.8h-4.5zM1984.3 280.3h12.9v1.8h-12.9zM2001 280.3h4.5v1.8h-4.5zM2009.4 280.3h4.5v1.8h-4.5zM1883.6 281.6h4.5v1.8h-4.5zM1892 281.6h8.7v1.8h-8.7zM1904.6 281.6h8.7v1.8h-8.7zM1917.2 281.6h8.7v1.8h-8.7zM1988.5 284.3h4.5v1.8h-4.5zM1992.7 285.6h4.5v1.8h-4.5zM1892 287h4.5v1.8h-4.5zM1980.1 287h4.5v1.8h-4.5zM1996.8 287h8.7v1.8h-8.7zM1917.2 288.3h8.7v1.8h-8.7zM1929.7 288.3h8.7v1.8h-8.7zM1996.8 288.3h4.5v1.8h-4.5zM2017.8 288.3h8.7v1.8h-8.7zM1883.6 289.6h8.7v1.8h-8.7zM1900.4 289.6h4.5v1.8h-4.5zM1988.5 289.6h4.5v1.8h-4.5zM2001 289.6h8.7v1.8h-8.7zM2017.8 289.6h8.7v1.8h-8.7zM1900.4 292.3h4.5v1.8h-4.5zM1908.8 292.3h8.7v1.8h-8.7zM1921.3 292.3h4.5v1.8h-4.5zM2005.2 292.3h4.5v1.8h-4.5zM1896.2 293.6h4.5v1.8h-4.5zM1908.8 293.6h21.3v1.8h-21.3zM1996.8 293.6h4.5v1.8h-4.5zM2013.6 293.6h4.5v1.8h-4.5zM2022 293.6h4.5v1.8h-4.5zM2022 295h4.5v1.8h-4.5zM2013.6 296.3h4.5v1.8h-4.5zM1883.6 297.6h8.7v1.8h-8.7zM1938.1 297.6h4.5v1.8h-4.5zM1946.5 297.6h8.7v1.8h-8.7zM1967.5 297.6h8.7v1.8h-8.7zM1984.3 297.6h8.7v1.8h-8.7zM2022 297.6h4.5v1.8h-4.5zM1925.5 299h4.5v1.8h-4.5zM1933.9 299h8.7v1.8h-8.7zM1959.1 299h4.5v1.8h-4.5zM1996.8 299h12.9v1.8h-12.9zM2026.2 299h4.5v1.8h-4.5zM1900.4 301.6h4.5v1.8h-4.5zM1908.8 301.6h4.5v1.8h-4.5zM1917.2 301.6h4.5v1.8h-4.5zM1925.5 301.6h8.7v1.8h-8.7zM1938.1 301.6h4.5v1.8h-4.5z" fill="#fcb014" shape-rendering="crispEdges"/>
<path d="M1887.8 149.6h4.5v1.8h-4.5zM1975.9 149.6h8.7v1.8h-8.7zM1988.5 149.6h4.5v1.8h-4.5zM2009.4 149.6h8.7v1.8h-8.7zM1883.6 150.9h8.7v1.8h-8.7zM1963.3 150.9h8.7v1.8h-8.7zM1984.3 150.9h8.7v1.8h-8.7zM1996.8 150.9h4.5v1.8h-4.5zM1892 152.3h4.5v1.8h-4.5zM1971.7 152.3h8.7v1.8h-8.7zM2009.4 152.3h4.5v1.8h-4.5zM1988.5 153.6h4.5v1.8h-4.5zM2001 153.6h8.7v1.8h-8.7zM2013.6 153.6h4.5v1.8h-4.5zM2022 153.6h8.7v1.8h-8.7zM1992.7 154.9h4.5v1.8h-4.5zM1892 157.6h4.5v1.8h-4.5zM1900.4 158.9h4.5v1.8h-4.5zM1975.9 158.9h12.9v1.8h-12.9zM1992.7 158.9h4.5v1.8h-4.5zM2013.6 158.9h4.5v1.8h-4.5zM2026.2 158.9h4.5v1.8h-4.5zM1896.2 160.3h8.7v1.8h-8.7zM1896.2 161.6h8.7v1.8h-8.7zM1883.6 162.9h4.5v1.8h-4.5zM1896.2 162.9h4.5v1.8h-4.5zM1992.7 162.9h4.5v1.8h-4.5zM2001 162.9h17.1v1.8h-17.1zM1904.6 166.9h4.5v1.8h-4.5zM1904.6 168.3h4.5v1.8h-4.5zM1900.4 169.6h4.5v1.8h-4.5zM2001 170.9h12.9v1.8h-12.9zM2017.8 170.9h4.5v1.8h-4.5zM1908.8 173.6h4.5v1.8h-4.5zM1892 176.3h17.1v1.8h-17.1zM2017.8 176.3h4.5v1.8h-4.5zM1904.6 177.6h8.7v1.8h-8.7zM1904.6 181.6h4.5v1.8h-4.5zM1992.7 181.6h8.7v1.8h-8.7zM1883.6 182.9h8.7v1.8h-8.7zM1904.6 182.9h4.5v1.8h-4.5zM1913 182.9h4.5v1.8h-4.5zM2001 182.9h4.5v1.8h-4.5zM2013.6 182.9h4.5v1.8h-4.5zM1908.8 185.6h4.5v1.8h-4.5zM1913 186.9h4.5v1.8h-4.5zM1908.8 189.6h8.7v1.8h-8.7zM1908.8 190.9h4.5v1.8h-4.5zM1917.2 197.6h4.5v1.8h-4.5zM1883.6 198.9h4.5v1.8h-4.5zM1896.2 198.9h12.9v1.8h-12.9zM1917.2 200.3h4.5v1.8h-4.5zM1913 202.9h4.5v1.8h-4.5zM1887.8 204.3h4.5v1.8h-4.5zM1904.6 204.3h8.7v1.8h-8.7zM1921.3 204.3h4.5v1.8h-4.5zM1913 205.6h4.5v1.8h-4.5zM1913 208.3h4.5v1.8h-4.5zM1883.6 212.3h12.9v1.8h-12.9zM1904.6 212.3h12.9v1.8h-12.9zM1921.3 212.3h4.5v1.8h-4.5zM1921.3 213.6h4.5v1.8h-4.5zM1913 214.9h4.5v1.8h-4.5zM1988.5 214.9h4.5v1.8h-4.5zM1996.8 214.9h8.7v1.8h-8.7zM2009.4 214.9h8.7v1.8h-8.7zM2022 214.9h8.7v1.8h-8.7zM1917.2 216.3h4.5v1.8h-4.5zM1925.5 220.3h4.5v1.8h-4.5zM1925.5 221.6h4.5v1.8h-4.5zM1925.5 222.9h4.5v1.8h-4.5zM1913 225.6h8.7v1.8h-8.7zM1984.3 225.6h12.9v1.8h-12.9zM2026.2 225.6h4.5v1.8h-4.5zM1921.3 228.3h4.5v1.8h-4.5zM1988.5 228.3h4.5v1.8h-4.5zM1929.7 231h4.5v1.8h-4.5zM1925.5 236.3h8.7v1.8h-8.7zM1925.5 239h4.5v1.8h-4.5zM1933.9 239h4.5v1.8h-4.5zM1980.1 239h4.5v1.8h-4.5zM1917.2 240.3h12.9v1.8h-12.9zM1933.9 240.3h8.7v1.8h-8.7zM1933.9 241.6h4.5v1.8h-4.5zM1933.9 243h4.5v1.8h-4.5zM1938.1 245.6h4.5v1.8h-4.5zM1938.1 247h4.5v1.8h-4.5zM1942.3 248.3h4.5v1.8h-4.5zM1933.9 249.6h4.5v1.8h-4.5zM1942.3 249.6h4.5v1.8h-4.5zM1942.3 251h4.5v1.8h-4.5zM1946.5 253.6h4.5v1.8h-4.5zM1938.1 255h4.5v1.8h-4.5zM1971.7 255h4.5v1.8h-4.5zM1980.1 255h4.5v1.8h-4.5zM1942.3 256.3h4.5v1.8h-4.5zM1921.3 259h8.7v1.8h-8.7zM1933.9 259h12.9v1.8h-12.9zM1954.9 259h4.5v1.8h-4.5zM2001 261.6h12.9v1.8h-12.9zM2017.8 261.6h12.9v1.8h-12.9zM1959.1 264.3h4.5v1.8h-4.5zM1954.9 265.6h8.7v1.8h-8.7zM1992.7 267h4.5v1.8h-4.5zM2001 267h4.5v1.8h-4.5zM2009.4 267h4.5v1.8h-4.5zM2017.8 267h12.9v1.8h-12.9zM2022 268.3h8.7v1.8h-8.7zM1954.9 269.6h8.7v1.8h-8.7zM1975.9 269.6h8.7v1.8h-8.7zM1988.5 269.6h4.5v1.8h-4.5zM1963.3 271h8.7v1.8h-8.7zM1887.8 272.3h4.5v1.8h-4.5zM1967.5 272.3h4.5v1.8h-4.5zM1984.3 272.3h8.7v1.8h-8.7zM2001 272.3h4.5v1.8h-4.5zM2022 272.3h4.5v1.8h-4.5zM1971.7 273.6h4.5v1.8h-4.5zM1967.5 275h4.5v1.8h-4.5zM1975.9 276.3h4.5v1.8h-4.5zM2022 276.3h8.7v1.8h-8.7zM1971.7 277.6h4.5v1.8h-4.5zM1971.7 279h4.5v1.8h-4.5zM1980.1 279h4.5v1.8h-4.5zM1887.8 280.3h4.5v1.8h-4.5zM2013.6 280.3h12.9v1.8h-12.9zM1887.8 281.6h4.5v1.8h-4.5zM1900.4 281.6h4.5v1.8h-4.5zM1913 281.6h4.5v1.8h-4.5zM1975.9 281.6h4.5v1.8h-4.5zM1984.3 287h4.5v1.8h-4.5zM1913 288.3h4.5v1.8h-4.5zM1988.5 288.3h4.5v1.8h-4.5zM2026.2 288.3h4.5v1.8h-4.5zM1996.8 289.6h4.5v1.8h-4.5zM1992.7 291h12.9v1.8h-12.9zM1892 292.3h8.7v1.8h-8.7zM1904.6 292.3h4.5v1.8h-4.5zM2009.4 293.6h4.5v1.8h-4.5zM2017.8 293.6h4.5v1.8h-4.5zM2001 295h4.5v1.8h-4.5zM2009.4 295h8.7v1.8h-8.7zM2005.2 296.3h4.5v1.8h-4.5zM1942.3 297.6h4.5v1.8h-4.5zM1954.9 297.6h12.9v1.8h-12.9zM1975.9 297.6h8.7v1.8h-8.7zM1992.7 297.6h17.1v1.8h-17.1zM2017.8 297.6h4.5v1.8h-4.5zM2009.4 299h4.5v1.8h-4.5zM2022 299h4.5v1.8h-4.5zM2013.6 300.3h4.5v1.8h-4.5zM2022 300.3h4.5v1.8h-4.5zM2017.8 301.6h4.5v1.8h-4.5zM2026.2 301.6h4.5v1.8h-4.5z" fill="#f8cd37" shape-rendering="crispEdges"/>
<path d="M1883.6 149.6h4.5v1.8h-4.5zM2005.2 149.6h4.5v1.8h-4.5zM1892 153.6h4.5v1.8h-4.5zM1892 154.9h8.7v1.8h-8.7zM1892 156.3h8.7v1.8h-8.7zM1896.2 158.9h4.5v1.8h-4.5zM1988.5 158.9h4.5v1.8h-4.5zM1996.8 158.9h17.1v1.8h-17.1zM2017.8 158.9h4.5v1.8h-4.5zM1900.4 162.9h4.5v1.8h-4.5zM2017.8 162.9h12.9v1.8h-12.9zM1900.4 165.6h4.5v1.8h-4.5zM1900.4 166.9h4.5v1.8h-4.5zM1900.4 168.3h4.5v1.8h-4.5zM1904.6 169.6h4.5v1.8h-4.5zM1904.6 170.9h4.5v1.8h-4.5zM1904.6 172.3h4.5v1.8h-4.5zM1904.6 173.6h4.5v1.8h-4.5zM1904.6 174.9h8.7v1.8h-8.7zM1908.8 178.9h4.5v1.8h-4.5zM1908.8 180.3h4.5v1.8h-4.5zM1908.8 181.6h4.5v1.8h-4.5zM2022 182.9h4.5v1.8h-4.5zM1913 185.6h4.5v1.8h-4.5zM1908.8 188.3h8.7v1.8h-8.7zM1913 192.3h4.5v1.8h-4.5zM1913 193.6h4.5v1.8h-4.5zM1913 194.9h4.5v1.8h-4.5zM1913 196.3h4.5v1.8h-4.5zM1913 197.6h4.5v1.8h-4.5zM1887.8 198.9h8.7v1.8h-8.7zM1908.8 198.9h4.5v1.8h-4.5zM1917.2 198.9h4.5v1.8h-4.5zM1913 200.3h4.5v1.8h-4.5zM1913 201.6h8.7v1.8h-8.7zM1917.2 202.9h4.5v1.8h-4.5zM1913 204.3h8.7v1.8h-8.7zM1917.2 205.6h4.5v1.8h-4.5zM1917.2 206.9h4.5v1.8h-4.5zM1917.2 209.6h4.5v1.8h-4.5zM1917.2 210.9h4.5v1.8h-4.5zM1917.2 212.3h4.5v1.8h-4.5zM1921.3 214.9h4.5v1.8h-4.5zM1921.3 216.3h4.5v1.8h-4.5zM1921.3 217.6h4.5v1.8h-4.5zM1921.3 218.9h4.5v1.8h-4.5zM1921.3 220.3h4.5v1.8h-4.5zM1921.3 221.6h4.5v1.8h-4.5zM1921.3 222.9h4.5v1.8h-4.5zM1921.3 224.3h4.5v1.8h-4.5zM1883.6 225.6h29.7v1.8h-29.7zM1921.3 225.6h8.7v1.8h-8.7zM1996.8 225.6h25.5v1.8h-25.5zM1925.5 226.9h4.5v1.8h-4.5zM1925.5 228.3h4.5v1.8h-4.5zM1925.5 231h4.5v1.8h-4.5zM1925.5 233.6h4.5v1.8h-4.5zM1925.5 235h8.7v1.8h-8.7zM1925.5 237.6h8.7v1.8h-8.7zM1959.1 239h4.5v1.8h-4.5zM1967.5 239h12.9v1.8h-12.9zM1929.7 240.3h4.5v1.8h-4.5zM1929.7 241.6h4.5v1.8h-4.5zM1933.9 244.3h4.5v1.8h-4.5zM1933.9 245.6h4.5v1.8h-4.5zM1933.9 247h4.5v1.8h-4.5zM1933.9 248.3h8.7v1.8h-8.7zM1938.1 252.3h8.7v1.8h-8.7zM1942.3 253.6h4.5v1.8h-4.5zM1942.3 255h4.5v1.8h-4.5zM1946.5 256.3h4.5v1.8h-4.5zM1946.5 257.6h8.7v1.8h-8.7zM1950.7 260.3h4.5v1.8h-4.5zM1950.7 261.6h8.7v1.8h-8.7zM2013.6 261.6h4.5v1.8h-4.5zM1950.7 263h4.5v1.8h-4.5zM1954.9 267h12.9v1.8h-12.9zM1963.3 268.3h4.5v1.8h-4.5zM1963.3 269.6h12.9v1.8h-12.9zM1984.3 269.6h4.5v1.8h-4.5zM1992.7 269.6h4.5v1.8h-4.5zM1883.6 272.3h4.5v1.8h-4.5zM1963.3 272.3h4.5v1.8h-4.5zM1971.7 272.3h8.7v1.8h-8.7zM1992.7 272.3h8.7v1.8h-8.7zM2005.2 272.3h4.5v1.8h-4.5zM1967.5 273.6h4.5v1.8h-4.5zM1975.9 279h4.5v1.8h-4.5zM1975.9 280.3h8.7v1.8h-8.7zM1980.1 281.6h8.7v1.8h-8.7zM1980.1 283h4.5v1.8h-4.5zM1992.7 287h4.5v1.8h-4.5zM1925.5 288.3h4.5v1.8h-4.5zM1992.7 288.3h4.5v1.8h-4.5zM1992.7 289.6h4.5v1.8h-4.5zM1883.6 292.3h8.7v1.8h-8.7zM1996.8 292.3h8.7v1.8h-8.7zM2001 293.6h8.7v1.8h-8.7zM2005.2 295h4.5v1.8h-4.5zM2009.4 296.3h4.5v1.8h-4.5zM2009.4 297.6h8.7v1.8h-8.7zM2017.8 299h4.5v1.8h-4.5zM2017.8 300.3h4.5v1.8h-4.5zM2022 301.6h4.5v1.8h-4.5zM2022 303h8.7v1.8h-8.7z" fill="#f2ea69" shape-rendering="crispEdges"/>
<path d="M1887.8 152.3h4.5v1.8h-4.5zM1896.2 157.6h4.5v1.8h-4.5zM1900.4 164.3h4.5v1.8h-4.5zM1908.8 176.3h4.5v1.8h-4.5zM1908.8 182.9h4.5v1.8h-4.5zM1908.8 184.3h4.5v1.8h-4.5zM1908.8 186.9h4.5v1.8h-4.5zM1913 190.9h4.5v1.8h-4.5zM1913 198.9h4.5v1.8h-4.5zM1917.2 208.3h4.5v1.8h-4.5zM1917.2 213.6h4.5v1.8h-4.5zM1917.2 214.9h4.5v1.8h-4.5zM1925.5 224.3h4.5v1.8h-4.5zM1925.5 229.6h4.5v1.8h-4.5zM1925.5 232.3h4.5v1.8h-4.5zM1929.7 233.6h4.5v1.8h-4.5zM1929.7 239h4.5v1.8h-4.5zM1938.1 249.6h4.5v1.8h-4.5zM1938.1 251h4.5v1.8h-4.5zM1946.5 255h4.5v1.8h-4.5zM1946.5 259h8.7v1.8h-8.7zM1954.9 263h4.5v1.8h-4.5zM1954.9 264.3h4.5v1.8h-4.5zM1959.1 268.3h4.5v1.8h-4.5zM1971.7 275h4.5v1.8h-4.5zM1971.7 276.3h4.5v1.8h-4.5zM1975.9 277.6h4.5v1.8h-4.5zM1984.3 283h4.5v1.8h-4.5zM1984.3 284.3h4.5v1.8h-4.5zM1984.3 285.6h8.7v1.8h-8.7zM1988.5 287h4.5v1.8h-4.5zM2013.6 299h4.5v1.8h-4.5z" fill="#fcffa4" shape-rendering="crispEdges"/>
<rect x="1883.6" y="149.6" width="146.8" height="154.7" fill="none" stroke="#000" stroke-width="1.2"/>
<line x1="1903.3" y1="149.6" x2="1903.3" y2="156.1" stroke="#222" stroke-width="1.2"/>
<line x1="1903.3" y1="304.3" x2="1903.3" y2="297.8" stroke="#222" stroke-width="1.2"/>
<line x1="2011" y1="149.6" x2="2011" y2="156.1" stroke="#222" stroke-width="1.2"/>
<line x1="2011" y1="304.3" x2="2011" y2="297.8" stroke="#222" stroke-width="1.2"/>
<rect x="1883.6" y="129.4" width="5.2" height="19.4" fill="#000" stroke="#222" stroke-width="0.3"/>
<rect x="1888.9" y="134" width="10.5" height="14.8" fill="#000" stroke="#222" stroke-width="0.3"/>
<rect x="1899.4" y="111" width="10.5" height="37.8" fill="#000" stroke="#222" stroke-width="0.3"/>
<rect x="1909.9" y="78.2" width="10.5" height="70.6" fill="#000" stroke="#222" stroke-width="0.3"/>
<rect x="1920.4" y="96.3" width="10.5" height="52.5" fill="#000" stroke="#222" stroke-width="0.3"/>
<rect x="1930.9" y="130.3" width="10.5" height="18.5" fill="#000" stroke="#222" stroke-width="0.3"/>
<rect x="1941.4" y="126.4" width="10.5" height="22.4" fill="#000" stroke="#222" stroke-width="0.3"/>
<rect x="1951.9" y="131.4" width="10.5" height="17.4" fill="#000" stroke="#222" stroke-width="0.3"/>
<rect x="1962.4" y="136.9" width="10.5" height="11.9" fill="#000" stroke="#222" stroke-width="0.3"/>
<rect x="1972.9" y="133.1" width="10.5" height="15.7" fill="#000" stroke="#222" stroke-width="0.3"/>
<rect x="1983.4" y="137.9" width="10.5" height="10.9" fill="#000" stroke="#222" stroke-width="0.3"/>
<rect x="1993.9" y="139.9" width="10.5" height="8.9" fill="#000" stroke="#222" stroke-width="0.3"/>
<rect x="2004.4" y="136.3" width="10.5" height="12.5" fill="#000" stroke="#222" stroke-width="0.3"/>
<rect x="2014.9" y="139.8" width="10.5" height="9.1" fill="#000" stroke="#222" stroke-width="0.3"/>
<rect x="2025.4" y="147.5" width="5.2" height="1.3" fill="#000" stroke="#222" stroke-width="0.3"/>
<path d="M1891.2 71.9H1883.6V148.8" fill="none" stroke="#000" stroke-width="1.2"/>
<text x="1873.8" y="82" text-anchor="end">25</text>
<text x="1873.8" y="158.3" text-anchor="end">0</text>
<text x="1903.3" y="333.5" text-anchor="middle">0</text>
<text x="2011" y="333.5" text-anchor="middle">5</text>
<text transform="translate(1891.1 369.3) scale(1.012 1)">Time to first</text>
<text transform="translate(1874.9 399.2) scale(1.020 1)">contact-lick (s)</text>
<rect x="2054" y="149.2" width="17.6" height="155.4" fill="url(#inferno)" stroke="#000" stroke-width="1.3"/>
<text x="2082.4" y="157.4">1</text>
<text x="2082.4" y="312.1">0</text>
<text transform="translate(0 521) scale(1.13 1)" font-size="31" font-weight="bold" stroke="#000" stroke-width="2.0" stroke-linejoin="miter">h</text>
<text transform="translate(66.9 537) scale(0.986 1)">Cell 5</text>
<path d="M70.9 739.7H75.9V772.1H70.9" fill="none" stroke="#222" stroke-width="1.1"/>
<path d="M75.9 772.1H114.9M82.9 772.1V776.6M114.9 772.1V776.6" fill="none" stroke="#222" stroke-width="1.1"/>
<text x="62.5" y="748.1" text-anchor="end">1</text>
<text x="62.5" y="780.5" text-anchor="end">0</text>
<text x="82.9" y="805.2" text-anchor="middle">0</text>
<text x="114.9" y="805.2" text-anchor="middle">4</text>
<path d="M82.9 562.8V593.8M124.4 562.8V593.8M167.1 562.8V593.8M209.2 562.8V593.8M251.9 562.8V593.8M82.9 607.5V638.5M124.4 607.5V638.5M167.1 607.5V638.5M209.2 607.5V638.5M251.9 607.5V638.5M82.9 650.4V681.4M124.4 650.4V681.4M167.1 650.4V681.4M209.2 650.4V681.4M251.9 650.4V681.4M82.9 695.4V726.4M124.4 695.4V726.4M167.1 695.4V726.4M209.2 695.4V726.4M251.9 695.4V726.4M82.9 740.5V771.5M124.4 740.5V771.5M167.1 740.5V771.5M209.2 740.5V771.5M251.9 740.5V771.5" fill="none" stroke="#000" stroke-width="2"/>
<use href="#mt1" fill="none" stroke="#8f8fe8" stroke-width="4.6" stroke-linejoin="round" stroke-linecap="butt" opacity="0.85"/>
<use href="#mt1" fill="none" stroke="#0a0acd" stroke-width="3" stroke-linejoin="round" stroke-linecap="butt"/>
<text transform="translate(21 780) rotate(-90) scale(0.988 1)">Activity (normalized)</text>
<text transform="translate(389.7 536.8) scale(1.004 1)">Cell 6</text>
<path d="M394.1 740.1H399.1V772.5H394.1" fill="none" stroke="#222" stroke-width="1.1"/>
<path d="M399.1 772.5H440.4M407.2 772.5V777M440.4 772.5V777" fill="none" stroke="#222" stroke-width="1.1"/>
<text x="385.8" y="748.5" text-anchor="end">1</text>
<text x="385.8" y="780.9" text-anchor="end">0</text>
<text x="407.2" y="802" text-anchor="middle">0</text>
<text x="440.4" y="802" text-anchor="middle">4</text>
<path d="M407.2 562.8V593.8M449.5 562.8V593.8M491.2 562.8V593.8M534.3 562.8V593.8M576.7 562.8V593.8M407.2 607.5V638.5M449.5 607.5V638.5M491.2 607.5V638.5M534.3 607.5V638.5M576.7 607.5V638.5M407.2 650.4V681.4M449.5 650.4V681.4M491.2 650.4V681.4M534.3 650.4V681.4M576.7 650.4V681.4M407.2 695.4V726.4M449.5 695.4V726.4M491.2 695.4V726.4M534.3 695.4V726.4M576.7 695.4V726.4M407.2 740.5V771.5M449.5 740.5V771.5M491.2 740.5V771.5M534.3 740.5V771.5M576.7 740.5V771.5" fill="none" stroke="#000" stroke-width="2"/>
<use href="#mt2" fill="none" stroke="#8f8fe8" stroke-width="4.6" stroke-linejoin="round" stroke-linecap="butt" opacity="0.85"/>
<use href="#mt2" fill="none" stroke="#0a0acd" stroke-width="3" stroke-linejoin="round" stroke-linecap="butt"/>
<rect x="363.4" y="548.6" width="266.6" height="268.7" fill="none" stroke="#000" stroke-width="2"/>
<path d="M630 548.6L700.8 748.2M630 817.3L700.8 792.5" fill="none" stroke="#000" stroke-width="1.7"/>
<rect x="700.8" y="748.2" width="46.6" height="49.3" fill="none" stroke="#000" stroke-width="1.8"/>
<text transform="translate(352.5 850.7) scale(1.011 1)">Target location, horizontal</text>
<text transform="translate(344.5 813) rotate(-90) scale(1.011 1)">Target location, vertical</text>
<text transform="translate(66.9 897.9) scale(0.990 1)">Cell 7</text>
<path d="M70.5 1089.2H75.5V1119.6H70.5" fill="none" stroke="#222" stroke-width="1.1"/>
<path d="M75.5 1119.6H114.9M82.9 1119.6V1124.1M114.9 1119.6V1124.1" fill="none" stroke="#222" stroke-width="1.1"/>
<text x="62.5" y="1097.6" text-anchor="end">1</text>
<text x="62.5" y="1128" text-anchor="end">0</text>
<text x="82.9" y="1152" text-anchor="middle">0</text>
<text x="114.9" y="1152" text-anchor="middle">4</text>
<path d="M82.9 910.3V941.3M124.4 910.3V941.3M167.1 910.3V941.3M209.2 910.3V941.3M251.9 910.3V941.3M82.9 954.8V985.8M124.4 954.8V985.8M167.1 954.8V985.8M209.2 954.8V985.8M251.9 954.8V985.8M82.9 1000V1031M124.4 1000V1031M167.1 1000V1031M209.2 1000V1031M251.9 1000V1031M82.9 1044.2V1075.2M124.4 1044.2V1075.2M167.1 1044.2V1075.2M209.2 1044.2V1075.2M251.9 1044.2V1075.2M82.9 1087.8V1118.8M124.4 1087.8V1118.8M167.1 1087.8V1118.8M209.2 1087.8V1118.8M251.9 1087.8V1118.8" fill="none" stroke="#000" stroke-width="2"/>
<use href="#mt3" fill="none" stroke="#8f8fe8" stroke-width="4.6" stroke-linejoin="round" stroke-linecap="butt" opacity="0.85"/>
<use href="#mt3" fill="none" stroke="#0a0acd" stroke-width="3" stroke-linejoin="round" stroke-linecap="butt"/>
<text transform="translate(21 1129.5) rotate(-90) scale(0.995 1)">Activity (normalized)</text>
<text transform="translate(316.6 897.9) scale(1.002 1)">Cell 8</text>
<path d="M321.2 1089.2H326.2V1119.6H321.2" fill="none" stroke="#222" stroke-width="1.1"/>
<path d="M326.2 1119.6H367.2M334.3 1119.6V1124.1M367.2 1119.6V1124.1" fill="none" stroke="#222" stroke-width="1.1"/>
<text x="311" y="1097.6" text-anchor="end">1</text>
<text x="311" y="1128" text-anchor="end">0</text>
<text x="334.3" y="1151.3" text-anchor="middle">0</text>
<text x="367.2" y="1151.3" text-anchor="middle">4</text>
<path d="M334.2 910.3V941.3M377 910.3V941.3M418.4 910.3V941.3M461.6 910.3V941.3M504 910.3V941.3M334.2 954.8V985.8M377 954.8V985.8M418.4 954.8V985.8M461.6 954.8V985.8M504 954.8V985.8M334.2 1000V1031M377 1000V1031M418.4 1000V1031M461.6 1000V1031M504 1000V1031M334.2 1044.2V1075.2M377 1044.2V1075.2M418.4 1044.2V1075.2M461.6 1044.2V1075.2M504 1044.2V1075.2M334.2 1087.8V1118.8M377 1087.8V1118.8M418.4 1087.8V1118.8M461.6 1087.8V1118.8M504 1087.8V1118.8" fill="none" stroke="#000" stroke-width="2"/>
<use href="#mt4" fill="none" stroke="#8f8fe8" stroke-width="4.6" stroke-linejoin="round" stroke-linecap="butt" opacity="0.85"/>
<use href="#mt4" fill="none" stroke="#0a0acd" stroke-width="3" stroke-linejoin="round" stroke-linecap="butt"/>
<text transform="translate(76.3 1188.2) scale(1.025 1)">Time to first contact-lick (s)</text>
<text transform="translate(674.9 553) scale(1.08 1)" font-size="31" font-weight="bold" stroke="#000" stroke-width="2.0" stroke-linejoin="miter">i</text>
<text transform="translate(705.3 554.2) scale(1.005 1)">Example session,</text>
<text transform="translate(705.8 584.4) scale(1.015 1)">location tuning of 100 neurons</text>
<path d="M729.2 614h14.8v7.6h-14.8zM777.2 614h14.8v7.6h-14.8zM802 614h15v7.6h-15zM729.2 621.4h14.8v7.6h-14.8zM777.2 621.4h14.8v7.6h-14.8zM802 621.4h15v7.6h-15zM879.5 621.4h7.4v7.6h-7.4zM729.2 628.8h14.8v7.6h-14.8zM769.8 628.8h22.1v7.6h-22.1zM802 628.8h7.6v7.6h-7.6zM721.8 636.2h22.1v7.6h-22.1zM769.8 636.2h22.1v7.6h-22.1zM802 636.2h15v7.6h-15zM879.5 636.2h7.4v7.6h-7.4zM721.8 643.6h22.1v7.4h-22.1zM769.8 643.6h22.1v7.4h-22.1zM802 643.6h7.6v7.4h-7.6zM879.5 643.6h7.4v7.4h-7.4zM1087 661h7.6v7.6h-7.6zM1062.2 690.5h7.6v7.4h-7.6zM784.6 714.4h7.4v7.6h-7.4zM707.1 768.8h7.6v7.6h-7.6zM729.2 768.8h14.8v7.6h-14.8zM707.1 776.1h7.6v7.6h-7.6zM729.2 776.1h7.6v7.6h-7.6zM707.1 783.5h7.6v7.4h-7.6zM729.2 783.5h14.8v7.4h-14.8zM1116.5 783.5h7.4v7.4h-7.4z" fill="#02020c" shape-rendering="crispEdges"/>
<path d="M872.1 614h14.8v7.6h-14.8zM919.1 614h14.8v7.6h-14.8zM1109.1 614h14.8v7.6h-14.8zM1135 614h15v7.6h-15zM872.1 621.4h7.6v7.6h-7.6zM919.1 621.4h14.8v7.6h-14.8zM974.6 621.4h7.4v7.6h-7.4zM1069.6 621.4h7.4v7.6h-7.4zM1109.1 621.4h14.8v7.6h-14.8zM1135 621.4h15v7.6h-15zM721.8 628.8h7.6v7.6h-7.6zM809.4 628.8h7.6v7.6h-7.6zM872.1 628.8h14.8v7.6h-14.8zM911.8 628.8h22.1v7.6h-22.1zM967.2 628.8h14.8v7.6h-14.8zM1040 628.8h7.6v7.6h-7.6zM1054.8 628.8h22.1v7.6h-22.1zM1109.1 628.8h14.8v7.6h-14.8zM1135 628.8h7.6v7.6h-7.6zM864.8 636.2h15v7.6h-15zM911.8 636.2h22.1v7.6h-22.1zM959.8 636.2h22.1v7.6h-22.1zM1040 636.2h36.9v7.6h-36.9zM1101.8 636.2h22.1v7.6h-22.1zM1135 636.2h15v7.6h-15zM707.1 643.6h15v7.4h-15zM755.1 643.6h15v7.4h-15zM809.4 643.6h7.6v7.4h-7.6zM864.8 643.6h15v7.4h-15zM904.4 643.6h29.5v7.4h-29.5zM945.1 643.6h36.9v7.4h-36.9zM1040 643.6h36.9v7.4h-36.9zM1094.4 643.6h29.5v7.4h-29.5zM1135 643.6h7.6v7.4h-7.6zM736.6 661h7.4v7.6h-7.4zM784.6 661h7.4v7.6h-7.4zM897 661h7.6v7.6h-7.6zM1094.4 661h7.6v7.6h-7.6zM736.6 668.4h7.4v7.6h-7.4zM784.6 668.4h7.4v7.6h-7.4zM824.1 668.4h14.8v7.6h-14.8zM872.1 668.4h14.8v7.6h-14.8zM897 668.4h15v7.6h-15zM967.2 668.4h7.6v7.6h-7.6zM1069.6 668.4h7.4v7.6h-7.4zM1087 668.4h7.6v7.6h-7.6zM1164.5 668.4h7.4v7.6h-7.4zM729.2 675.8h14.8v7.6h-14.8zM784.6 675.8h7.4v7.6h-7.4zM802 675.8h7.6v7.6h-7.6zM831.5 675.8h7.4v7.6h-7.4zM872.1 675.8h14.8v7.6h-14.8zM897 675.8h15v7.6h-15zM992 675.8h15v7.6h-15zM1054.8 675.8h22.1v7.6h-22.1zM1087 675.8h7.6v7.6h-7.6zM1157.1 675.8h14.8v7.6h-14.8zM729.2 683.1h14.8v7.6h-14.8zM777.2 683.1h14.8v7.6h-14.8zM809.4 683.1h15v7.6h-15zM831.5 683.1h7.4v7.6h-7.4zM872.1 683.1h14.8v7.6h-14.8zM897 683.1h15v7.6h-15zM952.5 683.1h7.6v7.6h-7.6zM1087 683.1h15v7.6h-15zM1164.5 683.1h7.4v7.6h-7.4zM721.8 690.5h22.1v7.4h-22.1zM777.2 690.5h14.8v7.4h-14.8zM802 690.5h22.4v7.4h-22.4zM831.5 690.5h7.4v7.4h-7.4zM857.4 690.5h7.6v7.4h-7.6zM872.1 690.5h7.6v7.4h-7.6zM959.8 690.5h15v7.4h-15zM1006.8 690.5h7.6v7.4h-7.6zM1087 690.5h7.6v7.4h-7.6zM1142.4 690.5h22.4v7.4h-22.4zM777.2 707h14.8v7.6h-14.8zM850 707h15v7.6h-15zM992 707h7.6v7.6h-7.6zM974.6 714.4h7.4v7.6h-7.4zM1116.5 714.4h7.4v7.6h-7.4zM1157.1 714.4h7.6v7.6h-7.6zM992 721.8h7.6v7.6h-7.6zM1116.5 721.8h7.4v7.6h-7.4zM1164.5 721.8h7.4v7.6h-7.4zM784.6 729.2h7.4v7.6h-7.4zM967.2 729.2h14.8v7.6h-14.8zM784.6 736.6h7.4v7.4h-7.4zM974.6 736.6h7.4v7.4h-7.4zM992 736.6h7.6v7.4h-7.6zM1116.5 736.6h7.4v7.4h-7.4zM707.1 754h7.6v7.6h-7.6zM707.1 761.4h7.6v7.6h-7.6zM729.2 761.4h7.6v7.6h-7.6zM897 761.4h7.6v7.6h-7.6zM1069.6 761.4h7.4v7.6h-7.4zM1116.5 761.4h7.4v7.6h-7.4zM714.5 768.8h15v7.6h-15zM714.5 776.1h15v7.6h-15zM736.6 776.1h7.4v7.6h-7.4zM945.1 776.1h15v7.6h-15zM1021.6 776.1h7.4v7.6h-7.4zM1116.5 776.1h7.4v7.6h-7.4zM1135 776.1h7.6v7.6h-7.6zM714.5 783.5h15v7.4h-15zM831.5 783.5h7.4v7.4h-7.4zM850 783.5h7.6v7.4h-7.6zM904.4 783.5h7.6v7.4h-7.6zM967.2 783.5h7.6v7.4h-7.6zM755.1 801h7.6v7.4h-7.6zM872.1 801h7.6v7.4h-7.6zM945.1 801h7.6v7.4h-7.6zM1054.8 801h7.6v7.4h-7.6zM831.5 808.2h7.4v7.4h-7.4zM872.1 808.2h7.6v7.4h-7.6zM992 808.2h7.6v7.4h-7.6zM1164.5 808.2h7.4v7.4h-7.4zM762.5 815.4h7.6v7.4h-7.6zM736.6 822.5h7.4v7.4h-7.4zM736.6 829.7h7.4v7.2h-7.4zM755.1 847.1h7.6v7.6h-7.6zM967.2 847.1h7.6v7.6h-7.6zM974.6 861.8h7.4v7.6h-7.4zM1047.4 861.8h15v7.6h-15zM755.1 876.5h7.6v7.4h-7.6zM974.6 876.5h7.4v7.4h-7.4zM1116.5 876.5h7.4v7.4h-7.4zM831.5 901.4h7.4v7.6h-7.4zM897 901.4h7.6v7.6h-7.6zM1040 908.8h7.6v7.6h-7.6zM857.4 916.2h7.6v7.6h-7.6zM1135 916.2h7.6v7.6h-7.6zM1054.8 923.6h7.6v7.4h-7.6zM1157.1 923.6h7.6v7.4h-7.6zM872.1 939.1h7.6v7.6h-7.6zM736.6 953.8h7.4v7.6h-7.4zM1094.4 953.8h7.6v7.6h-7.6zM992 961.2h7.6v7.6h-7.6zM736.6 968.5h7.4v7.4h-7.4zM755.1 968.5h7.6v7.4h-7.6zM926.5 968.5h7.4v7.4h-7.4zM736.6 992.4h7.4v7.6h-7.4zM1087 992.4h7.6v7.6h-7.6zM831.5 1039.3h7.4v7.4h-7.4zM967.2 1039.3h7.6v7.4h-7.6zM784.6 1053.6h7.4v7.4h-7.4zM1054.8 1060.7h7.6v7.2h-7.6zM1142.4 1060.7h7.6v7.2h-7.6z" fill="#160b39" shape-rendering="crispEdges"/>
<path d="M721.8 614h7.6v7.6h-7.6zM816.8 614h7.6v7.6h-7.6zM967.2 614h14.8v7.6h-14.8zM1014.2 614h14.8v7.6h-14.8zM1069.6 614h7.4v7.6h-7.4zM721.8 621.4h7.6v7.6h-7.6zM769.8 621.4h7.6v7.6h-7.6zM864.8 621.4h7.6v7.6h-7.6zM967.2 621.4h7.6v7.6h-7.6zM1021.6 621.4h7.4v7.6h-7.4zM1040 621.4h7.6v7.6h-7.6zM1062.2 621.4h7.6v7.6h-7.6zM864.8 628.8h7.6v7.6h-7.6zM959.8 628.8h7.6v7.6h-7.6zM1014.2 628.8h14.8v7.6h-14.8zM1047.4 628.8h7.6v7.6h-7.6zM1142.4 628.8h7.6v7.6h-7.6zM714.5 636.2h7.6v7.6h-7.6zM755.1 636.2h15v7.6h-15zM857.4 636.2h7.6v7.6h-7.6zM904.4 636.2h7.6v7.6h-7.6zM945.1 636.2h15v7.6h-15zM1014.2 636.2h14.8v7.6h-14.8zM816.8 643.6h7.6v7.4h-7.6zM850 643.6h15v7.4h-15zM897 643.6h7.6v7.4h-7.6zM1014.2 643.6h14.8v7.4h-14.8zM1142.4 643.6h7.6v7.4h-7.6zM729.2 661h7.6v7.6h-7.6zM777.2 661h7.6v7.6h-7.6zM831.5 661h7.4v7.6h-7.4zM879.5 661h7.4v7.6h-7.4zM904.4 661h7.6v7.6h-7.6zM952.5 661h22.4v7.6h-22.4zM999.4 661h22.4v7.6h-22.4zM1062.2 661h14.8v7.6h-14.8zM1157.1 661h14.8v7.6h-14.8zM729.2 668.4h7.6v7.6h-7.6zM777.2 668.4h7.6v7.6h-7.6zM802 668.4h7.6v7.6h-7.6zM945.1 668.4h15v7.6h-15zM992 668.4h15v7.6h-15zM1014.2 668.4h7.6v7.6h-7.6zM1094.4 668.4h7.6v7.6h-7.6zM1157.1 668.4h7.6v7.6h-7.6zM777.2 675.8h7.6v7.6h-7.6zM816.8 675.8h15v7.6h-15zM945.1 675.8h29.8v7.6h-29.8zM1006.8 675.8h15v7.6h-15zM1047.4 675.8h7.6v7.6h-7.6zM1094.4 675.8h7.6v7.6h-7.6zM721.8 683.1h7.6v7.6h-7.6zM802 683.1h7.6v7.6h-7.6zM824.1 683.1h7.6v7.6h-7.6zM945.1 683.1h7.6v7.6h-7.6zM967.2 683.1h14.8v7.6h-14.8zM1021.6 683.1h7.4v7.6h-7.4zM1040 683.1h22.4v7.6h-22.4zM1069.6 683.1h7.4v7.6h-7.4zM1157.1 683.1h7.6v7.6h-7.6zM714.5 690.5h7.6v7.4h-7.6zM824.1 690.5h7.6v7.4h-7.6zM864.8 690.5h7.6v7.4h-7.6zM879.5 690.5h7.4v7.4h-7.4zM897 690.5h15v7.4h-15zM945.1 690.5h15v7.4h-15zM974.6 690.5h7.4v7.4h-7.4zM992 690.5h15v7.4h-15zM1014.2 690.5h7.6v7.4h-7.6zM1040 690.5h22.4v7.4h-22.4zM1069.6 690.5h7.4v7.4h-7.4zM1164.5 690.5h7.4v7.4h-7.4zM769.8 707h7.6v7.6h-7.6zM809.4 707h7.6v7.6h-7.6zM959.8 707h22.1v7.6h-22.1zM999.4 707h7.6v7.6h-7.6zM1040 707h15v7.6h-15zM1157.1 707h14.8v7.6h-14.8zM736.6 714.4h7.4v7.6h-7.4zM777.2 714.4h7.6v7.6h-7.6zM802 714.4h15v7.6h-15zM850 714.4h15v7.6h-15zM926.5 714.4h7.4v7.6h-7.4zM967.2 714.4h7.6v7.6h-7.6zM992 714.4h7.6v7.6h-7.6zM1040 714.4h15v7.6h-15zM1164.5 714.4h7.4v7.6h-7.4zM721.8 721.8h22.1v7.6h-22.1zM784.6 721.8h7.4v7.6h-7.4zM802 721.8h15v7.6h-15zM926.5 721.8h7.4v7.6h-7.4zM967.2 721.8h14.8v7.6h-14.8zM999.4 721.8h7.6v7.6h-7.6zM1040 721.8h7.6v7.6h-7.6zM1157.1 721.8h7.6v7.6h-7.6zM721.8 729.2h7.6v7.6h-7.6zM802 729.2h15v7.6h-15zM919.1 729.2h7.6v7.6h-7.6zM1040 729.2h15v7.6h-15zM1101.8 729.2h22.1v7.6h-22.1zM1157.1 729.2h14.8v7.6h-14.8zM707.1 736.6h36.9v7.4h-36.9zM802 736.6h15v7.4h-15zM919.1 736.6h14.8v7.4h-14.8zM967.2 736.6h7.6v7.4h-7.6zM1040 736.6h7.6v7.4h-7.6zM1109.1 736.6h7.6v7.4h-7.6zM1157.1 736.6h14.8v7.4h-14.8zM736.6 754h7.4v7.6h-7.4zM755.1 754h7.6v7.6h-7.6zM831.5 754h7.4v7.6h-7.4zM857.4 754h7.6v7.6h-7.6zM897 754h7.6v7.6h-7.6zM945.1 754h7.6v7.6h-7.6zM1014.2 754h14.8v7.6h-14.8zM1069.6 754h7.4v7.6h-7.4zM1109.1 754h14.8v7.6h-14.8zM1135 754h7.6v7.6h-7.6zM714.5 761.4h7.6v7.6h-7.6zM736.6 761.4h7.4v7.6h-7.4zM755.1 761.4h7.6v7.6h-7.6zM824.1 761.4h14.8v7.6h-14.8zM945.1 761.4h7.6v7.6h-7.6zM967.2 761.4h7.6v7.6h-7.6zM1014.2 761.4h14.8v7.6h-14.8zM1062.2 761.4h7.6v7.6h-7.6zM1135 761.4h7.6v7.6h-7.6zM1149.8 761.4h7.6v7.6h-7.6zM755.1 768.8h7.6v7.6h-7.6zM824.1 768.8h14.8v7.6h-14.8zM926.5 768.8h7.4v7.6h-7.4zM945.1 768.8h7.6v7.6h-7.6zM967.2 768.8h14.8v7.6h-14.8zM1021.6 768.8h7.4v7.6h-7.4zM1069.6 768.8h7.4v7.6h-7.4zM1116.5 768.8h7.4v7.6h-7.4zM755.1 776.1h15v7.6h-15zM802 776.1h7.6v7.6h-7.6zM816.8 776.1h22.1v7.6h-22.1zM857.4 776.1h7.6v7.6h-7.6zM919.1 776.1h7.6v7.6h-7.6zM959.8 776.1h22.1v7.6h-22.1zM1006.8 776.1h15v7.6h-15zM1062.2 776.1h14.8v7.6h-14.8zM1087 776.1h7.6v7.6h-7.6zM1101.8 776.1h7.6v7.6h-7.6zM755.1 783.5h7.6v7.4h-7.6zM857.4 783.5h7.6v7.4h-7.6zM897 783.5h7.6v7.4h-7.6zM945.1 783.5h22.4v7.4h-22.4zM974.6 783.5h7.4v7.4h-7.4zM999.4 783.5h7.6v7.4h-7.6zM1014.2 783.5h7.6v7.4h-7.6zM1062.2 783.5h14.8v7.4h-14.8zM1101.8 783.5h15v7.4h-15zM1135 783.5h7.6v7.4h-7.6zM721.8 801h22.1v7.4h-22.1zM762.5 801h7.6v7.4h-7.6zM831.5 801h7.4v7.4h-7.4zM879.5 801h7.4v7.4h-7.4zM904.4 801h7.6v7.4h-7.6zM1014.2 801h7.6v7.4h-7.6zM1040 801h15v7.4h-15zM1109.1 801h14.8v7.4h-14.8zM1157.1 801h14.8v7.4h-14.8zM729.2 808.2h14.8v7.4h-14.8zM755.1 808.2h22.4v7.4h-22.4zM824.1 808.2h7.6v7.4h-7.6zM945.1 808.2h7.6v7.4h-7.6zM1014.2 808.2h7.6v7.4h-7.6zM1040 808.2h15v7.4h-15zM1109.1 808.2h14.8v7.4h-14.8zM1157.1 808.2h7.6v7.4h-7.6zM736.6 815.4h7.4v7.4h-7.4zM755.1 815.4h7.6v7.4h-7.6zM769.8 815.4h7.6v7.4h-7.6zM816.8 815.4h7.6v7.4h-7.6zM831.5 815.4h7.4v7.4h-7.4zM911.8 815.4h7.6v7.4h-7.6zM1006.8 815.4h7.6v7.4h-7.6zM1047.4 815.4h7.6v7.4h-7.6zM1116.5 815.4h7.4v7.4h-7.4zM1164.5 815.4h7.4v7.4h-7.4zM755.1 822.5h22.4v7.4h-22.4zM831.5 822.5h7.4v7.4h-7.4zM872.1 822.5h7.6v7.4h-7.6zM897 822.5h7.6v7.4h-7.6zM945.1 822.5h7.6v7.4h-7.6zM1014.2 822.5h7.6v7.4h-7.6zM1116.5 822.5h7.4v7.4h-7.4zM1164.5 822.5h7.4v7.4h-7.4zM755.1 829.7h22.4v7.2h-22.4zM831.5 829.7h7.4v7.2h-7.4zM926.5 829.7h7.4v7.2h-7.4zM999.4 829.7h29.5v7.2h-29.5zM714.5 847.1h7.6v7.6h-7.6zM879.5 847.1h7.4v7.6h-7.4zM897 847.1h7.6v7.6h-7.6zM911.8 847.1h7.6v7.6h-7.6zM974.6 847.1h7.4v7.6h-7.4zM1040 847.1h7.6v7.6h-7.6zM1109.1 847.1h7.6v7.6h-7.6zM707.1 854.5h7.6v7.6h-7.6zM872.1 854.5h7.6v7.6h-7.6zM897 854.5h22.4v7.6h-22.4zM967.2 854.5h14.8v7.6h-14.8zM1021.6 854.5h7.4v7.6h-7.4zM1116.5 854.5h7.4v7.6h-7.4zM1164.5 854.5h7.4v7.6h-7.4zM755.1 861.8h15v7.6h-15zM831.5 861.8h7.4v7.6h-7.4zM879.5 861.8h7.4v7.6h-7.4zM967.2 861.8h7.6v7.6h-7.6zM1021.6 861.8h7.4v7.6h-7.4zM872.1 869.2h14.8v7.6h-14.8zM904.4 869.2h7.6v7.6h-7.6zM967.2 869.2h14.8v7.6h-14.8zM1116.5 869.2h7.4v7.6h-7.4zM1149.8 869.2h7.6v7.6h-7.6zM1164.5 869.2h7.4v7.6h-7.4zM707.1 876.5h15v7.4h-15zM897 876.5h7.6v7.4h-7.6zM952.5 876.5h7.6v7.4h-7.6zM1040 876.5h7.6v7.4h-7.6zM1109.1 876.5h7.6v7.4h-7.6zM1157.1 876.5h14.8v7.4h-14.8zM824.1 894h14.8v7.6h-14.8zM850 894h7.6v7.6h-7.6zM904.4 894h7.6v7.6h-7.6zM1014.2 894h14.8v7.6h-14.8zM1054.8 894h7.6v7.6h-7.6zM1149.8 894h7.6v7.6h-7.6zM1164.5 894h7.4v7.6h-7.4zM777.2 901.4h7.6v7.6h-7.6zM809.4 901.4h7.6v7.6h-7.6zM864.8 901.4h7.6v7.6h-7.6zM967.2 901.4h14.8v7.6h-14.8zM1014.2 901.4h7.6v7.6h-7.6zM1040 901.4h15v7.6h-15zM1087 901.4h7.6v7.6h-7.6zM1157.1 901.4h14.8v7.6h-14.8zM729.2 908.8h14.8v7.6h-14.8zM777.2 908.8h14.8v7.6h-14.8zM831.5 908.8h7.4v7.6h-7.4zM850 908.8h22.4v7.6h-22.4zM897 908.8h7.6v7.6h-7.6zM974.6 908.8h7.4v7.6h-7.4zM1047.4 908.8h7.6v7.6h-7.6zM1094.4 908.8h7.6v7.6h-7.6zM1149.8 908.8h22.1v7.6h-22.1zM721.8 916.2h7.6v7.6h-7.6zM777.2 916.2h7.6v7.6h-7.6zM824.1 916.2h14.8v7.6h-14.8zM850 916.2h7.6v7.6h-7.6zM967.2 916.2h14.8v7.6h-14.8zM1014.2 916.2h7.6v7.6h-7.6zM1087 916.2h7.6v7.6h-7.6zM1149.8 916.2h7.6v7.6h-7.6zM714.5 923.6h29.5v7.4h-29.5zM769.8 923.6h15v7.4h-15zM850 923.6h7.6v7.4h-7.6zM864.8 923.6h15v7.4h-15zM1040 923.6h15v7.4h-15zM1087 923.6h15v7.4h-15zM755.1 939.1h15v7.6h-15zM802 939.1h7.6v7.6h-7.6zM897 939.1h7.6v7.6h-7.6zM1087 939.1h7.6v7.6h-7.6zM736.6 946.5h7.4v7.6h-7.4zM769.8 946.5h15v7.6h-15zM816.8 946.5h7.6v7.6h-7.6zM897 946.5h7.6v7.6h-7.6zM919.1 946.5h7.6v7.6h-7.6zM992 946.5h7.6v7.6h-7.6zM762.5 953.8h15v7.6h-15zM831.5 953.8h7.4v7.6h-7.4zM857.4 953.8h7.6v7.6h-7.6zM879.5 953.8h7.4v7.6h-7.4zM919.1 953.8h7.6v7.6h-7.6zM974.6 953.8h7.4v7.6h-7.4zM992 953.8h36.9v7.6h-36.9zM1101.8 953.8h7.6v7.6h-7.6zM721.8 961.2h22.1v7.6h-22.1zM755.1 961.2h22.4v7.6h-22.4zM802 961.2h7.6v7.6h-7.6zM816.8 961.2h15v7.6h-15zM872.1 961.2h7.6v7.6h-7.6zM926.5 961.2h7.4v7.6h-7.4zM1014.2 961.2h7.6v7.6h-7.6zM1062.2 961.2h7.6v7.6h-7.6zM1142.4 961.2h7.6v7.6h-7.6zM714.5 968.5h15v7.4h-15zM831.5 968.5h7.4v7.4h-7.4zM919.1 968.5h7.6v7.4h-7.6zM967.2 968.5h7.6v7.4h-7.6zM992 968.5h15v7.4h-15zM1014.2 968.5h7.6v7.4h-7.6zM1087 968.5h7.6v7.4h-7.6zM1135 968.5h22.4v7.4h-22.4zM802 985h7.6v7.6h-7.6zM857.4 985h7.6v7.6h-7.6zM959.8 985h7.6v7.6h-7.6zM1014.2 985h14.8v7.6h-14.8zM1047.4 985h7.6v7.6h-7.6zM1087 985h7.6v7.6h-7.6zM802 992.4h7.6v7.6h-7.6zM850 992.4h7.6v7.6h-7.6zM926.5 992.4h7.4v7.6h-7.4zM945.1 992.4h7.6v7.6h-7.6zM959.8 992.4h7.6v7.6h-7.6zM1021.6 992.4h7.4v7.6h-7.4zM1101.8 992.4h7.6v7.6h-7.6zM736.6 999.7h7.4v7.6h-7.4zM784.6 999.7h7.4v7.6h-7.4zM919.1 999.7h14.8v7.6h-14.8zM736.6 1007.1h7.4v7.6h-7.4zM919.1 1007.1h14.8v7.6h-14.8zM974.6 1007.1h7.4v7.6h-7.4zM1157.1 1007.1h7.6v7.6h-7.6zM729.2 1014.4h7.6v7.4h-7.6zM784.6 1014.4h7.4v7.4h-7.4zM802 1014.4h7.6v7.4h-7.6zM919.1 1014.4h14.8v7.4h-14.8zM967.2 1014.4h7.6v7.4h-7.6zM1021.6 1014.4h7.4v7.4h-7.4zM1142.4 1014.4h7.6v7.4h-7.6zM777.2 1032.1h14.8v7.4h-14.8zM857.4 1032.1h7.6v7.4h-7.6zM992 1032.1h15v7.4h-15zM1087 1032.1h7.6v7.4h-7.6zM736.6 1039.3h7.4v7.4h-7.4zM777.2 1039.3h14.8v7.4h-14.8zM1087 1039.3h15v7.4h-15zM1157.1 1039.3h7.6v7.4h-7.6zM831.5 1046.4h7.4v7.4h-7.4zM911.8 1046.4h7.6v7.4h-7.6zM1069.6 1046.4h7.4v7.4h-7.4zM1135 1046.4h7.6v7.4h-7.6zM872.1 1053.6h7.6v7.4h-7.6zM919.1 1053.6h14.8v7.4h-14.8zM967.2 1053.6h14.8v7.4h-14.8zM1157.1 1053.6h14.8v7.4h-14.8zM777.2 1060.7h14.8v7.2h-14.8zM850 1060.7h22.4v7.2h-22.4zM904.4 1060.7h7.6v7.2h-7.6zM926.5 1060.7h7.4v7.2h-7.4zM992 1060.7h7.6v7.2h-7.6zM1157.1 1060.7h14.8v7.2h-14.8z" fill="#3d0965" shape-rendering="crispEdges"/>
<path d="M864.8 614h7.6v7.6h-7.6zM1006.8 614h7.6v7.6h-7.6zM1040 614h7.6v7.6h-7.6zM1062.2 614h7.6v7.6h-7.6zM1149.8 614h7.6v7.6h-7.6zM816.8 621.4h7.6v7.6h-7.6zM911.8 621.4h7.6v7.6h-7.6zM1006.8 621.4h15v7.6h-15zM1047.4 621.4h7.6v7.6h-7.6zM1149.8 621.4h7.6v7.6h-7.6zM762.5 628.8h7.6v7.6h-7.6zM904.4 628.8h7.6v7.6h-7.6zM952.5 628.8h7.6v7.6h-7.6zM1006.8 628.8h7.6v7.6h-7.6zM1101.8 628.8h7.6v7.6h-7.6zM707.1 636.2h7.6v7.6h-7.6zM816.8 636.2h7.6v7.6h-7.6zM850 636.2h7.6v7.6h-7.6zM897 636.2h7.6v7.6h-7.6zM1087 636.2h15v7.6h-15zM1006.8 643.6h7.6v7.4h-7.6zM1087 643.6h7.6v7.4h-7.6zM1149.8 643.6h7.6v7.4h-7.6zM769.8 661h7.6v7.6h-7.6zM802 661h7.6v7.6h-7.6zM824.1 661h7.6v7.6h-7.6zM911.8 661h7.6v7.6h-7.6zM974.6 661h7.4v7.6h-7.4zM1101.8 661h7.6v7.6h-7.6zM1135 661h7.6v7.6h-7.6zM769.8 668.4h7.6v7.6h-7.6zM864.8 668.4h7.6v7.6h-7.6zM959.8 668.4h7.6v7.6h-7.6zM1006.8 668.4h7.6v7.6h-7.6zM1040 668.4h7.6v7.6h-7.6zM1062.2 668.4h7.6v7.6h-7.6zM1101.8 668.4h7.6v7.6h-7.6zM721.8 675.8h7.6v7.6h-7.6zM769.8 675.8h7.6v7.6h-7.6zM809.4 675.8h7.6v7.6h-7.6zM857.4 675.8h15v7.6h-15zM1040 675.8h7.6v7.6h-7.6zM1149.8 675.8h7.6v7.6h-7.6zM769.8 683.1h7.6v7.6h-7.6zM999.4 683.1h7.6v7.6h-7.6zM1014.2 683.1h7.6v7.6h-7.6zM1062.2 683.1h7.6v7.6h-7.6zM1149.8 683.1h7.6v7.6h-7.6zM707.1 690.5h7.6v7.4h-7.6zM769.8 690.5h7.6v7.4h-7.6zM911.8 690.5h7.6v7.4h-7.6zM1021.6 690.5h7.4v7.4h-7.4zM1094.4 690.5h7.6v7.4h-7.6zM1135 690.5h7.6v7.4h-7.6zM736.6 707h7.4v7.6h-7.4zM755.1 707h15v7.6h-15zM802 707h7.6v7.6h-7.6zM816.8 707h7.6v7.6h-7.6zM864.8 707h7.6v7.6h-7.6zM919.1 707h14.8v7.6h-14.8zM952.5 707h7.6v7.6h-7.6zM1006.8 707h7.6v7.6h-7.6zM1054.8 707h7.6v7.6h-7.6zM1116.5 707h7.4v7.6h-7.4zM1149.8 707h7.6v7.6h-7.6zM729.2 714.4h7.6v7.6h-7.6zM755.1 714.4h22.4v7.6h-22.4zM816.8 714.4h7.6v7.6h-7.6zM919.1 714.4h7.6v7.6h-7.6zM959.8 714.4h7.6v7.6h-7.6zM999.4 714.4h7.6v7.6h-7.6zM1054.8 714.4h7.6v7.6h-7.6zM1109.1 714.4h7.6v7.6h-7.6zM755.1 721.8h7.6v7.6h-7.6zM769.8 721.8h15v7.6h-15zM850 721.8h15v7.6h-15zM919.1 721.8h7.6v7.6h-7.6zM959.8 721.8h7.6v7.6h-7.6zM1047.4 721.8h7.6v7.6h-7.6zM1109.1 721.8h7.6v7.6h-7.6zM1149.8 721.8h7.6v7.6h-7.6zM707.1 729.2h15v7.6h-15zM729.2 729.2h14.8v7.6h-14.8zM777.2 729.2h7.6v7.6h-7.6zM816.8 729.2h7.6v7.6h-7.6zM850 729.2h7.6v7.6h-7.6zM897 729.2h22.4v7.6h-22.4zM926.5 729.2h7.4v7.6h-7.4zM992 729.2h7.6v7.6h-7.6zM1142.4 729.2h15v7.6h-15zM777.2 736.6h7.6v7.4h-7.6zM816.8 736.6h7.6v7.4h-7.6zM850 736.6h7.6v7.4h-7.6zM897 736.6h22.4v7.4h-22.4zM959.8 736.6h7.6v7.4h-7.6zM999.4 736.6h7.6v7.4h-7.6zM1047.4 736.6h15v7.4h-15zM1101.8 736.6h7.6v7.4h-7.6zM1142.4 736.6h15v7.4h-15zM729.2 754h7.6v7.6h-7.6zM762.5 754h7.6v7.6h-7.6zM824.1 754h7.6v7.6h-7.6zM850 754h7.6v7.6h-7.6zM864.8 754h7.6v7.6h-7.6zM904.4 754h7.6v7.6h-7.6zM967.2 754h14.8v7.6h-14.8zM1006.8 754h7.6v7.6h-7.6zM1054.8 754h15v7.6h-15zM1142.4 754h7.6v7.6h-7.6zM762.5 761.4h7.6v7.6h-7.6zM816.8 761.4h7.6v7.6h-7.6zM850 761.4h15v7.6h-15zM952.5 761.4h7.6v7.6h-7.6zM974.6 761.4h7.4v7.6h-7.4zM1006.8 761.4h7.6v7.6h-7.6zM1054.8 761.4h7.6v7.6h-7.6zM1109.1 761.4h7.6v7.6h-7.6zM1142.4 761.4h7.6v7.6h-7.6zM762.5 768.8h7.6v7.6h-7.6zM850 768.8h15v7.6h-15zM904.4 768.8h7.6v7.6h-7.6zM952.5 768.8h15v7.6h-15zM1006.8 768.8h15v7.6h-15zM1054.8 768.8h15v7.6h-15zM1109.1 768.8h7.6v7.6h-7.6zM1135 768.8h15v7.6h-15zM769.8 776.1h7.6v7.6h-7.6zM850 776.1h7.6v7.6h-7.6zM897 776.1h15v7.6h-15zM999.4 776.1h7.6v7.6h-7.6zM1109.1 776.1h7.6v7.6h-7.6zM1142.4 776.1h7.6v7.6h-7.6zM762.5 783.5h15v7.4h-15zM802 783.5h29.8v7.4h-29.8zM911.8 783.5h22.1v7.4h-22.1zM992 783.5h7.6v7.4h-7.6zM1006.8 783.5h7.6v7.4h-7.6zM1021.6 783.5h7.4v7.4h-7.4zM1054.8 783.5h7.6v7.4h-7.6zM1094.4 783.5h7.6v7.4h-7.6zM1149.8 783.5h7.6v7.4h-7.6zM707.1 801h15v7.4h-15zM824.1 801h7.6v7.4h-7.6zM864.8 801h7.6v7.4h-7.6zM897 801h7.6v7.4h-7.6zM952.5 801h7.6v7.4h-7.6zM999.4 801h15v7.4h-15zM1094.4 801h15v7.4h-15zM1142.4 801h15v7.4h-15zM707.1 808.2h22.4v7.4h-22.4zM777.2 808.2h7.6v7.4h-7.6zM879.5 808.2h7.4v7.4h-7.4zM897 808.2h22.4v7.4h-22.4zM952.5 808.2h7.6v7.4h-7.6zM999.4 808.2h7.6v7.4h-7.6zM1101.8 808.2h7.6v7.4h-7.6zM1142.4 808.2h15v7.4h-15zM707.1 815.4h7.6v7.4h-7.6zM721.8 815.4h15v7.4h-15zM777.2 815.4h14.8v7.4h-14.8zM872.1 815.4h14.8v7.4h-14.8zM926.5 815.4h7.4v7.4h-7.4zM945.1 815.4h7.6v7.4h-7.6zM992 815.4h15v7.4h-15zM1014.2 815.4h7.6v7.4h-7.6zM1040 815.4h7.6v7.4h-7.6zM1101.8 815.4h7.6v7.4h-7.6zM911.8 822.5h22.1v7.4h-22.1zM992 822.5h15v7.4h-15zM1021.6 822.5h7.4v7.4h-7.4zM1040 822.5h15v7.4h-15zM1109.1 822.5h7.6v7.4h-7.6zM1135 822.5h7.6v7.4h-7.6zM1149.8 822.5h7.6v7.4h-7.6zM729.2 829.7h7.6v7.2h-7.6zM777.2 829.7h7.6v7.2h-7.6zM824.1 829.7h7.6v7.2h-7.6zM872.1 829.7h14.8v7.2h-14.8zM904.4 829.7h7.6v7.2h-7.6zM919.1 829.7h7.6v7.2h-7.6zM945.1 829.7h7.6v7.2h-7.6zM992 829.7h7.6v7.2h-7.6zM1109.1 829.7h14.8v7.2h-14.8zM1142.4 829.7h29.5v7.2h-29.5zM707.1 847.1h7.6v7.6h-7.6zM721.8 847.1h7.6v7.6h-7.6zM762.5 847.1h7.6v7.6h-7.6zM824.1 847.1h14.8v7.6h-14.8zM872.1 847.1h7.6v7.6h-7.6zM904.4 847.1h7.6v7.6h-7.6zM919.1 847.1h14.8v7.6h-14.8zM959.8 847.1h7.6v7.6h-7.6zM1014.2 847.1h14.8v7.6h-14.8zM1047.4 847.1h7.6v7.6h-7.6zM1116.5 847.1h7.4v7.6h-7.4zM1157.1 847.1h14.8v7.6h-14.8zM714.5 854.5h7.6v7.6h-7.6zM755.1 854.5h7.6v7.6h-7.6zM824.1 854.5h14.8v7.6h-14.8zM879.5 854.5h7.4v7.6h-7.4zM919.1 854.5h14.8v7.6h-14.8zM959.8 854.5h7.6v7.6h-7.6zM1014.2 854.5h7.6v7.6h-7.6zM1054.8 854.5h7.6v7.6h-7.6zM1109.1 854.5h7.6v7.6h-7.6zM707.1 861.8h15v7.6h-15zM816.8 861.8h15v7.6h-15zM872.1 861.8h7.6v7.6h-7.6zM897 861.8h22.4v7.6h-22.4zM959.8 861.8h7.6v7.6h-7.6zM1014.2 861.8h7.6v7.6h-7.6zM1062.2 861.8h7.6v7.6h-7.6zM1109.1 861.8h14.8v7.6h-14.8zM1157.1 861.8h14.8v7.6h-14.8zM707.1 869.2h15v7.6h-15zM755.1 869.2h15v7.6h-15zM816.8 869.2h22.1v7.6h-22.1zM911.8 869.2h15v7.6h-15zM945.1 869.2h22.4v7.6h-22.4zM1014.2 869.2h14.8v7.6h-14.8zM1040 869.2h22.4v7.6h-22.4zM1087 869.2h7.6v7.6h-7.6zM1101.8 869.2h15v7.6h-15zM1135 869.2h7.6v7.6h-7.6zM1157.1 869.2h7.6v7.6h-7.6zM762.5 876.5h7.6v7.4h-7.6zM802 876.5h36.9v7.4h-36.9zM864.8 876.5h22.1v7.4h-22.1zM904.4 876.5h22.4v7.4h-22.4zM959.8 876.5h7.6v7.4h-7.6zM1014.2 876.5h14.8v7.4h-14.8zM1101.8 876.5h7.6v7.4h-7.6zM1149.8 876.5h7.6v7.4h-7.6zM729.2 894h14.8v7.6h-14.8zM784.6 894h7.4v7.6h-7.4zM816.8 894h7.6v7.6h-7.6zM857.4 894h7.6v7.6h-7.6zM897 894h7.6v7.6h-7.6zM945.1 894h7.6v7.6h-7.6zM967.2 894h14.8v7.6h-14.8zM1006.8 894h7.6v7.6h-7.6zM1040 894h15v7.6h-15zM1087 894h15v7.6h-15zM1157.1 894h7.6v7.6h-7.6zM736.6 901.4h7.4v7.6h-7.4zM784.6 901.4h7.4v7.6h-7.4zM824.1 901.4h7.6v7.6h-7.6zM850 901.4h7.6v7.6h-7.6zM904.4 901.4h7.6v7.6h-7.6zM1021.6 901.4h7.4v7.6h-7.4zM1054.8 901.4h15v7.6h-15zM1101.8 901.4h15v7.6h-15zM1149.8 901.4h7.6v7.6h-7.6zM714.5 908.8h15v7.6h-15zM816.8 908.8h15v7.6h-15zM879.5 908.8h7.4v7.6h-7.4zM904.4 908.8h7.6v7.6h-7.6zM967.2 908.8h7.6v7.6h-7.6zM1014.2 908.8h14.8v7.6h-14.8zM1054.8 908.8h15v7.6h-15zM1109.1 908.8h7.6v7.6h-7.6zM1142.4 908.8h7.6v7.6h-7.6zM707.1 916.2h15v7.6h-15zM736.6 916.2h7.4v7.6h-7.4zM784.6 916.2h7.4v7.6h-7.4zM802 916.2h7.6v7.6h-7.6zM816.8 916.2h7.6v7.6h-7.6zM864.8 916.2h7.6v7.6h-7.6zM897 916.2h15v7.6h-15zM1047.4 916.2h7.6v7.6h-7.6zM1062.2 916.2h7.6v7.6h-7.6zM1094.4 916.2h7.6v7.6h-7.6zM1142.4 916.2h7.6v7.6h-7.6zM1157.1 916.2h14.8v7.6h-14.8zM707.1 923.6h7.6v7.4h-7.6zM762.5 923.6h7.6v7.4h-7.6zM784.6 923.6h7.4v7.4h-7.4zM802 923.6h7.6v7.4h-7.6zM816.8 923.6h22.1v7.4h-22.1zM897 923.6h22.4v7.4h-22.4zM967.2 923.6h14.8v7.4h-14.8zM1014.2 923.6h14.8v7.4h-14.8zM1069.6 923.6h7.4v7.4h-7.4zM1101.8 923.6h7.6v7.4h-7.6zM1135 923.6h22.4v7.4h-22.4zM1164.5 923.6h7.4v7.4h-7.4zM729.2 939.1h14.8v7.6h-14.8zM809.4 939.1h15v7.6h-15zM850 939.1h7.6v7.6h-7.6zM879.5 939.1h7.4v7.6h-7.4zM926.5 939.1h7.4v7.6h-7.4zM974.6 939.1h7.4v7.6h-7.4zM992 939.1h7.6v7.6h-7.6zM1014.2 939.1h14.8v7.6h-14.8zM1069.6 939.1h7.4v7.6h-7.4zM1094.4 939.1h7.6v7.6h-7.6zM1135 939.1h15v7.6h-15zM729.2 946.5h7.6v7.6h-7.6zM755.1 946.5h7.6v7.6h-7.6zM802 946.5h15v7.6h-15zM831.5 946.5h7.4v7.6h-7.4zM850 946.5h7.6v7.6h-7.6zM872.1 946.5h14.8v7.6h-14.8zM926.5 946.5h7.4v7.6h-7.4zM967.2 946.5h14.8v7.6h-14.8zM999.4 946.5h7.6v7.6h-7.6zM1014.2 946.5h14.8v7.6h-14.8zM1062.2 946.5h14.8v7.6h-14.8zM1101.8 946.5h7.6v7.6h-7.6zM1135 946.5h7.6v7.6h-7.6zM1149.8 946.5h7.6v7.6h-7.6zM721.8 953.8h7.6v7.6h-7.6zM755.1 953.8h7.6v7.6h-7.6zM809.4 953.8h15v7.6h-15zM864.8 953.8h7.6v7.6h-7.6zM897 953.8h7.6v7.6h-7.6zM926.5 953.8h7.4v7.6h-7.4zM967.2 953.8h7.6v7.6h-7.6zM1062.2 953.8h14.8v7.6h-14.8zM1109.1 953.8h7.6v7.6h-7.6zM1135 953.8h15v7.6h-15zM831.5 961.2h7.4v7.6h-7.4zM864.8 961.2h7.6v7.6h-7.6zM967.2 961.2h14.8v7.6h-14.8zM999.4 961.2h15v7.6h-15zM1021.6 961.2h7.4v7.6h-7.4zM1069.6 961.2h7.4v7.6h-7.4zM1087 961.2h22.4v7.6h-22.4zM1135 961.2h7.6v7.6h-7.6zM707.1 968.5h7.6v7.4h-7.6zM729.2 968.5h7.6v7.4h-7.6zM777.2 968.5h7.6v7.4h-7.6zM809.4 968.5h7.6v7.4h-7.6zM824.1 968.5h7.6v7.4h-7.6zM864.8 968.5h22.1v7.4h-22.1zM952.5 968.5h15v7.4h-15zM974.6 968.5h7.4v7.4h-7.4zM1006.8 968.5h7.6v7.4h-7.6zM1021.6 968.5h7.4v7.4h-7.4zM1047.4 968.5h22.4v7.4h-22.4zM729.2 985h14.8v7.6h-14.8zM784.6 985h7.4v7.6h-7.4zM809.4 985h7.6v7.6h-7.6zM850 985h7.6v7.6h-7.6zM864.8 985h7.6v7.6h-7.6zM926.5 985h7.4v7.6h-7.4zM945.1 985h7.6v7.6h-7.6zM1040 985h7.6v7.6h-7.6zM1157.1 985h14.8v7.6h-14.8zM777.2 992.4h14.8v7.6h-14.8zM857.4 992.4h15v7.6h-15zM897 992.4h7.6v7.6h-7.6zM952.5 992.4h7.6v7.6h-7.6zM1014.2 992.4h7.6v7.6h-7.6zM1040 992.4h15v7.6h-15zM1094.4 992.4h7.6v7.6h-7.6zM1157.1 992.4h7.6v7.6h-7.6zM729.2 999.7h7.6v7.6h-7.6zM769.8 999.7h15v7.6h-15zM802 999.7h15v7.6h-15zM850 999.7h15v7.6h-15zM952.5 999.7h15v7.6h-15zM974.6 999.7h7.4v7.6h-7.4zM1014.2 999.7h14.8v7.6h-14.8zM1040 999.7h7.6v7.6h-7.6zM1094.4 999.7h7.6v7.6h-7.6zM1149.8 999.7h15v7.6h-15zM729.2 1007.1h7.6v7.6h-7.6zM769.8 1007.1h22.1v7.6h-22.1zM802 1007.1h15v7.6h-15zM850 1007.1h15v7.6h-15zM897 1007.1h22.4v7.6h-22.4zM952.5 1007.1h15v7.6h-15zM1006.8 1007.1h22.1v7.6h-22.1zM1040 1007.1h7.6v7.6h-7.6zM1094.4 1007.1h7.6v7.6h-7.6zM1135 1007.1h7.6v7.6h-7.6zM1149.8 1007.1h7.6v7.6h-7.6zM1164.5 1007.1h7.4v7.6h-7.4zM736.6 1014.4h7.4v7.4h-7.4zM769.8 1014.4h15v7.4h-15zM809.4 1014.4h15v7.4h-15zM850 1014.4h7.6v7.4h-7.6zM897 1014.4h15v7.4h-15zM959.8 1014.4h7.6v7.4h-7.6zM974.6 1014.4h7.4v7.4h-7.4zM1014.2 1014.4h7.6v7.4h-7.6zM1040 1014.4h7.6v7.4h-7.6zM1149.8 1014.4h22.1v7.4h-22.1zM729.2 1032.1h14.8v7.4h-14.8zM769.8 1032.1h7.6v7.4h-7.6zM824.1 1032.1h14.8v7.4h-14.8zM850 1032.1h7.6v7.4h-7.6zM872.1 1032.1h7.6v7.4h-7.6zM911.8 1032.1h7.6v7.4h-7.6zM945.1 1032.1h7.6v7.4h-7.6zM967.2 1032.1h14.8v7.4h-14.8zM1069.6 1032.1h7.4v7.4h-7.4zM1094.4 1032.1h7.6v7.4h-7.6zM1157.1 1032.1h14.8v7.4h-14.8zM729.2 1039.3h7.6v7.4h-7.6zM762.5 1039.3h15v7.4h-15zM824.1 1039.3h7.6v7.4h-7.6zM850 1039.3h7.6v7.4h-7.6zM872.1 1039.3h7.6v7.4h-7.6zM904.4 1039.3h7.6v7.4h-7.6zM926.5 1039.3h7.4v7.4h-7.4zM974.6 1039.3h7.4v7.4h-7.4zM992 1039.3h15v7.4h-15zM1062.2 1039.3h14.8v7.4h-14.8zM1101.8 1039.3h15v7.4h-15zM1135 1039.3h7.6v7.4h-7.6zM1164.5 1039.3h7.4v7.4h-7.4zM736.6 1046.4h7.4v7.4h-7.4zM755.1 1046.4h7.6v7.4h-7.6zM777.2 1046.4h14.8v7.4h-14.8zM857.4 1046.4h22.4v7.4h-22.4zM926.5 1046.4h7.4v7.4h-7.4zM974.6 1046.4h7.4v7.4h-7.4zM992 1046.4h7.6v7.4h-7.6zM1157.1 1046.4h14.8v7.4h-14.8zM736.6 1053.6h7.4v7.4h-7.4zM769.8 1053.6h15v7.4h-15zM809.4 1053.6h7.6v7.4h-7.6zM824.1 1053.6h14.8v7.4h-14.8zM850 1053.6h22.4v7.4h-22.4zM879.5 1053.6h7.4v7.4h-7.4zM992 1053.6h7.6v7.4h-7.6zM1062.2 1053.6h14.8v7.4h-14.8zM1109.1 1053.6h7.6v7.4h-7.6zM1135 1053.6h7.6v7.4h-7.6zM1149.8 1053.6h7.6v7.4h-7.6zM729.2 1060.7h7.6v7.2h-7.6zM769.8 1060.7h7.6v7.2h-7.6zM816.8 1060.7h22.1v7.2h-22.1zM872.1 1060.7h7.6v7.2h-7.6zM919.1 1060.7h7.6v7.2h-7.6zM967.2 1060.7h14.8v7.2h-14.8zM1047.4 1060.7h7.6v7.2h-7.6zM1062.2 1060.7h7.6v7.2h-7.6zM1135 1060.7h7.6v7.2h-7.6zM1149.8 1060.7h7.6v7.2h-7.6z" fill="#6a176e" shape-rendering="crispEdges"/>
<path d="M769.8 614h7.6v7.6h-7.6zM911.8 614h7.6v7.6h-7.6zM1101.8 614h7.6v7.6h-7.6zM857.4 621.4h7.6v7.6h-7.6zM959.8 621.4h7.6v7.6h-7.6zM1054.8 621.4h7.6v7.6h-7.6zM1101.8 621.4h7.6v7.6h-7.6zM714.5 628.8h7.6v7.6h-7.6zM755.1 628.8h7.6v7.6h-7.6zM897 628.8h7.6v7.6h-7.6zM945.1 628.8h7.6v7.6h-7.6zM1006.8 636.2h7.6v7.6h-7.6zM1149.8 636.2h7.6v7.6h-7.6zM809.4 661h7.6v7.6h-7.6zM872.1 661h7.6v7.6h-7.6zM945.1 661h7.6v7.6h-7.6zM1021.6 661h7.4v7.6h-7.4zM1149.8 661h7.6v7.6h-7.6zM721.8 668.4h7.6v7.6h-7.6zM809.4 668.4h15v7.6h-15zM911.8 668.4h7.6v7.6h-7.6zM1054.8 668.4h7.6v7.6h-7.6zM1135 668.4h7.6v7.6h-7.6zM1149.8 668.4h7.6v7.6h-7.6zM1109.1 675.8h7.6v7.6h-7.6zM707.1 683.1h15v7.6h-15zM850 683.1h22.4v7.6h-22.4zM911.8 683.1h7.6v7.6h-7.6zM992 683.1h7.6v7.6h-7.6zM762.5 690.5h7.6v7.4h-7.6zM850 690.5h7.6v7.4h-7.6zM1101.8 690.5h7.6v7.4h-7.6zM707.1 714.4h7.6v7.6h-7.6zM864.8 714.4h7.6v7.6h-7.6zM911.8 714.4h7.6v7.6h-7.6zM952.5 714.4h7.6v7.6h-7.6zM1006.8 714.4h7.6v7.6h-7.6zM1149.8 714.4h7.6v7.6h-7.6zM911.8 721.8h7.6v7.6h-7.6zM1087 721.8h7.6v7.6h-7.6zM1142.4 721.8h7.6v7.6h-7.6zM769.8 729.2h7.6v7.6h-7.6zM857.4 729.2h7.6v7.6h-7.6zM959.8 729.2h7.6v7.6h-7.6zM999.4 729.2h15v7.6h-15zM1054.8 729.2h7.6v7.6h-7.6zM1087 729.2h7.6v7.6h-7.6zM1135 729.2h7.6v7.6h-7.6zM857.4 736.6h15v7.4h-15zM1094.4 736.6h7.6v7.4h-7.6zM1135 736.6h7.6v7.4h-7.6zM714.5 754h7.6v7.6h-7.6zM1047.4 754h7.6v7.6h-7.6zM1087 754h7.6v7.6h-7.6zM1101.8 754h7.6v7.6h-7.6zM721.8 761.4h7.6v7.6h-7.6zM769.8 761.4h7.6v7.6h-7.6zM864.8 761.4h7.6v7.6h-7.6zM904.4 761.4h7.6v7.6h-7.6zM1047.4 761.4h7.6v7.6h-7.6zM1087 761.4h7.6v7.6h-7.6zM1101.8 761.4h7.6v7.6h-7.6zM769.8 768.8h7.6v7.6h-7.6zM784.6 768.8h7.4v7.6h-7.4zM802 768.8h7.6v7.6h-7.6zM864.8 768.8h7.6v7.6h-7.6zM897 768.8h7.6v7.6h-7.6zM919.1 768.8h7.6v7.6h-7.6zM999.4 768.8h7.6v7.6h-7.6zM1087 768.8h7.6v7.6h-7.6zM1101.8 768.8h7.6v7.6h-7.6zM809.4 776.1h7.6v7.6h-7.6zM911.8 776.1h7.6v7.6h-7.6zM926.5 776.1h7.4v7.6h-7.4zM992 776.1h7.6v7.6h-7.6zM1047.4 776.1h15v7.6h-15zM1094.4 776.1h7.6v7.6h-7.6zM864.8 783.5h7.6v7.4h-7.6zM1087 783.5h7.6v7.4h-7.6zM1142.4 783.5h7.6v7.4h-7.6zM769.8 801h15v7.4h-15zM816.8 801h7.6v7.4h-7.6zM992 801h7.6v7.4h-7.6zM1021.6 801h7.4v7.4h-7.4zM1062.2 801h7.6v7.4h-7.6zM816.8 808.2h7.6v7.4h-7.6zM864.8 808.2h7.6v7.4h-7.6zM926.5 808.2h7.4v7.4h-7.4zM1006.8 808.2h7.6v7.4h-7.6zM1054.8 808.2h7.6v7.4h-7.6zM952.5 815.4h7.6v7.4h-7.6zM1069.6 815.4h7.4v7.4h-7.4zM1109.1 815.4h7.6v7.4h-7.6zM1157.1 815.4h7.6v7.4h-7.6zM721.8 822.5h15v7.4h-15zM777.2 822.5h14.8v7.4h-14.8zM816.8 822.5h15v7.4h-15zM879.5 822.5h7.4v7.4h-7.4zM952.5 822.5h7.6v7.4h-7.6zM1006.8 822.5h7.6v7.4h-7.6zM1142.4 822.5h7.6v7.4h-7.6zM1157.1 822.5h7.6v7.4h-7.6zM816.8 829.7h7.6v7.2h-7.6zM857.4 829.7h15v7.2h-15zM1047.4 829.7h7.6v7.2h-7.6zM1101.8 829.7h7.6v7.2h-7.6zM864.8 847.1h7.6v7.6h-7.6zM945.1 847.1h15v7.6h-15zM1006.8 847.1h7.6v7.6h-7.6zM1054.8 847.1h7.6v7.6h-7.6zM1087 847.1h7.6v7.6h-7.6zM1101.8 847.1h7.6v7.6h-7.6zM1149.8 847.1h7.6v7.6h-7.6zM721.8 854.5h7.6v7.6h-7.6zM769.8 854.5h7.6v7.6h-7.6zM816.8 854.5h7.6v7.6h-7.6zM864.8 854.5h7.6v7.6h-7.6zM945.1 854.5h15v7.6h-15zM1006.8 854.5h7.6v7.6h-7.6zM1040 854.5h15v7.6h-15zM1087 854.5h7.6v7.6h-7.6zM1101.8 854.5h7.6v7.6h-7.6zM1135 854.5h7.6v7.6h-7.6zM1149.8 854.5h15v7.6h-15zM721.8 861.8h7.6v7.6h-7.6zM769.8 861.8h15v7.6h-15zM864.8 861.8h7.6v7.6h-7.6zM919.1 861.8h14.8v7.6h-14.8zM1040 861.8h7.6v7.6h-7.6zM1135 861.8h7.6v7.6h-7.6zM1149.8 861.8h7.6v7.6h-7.6zM769.8 869.2h7.6v7.6h-7.6zM802 869.2h15v7.6h-15zM897 869.2h7.6v7.6h-7.6zM1006.8 869.2h7.6v7.6h-7.6zM1142.4 869.2h7.6v7.6h-7.6zM721.8 876.5h7.6v7.4h-7.6zM777.2 876.5h7.6v7.4h-7.6zM857.4 876.5h7.6v7.4h-7.6zM945.1 876.5h7.6v7.4h-7.6zM967.2 876.5h7.6v7.4h-7.6zM1006.8 876.5h7.6v7.4h-7.6zM1094.4 876.5h7.6v7.4h-7.6zM1135 876.5h15v7.4h-15zM777.2 894h7.6v7.6h-7.6zM959.8 894h7.6v7.6h-7.6zM1101.8 894h7.6v7.6h-7.6zM1142.4 894h7.6v7.6h-7.6zM707.1 901.4h7.6v7.6h-7.6zM721.8 901.4h15v7.6h-15zM769.8 901.4h7.6v7.6h-7.6zM802 901.4h7.6v7.6h-7.6zM872.1 901.4h7.6v7.6h-7.6zM945.1 901.4h7.6v7.6h-7.6zM1006.8 901.4h7.6v7.6h-7.6zM1094.4 901.4h7.6v7.6h-7.6zM1135 901.4h15v7.6h-15zM707.1 908.8h7.6v7.6h-7.6zM762.5 908.8h15v7.6h-15zM809.4 908.8h7.6v7.6h-7.6zM1087 908.8h7.6v7.6h-7.6zM1101.8 908.8h7.6v7.6h-7.6zM1116.5 908.8h7.4v7.6h-7.4zM1135 908.8h7.6v7.6h-7.6zM729.2 916.2h7.6v7.6h-7.6zM872.1 916.2h7.6v7.6h-7.6zM1021.6 916.2h7.4v7.6h-7.4zM1040 916.2h7.6v7.6h-7.6zM1069.6 916.2h7.4v7.6h-7.4zM755.1 923.6h7.6v7.4h-7.6zM809.4 923.6h7.6v7.4h-7.6zM857.4 923.6h7.6v7.4h-7.6zM959.8 923.6h7.6v7.4h-7.6zM999.4 923.6h15v7.4h-15zM1062.2 923.6h7.6v7.4h-7.6zM1109.1 923.6h7.6v7.4h-7.6zM824.1 939.1h14.8v7.6h-14.8zM864.8 939.1h7.6v7.6h-7.6zM904.4 939.1h7.6v7.6h-7.6zM919.1 939.1h7.6v7.6h-7.6zM967.2 939.1h7.6v7.6h-7.6zM999.4 939.1h7.6v7.6h-7.6zM1101.8 939.1h7.6v7.6h-7.6zM762.5 946.5h7.6v7.6h-7.6zM824.1 946.5h7.6v7.6h-7.6zM1054.8 946.5h7.6v7.6h-7.6zM1087 946.5h7.6v7.6h-7.6zM1142.4 946.5h7.6v7.6h-7.6zM777.2 953.8h7.6v7.6h-7.6zM959.8 953.8h7.6v7.6h-7.6zM1054.8 953.8h7.6v7.6h-7.6zM1087 953.8h7.6v7.6h-7.6zM1149.8 953.8h7.6v7.6h-7.6zM707.1 961.2h7.6v7.6h-7.6zM850 961.2h15v7.6h-15zM879.5 961.2h7.4v7.6h-7.4zM904.4 961.2h7.6v7.6h-7.6zM919.1 961.2h7.6v7.6h-7.6zM959.8 961.2h7.6v7.6h-7.6zM1054.8 961.2h7.6v7.6h-7.6zM762.5 968.5h15v7.4h-15zM904.4 968.5h15v7.4h-15zM945.1 968.5h7.6v7.4h-7.6zM1069.6 968.5h7.4v7.4h-7.4zM721.8 985h7.6v7.6h-7.6zM777.2 985h7.6v7.6h-7.6zM919.1 985h7.6v7.6h-7.6zM967.2 985h7.6v7.6h-7.6zM1006.8 985h7.6v7.6h-7.6zM1094.4 985h7.6v7.6h-7.6zM721.8 992.4h15v7.6h-15zM816.8 992.4h7.6v7.6h-7.6zM919.1 992.4h7.6v7.6h-7.6zM1006.8 992.4h7.6v7.6h-7.6zM1149.8 992.4h7.6v7.6h-7.6zM824.1 999.7h7.6v7.6h-7.6zM872.1 999.7h7.6v7.6h-7.6zM897 999.7h22.4v7.6h-22.4zM945.1 999.7h7.6v7.6h-7.6zM967.2 999.7h7.6v7.6h-7.6zM1087 999.7h7.6v7.6h-7.6zM1142.4 999.7h7.6v7.6h-7.6zM1164.5 999.7h7.4v7.6h-7.4zM721.8 1007.1h7.6v7.6h-7.6zM992 1007.1h15v7.6h-15zM1142.4 1007.1h7.6v7.6h-7.6zM721.8 1014.4h7.6v7.4h-7.6zM755.1 1014.4h15v7.4h-15zM824.1 1014.4h7.6v7.4h-7.6zM864.8 1014.4h15v7.4h-15zM911.8 1014.4h7.6v7.4h-7.6zM945.1 1014.4h7.6v7.4h-7.6zM999.4 1014.4h15v7.4h-15zM1087 1014.4h15v7.4h-15zM721.8 1032.1h7.6v7.4h-7.6zM755.1 1032.1h15v7.4h-15zM864.8 1032.1h7.6v7.4h-7.6zM879.5 1032.1h7.4v7.4h-7.4zM926.5 1032.1h7.4v7.4h-7.4zM959.8 1032.1h7.6v7.4h-7.6zM1006.8 1032.1h7.6v7.4h-7.6zM1062.2 1032.1h7.6v7.4h-7.6zM1101.8 1032.1h7.6v7.4h-7.6zM721.8 1039.3h7.6v7.4h-7.6zM857.4 1039.3h7.6v7.4h-7.6zM897 1039.3h7.6v7.4h-7.6zM919.1 1039.3h7.6v7.4h-7.6zM945.1 1039.3h7.6v7.4h-7.6zM1021.6 1039.3h7.4v7.4h-7.4zM1116.5 1039.3h7.4v7.4h-7.4zM729.2 1046.4h7.6v7.4h-7.6zM769.8 1046.4h7.6v7.4h-7.6zM850 1046.4h7.6v7.4h-7.6zM904.4 1046.4h7.6v7.4h-7.6zM967.2 1046.4h7.6v7.4h-7.6zM999.4 1046.4h7.6v7.4h-7.6zM1047.4 1046.4h22.4v7.4h-22.4zM1116.5 1046.4h7.4v7.4h-7.4zM1142.4 1046.4h15v7.4h-15zM729.2 1053.6h7.6v7.4h-7.6zM762.5 1053.6h7.6v7.4h-7.6zM897 1053.6h22.4v7.4h-22.4zM999.4 1053.6h7.6v7.4h-7.6zM1101.8 1053.6h7.6v7.4h-7.6zM1142.4 1053.6h7.6v7.4h-7.6zM736.6 1060.7h7.4v7.2h-7.4zM879.5 1060.7h7.4v7.2h-7.4zM959.8 1060.7h7.6v7.2h-7.6zM999.4 1060.7h7.6v7.2h-7.6zM1069.6 1060.7h7.4v7.2h-7.4zM1101.8 1060.7h15v7.2h-15z" fill="#972766" shape-rendering="crispEdges"/>
<path d="M1047.4 614h7.6v7.6h-7.6zM762.5 621.4h7.6v7.6h-7.6zM850 621.4h7.6v7.6h-7.6zM904.4 621.4h7.6v7.6h-7.6zM945.1 621.4h15v7.6h-15zM1094.4 621.4h7.6v7.6h-7.6zM816.8 628.8h7.6v7.6h-7.6zM857.4 628.8h7.6v7.6h-7.6zM1087 628.8h15v7.6h-15zM1149.8 628.8h7.6v7.6h-7.6zM999.4 636.2h7.6v7.6h-7.6zM824.1 643.6h7.6v7.4h-7.6zM992 643.6h15v7.4h-15zM1157.1 643.6h7.6v7.4h-7.6zM721.8 661h7.6v7.6h-7.6zM1040 661h7.6v7.6h-7.6zM1047.4 668.4h7.6v7.6h-7.6zM707.1 675.8h15v7.6h-15zM1101.8 675.8h7.6v7.6h-7.6zM1142.4 675.8h7.6v7.6h-7.6zM762.5 683.1h7.6v7.6h-7.6zM1101.8 683.1h15v7.6h-15zM1142.4 683.1h7.6v7.6h-7.6zM919.1 690.5h7.6v7.4h-7.6zM1109.1 690.5h7.6v7.4h-7.6zM729.2 707h7.6v7.6h-7.6zM945.1 707h7.6v7.6h-7.6zM721.8 714.4h7.6v7.6h-7.6zM945.1 714.4h7.6v7.6h-7.6zM1101.8 714.4h7.6v7.6h-7.6zM707.1 721.8h15v7.6h-15zM762.5 721.8h7.6v7.6h-7.6zM816.8 721.8h7.6v7.6h-7.6zM897 721.8h7.6v7.6h-7.6zM1006.8 721.8h7.6v7.6h-7.6zM762.5 729.2h7.6v7.6h-7.6zM864.8 729.2h7.6v7.6h-7.6zM952.5 729.2h7.6v7.6h-7.6zM769.8 736.6h7.6v7.4h-7.6zM824.1 736.6h7.6v7.4h-7.6zM952.5 736.6h7.6v7.4h-7.6zM1006.8 736.6h7.6v7.4h-7.6zM1062.2 736.6h7.6v7.4h-7.6zM919.1 754h14.8v7.6h-14.8zM952.5 754h7.6v7.6h-7.6zM1040 754h7.6v7.6h-7.6zM1149.8 754h7.6v7.6h-7.6zM802 761.4h7.6v7.6h-7.6zM872.1 761.4h7.6v7.6h-7.6zM919.1 761.4h14.8v7.6h-14.8zM959.8 761.4h7.6v7.6h-7.6zM999.4 761.4h7.6v7.6h-7.6zM809.4 768.8h15v7.6h-15zM911.8 768.8h7.6v7.6h-7.6zM1149.8 768.8h7.6v7.6h-7.6zM1164.5 768.8h7.4v7.6h-7.4zM1149.8 776.1h7.6v7.6h-7.6zM777.2 783.5h7.6v7.4h-7.6zM1047.4 783.5h7.6v7.4h-7.6zM784.6 801h7.4v7.4h-7.4zM857.4 801h7.6v7.4h-7.6zM911.8 801h7.6v7.4h-7.6zM926.5 801h7.4v7.4h-7.4zM1069.6 801h7.4v7.4h-7.4zM919.1 808.2h7.6v7.4h-7.6zM1069.6 808.2h7.4v7.4h-7.4zM1135 808.2h7.6v7.4h-7.6zM714.5 815.4h7.6v7.4h-7.6zM824.1 815.4h7.6v7.4h-7.6zM864.8 815.4h7.6v7.4h-7.6zM904.4 815.4h7.6v7.4h-7.6zM1135 815.4h15v7.4h-15zM714.5 822.5h7.6v7.4h-7.6zM864.8 822.5h7.6v7.4h-7.6zM1069.6 822.5h7.4v7.4h-7.4zM1101.8 822.5h7.6v7.4h-7.6zM721.8 829.7h7.6v7.2h-7.6zM784.6 829.7h7.4v7.2h-7.4zM897 829.7h7.6v7.2h-7.6zM1040 829.7h7.6v7.2h-7.6zM1054.8 829.7h7.6v7.2h-7.6zM1135 847.1h7.6v7.6h-7.6zM762.5 854.5h7.6v7.6h-7.6zM809.4 854.5h7.6v7.6h-7.6zM1062.2 854.5h14.8v7.6h-14.8zM784.6 861.8h7.4v7.6h-7.4zM952.5 861.8h7.6v7.6h-7.6zM1006.8 861.8h7.6v7.6h-7.6zM1087 861.8h7.6v7.6h-7.6zM1101.8 861.8h7.6v7.6h-7.6zM864.8 869.2h7.6v7.6h-7.6zM1094.4 869.2h7.6v7.6h-7.6zM729.2 876.5h7.6v7.4h-7.6zM769.8 876.5h7.6v7.4h-7.6zM1087 876.5h7.6v7.4h-7.6zM872.1 894h14.8v7.6h-14.8zM911.8 894h7.6v7.6h-7.6zM952.5 894h7.6v7.6h-7.6zM999.4 894h7.6v7.6h-7.6zM1116.5 894h7.4v7.6h-7.4zM714.5 901.4h7.6v7.6h-7.6zM816.8 901.4h7.6v7.6h-7.6zM857.4 901.4h7.6v7.6h-7.6zM952.5 901.4h15v7.6h-15zM872.1 908.8h7.6v7.6h-7.6zM1006.8 908.8h7.6v7.6h-7.6zM1069.6 908.8h7.4v7.6h-7.4zM769.8 916.2h7.6v7.6h-7.6zM911.8 916.2h7.6v7.6h-7.6zM959.8 916.2h7.6v7.6h-7.6zM1006.8 916.2h7.6v7.6h-7.6zM1054.8 916.2h7.6v7.6h-7.6zM1101.8 916.2h15v7.6h-15zM879.5 923.6h7.4v7.4h-7.4zM952.5 923.6h7.6v7.4h-7.6zM707.1 939.1h7.6v7.6h-7.6zM784.6 939.1h7.4v7.6h-7.4zM911.8 939.1h7.6v7.6h-7.6zM1062.2 939.1h7.6v7.6h-7.6zM707.1 946.5h7.6v7.6h-7.6zM857.4 946.5h7.6v7.6h-7.6zM1006.8 946.5h7.6v7.6h-7.6zM1094.4 946.5h7.6v7.6h-7.6zM1116.5 946.5h7.4v7.6h-7.4zM1164.5 946.5h7.4v7.6h-7.4zM784.6 953.8h7.4v7.6h-7.4zM1157.1 953.8h14.8v7.6h-14.8zM777.2 961.2h7.6v7.6h-7.6zM809.4 961.2h7.6v7.6h-7.6zM945.1 961.2h15v7.6h-15zM1047.4 961.2h7.6v7.6h-7.6zM1109.1 961.2h7.6v7.6h-7.6zM1157.1 961.2h7.6v7.6h-7.6zM850 968.5h7.6v7.4h-7.6zM897 968.5h7.6v7.4h-7.6zM1040 968.5h7.6v7.4h-7.6zM1094.4 968.5h7.6v7.4h-7.6zM1157.1 968.5h7.6v7.4h-7.6zM974.6 985h7.4v7.6h-7.4zM1149.8 985h7.6v7.6h-7.6zM755.1 992.4h7.6v7.6h-7.6zM809.4 992.4h7.6v7.6h-7.6zM967.2 992.4h14.8v7.6h-14.8zM1164.5 992.4h7.4v7.6h-7.4zM721.8 999.7h7.6v7.6h-7.6zM755.1 999.7h7.6v7.6h-7.6zM1047.4 999.7h7.6v7.6h-7.6zM1101.8 999.7h7.6v7.6h-7.6zM755.1 1007.1h15v7.6h-15zM824.1 1007.1h7.6v7.6h-7.6zM967.2 1007.1h7.6v7.6h-7.6zM1047.4 1007.1h7.6v7.6h-7.6zM1087 1007.1h7.6v7.6h-7.6zM1109.1 1007.1h7.6v7.6h-7.6zM714.5 1014.4h7.6v7.4h-7.6zM857.4 1014.4h7.6v7.4h-7.6zM992 1014.4h7.6v7.4h-7.6zM1101.8 1014.4h15v7.4h-15zM1135 1014.4h7.6v7.4h-7.6zM897 1032.1h15v7.4h-15zM919.1 1032.1h7.6v7.4h-7.6zM952.5 1032.1h7.6v7.4h-7.6zM1116.5 1032.1h7.4v7.4h-7.4zM1135 1032.1h15v7.4h-15zM755.1 1039.3h7.6v7.4h-7.6zM802 1039.3h7.6v7.4h-7.6zM816.8 1039.3h7.6v7.4h-7.6zM911.8 1039.3h7.6v7.4h-7.6zM1006.8 1039.3h7.6v7.4h-7.6zM1040 1039.3h7.6v7.4h-7.6zM1054.8 1039.3h7.6v7.4h-7.6zM1142.4 1039.3h7.6v7.4h-7.6zM721.8 1046.4h7.6v7.4h-7.6zM762.5 1046.4h7.6v7.4h-7.6zM802 1046.4h7.6v7.4h-7.6zM824.1 1046.4h7.6v7.4h-7.6zM919.1 1046.4h7.6v7.4h-7.6zM1101.8 1046.4h15v7.4h-15zM721.8 1053.6h7.6v7.4h-7.6zM755.1 1053.6h7.6v7.4h-7.6zM802 1053.6h7.6v7.4h-7.6zM1116.5 1053.6h7.4v7.4h-7.4zM714.5 1060.7h15v7.2h-15zM809.4 1060.7h7.6v7.2h-7.6zM1006.8 1060.7h15v7.2h-15zM1040 1060.7h7.6v7.2h-7.6z" fill="#ca404a" shape-rendering="crispEdges"/>
<path d="M714.5 614h7.6v7.6h-7.6zM714.5 621.4h7.6v7.6h-7.6zM755.1 621.4h7.6v7.6h-7.6zM897 621.4h7.6v7.6h-7.6zM999.4 621.4h7.6v7.6h-7.6zM707.1 628.8h7.6v7.6h-7.6zM999.4 628.8h7.6v7.6h-7.6zM831.5 643.6h7.4v7.4h-7.4zM1164.5 643.6h7.4v7.4h-7.4zM762.5 661h7.6v7.6h-7.6zM864.8 661h7.6v7.6h-7.6zM1109.1 661h7.6v7.6h-7.6zM707.1 668.4h7.6v7.6h-7.6zM857.4 668.4h7.6v7.6h-7.6zM850 675.8h7.6v7.6h-7.6zM911.8 675.8h7.6v7.6h-7.6zM959.8 683.1h7.6v7.6h-7.6zM1135 683.1h7.6v7.6h-7.6zM926.5 690.5h7.4v7.4h-7.4zM707.1 707h7.6v7.6h-7.6zM824.1 707h7.6v7.6h-7.6zM1094.4 707h7.6v7.6h-7.6zM1109.1 707h7.6v7.6h-7.6zM1142.4 707h7.6v7.6h-7.6zM1087 714.4h7.6v7.6h-7.6zM864.8 721.8h7.6v7.6h-7.6zM904.4 721.8h7.6v7.6h-7.6zM1021.6 721.8h7.4v7.6h-7.4zM1054.8 721.8h7.6v7.6h-7.6zM755.1 729.2h7.6v7.6h-7.6zM824.1 729.2h7.6v7.6h-7.6zM945.1 729.2h7.6v7.6h-7.6zM1094.4 729.2h7.6v7.6h-7.6zM831.5 736.6h7.4v7.4h-7.4zM872.1 736.6h7.6v7.4h-7.6zM1069.6 736.6h7.4v7.4h-7.4zM1087 736.6h7.6v7.4h-7.6zM802 754h7.6v7.6h-7.6zM999.4 754h7.6v7.6h-7.6zM1164.5 754h7.4v7.6h-7.4zM777.2 761.4h7.6v7.6h-7.6zM809.4 761.4h7.6v7.6h-7.6zM1157.1 761.4h14.8v7.6h-14.8zM777.2 768.8h7.6v7.6h-7.6zM992 768.8h7.6v7.6h-7.6zM1047.4 768.8h7.6v7.6h-7.6zM1157.1 768.8h7.6v7.6h-7.6zM777.2 776.1h7.6v7.6h-7.6zM864.8 776.1h7.6v7.6h-7.6zM1157.1 776.1h7.6v7.6h-7.6zM872.1 783.5h14.8v7.4h-14.8zM1157.1 783.5h7.6v7.4h-7.6zM809.4 801h7.6v7.4h-7.6zM959.8 801h7.6v7.4h-7.6zM1087 801h7.6v7.4h-7.6zM857.4 808.2h7.6v7.4h-7.6zM1062.2 808.2h7.6v7.4h-7.6zM1094.4 808.2h7.6v7.4h-7.6zM1054.8 815.4h7.6v7.4h-7.6zM802 822.5h15v7.4h-15zM904.4 822.5h7.6v7.4h-7.6zM959.8 822.5h7.6v7.4h-7.6zM714.5 829.7h7.6v7.2h-7.6zM802 829.7h15v7.2h-15zM952.5 829.7h7.6v7.2h-7.6zM967.2 829.7h7.6v7.2h-7.6zM1062.2 829.7h14.8v7.2h-14.8zM1094.4 829.7h7.6v7.2h-7.6zM777.2 847.1h7.6v7.6h-7.6zM857.4 847.1h7.6v7.6h-7.6zM1069.6 847.1h7.4v7.6h-7.4zM729.2 854.5h7.6v7.6h-7.6zM802 861.8h15v7.6h-15zM1069.6 861.8h7.4v7.6h-7.4zM721.8 869.2h7.6v7.6h-7.6zM777.2 869.2h7.6v7.6h-7.6zM857.4 869.2h7.6v7.6h-7.6zM1062.2 869.2h14.8v7.6h-14.8zM850 876.5h7.6v7.4h-7.6zM992 876.5h15v7.4h-15zM1047.4 876.5h7.6v7.4h-7.6zM1062.2 876.5h7.6v7.4h-7.6zM864.8 894h7.6v7.6h-7.6zM919.1 894h7.6v7.6h-7.6zM1062.2 894h14.8v7.6h-14.8zM762.5 901.4h7.6v7.6h-7.6zM879.5 901.4h7.4v7.6h-7.4zM911.8 901.4h7.6v7.6h-7.6zM1116.5 901.4h7.4v7.6h-7.4zM755.1 908.8h7.6v7.6h-7.6zM755.1 916.2h15v7.6h-15zM809.4 916.2h7.6v7.6h-7.6zM952.5 916.2h7.6v7.6h-7.6zM999.4 916.2h7.6v7.6h-7.6zM714.5 939.1h15v7.6h-15zM769.8 939.1h15v7.6h-15zM1149.8 939.1h7.6v7.6h-7.6zM1164.5 939.1h7.4v7.6h-7.4zM714.5 946.5h15v7.6h-15zM864.8 946.5h7.6v7.6h-7.6zM904.4 946.5h7.6v7.6h-7.6zM959.8 946.5h7.6v7.6h-7.6zM1109.1 946.5h7.6v7.6h-7.6zM1157.1 946.5h7.6v7.6h-7.6zM714.5 953.8h7.6v7.6h-7.6zM729.2 953.8h7.6v7.6h-7.6zM911.8 953.8h7.6v7.6h-7.6zM945.1 953.8h15v7.6h-15zM1047.4 953.8h7.6v7.6h-7.6zM1116.5 953.8h7.4v7.6h-7.4zM714.5 961.2h7.6v7.6h-7.6zM897 961.2h7.6v7.6h-7.6zM1040 961.2h7.6v7.6h-7.6zM1116.5 961.2h7.4v7.6h-7.4zM802 968.5h7.6v7.4h-7.6zM816.8 968.5h7.6v7.4h-7.6zM1109.1 968.5h7.6v7.4h-7.6zM755.1 985h7.6v7.6h-7.6zM897 985h7.6v7.6h-7.6zM952.5 985h7.6v7.6h-7.6zM1054.8 985h7.6v7.6h-7.6zM769.8 992.4h7.6v7.6h-7.6zM824.1 992.4h7.6v7.6h-7.6zM872.1 992.4h7.6v7.6h-7.6zM904.4 992.4h15v7.6h-15zM999.4 992.4h7.6v7.6h-7.6zM762.5 999.7h7.6v7.6h-7.6zM816.8 999.7h7.6v7.6h-7.6zM831.5 999.7h7.4v7.6h-7.4zM864.8 999.7h7.6v7.6h-7.6zM999.4 999.7h7.6v7.6h-7.6zM1116.5 999.7h7.4v7.6h-7.4zM1135 999.7h7.6v7.6h-7.6zM816.8 1007.1h7.6v7.6h-7.6zM879.5 1007.1h7.4v7.6h-7.4zM1054.8 1007.1h7.6v7.6h-7.6zM707.1 1014.4h7.6v7.4h-7.6zM1047.4 1014.4h7.6v7.4h-7.6zM809.4 1032.1h7.6v7.4h-7.6zM1021.6 1032.1h7.4v7.4h-7.4zM864.8 1039.3h7.6v7.4h-7.6zM952.5 1039.3h15v7.4h-15zM1006.8 1046.4h15v7.4h-15zM1040 1046.4h7.6v7.4h-7.6zM1087 1046.4h7.6v7.4h-7.6zM816.8 1053.6h7.6v7.4h-7.6zM952.5 1053.6h15v7.4h-15zM1006.8 1053.6h7.6v7.4h-7.6zM707.1 1060.7h7.6v7.2h-7.6zM762.5 1060.7h7.6v7.2h-7.6zM952.5 1060.7h7.6v7.2h-7.6z" fill="#eb6628" shape-rendering="crispEdges"/>
<path d="M824.1 614h7.6v7.6h-7.6zM857.4 614h7.6v7.6h-7.6zM999.4 614h7.6v7.6h-7.6zM1094.4 614h7.6v7.6h-7.6zM1157.1 614h7.6v7.6h-7.6zM707.1 621.4h7.6v7.6h-7.6zM992 621.4h7.6v7.6h-7.6zM824.1 628.8h7.6v7.6h-7.6zM850 628.8h7.6v7.6h-7.6zM824.1 636.2h14.8v7.6h-14.8zM992 636.2h7.6v7.6h-7.6zM1157.1 636.2h14.8v7.6h-14.8zM755.1 661h7.6v7.6h-7.6zM919.1 661h7.6v7.6h-7.6zM992 661h7.6v7.6h-7.6zM714.5 668.4h7.6v7.6h-7.6zM755.1 668.4h15v7.6h-15zM850 668.4h7.6v7.6h-7.6zM762.5 675.8h7.6v7.6h-7.6zM919.1 675.8h7.6v7.6h-7.6zM1021.6 675.8h7.4v7.6h-7.4zM1116.5 675.8h7.4v7.6h-7.4zM1135 675.8h7.6v7.6h-7.6zM919.1 683.1h14.8v7.6h-14.8zM755.1 690.5h7.6v7.4h-7.6zM831.5 707h7.4v7.6h-7.4zM872.1 707h7.6v7.6h-7.6zM1021.6 707h7.4v7.6h-7.4zM1062.2 707h7.6v7.6h-7.6zM824.1 714.4h14.8v7.6h-14.8zM897 714.4h15v7.6h-15zM1014.2 714.4h14.8v7.6h-14.8zM1142.4 714.4h7.6v7.6h-7.6zM824.1 721.8h7.6v7.6h-7.6zM952.5 721.8h7.6v7.6h-7.6zM1014.2 721.8h7.6v7.6h-7.6zM1101.8 721.8h7.6v7.6h-7.6zM1135 721.8h7.6v7.6h-7.6zM1062.2 729.2h14.8v7.6h-14.8zM762.5 736.6h7.6v7.4h-7.6zM784.6 754h7.4v7.6h-7.4zM809.4 754h7.6v7.6h-7.6zM872.1 754h14.8v7.6h-14.8zM1157.1 754h7.6v7.6h-7.6zM992 761.4h7.6v7.6h-7.6zM1040 761.4h7.6v7.6h-7.6zM1094.4 761.4h7.6v7.6h-7.6zM872.1 768.8h14.8v7.6h-14.8zM1094.4 768.8h7.6v7.6h-7.6zM784.6 776.1h7.4v7.6h-7.4zM1040 776.1h7.6v7.6h-7.6zM1164.5 776.1h7.4v7.6h-7.4zM784.6 783.5h7.4v7.4h-7.4zM802 801h7.6v7.4h-7.6zM919.1 801h7.6v7.4h-7.6zM967.2 801h7.6v7.4h-7.6zM1135 801h7.6v7.4h-7.6zM809.4 808.2h7.6v7.4h-7.6zM959.8 808.2h15v7.4h-15zM1087 808.2h7.6v7.4h-7.6zM857.4 815.4h7.6v7.4h-7.6zM897 815.4h7.6v7.4h-7.6zM707.1 822.5h7.6v7.4h-7.6zM850 822.5h15v7.4h-15zM1054.8 822.5h7.6v7.4h-7.6zM1087 822.5h15v7.4h-15zM850 829.7h7.6v7.2h-7.6zM911.8 829.7h7.6v7.2h-7.6zM1087 829.7h7.6v7.2h-7.6zM1135 829.7h7.6v7.2h-7.6zM729.2 847.1h14.8v7.6h-14.8zM769.8 847.1h7.6v7.6h-7.6zM784.6 847.1h7.4v7.6h-7.4zM850 847.1h7.6v7.6h-7.6zM784.6 854.5h7.4v7.6h-7.4zM802 854.5h7.6v7.6h-7.6zM857.4 854.5h7.6v7.6h-7.6zM992 854.5h7.6v7.6h-7.6zM729.2 861.8h14.8v7.6h-14.8zM857.4 861.8h7.6v7.6h-7.6zM1142.4 861.8h7.6v7.6h-7.6zM850 869.2h7.6v7.6h-7.6zM999.4 869.2h7.6v7.6h-7.6zM736.6 876.5h7.4v7.4h-7.4zM1054.8 876.5h7.6v7.4h-7.6zM707.1 894h15v7.6h-15zM802 894h7.6v7.6h-7.6zM926.5 894h7.4v7.6h-7.4zM1109.1 894h7.6v7.6h-7.6zM926.5 901.4h7.4v7.6h-7.4zM999.4 901.4h7.6v7.6h-7.6zM959.8 908.8h7.6v7.6h-7.6zM999.4 908.8h7.6v7.6h-7.6zM926.5 916.2h7.4v7.6h-7.4zM992 916.2h7.6v7.6h-7.6zM919.1 923.6h14.8v7.4h-14.8zM945.1 923.6h7.6v7.4h-7.6zM1054.8 939.1h7.6v7.6h-7.6zM1116.5 939.1h7.4v7.6h-7.4zM1157.1 939.1h7.6v7.6h-7.6zM784.6 946.5h7.4v7.6h-7.4zM911.8 946.5h7.6v7.6h-7.6zM945.1 946.5h7.6v7.6h-7.6zM1047.4 946.5h7.6v7.6h-7.6zM872.1 953.8h7.6v7.6h-7.6zM911.8 961.2h7.6v7.6h-7.6zM1149.8 961.2h7.6v7.6h-7.6zM784.6 968.5h7.4v7.4h-7.4zM1101.8 968.5h7.6v7.4h-7.6zM1116.5 968.5h7.4v7.4h-7.4zM816.8 985h7.6v7.6h-7.6zM904.4 985h7.6v7.6h-7.6zM999.4 985h7.6v7.6h-7.6zM1101.8 985h7.6v7.6h-7.6zM707.1 992.4h7.6v7.6h-7.6zM1054.8 992.4h7.6v7.6h-7.6zM1135 992.4h7.6v7.6h-7.6zM879.5 999.7h7.4v7.6h-7.4zM992 999.7h7.6v7.6h-7.6zM1006.8 999.7h7.6v7.6h-7.6zM1069.6 999.7h7.4v7.6h-7.4zM714.5 1007.1h7.6v7.6h-7.6zM831.5 1007.1h7.4v7.6h-7.4zM864.8 1007.1h7.6v7.6h-7.6zM879.5 1014.4h7.4v7.4h-7.4zM952.5 1014.4h7.6v7.4h-7.6zM1062.2 1014.4h7.6v7.4h-7.6zM1054.8 1032.1h7.6v7.4h-7.6zM1109.1 1032.1h7.6v7.4h-7.6zM1014.2 1039.3h7.6v7.4h-7.6zM1149.8 1039.3h7.6v7.4h-7.6zM809.4 1046.4h15v7.4h-15zM959.8 1046.4h7.6v7.4h-7.6zM1021.6 1046.4h7.4v7.4h-7.4zM1094.4 1046.4h7.6v7.4h-7.6zM714.5 1053.6h7.6v7.4h-7.6zM1021.6 1053.6h7.4v7.4h-7.4zM1040 1053.6h15v7.4h-15zM897 1060.7h7.6v7.2h-7.6zM911.8 1060.7h7.6v7.2h-7.6z" fill="#fb9b06" shape-rendering="crispEdges"/>
<path d="M831.5 614h7.4v7.6h-7.4zM945.1 614h7.6v7.6h-7.6zM1164.5 614h7.4v7.6h-7.4zM1087 621.4h7.6v7.6h-7.6zM1157.1 628.8h7.6v7.6h-7.6zM714.5 661h7.6v7.6h-7.6zM850 661h7.6v7.6h-7.6zM926.5 661h7.4v7.6h-7.4zM1047.4 661h7.6v7.6h-7.6zM1116.5 661h7.4v7.6h-7.4zM974.6 668.4h7.4v7.6h-7.4zM1109.1 668.4h7.6v7.6h-7.6zM1142.4 668.4h7.6v7.6h-7.6zM755.1 683.1h7.6v7.6h-7.6zM1116.5 683.1h7.4v7.6h-7.4zM1116.5 690.5h7.4v7.4h-7.4zM721.8 707h7.6v7.6h-7.6zM879.5 707h7.4v7.6h-7.4zM1014.2 707h7.6v7.6h-7.6zM1069.6 707h7.4v7.6h-7.4zM1087 707h7.6v7.6h-7.6zM714.5 714.4h7.6v7.6h-7.6zM879.5 714.4h7.4v7.6h-7.4zM1062.2 714.4h7.6v7.6h-7.6zM1094.4 714.4h7.6v7.6h-7.6zM1135 714.4h7.6v7.6h-7.6zM872.1 721.8h14.8v7.6h-14.8zM945.1 721.8h7.6v7.6h-7.6zM1062.2 721.8h7.6v7.6h-7.6zM1094.4 721.8h7.6v7.6h-7.6zM831.5 729.2h7.4v7.6h-7.4zM879.5 736.6h7.4v7.4h-7.4zM1014.2 736.6h14.8v7.4h-14.8zM777.2 754h7.6v7.6h-7.6zM784.6 761.4h7.4v7.6h-7.4zM879.5 761.4h7.4v7.6h-7.4zM872.1 776.1h7.6v7.6h-7.6zM974.6 801h7.4v7.4h-7.4zM850 808.2h7.6v7.4h-7.6zM802 815.4h15v7.4h-15zM974.6 815.4h7.4v7.4h-7.4zM1021.6 815.4h7.4v7.4h-7.4zM959.8 829.7h7.6v7.2h-7.6zM816.8 847.1h7.6v7.6h-7.6zM999.4 847.1h7.6v7.6h-7.6zM736.6 854.5h7.4v7.6h-7.4zM777.2 854.5h7.6v7.6h-7.6zM850 854.5h7.6v7.6h-7.6zM1094.4 854.5h7.6v7.6h-7.6zM1142.4 854.5h7.6v7.6h-7.6zM1094.4 861.8h7.6v7.6h-7.6zM729.2 869.2h7.6v7.6h-7.6zM784.6 869.2h7.4v7.6h-7.4zM992 869.2h7.6v7.6h-7.6zM926.5 876.5h7.4v7.4h-7.4zM1069.6 876.5h7.4v7.4h-7.4zM762.5 894h15v7.6h-15zM809.4 894h7.6v7.6h-7.6zM992 894h7.6v7.6h-7.6zM755.1 901.4h7.6v7.6h-7.6zM911.8 908.8h7.6v7.6h-7.6zM926.5 908.8h7.4v7.6h-7.4zM945.1 908.8h7.6v7.6h-7.6zM919.1 916.2h7.6v7.6h-7.6zM945.1 916.2h7.6v7.6h-7.6zM1116.5 916.2h7.4v7.6h-7.4zM992 923.6h7.6v7.4h-7.6zM857.4 939.1h7.6v7.6h-7.6zM952.5 939.1h15v7.6h-15zM1047.4 939.1h7.6v7.6h-7.6zM952.5 946.5h7.6v7.6h-7.6zM1040 946.5h7.6v7.6h-7.6zM802 953.8h7.6v7.6h-7.6zM857.4 968.5h7.6v7.4h-7.6zM707.1 985h15v7.6h-15zM831.5 985h7.4v7.6h-7.4zM872.1 985h14.8v7.6h-14.8zM1062.2 985h14.8v7.6h-14.8zM1109.1 985h7.6v7.6h-7.6zM1142.4 985h7.6v7.6h-7.6zM714.5 992.4h7.6v7.6h-7.6zM831.5 992.4h7.4v7.6h-7.4zM992 992.4h7.6v7.6h-7.6zM1062.2 992.4h7.6v7.6h-7.6zM707.1 999.7h7.6v7.6h-7.6zM1054.8 999.7h7.6v7.6h-7.6zM707.1 1007.1h7.6v7.6h-7.6zM872.1 1007.1h7.6v7.6h-7.6zM1101.8 1007.1h7.6v7.6h-7.6zM1054.8 1014.4h7.6v7.4h-7.6zM1069.6 1014.4h7.4v7.4h-7.4zM714.5 1032.1h7.6v7.4h-7.6zM802 1032.1h7.6v7.4h-7.6zM816.8 1032.1h7.6v7.4h-7.6zM1014.2 1032.1h7.6v7.4h-7.6zM1040 1032.1h15v7.4h-15zM707.1 1039.3h7.6v7.4h-7.6zM879.5 1039.3h7.4v7.4h-7.4zM945.1 1046.4h7.6v7.4h-7.6zM707.1 1053.6h7.6v7.4h-7.6zM945.1 1053.6h7.6v7.4h-7.6zM1087 1053.6h15v7.4h-15zM945.1 1060.7h7.6v7.2h-7.6zM1116.5 1060.7h7.4v7.2h-7.4z" fill="#f6d746" shape-rendering="crispEdges"/>
<path d="M707.1 614h7.6v7.6h-7.6zM755.1 614h15v7.6h-15zM850 614h7.6v7.6h-7.6zM897 614h15v7.6h-15zM952.5 614h15v7.6h-15zM992 614h7.6v7.6h-7.6zM1054.8 614h7.6v7.6h-7.6zM1087 614h7.6v7.6h-7.6zM824.1 621.4h14.8v7.6h-14.8zM1157.1 621.4h14.8v7.6h-14.8zM831.5 628.8h7.4v7.6h-7.4zM992 628.8h7.6v7.6h-7.6zM1164.5 628.8h7.4v7.6h-7.4zM707.1 661h7.6v7.6h-7.6zM816.8 661h7.6v7.6h-7.6zM857.4 661h7.6v7.6h-7.6zM1054.8 661h7.6v7.6h-7.6zM1142.4 661h7.6v7.6h-7.6zM919.1 668.4h14.8v7.6h-14.8zM1021.6 668.4h7.4v7.6h-7.4zM1116.5 668.4h7.4v7.6h-7.4zM755.1 675.8h7.6v7.6h-7.6zM926.5 675.8h7.4v7.6h-7.4zM974.6 675.8h7.4v7.6h-7.4zM1006.8 683.1h7.6v7.6h-7.6zM714.5 707h7.6v7.6h-7.6zM897 707h22.4v7.6h-22.4zM1101.8 707h7.6v7.6h-7.6zM1135 707h7.6v7.6h-7.6zM872.1 714.4h7.6v7.6h-7.6zM1069.6 714.4h7.4v7.6h-7.4zM831.5 721.8h7.4v7.6h-7.4zM1069.6 721.8h7.4v7.6h-7.4zM872.1 729.2h14.8v7.6h-14.8zM1014.2 729.2h14.8v7.6h-14.8zM755.1 736.6h7.6v7.4h-7.6zM945.1 736.6h7.6v7.4h-7.6zM721.8 754h7.6v7.6h-7.6zM769.8 754h7.6v7.6h-7.6zM816.8 754h7.6v7.6h-7.6zM911.8 754h7.6v7.6h-7.6zM959.8 754h7.6v7.6h-7.6zM992 754h7.6v7.6h-7.6zM1094.4 754h7.6v7.6h-7.6zM911.8 761.4h7.6v7.6h-7.6zM1040 768.8h7.6v7.6h-7.6zM879.5 776.1h7.4v7.6h-7.4zM1040 783.5h7.6v7.4h-7.6zM1164.5 783.5h7.4v7.4h-7.4zM850 801h7.6v7.4h-7.6zM784.6 808.2h7.4v7.4h-7.4zM802 808.2h7.6v7.4h-7.6zM974.6 808.2h7.4v7.4h-7.4zM1021.6 808.2h7.4v7.4h-7.4zM850 815.4h7.6v7.4h-7.6zM919.1 815.4h7.6v7.4h-7.6zM959.8 815.4h15v7.4h-15zM1062.2 815.4h7.6v7.4h-7.6zM1087 815.4h15v7.4h-15zM1149.8 815.4h7.6v7.4h-7.6zM967.2 822.5h14.8v7.4h-14.8zM1062.2 822.5h7.6v7.4h-7.6zM707.1 829.7h7.6v7.2h-7.6zM974.6 829.7h7.4v7.2h-7.4zM802 847.1h15v7.6h-15zM992 847.1h7.6v7.6h-7.6zM1062.2 847.1h7.6v7.6h-7.6zM1094.4 847.1h7.6v7.6h-7.6zM1142.4 847.1h7.6v7.6h-7.6zM999.4 854.5h7.6v7.6h-7.6zM850 861.8h7.6v7.6h-7.6zM945.1 861.8h7.6v7.6h-7.6zM992 861.8h15v7.6h-15zM736.6 869.2h7.4v7.6h-7.4zM926.5 869.2h7.4v7.6h-7.4zM784.6 876.5h7.4v7.4h-7.4zM721.8 894h7.6v7.6h-7.6zM755.1 894h7.6v7.6h-7.6zM1135 894h7.6v7.6h-7.6zM919.1 901.4h7.6v7.6h-7.6zM992 901.4h7.6v7.6h-7.6zM1069.6 901.4h7.4v7.6h-7.4zM802 908.8h7.6v7.6h-7.6zM919.1 908.8h7.6v7.6h-7.6zM952.5 908.8h7.6v7.6h-7.6zM992 908.8h7.6v7.6h-7.6zM879.5 916.2h7.4v7.6h-7.4zM1116.5 923.6h7.4v7.4h-7.4zM945.1 939.1h7.6v7.6h-7.6zM1006.8 939.1h7.6v7.6h-7.6zM1040 939.1h7.6v7.6h-7.6zM1109.1 939.1h7.6v7.6h-7.6zM707.1 953.8h7.6v7.6h-7.6zM824.1 953.8h7.6v7.6h-7.6zM850 953.8h7.6v7.6h-7.6zM904.4 953.8h7.6v7.6h-7.6zM1040 953.8h7.6v7.6h-7.6zM784.6 961.2h7.4v7.6h-7.4zM1164.5 961.2h7.4v7.6h-7.4zM1164.5 968.5h7.4v7.4h-7.4zM762.5 985h15v7.6h-15zM824.1 985h7.6v7.6h-7.6zM911.8 985h7.6v7.6h-7.6zM992 985h7.6v7.6h-7.6zM1116.5 985h7.4v7.6h-7.4zM1135 985h7.6v7.6h-7.6zM762.5 992.4h7.6v7.6h-7.6zM879.5 992.4h7.4v7.6h-7.4zM1069.6 992.4h7.4v7.6h-7.4zM1109.1 992.4h14.8v7.6h-14.8zM1142.4 992.4h7.6v7.6h-7.6zM714.5 999.7h7.6v7.6h-7.6zM1062.2 999.7h7.6v7.6h-7.6zM1109.1 999.7h7.6v7.6h-7.6zM945.1 1007.1h7.6v7.6h-7.6zM1062.2 1007.1h14.8v7.6h-14.8zM1116.5 1007.1h7.4v7.6h-7.4zM831.5 1014.4h7.4v7.4h-7.4zM1116.5 1014.4h7.4v7.4h-7.4zM707.1 1032.1h7.6v7.4h-7.6zM1149.8 1032.1h7.6v7.4h-7.6zM714.5 1039.3h7.6v7.4h-7.6zM809.4 1039.3h7.6v7.4h-7.6zM1047.4 1039.3h7.6v7.4h-7.6zM707.1 1046.4h15v7.4h-15zM879.5 1046.4h7.4v7.4h-7.4zM897 1046.4h7.6v7.4h-7.6zM952.5 1046.4h7.6v7.4h-7.6zM1014.2 1053.6h7.6v7.4h-7.6zM1054.8 1053.6h7.6v7.4h-7.6zM755.1 1060.7h7.6v7.2h-7.6zM802 1060.7h7.6v7.2h-7.6zM1021.6 1060.7h7.4v7.2h-7.4zM1087 1060.7h15v7.2h-15z" fill="#fcffa4" shape-rendering="crispEdges"/>
<rect x="730.3" y="1099.4" width="18.9" height="41" fill="url(#inferno)" stroke="#000" stroke-width="1.2"/>
<text x="759.9" y="1108.2">1</text>
<text x="759.9" y="1146.8">0</text>
<text transform="translate(788.5 1127.4) scale(0.999 1)">Activity (normalized)</text>
<text transform="translate(1234 553) scale(1.08 1)" font-size="31" font-weight="bold" stroke="#000" stroke-width="2.0" stroke-linejoin="miter">j</text>
<text transform="translate(1344.9 553.7) scale(1.024 1)">Location tuning</text>
<text transform="translate(1252.4 745.2) rotate(-90) scale(1.018 1)">Proportion of</text>
<text transform="translate(1282.8 761.4) rotate(-90) scale(1.016 1)">location neurons</text>
<text transform="translate(1313.4 684.7) rotate(-90) scale(1.007 1)">(%)</text>
<rect x="1374.3" y="593.9" width="25.6" height="156.8" fill="#000"/>
<rect x="1404.1" y="677" width="25.7" height="73.7" fill="#000"/>
<rect x="1434.2" y="732.8" width="25.7" height="17.9" fill="#000"/>
<rect x="1464.4" y="747.3" width="25.6" height="3.4" fill="#000"/>
<path d="M1372.6 593.9V750.7H1492.5" fill="none" stroke="#333" stroke-width="1.1"/>
<text x="1362.3" y="603.2" text-anchor="end">60</text>
<text x="1362.3" y="758.5" text-anchor="end">0</text>
<text x="1387" y="777.4" text-anchor="middle">1</text>
<text x="1416.5" y="777.4" text-anchor="middle">2</text>
<text x="1446.8" y="777.4" text-anchor="middle">3</text>
<text x="1476.8" y="777.4" text-anchor="middle">4</text>
<text transform="translate(1372.3 813.4) scale(1.020 1)">Number of</text>
<text transform="translate(1397.9 842.6) scale(1.016 1)">peaks</text>
<text transform="translate(1609 553) scale(1.08 1)" font-size="31" font-weight="bold" stroke="#000" stroke-width="2.0" stroke-linejoin="miter">k</text>
<text transform="translate(1644 574.4) scale(0.994 1)">Peak</text>
<text transform="translate(1621.3 604.5) scale(1.035 1)">locations</text>
<rect x="1625.1" y="661" width="24.3" height="24.3" fill="#800000"/>
<rect x="1649.1" y="661" width="24.3" height="24.3" fill="#ffb60a"/>
<rect x="1673.1" y="661" width="24.3" height="24.3" fill="#ffb60a"/>
<rect x="1697.1" y="661" width="24.3" height="24.3" fill="#800000"/>
<rect x="1625.1" y="685" width="24.3" height="24.3" fill="#ffa500"/>
<rect x="1649.1" y="685" width="24.3" height="24.3" fill="#5cffa8"/>
<rect x="1673.1" y="685" width="24.3" height="24.3" fill="#6bff94"/>
<rect x="1697.1" y="685" width="24.3" height="24.3" fill="#ffb60a"/>
<rect x="1625.1" y="709" width="24.3" height="24.3" fill="#ffa500"/>
<rect x="1649.1" y="709" width="24.3" height="24.3" fill="#70ff8a"/>
<rect x="1673.1" y="709" width="24.3" height="24.3" fill="#94ff63"/>
<rect x="1697.1" y="709" width="24.3" height="24.3" fill="#ffe100"/>
<rect x="1625.1" y="733" width="24.3" height="24.3" fill="#ff3d00"/>
<rect x="1649.1" y="733" width="24.3" height="24.3" fill="#b4ff43"/>
<rect x="1673.1" y="733" width="24.3" height="24.3" fill="#c8ff30"/>
<rect x="1697.1" y="733" width="24.3" height="24.3" fill="#ff8c00"/>
<rect x="1735.3" y="646.4" width="18.2" height="122.6" fill="url(#jet)" stroke="#000" stroke-width="1.3"/>
<text x="1763.5" y="655">15</text>
<text x="1763" y="776.5">0</text>
<text transform="translate(1837 660.2) rotate(90) scale(0.988 1)">Neurons</text>
<text transform="translate(1805.8 689.1) rotate(90) scale(0.974 1)">(%)</text>
<text transform="translate(1910.3 553) scale(1.08 1)" font-size="31" font-weight="bold" stroke="#000" stroke-width="2.0" stroke-linejoin="miter">l</text>
<text transform="translate(1940.6 579.6) scale(1.007 1)">104,333 cells</text>
<text transform="translate(1923.2 632.1) scale(1.030 1)" fill="#1414ff">Temporal tuning</text>
<text transform="translate(1927.2 829) scale(1.032 1)" fill="#ff0a0a">Location tuning</text>
<ellipse cx="2014.3" cy="723.8" rx="71.8" ry="78.2" fill="#6666ff" stroke="#000" stroke-width="1.1"/>
<ellipse cx="2059.4" cy="723.6" rx="38.8" ry="42.3" fill="#ff6666"/>
<ellipse cx="2059.4" cy="723.6" rx="38.8" ry="42.3" fill="#c42966" clip-path="url(#venn)"/>
<ellipse cx="2014.3" cy="723.8" rx="71.8" ry="78.2" fill="none" stroke="#000" stroke-width="0.6" opacity="0.7"/>
<ellipse cx="2059.4" cy="723.6" rx="38.8" ry="42.3" fill="none" stroke="#000" stroke-width="1.1"/>
<text transform="translate(1950.7 733.3) scale(1.023 1)" font-size="21">58.8%</text>
<text transform="translate(2024.8 724.1) scale(1.004 1)" font-size="21">19.9%</text>
<text x="2100.2" y="716.8" font-size="21">2.9%</text>
<text transform="translate(1233.5 903.2) scale(1.08 1)" font-size="31" font-weight="bold" stroke="#000" stroke-width="2.0" stroke-linejoin="miter">m</text>
<text transform="translate(1341.2 904.4) scale(1.025 1)">Temporal tuning</text>
<text transform="translate(1382.7 933.4) scale(1.001 1)">similarity</text>
<text transform="translate(1253.8 1118.9) rotate(-90) scale(1.034 1)">Proportion of</text>
<text transform="translate(1284.4 1134.3) rotate(-90) scale(1.016 1)">location neurons</text>
<text transform="translate(1315.6 1057) rotate(-90) scale(1.015 1)">(%)</text>
<rect x="1419" y="1114.8" width="8.5" height="2.8" fill="#000"/>
<rect x="1427.3" y="1062.1" width="9.1" height="55.5" fill="#000"/>
<rect x="1436.2" y="993.1" width="8.8" height="124.5" fill="#000"/>
<rect x="1444.8" y="994.3" width="9" height="123.3" fill="#000"/>
<rect x="1453.6" y="1005.7" width="8.8" height="111.9" fill="#000"/>
<rect x="1462.2" y="1023.8" width="8.8" height="93.8" fill="#000"/>
<rect x="1470.8" y="1041.2" width="8.8" height="76.4" fill="#000"/>
<rect x="1479.4" y="1076.2" width="8.8" height="41.4" fill="#000"/>
<path d="M1379.8 963.7H1372.1V1117.5H1492V1110" fill="none" stroke="#000" stroke-width="1.3"/>
<text x="1362.3" y="972.3" text-anchor="end">25</text>
<text x="1362.3" y="1125.8" text-anchor="end">0</text>
<text transform="translate(1358.9 1146.2) scale(0.880 1)">–1</text>
<text x="1431.9" y="1146.2" text-anchor="middle">0</text>
<text x="1491.5" y="1146.2" text-anchor="middle">1</text>
<text transform="translate(1319.1 1180.7) scale(1.016 1)">Tuning correlation, <tspan font-style="italic">r</tspan></text>
<text transform="translate(1340.1 1210.2) scale(1.020 1)">across locations</text>
<text transform="translate(1609.1 903.2) scale(1.08 1)" font-size="31" font-weight="bold" stroke="#000" stroke-width="2.0" stroke-linejoin="miter">n</text>
<text transform="translate(1757 904.4) scale(0.998 1)">Tuning similarity versus</text>
<text transform="translate(1773.6 933.6) scale(1.019 1)">anatomical distance</text>
<text transform="translate(1637.4 1080.9) rotate(-90) scale(1.030 1)">Tuning</text>
<text transform="translate(1668 1111.6) rotate(-90) scale(1.051 1)">correlation, <tspan font-style="italic">r</tspan></text>
<path d="M1748.9 1052.9L1754.6 1051.5 1800.4 1051.2 1865.4 1051.5 1865.4 1061.9 1800.4 1061.6 1754.6 1061.9 1748.9 1063.3Z" fill="#e2e2e2" opacity="1.0" stroke="none"/>
<path d="M1748.9 1052.9L1754.6 1051.5 1800.4 1051.2 1865.4 1051.5" fill="none" stroke="#c8c8c8" stroke-width="2.1" stroke-linejoin="round"/>
<path d="M1748.9 1063.3L1754.6 1061.9 1800.4 1061.6 1865.4 1061.9" fill="none" stroke="#c8c8c8" stroke-width="2.1" stroke-linejoin="round"/>
<path d="M1748.9 1058.1L1754.6 1056.7 1800.4 1056.4 1865.4 1056.7" fill="none" stroke="#6e6e6e" stroke-width="1" stroke-linejoin="round"/>
<path d="M1748.9 960L1750.6 972.3 1753.2 992.4 1756 1009.5 1760.3 1016.7 1764.6 1023.9 1768.9 1031 1777.5 1039.6 1786.1 1046.8 1800.4 1051.9 1817.6 1055.9 1829 1058.2 1843.3 1061.1 1857.7 1062.8 1865.7 1064.8 1865.7 1072 1857.7 1070 1843.3 1068.3 1829 1065.4 1817.6 1063.1 1800.4 1059.1 1786.1 1054 1777.5 1046.8 1768.9 1038.2 1764.6 1031.1 1760.3 1023.9 1756 1016.7 1753.2 999.6 1750.6 979.5 1748.9 967.2Z" fill="#ffa6ff" opacity="1.0" stroke="none"/>
<path d="M1748.9 960L1750.6 972.3 1753.2 992.4 1756 1009.5 1760.3 1016.7 1764.6 1023.9 1768.9 1031 1777.5 1039.6 1786.1 1046.8 1800.4 1051.9 1817.6 1055.9 1829 1058.2 1843.3 1061.1 1857.7 1062.8 1865.7 1064.8" fill="none" stroke="#ff80ff" stroke-width="2.1" stroke-linejoin="round"/>
<path d="M1748.9 967.2L1750.6 979.5 1753.2 999.6 1756 1016.7 1760.3 1023.9 1764.6 1031.1 1768.9 1038.2 1777.5 1046.8 1786.1 1054 1800.4 1059.1 1817.6 1063.1 1829 1065.4 1843.3 1068.3 1857.7 1070 1865.7 1072" fill="none" stroke="#ff80ff" stroke-width="2.1" stroke-linejoin="round"/>
<path d="M1748.9 963.6L1750.6 975.9 1753.2 996 1756 1013.1 1760.3 1020.3 1764.6 1027.5 1768.9 1034.6 1777.5 1043.2 1786.1 1050.4 1800.4 1055.5 1817.6 1059.5 1829 1061.8 1843.3 1064.7 1857.7 1066.4 1865.7 1068.4" fill="none" stroke="#ff00ff" stroke-width="1.3" stroke-linejoin="round"/>
<path d="M1756 963.7H1748V1117.5H1866.3V1110M1807 1117.5V1110M1748 1117.5H1756" fill="none" stroke="#000" stroke-width="1.3"/>
<text x="1734.5" y="972.3" text-anchor="end">0.25</text>
<text x="1737.6" y="1125.8" text-anchor="end">0</text>
<text x="1740.9" y="1146.2" text-anchor="middle">0</text>
<text x="1806.9" y="1146.2" text-anchor="middle">250</text>
<text x="1866" y="1146.2" text-anchor="middle">500</text>
<text transform="translate(1751.7 1182.9) scale(1.009 1)">Euclidean</text>
<text transform="translate(1732.1 1212.5) scale(0.995 1)">distance (µm)</text>
<text transform="translate(1772.9 1102.7) scale(1.015 1)" font-size="21" fill="#9a9a9a">Shuffled</text>
<path d="M1970.7 983.9L1975 1021.1 1979.8 1046.9 1989.9 1058.9 2009.3 1065.5 2023.6 1072.7 2037.9 1079.8 2052.3 1082.7 2074.3 1089 2074.3 1107.4 2052.3 1101.1 2037.9 1098.2 2023.6 1091.1 2009.3 1083.9 1989.9 1077.3 1979.8 1065.3 1975 1039.5 1970.7 1002.3Z" fill="#ffc8c8" opacity="1.0" stroke="none"/>
<path d="M1970.7 983.9L1975 1021.1 1979.8 1046.9 1989.9 1058.9 2009.3 1065.5 2023.6 1072.7 2037.9 1079.8 2052.3 1082.7 2074.3 1089" fill="none" stroke="#ff8c8c" stroke-width="2.1" stroke-linejoin="round"/>
<path d="M1970.7 1002.3L1975 1039.5 1979.8 1065.3 1989.9 1077.3 2009.3 1083.9 2023.6 1091.1 2037.9 1098.2 2052.3 1101.1 2074.3 1107.4" fill="none" stroke="#ff8c8c" stroke-width="2.1" stroke-linejoin="round"/>
<path d="M1970.7 993.1L1975 1030.3 1979.8 1056.1 1989.9 1068.1 2009.3 1074.7 2023.6 1081.9 2037.9 1089 2052.3 1091.9 2074.3 1098.2" fill="none" stroke="#ff1010" stroke-width="1.3" stroke-linejoin="round"/>
<path d="M1955.8 1009.5L1985 1010.9 2015 1008.9 2044.2 1055.3 2074.3 1069 2074.3 1090.6 2044.2 1076.9 2015 1030.5 1985 1032.5 1955.8 1031.1Z" fill="#d0d0ff" opacity="0.92" stroke="none"/>
<path d="M1955.8 1009.5L1985 1010.9 2015 1008.9 2044.2 1055.3 2074.3 1069" fill="none" stroke="#8585ff" stroke-width="2.1" stroke-linejoin="round"/>
<path d="M1955.8 1031.1L1985 1032.5 2015 1030.5 2044.2 1076.9 2074.3 1090.6" fill="none" stroke="#8585ff" stroke-width="2.1" stroke-linejoin="round"/>
<path d="M1955.8 1020.3L1985 1021.7 2015 1019.7 2044.2 1066.1 2074.3 1079.8" fill="none" stroke="#0a0aff" stroke-width="1.3" stroke-linejoin="round"/>
<path d="M1963.5 963.7H1955.8V1117.5H2074.3V1110M2015 1117.5V1110" fill="none" stroke="#000" stroke-width="1.3"/>
<line x1="1955.8" y1="1117.5" x2="1963.5" y2="1117.5" stroke="#000" stroke-width="1.3"/>
<text x="1946.5" y="972.3" text-anchor="end">0.25</text>
<text x="1946.5" y="1125.8" text-anchor="end">0.10</text>
<text x="1948.9" y="1146.2" text-anchor="middle">0</text>
<text x="2010.8" y="1146.2" text-anchor="middle">60</text>
<text x="2074.6" y="1146.2" text-anchor="middle">120</text>
<text transform="translate(1950.6 1182.9) scale(1.005 1)">Axial/lateral</text>
<text transform="translate(1939.6 1212.5) scale(0.999 1)">distance (µm)</text>
<text transform="translate(1980.7 983.9) scale(0.970 1)" font-size="21" fill="#5a5aff">Axial</text>
<text transform="translate(1958.9 1107.6) scale(1.021 1)" font-size="21" fill="#ff4a4a">Lateral</text>
</svg></body></html>
